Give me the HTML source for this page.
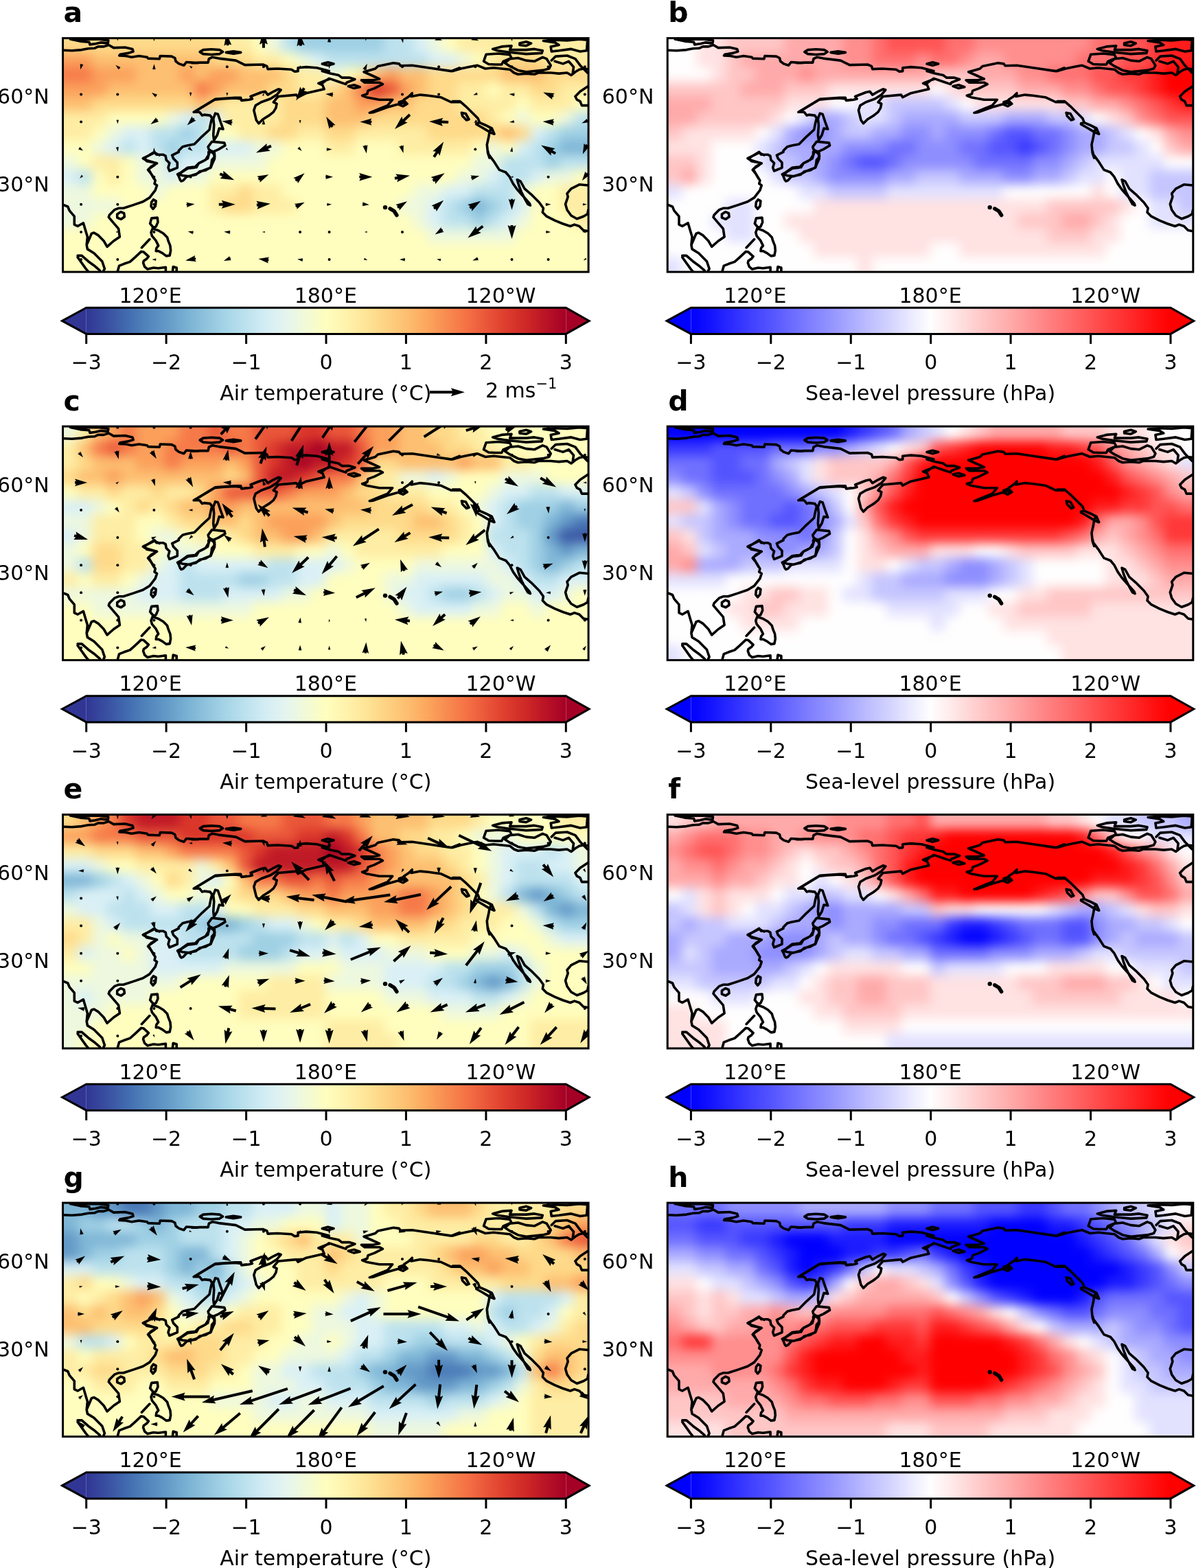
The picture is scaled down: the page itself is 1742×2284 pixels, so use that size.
<!DOCTYPE html><html><head><meta charset="utf-8"><style>
html,body{margin:0;padding:0;background:#fff;}
svg{display:block;}
text{font-family:'DejaVu Sans', 'Liberation Sans', sans-serif;fill:#000;}
rect.c,g[filter] rect{width:21.9px;height:21.9px;}
</style></head><body>
<svg xmlns="http://www.w3.org/2000/svg" xmlns:xlink="http://www.w3.org/1999/xlink" width="1742" height="2284" viewBox="0 0 1742 2284">
<defs>
<linearGradient id="gt" x1="0" x2="1" y1="0" y2="0"><stop offset="0.0%" stop-color="#313695"/><stop offset="4.2%" stop-color="#394fa1"/><stop offset="8.3%" stop-color="#416aaf"/><stop offset="12.5%" stop-color="#5183bb"/><stop offset="16.7%" stop-color="#6399c7"/><stop offset="20.8%" stop-color="#78b0d3"/><stop offset="25.0%" stop-color="#90c3dd"/><stop offset="29.2%" stop-color="#a6d5e7"/><stop offset="33.3%" stop-color="#bde2ee"/><stop offset="37.5%" stop-color="#d4edf4"/><stop offset="41.7%" stop-color="#e5f5ef"/><stop offset="45.8%" stop-color="#f2fad6"/><stop offset="50.0%" stop-color="#fffebe"/><stop offset="54.2%" stop-color="#fff2ac"/><stop offset="58.3%" stop-color="#fee597"/><stop offset="62.5%" stop-color="#fed283"/><stop offset="66.7%" stop-color="#fdbf71"/><stop offset="70.8%" stop-color="#fca85e"/><stop offset="75.0%" stop-color="#f88c51"/><stop offset="79.2%" stop-color="#f57245"/><stop offset="83.3%" stop-color="#ea5739"/><stop offset="87.5%" stop-color="#dd3d2d"/><stop offset="91.7%" stop-color="#ce2827"/><stop offset="95.8%" stop-color="#b91326"/><stop offset="100.0%" stop-color="#a50026"/></linearGradient>
<linearGradient id="gp" x1="0" x2="1" y1="0" y2="0"><stop offset="0.0%" stop-color="#0000ff"/><stop offset="4.2%" stop-color="#1414ff"/><stop offset="8.3%" stop-color="#2a2aff"/><stop offset="12.5%" stop-color="#4040ff"/><stop offset="16.7%" stop-color="#5454ff"/><stop offset="20.8%" stop-color="#6a6aff"/><stop offset="25.0%" stop-color="#8080ff"/><stop offset="29.2%" stop-color="#9494ff"/><stop offset="33.3%" stop-color="#aaaaff"/><stop offset="37.5%" stop-color="#c0c0ff"/><stop offset="41.7%" stop-color="#d4d4ff"/><stop offset="45.8%" stop-color="#eaeaff"/><stop offset="50.0%" stop-color="#fffefe"/><stop offset="54.2%" stop-color="#ffeaea"/><stop offset="58.3%" stop-color="#ffd4d4"/><stop offset="62.5%" stop-color="#ffbebe"/><stop offset="66.7%" stop-color="#ffaaaa"/><stop offset="70.8%" stop-color="#ff9494"/><stop offset="75.0%" stop-color="#ff7e7e"/><stop offset="79.2%" stop-color="#ff6a6a"/><stop offset="83.3%" stop-color="#ff5454"/><stop offset="87.5%" stop-color="#ff3e3e"/><stop offset="91.7%" stop-color="#ff2a2a"/><stop offset="95.8%" stop-color="#ff1414"/><stop offset="100.0%" stop-color="#ff0000"/></linearGradient>
<path id="coast" d="M1.4,17.6 13.3,18.2 27.6,17.0 37.1,15.2 46.6,14.6 51.4,12.3 59.7,12.3 66.8,9.9 74.0,14.0 90.7,13.4 101.4,15.8 102.6,19.4 95.4,21.8 83.5,23.6 82.3,25.4 91.8,25.9 100.2,27.7 110.9,25.9 122.8,27.7 124.0,29.5 140.7,30.1 141.8,25.9 158.5,26.5 163.3,28.9 164.5,33.7 169.2,37.3 176.4,39.6 179.9,34.9 188.3,35.5 197.8,36.1M187.8,36.1 199.7,35.5 211.6,35.5 212.8,30.1 217.6,27.7 227.1,29.5 252.1,32.5 265.2,39.0 291.4,38.4 297.3,40.8 298.5,45.0 312.8,44.4 333.0,45.6 337.8,48.6 342.6,48.0 342.6,43.2 354.5,42.0 369.9,43.2 387.8,48.0M377.8,48.0 389.7,51.5 401.6,53.9 406.4,57.5 417.1,57.5 425.4,59.9 419.5,62.3 413.5,64.6 412.3,67.0 401.6,63.4 389.7,59.3 383.8,61.1 377.8,65.8M10.9,1.3 25.2,4.5 38.3,5.7 39.5,9.3 47.8,8.1 54.9,6.3 65.7,7.5 66.3,3.3 53.8,1.5 33.5,1.5 10.9,1.3ZM199.7,20.0 204.5,17.0 216.4,16.1 228.3,17.0 233.0,20.0 228.3,23.0 216.4,23.9 204.5,23.0 199.7,20.0ZM237.8,20.8 248.5,19.2 259.2,20.8 248.5,22.7 237.8,20.8ZM377.8,37.5 386.1,35.1 394.5,37.5 386.1,39.6 377.8,37.5ZM415.9,70.0 424.2,68.2 432.6,71.2 424.2,73.0 415.9,70.0ZM191.4,107.5 221.1,89.6 233.0,88.4 250.9,87.3 259.2,88.4 260.4,90.8 271.1,89.6 275.9,88.4 273.5,84.9 289.0,78.9 294.9,77.7 298.5,82.5 306.8,77.7 314.0,74.2 317.6,75.4 311.6,82.5 302.1,88.4 289.0,93.2 280.7,98.0 278.3,105.1 281.8,119.4 285.4,124.2 291.4,118.2 300.9,112.3 306.8,107.5 310.4,101.5 311.6,95.6 306.8,93.2 311.6,87.3 314.0,84.9 340.2,82.5 342.6,86.1 354.5,80.1 380.7,74.2 378.3,68.2 372.3,65.8 384.2,61.1 387.8,58.7M190.7,107.7 199.2,107.7 203.0,112.5 205.9,111.5 214.5,112.5 217.3,116.3 215.4,123.9 213.5,133.4 203.0,143.0 191.6,154.4 181.1,156.3 174.5,158.2 168.8,163.9 168.8,165.8 159.2,170.6 161.1,175.4 166.8,181.1 166.8,188.7 155.4,193.4 153.5,188.7 155.4,182.0 150.7,177.3 149.7,171.5 145.9,169.6 136.4,169.6 133.5,165.8 119.2,174.4 122.1,179.2 136.4,182.0 133.5,184.9 124.9,190.6 126.8,194.4 132.6,204.4M190.7,107.7 222.1,88.7 250.7,86.8 259.2,86.8 260.2,90.6 267.8,89.6M222.1,109.6 225.9,110.6 229.7,122.0 233.5,132.5 227.8,131.5 224.9,141.1 220.2,148.7 219.2,141.1 220.2,126.8 219.2,117.3 222.1,109.6ZM217.3,150.6 225.9,151.5 235.4,152.5 236.4,156.3 226.8,162.0 218.3,165.8 212.6,162.0 211.6,158.2 217.3,150.6ZM214.5,163.9 220.2,168.7 221.1,175.4 217.3,183.9 215.4,188.7 203.0,193.4 193.5,198.2 184.0,201.1 174.5,200.1 168.8,198.2 174.5,194.4 182.1,189.6 191.6,188.7 198.3,182.0 207.8,177.3 212.6,169.6 214.5,163.9ZM167.1,198.3 172.4,195.4 181.4,188.8 189.7,187.6 194.5,188.2 198.0,182.3 205.2,178.7 211.1,175.1 212.3,170.4 212.3,165.6 217.1,164.4 220.7,166.2 221.3,172.7 217.1,177.5 216.5,182.9 215.3,188.2 208.2,192.4 199.2,194.2 193.9,198.9 187.3,200.1 180.2,201.9 175.4,207.3 172.4,208.4 170.7,206.1 168.9,201.3 167.1,198.3ZM116.8,175.1 120.4,177.5 128.8,179.9 137.1,182.3 128.8,187.0 124.0,191.8 128.8,197.7 134.7,207.3 133.5,212.0 137.1,214.4 134.7,221.5 126.4,232.3 116.8,238.2 102.6,243.0 88.3,247.7 81.1,247.7 75.2,250.1 68.0,257.3 66.8,260.8 74.0,269.2 81.1,277.5 82.9,289.4 74.0,295.4 64.5,303.7 59.7,295.4 51.4,287.0 45.4,283.4 41.8,284.6 38.3,293.0 34.7,301.3 35.9,307.3 45.4,313.2 57.3,325.1 60.9,335.8 58.5,340.6M116.8,175.1 124.0,171.5 133.5,166.8 140.7,170.4M1.4,243.0 7.3,245.4 9.7,251.3 16.8,259.6 16.8,271.5 21.6,273.9 29.9,269.2 32.3,277.5 35.9,289.4 34.7,301.3M21.6,316.8 27.6,316.8 37.1,325.1 45.4,331.1 53.8,338.2 57.3,344.4 40.7,344.4 33.5,335.8 21.6,319.2M132.1,235.1 135.7,237.3 134.9,244.4 131.4,248.7 128.5,245.1 129.2,238.7 132.1,235.1ZM84.6,253.0 89.2,255.1 89.9,260.1 84.9,263.7 79.2,261.5 79.2,256.5 84.6,253.0ZM129.2,262.3 137.8,261.5 138.5,268.0 135.7,274.4 133.5,275.8 130.7,274.4 127.1,270.1 129.2,262.3ZM130.7,277.3 139.2,280.1 146.4,284.4 152.1,290.1 153.5,295.1 156.4,302.3 157.1,309.4 155.7,316.5 150.7,317.3 144.9,313.0 139.2,310.1 135.7,310.1 136.4,305.8 139.2,302.3 135.7,295.1 129.9,288.0 128.5,283.0 130.7,277.3ZM114.9,305.1 126.4,293.0M79.9,339.4 82.1,331.5 89.2,328.7 97.8,325.8 105.7,318.7 114.2,310.8 117.8,311.5 124.9,318.0 122.1,321.5 117.8,324.4 117.1,327.3 119.2,333.0 123.5,336.5 132.1,334.4 139.2,335.1 149.9,333.7 149.9,339.4M159.9,340.1 160.7,333.0 165.7,334.4 165.7,340.1M577.8,43.2 565.9,48.0 532.6,43.2 508.8,39.6 492.1,40.2 489.7,37.3 481.4,36.1 458.8,40.8 455.2,44.4 446.8,46.8 438.5,49.2 449.2,53.9 461.1,59.3 451.6,61.1 434.9,61.1 439.7,64.6 461.1,64.6 465.9,67.0 454.0,73.0 444.5,76.5 443.3,81.3 436.1,83.7 442.1,86.1 461.1,89.6 480.2,89.6 473.0,98.0 461.1,102.7 446.8,108.7 451.6,108.1 475.4,99.8 494.5,94.4 499.2,95.6 496.8,89.6 504.0,84.9 508.8,80.1 507.6,84.9 520.7,82.5 532.6,83.7 550.4,86.1 565.9,93.2 577.8,93.2M489.7,93.2 496.8,90.8 501.6,95.6 495.7,99.2 489.7,96.8 489.7,93.2ZM567.8,48.0 579.7,44.4 591.6,42.0 603.5,39.6 615.4,44.4 627.3,43.2 639.2,44.4 651.1,45.6 657.1,50.4 663.0,52.7 674.9,51.5 686.8,52.7 692.8,50.4 710.7,50.4 722.6,51.5 734.5,50.4 740.4,53.9 746.4,49.2 752.3,45.6 758.3,44.4 767.8,45.6M613.0,33.7 616.6,23.6 634.5,22.4 651.1,24.2 653.5,28.9 641.6,33.7 639.2,38.4 629.7,38.4 620.2,37.9 613.0,33.7ZM644.0,36.1 651.1,30.1 663.0,28.9 674.9,32.5 686.8,33.7 698.8,27.7 704.7,30.1 710.7,39.6 708.3,44.4 698.8,46.8 686.8,48.0 674.9,49.2 663.0,46.8 651.1,40.8 644.0,36.1ZM626.1,15.8 639.2,12.3 653.5,11.1 651.1,17.0 674.9,17.0 686.8,15.8 698.8,18.2 697.6,21.8 674.9,23.0 651.1,20.6 633.3,18.2 626.1,15.8ZM665.4,7.5 674.9,5.1 682.1,7.5 674.9,11.1 665.4,9.9 665.4,7.5ZM699.9,3.9 716.6,2.7 734.5,3.3 752.3,1.5 764.2,2.7 763.0,18.2 753.5,19.4 740.4,15.8 722.6,18.2 711.8,19.4 710.7,12.3 722.6,9.9 716.6,6.3 699.9,3.9ZM711.8,32.5 717.8,26.5 734.5,25.4 746.4,30.1 753.5,39.6 760.7,46.8 764.2,50.4M716.6,33.7 728.5,37.3 736.8,33.7 744.0,42.0 742.8,50.4M767.8,68.2 753.5,77.7 746.4,84.9 748.8,89.6 753.5,92.0 755.9,98.0 767.8,98.0M567.8,92.0 578.5,92.0 586.8,99.2 596.4,108.7 604.7,117.0 607.1,123.0 617.8,127.7 623.8,131.3 621.4,137.3 620.2,144.4 617.8,155.1 619.0,167.0 621.4,174.4M602.3,124.2 607.1,123.0 615.4,126.5 624.9,131.3 628.5,139.6 622.6,137.3 610.7,130.1 602.3,125.4ZM580.9,108.7 586.8,109.9 591.6,118.2 588.0,119.4 582.1,113.4 580.9,108.7ZM619.0,164.4 620.2,169.2 627.3,178.7 635.7,191.8 645.2,195.4 650.8,202.1 655.9,212.0 661.8,220.4 670.2,229.9 679.7,240.6 680.9,243.6 677.3,241.8 672.6,233.4 667.8,223.9 664.2,214.4 661.8,206.1 666.6,208.4 672.6,219.2 682.1,227.5 694.0,239.4 699.9,247.7 698.8,253.7 704.7,259.6 716.6,265.6 728.5,270.4 739.2,273.9 745.2,271.5 752.3,273.9 758.3,279.9 765.4,281.1M765.4,214.4 752.3,213.2 740.4,219.2 734.5,226.3 735.7,231.1 732.1,241.8 734.5,250.1 740.4,258.4 748.8,263.2 758.3,259.6 764.2,256.1 765.4,250.1" fill="none" stroke="#000" stroke-width="3.6" stroke-linejoin="round" stroke-linecap="round"/>
<filter id="blur" filterUnits="userSpaceOnUse" x="-40" y="-40" width="845.6" height="420.5" color-interpolation-filters="sRGB"><feGaussianBlur stdDeviation="8"/></filter>
<clipPath id="axclip"><rect x="0" y="0" width="765.6" height="340.5"/></clipPath>
</defs>
<rect width="1742" height="2284" fill="#fff"/>

<g transform="translate(91.50,55.60)">
<g clip-path="url(#axclip)">
<g filter="url(#blur)"><rect x="-21.3" y="-21.3" fill="#feda8a"/><rect x="0.0" y="-21.3" fill="#feda8a"/><rect x="21.3" y="-21.3" fill="#feda8a"/><rect x="42.5" y="-21.3" fill="#feda8a"/><rect x="63.8" y="-21.3" fill="#feda8a"/><rect x="85.1" y="-21.3" fill="#feda8a"/><rect x="106.3" y="-21.3" fill="#feda8a"/><rect x="127.6" y="-21.3" fill="#feda8a"/><rect x="148.9" y="-21.3" fill="#feda8a"/><rect x="170.1" y="-21.3" fill="#feda8a"/><rect x="191.4" y="-21.3" fill="#feda8a"/><rect x="212.7" y="-21.3" fill="#feda8a"/><rect x="233.9" y="-21.3" fill="#feeda4"/><rect x="255.2" y="-21.3" fill="#feeda4"/><rect x="276.5" y="-21.3" fill="#fffebe"/><rect x="297.7" y="-21.3" fill="#edf8df"/><rect x="319.0" y="-21.3" fill="#bde2ee"/><rect x="340.3" y="-21.3" fill="#9fd0e4"/><rect x="361.5" y="-21.3" fill="#9fd0e4"/><rect x="382.8" y="-21.3" fill="#9fd0e4"/><rect x="404.1" y="-21.3" fill="#9fd0e4"/><rect x="425.3" y="-21.3" fill="#9fd0e4"/><rect x="446.6" y="-21.3" fill="#9fd0e4"/><rect x="467.9" y="-21.3" fill="#bde2ee"/><rect x="489.1" y="-21.3" fill="#bde2ee"/><rect x="510.4" y="-21.3" fill="#daf0f6"/><rect x="531.7" y="-21.3" fill="#edf8df"/><rect x="552.9" y="-21.3" fill="#fffebe"/><rect x="574.2" y="-21.3" fill="#feeda4"/><rect x="595.5" y="-21.3" fill="#feeda4"/><rect x="616.7" y="-21.3" fill="#feeda4"/><rect x="638.0" y="-21.3" fill="#feeda4"/><rect x="659.3" y="-21.3" fill="#feeda4"/><rect x="680.5" y="-21.3" fill="#feeda4"/><rect x="701.8" y="-21.3" fill="#feeda4"/><rect x="723.1" y="-21.3" fill="#feeda4"/><rect x="744.3" y="-21.3" fill="#feeda4"/><rect x="765.6" y="-21.3" fill="#feeda4"/><rect x="-21.3" y="0.0" fill="#feda8a"/><rect x="0.0" y="0.0" fill="#feda8a"/><rect x="21.3" y="0.0" fill="#feda8a"/><rect x="42.5" y="0.0" fill="#feda8a"/><rect x="63.8" y="0.0" fill="#feda8a"/><rect x="85.1" y="0.0" fill="#feda8a"/><rect x="106.3" y="0.0" fill="#feda8a"/><rect x="127.6" y="0.0" fill="#feda8a"/><rect x="148.9" y="0.0" fill="#feda8a"/><rect x="170.1" y="0.0" fill="#feda8a"/><rect x="191.4" y="0.0" fill="#feda8a"/><rect x="212.7" y="0.0" fill="#feda8a"/><rect x="233.9" y="0.0" fill="#feeda4"/><rect x="255.2" y="0.0" fill="#feeda4"/><rect x="276.5" y="0.0" fill="#fffebe"/><rect x="297.7" y="0.0" fill="#edf8df"/><rect x="319.0" y="0.0" fill="#bde2ee"/><rect x="340.3" y="0.0" fill="#9fd0e4"/><rect x="361.5" y="0.0" fill="#9fd0e4"/><rect x="382.8" y="0.0" fill="#9fd0e4"/><rect x="404.1" y="0.0" fill="#9fd0e4"/><rect x="425.3" y="0.0" fill="#9fd0e4"/><rect x="446.6" y="0.0" fill="#9fd0e4"/><rect x="467.9" y="0.0" fill="#bde2ee"/><rect x="489.1" y="0.0" fill="#bde2ee"/><rect x="510.4" y="0.0" fill="#daf0f6"/><rect x="531.7" y="0.0" fill="#edf8df"/><rect x="552.9" y="0.0" fill="#fffebe"/><rect x="574.2" y="0.0" fill="#feeda4"/><rect x="595.5" y="0.0" fill="#feeda4"/><rect x="616.7" y="0.0" fill="#feeda4"/><rect x="638.0" y="0.0" fill="#feeda4"/><rect x="659.3" y="0.0" fill="#feeda4"/><rect x="680.5" y="0.0" fill="#feeda4"/><rect x="701.8" y="0.0" fill="#feeda4"/><rect x="723.1" y="0.0" fill="#feeda4"/><rect x="744.3" y="0.0" fill="#feeda4"/><rect x="765.6" y="0.0" fill="#feeda4"/><rect x="-21.3" y="21.3" fill="#fba05b"/><rect x="0.0" y="21.3" fill="#fba05b"/><rect x="21.3" y="21.3" fill="#fba05b"/><rect x="42.5" y="21.3" fill="#fdbf71"/><rect x="63.8" y="21.3" fill="#fdbf71"/><rect x="85.1" y="21.3" fill="#fdbf71"/><rect x="106.3" y="21.3" fill="#fdbf71"/><rect x="127.6" y="21.3" fill="#fdbf71"/><rect x="148.9" y="21.3" fill="#fdbf71"/><rect x="170.1" y="21.3" fill="#fdbf71"/><rect x="191.4" y="21.3" fill="#fdbf71"/><rect x="212.7" y="21.3" fill="#feda8a"/><rect x="233.9" y="21.3" fill="#feda8a"/><rect x="255.2" y="21.3" fill="#feda8a"/><rect x="276.5" y="21.3" fill="#feeda4"/><rect x="297.7" y="21.3" fill="#feeda4"/><rect x="319.0" y="21.3" fill="#fffebe"/><rect x="340.3" y="21.3" fill="#edf8df"/><rect x="361.5" y="21.3" fill="#daf0f6"/><rect x="382.8" y="21.3" fill="#bde2ee"/><rect x="404.1" y="21.3" fill="#bde2ee"/><rect x="425.3" y="21.3" fill="#bde2ee"/><rect x="446.6" y="21.3" fill="#bde2ee"/><rect x="467.9" y="21.3" fill="#bde2ee"/><rect x="489.1" y="21.3" fill="#bde2ee"/><rect x="510.4" y="21.3" fill="#bde2ee"/><rect x="531.7" y="21.3" fill="#daf0f6"/><rect x="552.9" y="21.3" fill="#daf0f6"/><rect x="574.2" y="21.3" fill="#edf8df"/><rect x="595.5" y="21.3" fill="#fffebe"/><rect x="616.7" y="21.3" fill="#feeda4"/><rect x="638.0" y="21.3" fill="#feda8a"/><rect x="659.3" y="21.3" fill="#feda8a"/><rect x="680.5" y="21.3" fill="#feda8a"/><rect x="701.8" y="21.3" fill="#feeda4"/><rect x="723.1" y="21.3" fill="#feeda4"/><rect x="744.3" y="21.3" fill="#feeda4"/><rect x="765.6" y="21.3" fill="#feeda4"/><rect x="-21.3" y="42.6" fill="#f67a49"/><rect x="0.0" y="42.6" fill="#f67a49"/><rect x="21.3" y="42.6" fill="#f67a49"/><rect x="42.5" y="42.6" fill="#fba05b"/><rect x="63.8" y="42.6" fill="#fba05b"/><rect x="85.1" y="42.6" fill="#fba05b"/><rect x="106.3" y="42.6" fill="#fdbf71"/><rect x="127.6" y="42.6" fill="#fdbf71"/><rect x="148.9" y="42.6" fill="#fdbf71"/><rect x="170.1" y="42.6" fill="#fba05b"/><rect x="191.4" y="42.6" fill="#fdbf71"/><rect x="212.7" y="42.6" fill="#fba05b"/><rect x="233.9" y="42.6" fill="#fba05b"/><rect x="255.2" y="42.6" fill="#fdbf71"/><rect x="276.5" y="42.6" fill="#fdbf71"/><rect x="297.7" y="42.6" fill="#fdbf71"/><rect x="319.0" y="42.6" fill="#feda8a"/><rect x="340.3" y="42.6" fill="#feeda4"/><rect x="361.5" y="42.6" fill="#feeda4"/><rect x="382.8" y="42.6" fill="#edf8df"/><rect x="404.1" y="42.6" fill="#fffebe"/><rect x="425.3" y="42.6" fill="#feeda4"/><rect x="446.6" y="42.6" fill="#fdbf71"/><rect x="467.9" y="42.6" fill="#fba05b"/><rect x="489.1" y="42.6" fill="#fdbf71"/><rect x="510.4" y="42.6" fill="#fdbf71"/><rect x="531.7" y="42.6" fill="#feda8a"/><rect x="552.9" y="42.6" fill="#feda8a"/><rect x="574.2" y="42.6" fill="#feda8a"/><rect x="595.5" y="42.6" fill="#feda8a"/><rect x="616.7" y="42.6" fill="#feda8a"/><rect x="638.0" y="42.6" fill="#fdbf71"/><rect x="659.3" y="42.6" fill="#fdbf71"/><rect x="680.5" y="42.6" fill="#fdbf71"/><rect x="701.8" y="42.6" fill="#feda8a"/><rect x="723.1" y="42.6" fill="#feda8a"/><rect x="744.3" y="42.6" fill="#feda8a"/><rect x="765.6" y="42.6" fill="#feda8a"/><rect x="-21.3" y="63.8" fill="#fba05b"/><rect x="0.0" y="63.8" fill="#fba05b"/><rect x="21.3" y="63.8" fill="#fba05b"/><rect x="42.5" y="63.8" fill="#fba05b"/><rect x="63.8" y="63.8" fill="#fdbf71"/><rect x="85.1" y="63.8" fill="#fdbf71"/><rect x="106.3" y="63.8" fill="#fdbf71"/><rect x="127.6" y="63.8" fill="#fdbf71"/><rect x="148.9" y="63.8" fill="#fdbf71"/><rect x="170.1" y="63.8" fill="#fdbf71"/><rect x="191.4" y="63.8" fill="#f67a49"/><rect x="212.7" y="63.8" fill="#fba05b"/><rect x="233.9" y="63.8" fill="#fdbf71"/><rect x="255.2" y="63.8" fill="#fdbf71"/><rect x="276.5" y="63.8" fill="#fdbf71"/><rect x="297.7" y="63.8" fill="#feda8a"/><rect x="319.0" y="63.8" fill="#feda8a"/><rect x="340.3" y="63.8" fill="#feeda4"/><rect x="361.5" y="63.8" fill="#feeda4"/><rect x="382.8" y="63.8" fill="#feda8a"/><rect x="404.1" y="63.8" fill="#fdbf71"/><rect x="425.3" y="63.8" fill="#f67a49"/><rect x="446.6" y="63.8" fill="#da362a"/><rect x="467.9" y="63.8" fill="#ea5739"/><rect x="489.1" y="63.8" fill="#fba05b"/><rect x="510.4" y="63.8" fill="#fdbf71"/><rect x="531.7" y="63.8" fill="#feda8a"/><rect x="552.9" y="63.8" fill="#feda8a"/><rect x="574.2" y="63.8" fill="#feeda4"/><rect x="595.5" y="63.8" fill="#feeda4"/><rect x="616.7" y="63.8" fill="#fffebe"/><rect x="638.0" y="63.8" fill="#feeda4"/><rect x="659.3" y="63.8" fill="#feeda4"/><rect x="680.5" y="63.8" fill="#feda8a"/><rect x="701.8" y="63.8" fill="#feda8a"/><rect x="723.1" y="63.8" fill="#feeda4"/><rect x="744.3" y="63.8" fill="#feeda4"/><rect x="765.6" y="63.8" fill="#feeda4"/><rect x="-21.3" y="85.1" fill="#fdbf71"/><rect x="0.0" y="85.1" fill="#fdbf71"/><rect x="21.3" y="85.1" fill="#fdbf71"/><rect x="42.5" y="85.1" fill="#feda8a"/><rect x="63.8" y="85.1" fill="#feda8a"/><rect x="85.1" y="85.1" fill="#feda8a"/><rect x="106.3" y="85.1" fill="#feda8a"/><rect x="127.6" y="85.1" fill="#feda8a"/><rect x="148.9" y="85.1" fill="#feda8a"/><rect x="170.1" y="85.1" fill="#feda8a"/><rect x="191.4" y="85.1" fill="#fdbf71"/><rect x="212.7" y="85.1" fill="#feda8a"/><rect x="233.9" y="85.1" fill="#feeda4"/><rect x="255.2" y="85.1" fill="#feeda4"/><rect x="276.5" y="85.1" fill="#feeda4"/><rect x="297.7" y="85.1" fill="#feeda4"/><rect x="319.0" y="85.1" fill="#feda8a"/><rect x="340.3" y="85.1" fill="#feda8a"/><rect x="361.5" y="85.1" fill="#feda8a"/><rect x="382.8" y="85.1" fill="#fdbf71"/><rect x="404.1" y="85.1" fill="#fdbf71"/><rect x="425.3" y="85.1" fill="#fba05b"/><rect x="446.6" y="85.1" fill="#fba05b"/><rect x="467.9" y="85.1" fill="#fdbf71"/><rect x="489.1" y="85.1" fill="#fdbf71"/><rect x="510.4" y="85.1" fill="#feda8a"/><rect x="531.7" y="85.1" fill="#feda8a"/><rect x="552.9" y="85.1" fill="#feda8a"/><rect x="574.2" y="85.1" fill="#feeda4"/><rect x="595.5" y="85.1" fill="#feeda4"/><rect x="616.7" y="85.1" fill="#feeda4"/><rect x="638.0" y="85.1" fill="#feeda4"/><rect x="659.3" y="85.1" fill="#fffebe"/><rect x="680.5" y="85.1" fill="#feeda4"/><rect x="701.8" y="85.1" fill="#feeda4"/><rect x="723.1" y="85.1" fill="#feeda4"/><rect x="744.3" y="85.1" fill="#fffebe"/><rect x="765.6" y="85.1" fill="#fffebe"/><rect x="-21.3" y="106.4" fill="#feeda4"/><rect x="0.0" y="106.4" fill="#feeda4"/><rect x="21.3" y="106.4" fill="#feeda4"/><rect x="42.5" y="106.4" fill="#feeda4"/><rect x="63.8" y="106.4" fill="#fffebe"/><rect x="85.1" y="106.4" fill="#fffebe"/><rect x="106.3" y="106.4" fill="#fffebe"/><rect x="127.6" y="106.4" fill="#fffebe"/><rect x="148.9" y="106.4" fill="#edf8df"/><rect x="170.1" y="106.4" fill="#daf0f6"/><rect x="191.4" y="106.4" fill="#bde2ee"/><rect x="212.7" y="106.4" fill="#daf0f6"/><rect x="233.9" y="106.4" fill="#feeda4"/><rect x="255.2" y="106.4" fill="#feeda4"/><rect x="276.5" y="106.4" fill="#feeda4"/><rect x="297.7" y="106.4" fill="#feeda4"/><rect x="319.0" y="106.4" fill="#feda8a"/><rect x="340.3" y="106.4" fill="#feda8a"/><rect x="361.5" y="106.4" fill="#feda8a"/><rect x="382.8" y="106.4" fill="#fdbf71"/><rect x="404.1" y="106.4" fill="#fdbf71"/><rect x="425.3" y="106.4" fill="#fdbf71"/><rect x="446.6" y="106.4" fill="#feda8a"/><rect x="467.9" y="106.4" fill="#feda8a"/><rect x="489.1" y="106.4" fill="#feda8a"/><rect x="510.4" y="106.4" fill="#feda8a"/><rect x="531.7" y="106.4" fill="#feda8a"/><rect x="552.9" y="106.4" fill="#feda8a"/><rect x="574.2" y="106.4" fill="#feda8a"/><rect x="595.5" y="106.4" fill="#feda8a"/><rect x="616.7" y="106.4" fill="#feeda4"/><rect x="638.0" y="106.4" fill="#fffebe"/><rect x="659.3" y="106.4" fill="#edf8df"/><rect x="680.5" y="106.4" fill="#fffebe"/><rect x="701.8" y="106.4" fill="#fffebe"/><rect x="723.1" y="106.4" fill="#edf8df"/><rect x="744.3" y="106.4" fill="#bde2ee"/><rect x="765.6" y="106.4" fill="#bde2ee"/><rect x="-21.3" y="127.7" fill="#feeda4"/><rect x="0.0" y="127.7" fill="#feeda4"/><rect x="21.3" y="127.7" fill="#feeda4"/><rect x="42.5" y="127.7" fill="#fffebe"/><rect x="63.8" y="127.7" fill="#edf8df"/><rect x="85.1" y="127.7" fill="#daf0f6"/><rect x="106.3" y="127.7" fill="#daf0f6"/><rect x="127.6" y="127.7" fill="#bde2ee"/><rect x="148.9" y="127.7" fill="#bde2ee"/><rect x="170.1" y="127.7" fill="#9fd0e4"/><rect x="191.4" y="127.7" fill="#bde2ee"/><rect x="212.7" y="127.7" fill="#fffebe"/><rect x="233.9" y="127.7" fill="#fffebe"/><rect x="255.2" y="127.7" fill="#feeda4"/><rect x="276.5" y="127.7" fill="#feeda4"/><rect x="297.7" y="127.7" fill="#feda8a"/><rect x="319.0" y="127.7" fill="#feda8a"/><rect x="340.3" y="127.7" fill="#feeda4"/><rect x="361.5" y="127.7" fill="#feeda4"/><rect x="382.8" y="127.7" fill="#feda8a"/><rect x="404.1" y="127.7" fill="#feda8a"/><rect x="425.3" y="127.7" fill="#feeda4"/><rect x="446.6" y="127.7" fill="#feeda4"/><rect x="467.9" y="127.7" fill="#feeda4"/><rect x="489.1" y="127.7" fill="#feeda4"/><rect x="510.4" y="127.7" fill="#feeda4"/><rect x="531.7" y="127.7" fill="#feda8a"/><rect x="552.9" y="127.7" fill="#feda8a"/><rect x="574.2" y="127.7" fill="#feda8a"/><rect x="595.5" y="127.7" fill="#feda8a"/><rect x="616.7" y="127.7" fill="#feda8a"/><rect x="638.0" y="127.7" fill="#fdbf71"/><rect x="659.3" y="127.7" fill="#feda8a"/><rect x="680.5" y="127.7" fill="#daf0f6"/><rect x="701.8" y="127.7" fill="#bde2ee"/><rect x="723.1" y="127.7" fill="#9fd0e4"/><rect x="744.3" y="127.7" fill="#9fd0e4"/><rect x="765.6" y="127.7" fill="#9fd0e4"/><rect x="-21.3" y="149.0" fill="#fffebe"/><rect x="0.0" y="149.0" fill="#fffebe"/><rect x="21.3" y="149.0" fill="#fffebe"/><rect x="42.5" y="149.0" fill="#edf8df"/><rect x="63.8" y="149.0" fill="#daf0f6"/><rect x="85.1" y="149.0" fill="#bde2ee"/><rect x="106.3" y="149.0" fill="#daf0f6"/><rect x="127.6" y="149.0" fill="#bde2ee"/><rect x="148.9" y="149.0" fill="#9fd0e4"/><rect x="170.1" y="149.0" fill="#bde2ee"/><rect x="191.4" y="149.0" fill="#bde2ee"/><rect x="212.7" y="149.0" fill="#daf0f6"/><rect x="233.9" y="149.0" fill="#daf0f6"/><rect x="255.2" y="149.0" fill="#daf0f6"/><rect x="276.5" y="149.0" fill="#edf8df"/><rect x="297.7" y="149.0" fill="#edf8df"/><rect x="319.0" y="149.0" fill="#fffebe"/><rect x="340.3" y="149.0" fill="#fffebe"/><rect x="361.5" y="149.0" fill="#fffebe"/><rect x="382.8" y="149.0" fill="#feeda4"/><rect x="404.1" y="149.0" fill="#feeda4"/><rect x="425.3" y="149.0" fill="#fffebe"/><rect x="446.6" y="149.0" fill="#fffebe"/><rect x="467.9" y="149.0" fill="#fffebe"/><rect x="489.1" y="149.0" fill="#feeda4"/><rect x="510.4" y="149.0" fill="#feeda4"/><rect x="531.7" y="149.0" fill="#feeda4"/><rect x="552.9" y="149.0" fill="#feeda4"/><rect x="574.2" y="149.0" fill="#feeda4"/><rect x="595.5" y="149.0" fill="#fffebe"/><rect x="616.7" y="149.0" fill="#edf8df"/><rect x="638.0" y="149.0" fill="#fffebe"/><rect x="659.3" y="149.0" fill="#daf0f6"/><rect x="680.5" y="149.0" fill="#bde2ee"/><rect x="701.8" y="149.0" fill="#9fd0e4"/><rect x="723.1" y="149.0" fill="#7fb6d6"/><rect x="744.3" y="149.0" fill="#7fb6d6"/><rect x="765.6" y="149.0" fill="#7fb6d6"/><rect x="-21.3" y="170.2" fill="#edf8df"/><rect x="0.0" y="170.2" fill="#edf8df"/><rect x="21.3" y="170.2" fill="#fffebe"/><rect x="42.5" y="170.2" fill="#feeda4"/><rect x="63.8" y="170.2" fill="#feeda4"/><rect x="85.1" y="170.2" fill="#fffebe"/><rect x="106.3" y="170.2" fill="#edf8df"/><rect x="127.6" y="170.2" fill="#edf8df"/><rect x="148.9" y="170.2" fill="#bde2ee"/><rect x="170.1" y="170.2" fill="#daf0f6"/><rect x="191.4" y="170.2" fill="#daf0f6"/><rect x="212.7" y="170.2" fill="#edf8df"/><rect x="233.9" y="170.2" fill="#edf8df"/><rect x="255.2" y="170.2" fill="#edf8df"/><rect x="276.5" y="170.2" fill="#edf8df"/><rect x="297.7" y="170.2" fill="#fffebe"/><rect x="319.0" y="170.2" fill="#fffebe"/><rect x="340.3" y="170.2" fill="#fffebe"/><rect x="361.5" y="170.2" fill="#fffebe"/><rect x="382.8" y="170.2" fill="#fffebe"/><rect x="404.1" y="170.2" fill="#fffebe"/><rect x="425.3" y="170.2" fill="#fffebe"/><rect x="446.6" y="170.2" fill="#fffebe"/><rect x="467.9" y="170.2" fill="#fffebe"/><rect x="489.1" y="170.2" fill="#fffebe"/><rect x="510.4" y="170.2" fill="#fffebe"/><rect x="531.7" y="170.2" fill="#fffebe"/><rect x="552.9" y="170.2" fill="#fffebe"/><rect x="574.2" y="170.2" fill="#fffebe"/><rect x="595.5" y="170.2" fill="#edf8df"/><rect x="616.7" y="170.2" fill="#edf8df"/><rect x="638.0" y="170.2" fill="#bde2ee"/><rect x="659.3" y="170.2" fill="#bde2ee"/><rect x="680.5" y="170.2" fill="#bde2ee"/><rect x="701.8" y="170.2" fill="#9fd0e4"/><rect x="723.1" y="170.2" fill="#bde2ee"/><rect x="744.3" y="170.2" fill="#bde2ee"/><rect x="765.6" y="170.2" fill="#bde2ee"/><rect x="-21.3" y="191.5" fill="#daf0f6"/><rect x="0.0" y="191.5" fill="#daf0f6"/><rect x="21.3" y="191.5" fill="#bde2ee"/><rect x="42.5" y="191.5" fill="#fffebe"/><rect x="63.8" y="191.5" fill="#feeda4"/><rect x="85.1" y="191.5" fill="#fffebe"/><rect x="106.3" y="191.5" fill="#edf8df"/><rect x="127.6" y="191.5" fill="#edf8df"/><rect x="148.9" y="191.5" fill="#daf0f6"/><rect x="170.1" y="191.5" fill="#edf8df"/><rect x="191.4" y="191.5" fill="#edf8df"/><rect x="212.7" y="191.5" fill="#fffebe"/><rect x="233.9" y="191.5" fill="#fffebe"/><rect x="255.2" y="191.5" fill="#fffebe"/><rect x="276.5" y="191.5" fill="#fffebe"/><rect x="297.7" y="191.5" fill="#fffebe"/><rect x="319.0" y="191.5" fill="#fffebe"/><rect x="340.3" y="191.5" fill="#fffebe"/><rect x="361.5" y="191.5" fill="#fffebe"/><rect x="382.8" y="191.5" fill="#fffebe"/><rect x="404.1" y="191.5" fill="#fffebe"/><rect x="425.3" y="191.5" fill="#fffebe"/><rect x="446.6" y="191.5" fill="#fffebe"/><rect x="467.9" y="191.5" fill="#fffebe"/><rect x="489.1" y="191.5" fill="#fffebe"/><rect x="510.4" y="191.5" fill="#fffebe"/><rect x="531.7" y="191.5" fill="#fffebe"/><rect x="552.9" y="191.5" fill="#fffebe"/><rect x="574.2" y="191.5" fill="#edf8df"/><rect x="595.5" y="191.5" fill="#edf8df"/><rect x="616.7" y="191.5" fill="#daf0f6"/><rect x="638.0" y="191.5" fill="#bde2ee"/><rect x="659.3" y="191.5" fill="#bde2ee"/><rect x="680.5" y="191.5" fill="#daf0f6"/><rect x="701.8" y="191.5" fill="#edf8df"/><rect x="723.1" y="191.5" fill="#edf8df"/><rect x="744.3" y="191.5" fill="#fffebe"/><rect x="765.6" y="191.5" fill="#fffebe"/><rect x="-21.3" y="212.8" fill="#edf8df"/><rect x="0.0" y="212.8" fill="#edf8df"/><rect x="21.3" y="212.8" fill="#edf8df"/><rect x="42.5" y="212.8" fill="#fffebe"/><rect x="63.8" y="212.8" fill="#fffebe"/><rect x="85.1" y="212.8" fill="#fffebe"/><rect x="106.3" y="212.8" fill="#fffebe"/><rect x="127.6" y="212.8" fill="#edf8df"/><rect x="148.9" y="212.8" fill="#fffebe"/><rect x="170.1" y="212.8" fill="#fffebe"/><rect x="191.4" y="212.8" fill="#fffebe"/><rect x="212.7" y="212.8" fill="#feeda4"/><rect x="233.9" y="212.8" fill="#feeda4"/><rect x="255.2" y="212.8" fill="#feda8a"/><rect x="276.5" y="212.8" fill="#feeda4"/><rect x="297.7" y="212.8" fill="#feeda4"/><rect x="319.0" y="212.8" fill="#fffebe"/><rect x="340.3" y="212.8" fill="#fffebe"/><rect x="361.5" y="212.8" fill="#fffebe"/><rect x="382.8" y="212.8" fill="#fffebe"/><rect x="404.1" y="212.8" fill="#fffebe"/><rect x="425.3" y="212.8" fill="#fffebe"/><rect x="446.6" y="212.8" fill="#fffebe"/><rect x="467.9" y="212.8" fill="#fffebe"/><rect x="489.1" y="212.8" fill="#fffebe"/><rect x="510.4" y="212.8" fill="#edf8df"/><rect x="531.7" y="212.8" fill="#edf8df"/><rect x="552.9" y="212.8" fill="#daf0f6"/><rect x="574.2" y="212.8" fill="#daf0f6"/><rect x="595.5" y="212.8" fill="#bde2ee"/><rect x="616.7" y="212.8" fill="#bde2ee"/><rect x="638.0" y="212.8" fill="#bde2ee"/><rect x="659.3" y="212.8" fill="#edf8df"/><rect x="680.5" y="212.8" fill="#fffebe"/><rect x="701.8" y="212.8" fill="#fffebe"/><rect x="723.1" y="212.8" fill="#feeda4"/><rect x="744.3" y="212.8" fill="#feeda4"/><rect x="765.6" y="212.8" fill="#feeda4"/><rect x="-21.3" y="234.1" fill="#edf8df"/><rect x="0.0" y="234.1" fill="#edf8df"/><rect x="21.3" y="234.1" fill="#edf8df"/><rect x="42.5" y="234.1" fill="#edf8df"/><rect x="63.8" y="234.1" fill="#edf8df"/><rect x="85.1" y="234.1" fill="#fffebe"/><rect x="106.3" y="234.1" fill="#fffebe"/><rect x="127.6" y="234.1" fill="#fffebe"/><rect x="148.9" y="234.1" fill="#fffebe"/><rect x="170.1" y="234.1" fill="#fffebe"/><rect x="191.4" y="234.1" fill="#fffebe"/><rect x="212.7" y="234.1" fill="#feeda4"/><rect x="233.9" y="234.1" fill="#feda8a"/><rect x="255.2" y="234.1" fill="#feda8a"/><rect x="276.5" y="234.1" fill="#feeda4"/><rect x="297.7" y="234.1" fill="#feeda4"/><rect x="319.0" y="234.1" fill="#feeda4"/><rect x="340.3" y="234.1" fill="#fffebe"/><rect x="361.5" y="234.1" fill="#fffebe"/><rect x="382.8" y="234.1" fill="#fffebe"/><rect x="404.1" y="234.1" fill="#fffebe"/><rect x="425.3" y="234.1" fill="#fffebe"/><rect x="446.6" y="234.1" fill="#fffebe"/><rect x="467.9" y="234.1" fill="#fffebe"/><rect x="489.1" y="234.1" fill="#edf8df"/><rect x="510.4" y="234.1" fill="#edf8df"/><rect x="531.7" y="234.1" fill="#daf0f6"/><rect x="552.9" y="234.1" fill="#bde2ee"/><rect x="574.2" y="234.1" fill="#9fd0e4"/><rect x="595.5" y="234.1" fill="#7fb6d6"/><rect x="616.7" y="234.1" fill="#9fd0e4"/><rect x="638.0" y="234.1" fill="#bde2ee"/><rect x="659.3" y="234.1" fill="#daf0f6"/><rect x="680.5" y="234.1" fill="#fffebe"/><rect x="701.8" y="234.1" fill="#fffebe"/><rect x="723.1" y="234.1" fill="#feeda4"/><rect x="744.3" y="234.1" fill="#feeda4"/><rect x="765.6" y="234.1" fill="#feeda4"/><rect x="-21.3" y="255.4" fill="#edf8df"/><rect x="0.0" y="255.4" fill="#edf8df"/><rect x="21.3" y="255.4" fill="#edf8df"/><rect x="42.5" y="255.4" fill="#fffebe"/><rect x="63.8" y="255.4" fill="#fffebe"/><rect x="85.1" y="255.4" fill="#fffebe"/><rect x="106.3" y="255.4" fill="#fffebe"/><rect x="127.6" y="255.4" fill="#fffebe"/><rect x="148.9" y="255.4" fill="#fffebe"/><rect x="170.1" y="255.4" fill="#fffebe"/><rect x="191.4" y="255.4" fill="#fffebe"/><rect x="212.7" y="255.4" fill="#fffebe"/><rect x="233.9" y="255.4" fill="#fffebe"/><rect x="255.2" y="255.4" fill="#fffebe"/><rect x="276.5" y="255.4" fill="#fffebe"/><rect x="297.7" y="255.4" fill="#fffebe"/><rect x="319.0" y="255.4" fill="#fffebe"/><rect x="340.3" y="255.4" fill="#fffebe"/><rect x="361.5" y="255.4" fill="#fffebe"/><rect x="382.8" y="255.4" fill="#fffebe"/><rect x="404.1" y="255.4" fill="#fffebe"/><rect x="425.3" y="255.4" fill="#fffebe"/><rect x="446.6" y="255.4" fill="#fffebe"/><rect x="467.9" y="255.4" fill="#fffebe"/><rect x="489.1" y="255.4" fill="#fffebe"/><rect x="510.4" y="255.4" fill="#edf8df"/><rect x="531.7" y="255.4" fill="#daf0f6"/><rect x="552.9" y="255.4" fill="#bde2ee"/><rect x="574.2" y="255.4" fill="#bde2ee"/><rect x="595.5" y="255.4" fill="#9fd0e4"/><rect x="616.7" y="255.4" fill="#bde2ee"/><rect x="638.0" y="255.4" fill="#daf0f6"/><rect x="659.3" y="255.4" fill="#edf8df"/><rect x="680.5" y="255.4" fill="#fffebe"/><rect x="701.8" y="255.4" fill="#fffebe"/><rect x="723.1" y="255.4" fill="#fffebe"/><rect x="744.3" y="255.4" fill="#feeda4"/><rect x="765.6" y="255.4" fill="#feeda4"/><rect x="-21.3" y="276.7" fill="#fffebe"/><rect x="0.0" y="276.7" fill="#fffebe"/><rect x="21.3" y="276.7" fill="#fffebe"/><rect x="42.5" y="276.7" fill="#fffebe"/><rect x="63.8" y="276.7" fill="#fffebe"/><rect x="85.1" y="276.7" fill="#fffebe"/><rect x="106.3" y="276.7" fill="#fffebe"/><rect x="127.6" y="276.7" fill="#fffebe"/><rect x="148.9" y="276.7" fill="#fffebe"/><rect x="170.1" y="276.7" fill="#fffebe"/><rect x="191.4" y="276.7" fill="#fffebe"/><rect x="212.7" y="276.7" fill="#fffebe"/><rect x="233.9" y="276.7" fill="#fffebe"/><rect x="255.2" y="276.7" fill="#fffebe"/><rect x="276.5" y="276.7" fill="#fffebe"/><rect x="297.7" y="276.7" fill="#fffebe"/><rect x="319.0" y="276.7" fill="#fffebe"/><rect x="340.3" y="276.7" fill="#fffebe"/><rect x="361.5" y="276.7" fill="#fffebe"/><rect x="382.8" y="276.7" fill="#fffebe"/><rect x="404.1" y="276.7" fill="#fffebe"/><rect x="425.3" y="276.7" fill="#fffebe"/><rect x="446.6" y="276.7" fill="#fffebe"/><rect x="467.9" y="276.7" fill="#fffebe"/><rect x="489.1" y="276.7" fill="#fffebe"/><rect x="510.4" y="276.7" fill="#fffebe"/><rect x="531.7" y="276.7" fill="#edf8df"/><rect x="552.9" y="276.7" fill="#edf8df"/><rect x="574.2" y="276.7" fill="#edf8df"/><rect x="595.5" y="276.7" fill="#edf8df"/><rect x="616.7" y="276.7" fill="#edf8df"/><rect x="638.0" y="276.7" fill="#edf8df"/><rect x="659.3" y="276.7" fill="#fffebe"/><rect x="680.5" y="276.7" fill="#fffebe"/><rect x="701.8" y="276.7" fill="#fffebe"/><rect x="723.1" y="276.7" fill="#fffebe"/><rect x="744.3" y="276.7" fill="#fffebe"/><rect x="765.6" y="276.7" fill="#fffebe"/><rect x="-21.3" y="297.9" fill="#fffebe"/><rect x="0.0" y="297.9" fill="#fffebe"/><rect x="21.3" y="297.9" fill="#fffebe"/><rect x="42.5" y="297.9" fill="#fffebe"/><rect x="63.8" y="297.9" fill="#fffebe"/><rect x="85.1" y="297.9" fill="#fffebe"/><rect x="106.3" y="297.9" fill="#fffebe"/><rect x="127.6" y="297.9" fill="#fffebe"/><rect x="148.9" y="297.9" fill="#fffebe"/><rect x="170.1" y="297.9" fill="#fffebe"/><rect x="191.4" y="297.9" fill="#fffebe"/><rect x="212.7" y="297.9" fill="#fffebe"/><rect x="233.9" y="297.9" fill="#fffebe"/><rect x="255.2" y="297.9" fill="#fffebe"/><rect x="276.5" y="297.9" fill="#fffebe"/><rect x="297.7" y="297.9" fill="#fffebe"/><rect x="319.0" y="297.9" fill="#fffebe"/><rect x="340.3" y="297.9" fill="#fffebe"/><rect x="361.5" y="297.9" fill="#fffebe"/><rect x="382.8" y="297.9" fill="#fffebe"/><rect x="404.1" y="297.9" fill="#fffebe"/><rect x="425.3" y="297.9" fill="#fffebe"/><rect x="446.6" y="297.9" fill="#fffebe"/><rect x="467.9" y="297.9" fill="#fffebe"/><rect x="489.1" y="297.9" fill="#fffebe"/><rect x="510.4" y="297.9" fill="#fffebe"/><rect x="531.7" y="297.9" fill="#fffebe"/><rect x="552.9" y="297.9" fill="#fffebe"/><rect x="574.2" y="297.9" fill="#fffebe"/><rect x="595.5" y="297.9" fill="#fffebe"/><rect x="616.7" y="297.9" fill="#fffebe"/><rect x="638.0" y="297.9" fill="#fffebe"/><rect x="659.3" y="297.9" fill="#fffebe"/><rect x="680.5" y="297.9" fill="#fffebe"/><rect x="701.8" y="297.9" fill="#fffebe"/><rect x="723.1" y="297.9" fill="#fffebe"/><rect x="744.3" y="297.9" fill="#fffebe"/><rect x="765.6" y="297.9" fill="#fffebe"/><rect x="-21.3" y="319.2" fill="#fffebe"/><rect x="0.0" y="319.2" fill="#fffebe"/><rect x="21.3" y="319.2" fill="#fffebe"/><rect x="42.5" y="319.2" fill="#fffebe"/><rect x="63.8" y="319.2" fill="#fffebe"/><rect x="85.1" y="319.2" fill="#fffebe"/><rect x="106.3" y="319.2" fill="#fffebe"/><rect x="127.6" y="319.2" fill="#fffebe"/><rect x="148.9" y="319.2" fill="#fffebe"/><rect x="170.1" y="319.2" fill="#fffebe"/><rect x="191.4" y="319.2" fill="#fffebe"/><rect x="212.7" y="319.2" fill="#fffebe"/><rect x="233.9" y="319.2" fill="#fffebe"/><rect x="255.2" y="319.2" fill="#fffebe"/><rect x="276.5" y="319.2" fill="#fffebe"/><rect x="297.7" y="319.2" fill="#fffebe"/><rect x="319.0" y="319.2" fill="#fffebe"/><rect x="340.3" y="319.2" fill="#fffebe"/><rect x="361.5" y="319.2" fill="#fffebe"/><rect x="382.8" y="319.2" fill="#fffebe"/><rect x="404.1" y="319.2" fill="#fffebe"/><rect x="425.3" y="319.2" fill="#fffebe"/><rect x="446.6" y="319.2" fill="#fffebe"/><rect x="467.9" y="319.2" fill="#fffebe"/><rect x="489.1" y="319.2" fill="#fffebe"/><rect x="510.4" y="319.2" fill="#fffebe"/><rect x="531.7" y="319.2" fill="#fffebe"/><rect x="552.9" y="319.2" fill="#fffebe"/><rect x="574.2" y="319.2" fill="#fffebe"/><rect x="595.5" y="319.2" fill="#fffebe"/><rect x="616.7" y="319.2" fill="#fffebe"/><rect x="638.0" y="319.2" fill="#fffebe"/><rect x="659.3" y="319.2" fill="#fffebe"/><rect x="680.5" y="319.2" fill="#fffebe"/><rect x="701.8" y="319.2" fill="#fffebe"/><rect x="723.1" y="319.2" fill="#fffebe"/><rect x="744.3" y="319.2" fill="#fffebe"/><rect x="765.6" y="319.2" fill="#fffebe"/><rect x="-21.3" y="340.5" fill="#fffebe"/><rect x="0.0" y="340.5" fill="#fffebe"/><rect x="21.3" y="340.5" fill="#fffebe"/><rect x="42.5" y="340.5" fill="#fffebe"/><rect x="63.8" y="340.5" fill="#fffebe"/><rect x="85.1" y="340.5" fill="#fffebe"/><rect x="106.3" y="340.5" fill="#fffebe"/><rect x="127.6" y="340.5" fill="#fffebe"/><rect x="148.9" y="340.5" fill="#fffebe"/><rect x="170.1" y="340.5" fill="#fffebe"/><rect x="191.4" y="340.5" fill="#fffebe"/><rect x="212.7" y="340.5" fill="#fffebe"/><rect x="233.9" y="340.5" fill="#fffebe"/><rect x="255.2" y="340.5" fill="#fffebe"/><rect x="276.5" y="340.5" fill="#fffebe"/><rect x="297.7" y="340.5" fill="#fffebe"/><rect x="319.0" y="340.5" fill="#fffebe"/><rect x="340.3" y="340.5" fill="#fffebe"/><rect x="361.5" y="340.5" fill="#fffebe"/><rect x="382.8" y="340.5" fill="#fffebe"/><rect x="404.1" y="340.5" fill="#fffebe"/><rect x="425.3" y="340.5" fill="#fffebe"/><rect x="446.6" y="340.5" fill="#fffebe"/><rect x="467.9" y="340.5" fill="#fffebe"/><rect x="489.1" y="340.5" fill="#fffebe"/><rect x="510.4" y="340.5" fill="#fffebe"/><rect x="531.7" y="340.5" fill="#fffebe"/><rect x="552.9" y="340.5" fill="#fffebe"/><rect x="574.2" y="340.5" fill="#fffebe"/><rect x="595.5" y="340.5" fill="#fffebe"/><rect x="616.7" y="340.5" fill="#fffebe"/><rect x="638.0" y="340.5" fill="#fffebe"/><rect x="659.3" y="340.5" fill="#fffebe"/><rect x="680.5" y="340.5" fill="#fffebe"/><rect x="701.8" y="340.5" fill="#fffebe"/><rect x="723.1" y="340.5" fill="#fffebe"/><rect x="744.3" y="340.5" fill="#fffebe"/><rect x="765.6" y="340.5" fill="#fffebe"/></g>
</g>
<g clip-path="url(#axclip)"><use href="#coast"/><circle cx="469.5" cy="246.5" r="3.2"/><path d="M476.6,248.3 482.6,251.9 486.4,257.9" fill="none" stroke="#000" stroke-width="5.5" stroke-linecap="round" stroke-linejoin="round"/><circle cx="26.6" cy="1.6" r="2.0"/><polygon points="79.3,-0.9 79.3,-0.4 78.3,-0.9 79.8,4.1 81.3,-0.9 80.3,-0.4 80.3,-0.9"/><polygon points="132.3,-1.4 132.3,-0.8 131.1,-1.4 132.9,4.6 134.7,-1.4 133.5,-0.8 133.5,-1.4"/><polygon points="185.5,-1.4 185.5,-0.8 184.3,-1.4 186.1,4.6 187.9,-1.4 186.7,-0.8 186.7,-1.4"/><polygon points="242.1,10.4 241.9,8.6 245.7,10.0 238.3,-7.4 234.9,11.2 238.3,9.0 238.5,10.8"/><polygon points="294.4,14.1 294.4,7.1 298.4,9.1 292.4,-10.9 286.4,9.1 290.4,7.1 290.4,14.1"/><polygon points="348.5,10.9 348.3,9.0 352.3,10.5 344.6,-7.9 340.9,11.7 344.5,9.4 344.7,11.3"/><polygon points="389.0,6.1 389.0,5.2 390.8,6.1 388.1,-2.9 385.4,6.1 387.2,5.2 387.2,6.1"/><polygon points="440.8,-0.9 440.8,-0.4 439.8,-0.9 441.3,4.1 442.8,-0.9 441.8,-0.4 441.8,-0.9"/><polygon points="492.4,-3.7 492.6,-2.6 490.2,-3.3 495.5,7.1 496.8,-4.5 494.8,-3.0 494.6,-4.1"/><polygon points="542.3,1.1 543.3,1.4 541.7,3.1 552.6,3.1 543.5,-2.9 543.9,-0.6 542.9,-0.9"/><polygon points="595.4,0.6 596.4,1.0 594.6,2.6 605.8,3.6 597.0,-3.4 597.2,-1.0 596.2,-1.4"/><polygon points="652.9,-1.3 653.0,-0.7 651.7,-1.1 654.5,4.6 655.2,-1.7 654.2,-0.9 654.1,-1.5"/><circle cx="707.1" cy="1.6" r="2.0"/><circle cx="760.3" cy="1.6" r="2.0"/><polygon points="26.8,37.5 26.6,38.3 25.2,37.1 25.6,45.7 30.0,38.3 28.2,38.7 28.4,37.9"/><polygon points="83.3,43.6 82.7,43.1 84.3,42.4 76.8,39.2 81.3,46.0 81.7,44.3 82.3,44.8"/><polygon points="133.7,45.7 133.7,44.9 135.3,45.7 132.9,37.7 130.5,45.7 132.1,44.9 132.1,45.7"/><polygon points="188.4,42.8 188.0,42.5 189.0,42.0 184.1,40.2 187.2,44.4 187.4,43.3 187.8,43.6"/><circle cx="239.3" cy="41.7" r="2.0"/><circle cx="292.4" cy="41.7" r="2.0"/><polygon points="346.1,44.2 346.1,43.7 347.1,44.2 345.6,39.2 344.1,44.2 345.1,43.7 345.1,44.2"/><polygon points="387.5,38.7 387.5,39.3 386.3,38.7 388.1,44.7 389.9,38.7 388.7,39.3 388.7,38.7"/><polygon points="440.2,46.6 440.6,45.7 442.0,47.4 443.3,37.2 436.6,45.0 438.8,44.9 438.4,45.8"/><circle cx="494.5" cy="41.7" r="2.0"/><circle cx="547.6" cy="41.7" r="2.0"/><circle cx="600.8" cy="41.7" r="2.0"/><circle cx="654.0" cy="41.7" r="2.0"/><circle cx="707.1" cy="41.7" r="2.0"/><circle cx="760.3" cy="41.7" r="2.0"/><circle cx="26.6" cy="81.8" r="2.0"/><circle cx="79.8" cy="81.8" r="2.0"/><polygon points="136.9,83.6 136.2,83.1 137.9,82.2 129.4,79.3 134.9,86.4 135.2,84.5 135.9,85.0"/><polygon points="185.5,78.8 185.5,79.4 184.3,78.8 186.1,84.8 187.9,78.8 186.7,79.4 186.7,78.8"/><polygon points="238.8,79.3 238.8,79.8 237.8,79.3 239.3,84.3 240.8,79.3 239.8,79.8 239.8,79.3"/><polygon points="291.8,84.0 292.0,83.6 292.6,84.4 293.4,79.8 290.2,83.2 291.2,83.2 291.0,83.6"/><polygon points="349.9,71.7 347.9,74.7 345.7,70.8 339.6,90.8 355.7,77.5 351.2,76.9 353.2,73.9"/><polygon points="393.7,81.2 392.6,81.1 393.9,79.0 382.6,81.3 393.3,85.6 392.4,83.3 393.5,83.4"/><polygon points="443.4,79.3 442.9,79.7 442.6,78.3 438.8,83.8 445.0,81.3 443.7,80.7 444.2,80.3"/><circle cx="494.5" cy="81.8" r="2.0"/><circle cx="547.6" cy="81.8" r="2.0"/><polygon points="603.6,80.2 603.0,80.4 603.2,79.0 597.8,82.8 604.4,82.6 603.4,81.6 604.0,81.4"/><polygon points="658.1,81.5 657.3,81.4 658.2,79.9 650.0,81.3 657.7,84.7 657.1,83.0 657.9,83.1"/><polygon points="715.2,83.3 713.7,82.7 716.4,80.3 699.6,78.8 712.8,89.3 712.5,85.7 714.0,86.3"/><circle cx="760.3" cy="81.8" r="2.0"/><circle cx="26.6" cy="121.9" r="2.0"/><polygon points="79.2,118.9 79.2,119.5 78.0,118.9 79.8,124.9 81.6,118.9 80.4,119.5 80.4,118.9"/><polygon points="137.2,117.4 136.2,118.1 135.8,115.4 127.9,125.4 140.0,121.4 137.6,120.1 138.6,119.4"/><polygon points="190.1,115.9 189.1,116.9 188.1,113.9 181.1,126.9 194.1,119.9 191.1,118.9 192.1,117.9"/><polygon points="247.0,121.4 245.5,121.2 247.4,118.4 231.8,120.9 246.2,127.4 245.1,124.2 246.6,124.4"/><polygon points="293.2,125.9 293.2,125.1 294.8,125.9 292.4,117.9 290.0,125.9 291.6,125.1 291.6,125.9"/><polygon points="345.1,119.4 345.1,119.9 344.1,119.4 345.6,124.4 347.1,119.4 346.1,119.9 346.1,119.4"/><polygon points="394.1,128.5 393.2,127.0 397.1,126.7 383.6,114.4 388.1,132.1 390.2,128.8 391.1,130.3"/><polygon points="449.8,120.2 448.1,120.2 449.8,116.8 432.8,121.9 449.8,127.0 448.1,123.6 449.8,123.6"/><polygon points="504.1,109.9 495.1,118.5 493.8,114.2 483.5,132.4 502.1,122.9 497.9,121.4 506.8,112.8"/><polygon points="561.7,120.4 551.7,120.0 553.8,116.1 533.6,121.4 553.4,128.1 551.5,124.0 561.5,124.4"/><polygon points="602.4,119.5 602.0,119.9 601.6,118.7 598.8,123.9 604.0,121.1 602.8,120.7 603.2,120.3"/><polygon points="657.4,120.7 656.6,120.8 657.2,119.3 650.5,122.4 657.8,123.5 656.9,122.2 657.6,122.1"/><polygon points="715.2,120.8 713.6,120.7 715.4,117.6 699.1,121.4 714.8,127.2 713.4,123.9 715.0,124.0"/><polygon points="764.4,119.0 763.5,119.4 763.6,117.2 755.8,123.9 766.0,122.6 764.3,121.2 765.2,120.8"/><polygon points="23.2,160.6 23.8,161.0 22.4,161.8 29.6,164.0 24.8,158.2 24.6,159.8 24.0,159.4"/><polygon points="78.6,158.6 78.7,159.3 77.2,158.8 80.3,165.5 81.4,158.2 80.1,159.1 80.0,158.4"/><polygon points="133.4,164.5 133.4,164.0 134.4,164.5 132.9,159.5 131.4,164.5 132.4,164.0 132.4,164.5"/><polygon points="182.6,160.1 183.2,160.6 181.6,161.3 189.1,164.5 184.6,157.7 184.2,159.4 183.6,158.9"/><polygon points="237.5,160.8 237.8,161.1 236.9,161.4 240.8,163.5 238.7,159.6 238.4,160.5 238.1,160.2"/><polygon points="302.6,155.2 297.0,157.7 297.1,153.3 281.4,167.0 302.1,164.2 298.6,161.4 304.2,158.8"/><polygon points="342.6,160.0 343.1,160.5 341.6,161.0 348.1,164.5 344.6,158.0 344.1,159.5 343.6,159.0"/><polygon points="384.1,162.8 384.9,162.8 384.1,164.4 392.1,162.0 384.1,159.6 384.9,161.2 384.1,161.2"/><polygon points="439.1,156.2 439.3,157.4 436.7,156.6 442.3,168.0 443.9,155.4 441.7,157.0 441.5,155.8"/><polygon points="491.9,156.8 492.2,157.9 489.7,157.4 496.0,167.5 496.3,155.6 494.4,157.3 494.1,156.2"/><polygon points="542.3,174.1 546.6,167.3 548.9,171.1 554.6,151.0 538.8,164.7 543.3,165.1 538.9,171.9"/><circle cx="600.8" cy="162.0" r="2.0"/><polygon points="654.2,165.6 654.3,164.9 655.6,165.8 654.5,158.5 651.4,165.2 652.9,164.7 652.8,165.4"/><polygon points="718.6,166.3 713.2,163.2 717.0,160.7 696.6,156.0 711.0,171.1 711.3,166.7 716.6,169.7"/><polygon points="761.9,154.4 761.3,155.8 759.1,153.2 757.3,169.0 767.5,156.8 764.1,157.0 764.7,155.6"/><polygon points="28.2,199.7 27.8,200.1 27.4,198.9 24.6,204.1 29.8,201.3 28.6,200.9 29.0,200.5"/><circle cx="79.8" cy="202.1" r="2.0"/><circle cx="132.9" cy="202.1" r="2.0"/><circle cx="186.1" cy="202.1" r="2.0"/><polygon points="228.0,199.5 232.4,201.4 229.0,204.3 249.8,206.6 233.7,193.2 234.0,197.7 229.5,195.8"/><polygon points="285.6,207.1 287.1,206.4 287.0,210.1 299.9,198.6 282.8,201.1 285.7,203.4 284.2,204.1"/><polygon points="340.2,208.9 341.5,207.8 342.4,211.5 352.1,196.6 335.8,203.7 339.3,205.2 338.0,206.3"/><polygon points="382.6,203.2 383.7,203.2 382.6,205.4 393.6,202.1 382.6,198.8 383.7,201.0 382.6,201.0"/><polygon points="431.8,204.0 433.7,204.0 431.8,207.8 450.8,202.1 431.8,196.4 433.7,200.2 431.8,200.2"/><polygon points="483.8,206.1 488.1,205.3 486.8,209.6 505.5,200.1 484.7,197.8 487.4,201.4 483.1,202.1"/><polygon points="540.2,209.3 542.1,208.1 542.6,212.5 556.1,196.6 536.1,202.4 539.9,204.7 538.0,205.9"/><polygon points="595.1,204.8 596.3,204.5 595.7,207.2 606.8,200.6 593.9,200.0 595.7,202.1 594.5,202.4"/><polygon points="656.0,201.7 655.6,201.7 656.0,200.9 652.0,202.1 656.0,203.3 655.6,202.5 656.0,202.5"/><circle cx="707.1" cy="202.1" r="2.0"/><polygon points="763.2,195.8 762.4,196.9 761.0,194.2 756.3,207.6 767.6,199.0 764.6,198.5 765.4,197.4"/><circle cx="26.6" cy="242.2" r="2.0"/><circle cx="79.8" cy="242.2" r="2.0"/><circle cx="132.9" cy="242.2" r="2.0"/><polygon points="180.2,243.9 181.4,243.8 180.4,246.3 192.1,241.7 179.8,239.1 181.2,241.4 180.0,241.5"/><polygon points="227.3,244.2 233.3,244.2 231.3,248.2 251.3,242.2 231.3,236.2 233.3,240.2 227.3,240.2"/><polygon points="282.6,245.2 284.7,245.0 283.1,249.2 302.4,241.2 281.9,237.2 284.3,241.0 282.2,241.2"/><polygon points="339.7,246.5 341.0,245.9 340.9,249.1 352.1,239.2 337.3,241.3 339.8,243.3 338.5,243.9"/><polygon points="384.6,242.9 385.3,242.9 384.6,244.3 391.6,242.2 384.6,240.1 385.3,241.5 384.6,241.5"/><polygon points="436.2,242.7 437.2,242.8 436.0,244.7 446.3,242.7 436.6,238.7 437.4,240.8 436.4,240.7"/><polygon points="488.4,248.1 489.8,247.2 490.2,250.9 501.5,237.7 484.8,242.5 488.0,244.4 486.6,245.3"/><polygon points="541.8,249.6 543.2,248.4 544.2,252.4 554.6,236.2 537.0,244.0 540.8,245.6 539.4,246.8"/><polygon points="593.8,248.8 595.4,247.8 595.8,252.0 608.8,237.2 589.8,242.4 593.4,244.6 591.8,245.6"/><polygon points="652.4,234.2 652.4,235.8 649.2,234.2 654.0,250.2 658.8,234.2 655.6,235.8 655.6,234.2"/><polygon points="703.1,243.0 703.9,243.0 703.1,244.6 711.1,242.2 703.1,239.8 703.9,241.4 703.1,241.4"/><polygon points="757.3,242.8 757.9,242.8 757.3,244.0 763.3,242.2 757.3,240.4 757.9,241.6 757.3,241.6"/><circle cx="26.6" cy="282.3" r="2.0"/><polygon points="77.8,282.7 78.2,282.7 77.8,283.5 81.8,282.3 77.8,281.1 78.2,281.9 77.8,281.9"/><circle cx="132.9" cy="282.3" r="2.0"/><polygon points="190.3,282.5 189.5,282.3 190.7,280.9 182.1,281.3 189.5,285.7 189.1,283.9 189.9,284.1"/><polygon points="243.9,281.9 243.0,281.8 244.1,280.1 234.8,281.8 243.5,285.5 242.8,283.6 243.7,283.7"/><polygon points="294.4,281.9 294.0,281.9 294.4,281.1 290.4,282.3 294.4,283.5 294.0,282.7 294.4,282.7"/><circle cx="345.6" cy="282.3" r="2.0"/><circle cx="388.1" cy="282.3" r="2.0"/><polygon points="443.3,281.9 442.9,281.9 443.3,281.1 439.3,282.3 443.3,283.5 442.9,282.7 443.3,282.7"/><circle cx="494.5" cy="282.3" r="2.0"/><polygon points="552.4,277.7 551.3,278.4 551.0,275.5 542.1,285.8 555.2,282.1 552.7,280.6 553.8,279.9"/><polygon points="610.6,272.3 602.8,278.3 601.9,273.9 589.8,290.8 609.3,283.4 605.2,281.4 613.0,275.4"/><polygon points="652.0,272.3 652.0,274.3 648.0,272.3 654.0,292.3 660.0,272.3 656.0,274.3 656.0,272.3"/><polygon points="703.6,283.0 704.3,283.0 703.6,284.4 710.6,282.3 703.6,280.2 704.3,281.6 703.6,281.6"/><polygon points="757.5,281.3 758.0,281.6 756.9,282.3 762.8,283.8 758.7,279.3 758.6,280.6 758.1,280.3"/><circle cx="26.6" cy="322.5" r="2.0"/><circle cx="79.8" cy="322.5" r="2.0"/><polygon points="135.9,321.9 135.3,321.9 135.9,320.7 129.9,322.5 135.9,324.3 135.3,323.1 135.9,323.1"/><polygon points="193.3,319.5 191.8,319.8 192.7,316.5 178.6,324.0 194.5,325.5 192.4,322.8 193.9,322.5"/><polygon points="243.9,319.5 242.9,319.9 243.1,317.5 234.3,324.5 245.5,323.5 243.7,321.9 244.7,321.5"/><polygon points="300.1,322.0 298.6,321.8 300.5,319.0 284.9,321.5 299.3,328.0 298.2,324.8 299.7,325.0"/><polygon points="349.7,322.2 348.9,322.1 349.9,320.6 341.6,322.0 349.3,325.4 348.7,323.7 349.5,323.8"/><circle cx="388.1" cy="322.5" r="2.0"/><polygon points="438.6,322.0 439.1,322.2 438.2,323.0 443.8,323.5 439.4,320.0 439.5,321.2 439.0,321.0"/><polygon points="498.5,321.7 497.7,321.7 498.5,320.1 490.5,322.5 498.5,324.9 497.7,323.3 498.5,323.3"/><polygon points="550.7,322.4 550.1,322.3 550.9,321.2 544.6,322.0 550.3,324.8 549.9,323.5 550.5,323.6"/><polygon points="604.5,320.2 603.7,320.5 603.9,318.6 596.8,324.0 605.7,323.4 604.3,322.1 605.1,321.8"/><circle cx="654.0" cy="322.5" r="2.0"/><circle cx="707.1" cy="322.5" r="2.0"/><polygon points="762.0,320.6 761.6,320.9 761.4,319.8 758.3,324.0 763.2,322.2 762.2,321.7 762.6,321.4"/></g>
<rect width="765.6" height="340.5" fill="none" stroke="#000" stroke-width="3"/>
</g>
<text x="92.5" y="32.0" font-size="41" font-weight="bold">a</text>
<text x="71.7" y="151.3" font-size="30" text-anchor="end">60°N</text>
<text x="71.7" y="279.0" font-size="30" text-anchor="end">30°N</text>
<text x="219.1" y="440.7" font-size="30" text-anchor="middle">120°E</text>
<text x="474.3" y="440.7" font-size="30" text-anchor="middle">180°E</text>
<text x="729.5" y="440.7" font-size="30" text-anchor="middle">120°W</text>
<polygon points="90.5,467.4 125.7,448.3 125.7,486.4" fill="#313695"/>
<polygon points="858.1,467.4 824.3,448.3 824.3,486.4" fill="#a50026"/>
<rect x="125.7" y="448.3" width="698.6" height="38.1" fill="url(#gt)"/>
<polygon points="90.5,467.4 125.7,448.3 824.3,448.3 858.1,467.4 824.3,486.4 125.7,486.4" fill="none" stroke="#000" stroke-width="3"/>
<line x1="125.7" y1="486.4" x2="125.7" y2="500.9" stroke="#000" stroke-width="3"/>
<text x="125.7" y="538.4" font-size="30" text-anchor="middle">−3</text>
<line x1="242.1" y1="486.4" x2="242.1" y2="500.9" stroke="#000" stroke-width="3"/>
<text x="242.1" y="538.4" font-size="30" text-anchor="middle">−2</text>
<line x1="358.6" y1="486.4" x2="358.6" y2="500.9" stroke="#000" stroke-width="3"/>
<text x="358.6" y="538.4" font-size="30" text-anchor="middle">−1</text>
<line x1="475.0" y1="486.4" x2="475.0" y2="500.9" stroke="#000" stroke-width="3"/>
<text x="475.0" y="538.4" font-size="30" text-anchor="middle">0</text>
<line x1="591.4" y1="486.4" x2="591.4" y2="500.9" stroke="#000" stroke-width="3"/>
<text x="591.4" y="538.4" font-size="30" text-anchor="middle">1</text>
<line x1="707.9" y1="486.4" x2="707.9" y2="500.9" stroke="#000" stroke-width="3"/>
<text x="707.9" y="538.4" font-size="30" text-anchor="middle">2</text>
<line x1="824.3" y1="486.4" x2="824.3" y2="500.9" stroke="#000" stroke-width="3"/>
<text x="824.3" y="538.4" font-size="30" text-anchor="middle">3</text>
<text x="474.3" y="583.0" font-size="30" text-anchor="middle">Air temperature (°C)</text>
<g transform="translate(972.20,55.60)">
<g clip-path="url(#axclip)">
<g filter="url(#blur)"><rect x="-21.3" y="-21.3" fill="#fffefe"/><rect x="0.0" y="-21.3" fill="#fffefe"/><rect x="21.3" y="-21.3" fill="#fffefe"/><rect x="42.5" y="-21.3" fill="#ffe2e2"/><rect x="63.8" y="-21.3" fill="#ffe2e2"/><rect x="85.1" y="-21.3" fill="#ffc6c6"/><rect x="106.3" y="-21.3" fill="#ffc6c6"/><rect x="127.6" y="-21.3" fill="#ffc6c6"/><rect x="148.9" y="-21.3" fill="#ffc6c6"/><rect x="170.1" y="-21.3" fill="#ffaaaa"/><rect x="191.4" y="-21.3" fill="#ffaaaa"/><rect x="212.7" y="-21.3" fill="#ffaaaa"/><rect x="233.9" y="-21.3" fill="#ffaaaa"/><rect x="255.2" y="-21.3" fill="#ff8e8e"/><rect x="276.5" y="-21.3" fill="#ff8e8e"/><rect x="297.7" y="-21.3" fill="#ff7070"/><rect x="319.0" y="-21.3" fill="#ff5454"/><rect x="340.3" y="-21.3" fill="#ff5454"/><rect x="361.5" y="-21.3" fill="#ff5454"/><rect x="382.8" y="-21.3" fill="#ff5454"/><rect x="404.1" y="-21.3" fill="#ff7070"/><rect x="425.3" y="-21.3" fill="#ff7070"/><rect x="446.6" y="-21.3" fill="#ff8e8e"/><rect x="467.9" y="-21.3" fill="#ff8e8e"/><rect x="489.1" y="-21.3" fill="#ff8e8e"/><rect x="510.4" y="-21.3" fill="#ff8e8e"/><rect x="531.7" y="-21.3" fill="#ff8e8e"/><rect x="552.9" y="-21.3" fill="#ff8e8e"/><rect x="574.2" y="-21.3" fill="#ff8e8e"/><rect x="595.5" y="-21.3" fill="#ff8e8e"/><rect x="616.7" y="-21.3" fill="#ff7070"/><rect x="638.0" y="-21.3" fill="#ff7070"/><rect x="659.3" y="-21.3" fill="#ff5454"/><rect x="680.5" y="-21.3" fill="#ff5454"/><rect x="701.8" y="-21.3" fill="#ff3838"/><rect x="723.1" y="-21.3" fill="#ff1c1c"/><rect x="744.3" y="-21.3" fill="#ff1c1c"/><rect x="765.6" y="-21.3" fill="#ff1c1c"/><rect x="-21.3" y="0.0" fill="#fffefe"/><rect x="0.0" y="0.0" fill="#fffefe"/><rect x="21.3" y="0.0" fill="#fffefe"/><rect x="42.5" y="0.0" fill="#ffe2e2"/><rect x="63.8" y="0.0" fill="#ffe2e2"/><rect x="85.1" y="0.0" fill="#ffc6c6"/><rect x="106.3" y="0.0" fill="#ffc6c6"/><rect x="127.6" y="0.0" fill="#ffc6c6"/><rect x="148.9" y="0.0" fill="#ffc6c6"/><rect x="170.1" y="0.0" fill="#ffaaaa"/><rect x="191.4" y="0.0" fill="#ffaaaa"/><rect x="212.7" y="0.0" fill="#ffaaaa"/><rect x="233.9" y="0.0" fill="#ffaaaa"/><rect x="255.2" y="0.0" fill="#ff8e8e"/><rect x="276.5" y="0.0" fill="#ff8e8e"/><rect x="297.7" y="0.0" fill="#ff7070"/><rect x="319.0" y="0.0" fill="#ff5454"/><rect x="340.3" y="0.0" fill="#ff5454"/><rect x="361.5" y="0.0" fill="#ff5454"/><rect x="382.8" y="0.0" fill="#ff5454"/><rect x="404.1" y="0.0" fill="#ff7070"/><rect x="425.3" y="0.0" fill="#ff7070"/><rect x="446.6" y="0.0" fill="#ff8e8e"/><rect x="467.9" y="0.0" fill="#ff8e8e"/><rect x="489.1" y="0.0" fill="#ff8e8e"/><rect x="510.4" y="0.0" fill="#ff8e8e"/><rect x="531.7" y="0.0" fill="#ff8e8e"/><rect x="552.9" y="0.0" fill="#ff8e8e"/><rect x="574.2" y="0.0" fill="#ff8e8e"/><rect x="595.5" y="0.0" fill="#ff8e8e"/><rect x="616.7" y="0.0" fill="#ff7070"/><rect x="638.0" y="0.0" fill="#ff7070"/><rect x="659.3" y="0.0" fill="#ff5454"/><rect x="680.5" y="0.0" fill="#ff5454"/><rect x="701.8" y="0.0" fill="#ff3838"/><rect x="723.1" y="0.0" fill="#ff1c1c"/><rect x="744.3" y="0.0" fill="#ff1c1c"/><rect x="765.6" y="0.0" fill="#ff1c1c"/><rect x="-21.3" y="21.3" fill="#fffefe"/><rect x="0.0" y="21.3" fill="#fffefe"/><rect x="21.3" y="21.3" fill="#fffefe"/><rect x="42.5" y="21.3" fill="#ffe2e2"/><rect x="63.8" y="21.3" fill="#ffe2e2"/><rect x="85.1" y="21.3" fill="#ffc6c6"/><rect x="106.3" y="21.3" fill="#ffaaaa"/><rect x="127.6" y="21.3" fill="#ffaaaa"/><rect x="148.9" y="21.3" fill="#ffaaaa"/><rect x="170.1" y="21.3" fill="#ffaaaa"/><rect x="191.4" y="21.3" fill="#ffaaaa"/><rect x="212.7" y="21.3" fill="#ffaaaa"/><rect x="233.9" y="21.3" fill="#ffaaaa"/><rect x="255.2" y="21.3" fill="#ff8e8e"/><rect x="276.5" y="21.3" fill="#ff8e8e"/><rect x="297.7" y="21.3" fill="#ff7070"/><rect x="319.0" y="21.3" fill="#ff7070"/><rect x="340.3" y="21.3" fill="#ff7070"/><rect x="361.5" y="21.3" fill="#ff8e8e"/><rect x="382.8" y="21.3" fill="#ff7070"/><rect x="404.1" y="21.3" fill="#ff7070"/><rect x="425.3" y="21.3" fill="#ff8e8e"/><rect x="446.6" y="21.3" fill="#ffaaaa"/><rect x="467.9" y="21.3" fill="#ffaaaa"/><rect x="489.1" y="21.3" fill="#ff8e8e"/><rect x="510.4" y="21.3" fill="#ff8e8e"/><rect x="531.7" y="21.3" fill="#ff8e8e"/><rect x="552.9" y="21.3" fill="#ff8e8e"/><rect x="574.2" y="21.3" fill="#ff8e8e"/><rect x="595.5" y="21.3" fill="#ff7070"/><rect x="616.7" y="21.3" fill="#ff7070"/><rect x="638.0" y="21.3" fill="#ff7070"/><rect x="659.3" y="21.3" fill="#ff5454"/><rect x="680.5" y="21.3" fill="#ff5454"/><rect x="701.8" y="21.3" fill="#ff3838"/><rect x="723.1" y="21.3" fill="#ff1c1c"/><rect x="744.3" y="21.3" fill="#ff1c1c"/><rect x="765.6" y="21.3" fill="#ff1c1c"/><rect x="-21.3" y="42.6" fill="#fffefe"/><rect x="0.0" y="42.6" fill="#fffefe"/><rect x="21.3" y="42.6" fill="#fffefe"/><rect x="42.5" y="42.6" fill="#fffefe"/><rect x="63.8" y="42.6" fill="#ffe2e2"/><rect x="85.1" y="42.6" fill="#ffc6c6"/><rect x="106.3" y="42.6" fill="#ffc6c6"/><rect x="127.6" y="42.6" fill="#ffaaaa"/><rect x="148.9" y="42.6" fill="#ffaaaa"/><rect x="170.1" y="42.6" fill="#ffaaaa"/><rect x="191.4" y="42.6" fill="#ff8e8e"/><rect x="212.7" y="42.6" fill="#ffaaaa"/><rect x="233.9" y="42.6" fill="#ffaaaa"/><rect x="255.2" y="42.6" fill="#ffaaaa"/><rect x="276.5" y="42.6" fill="#ffaaaa"/><rect x="297.7" y="42.6" fill="#ffaaaa"/><rect x="319.0" y="42.6" fill="#ffaaaa"/><rect x="340.3" y="42.6" fill="#ffaaaa"/><rect x="361.5" y="42.6" fill="#ffaaaa"/><rect x="382.8" y="42.6" fill="#ffc6c6"/><rect x="404.1" y="42.6" fill="#ffc6c6"/><rect x="425.3" y="42.6" fill="#ffc6c6"/><rect x="446.6" y="42.6" fill="#ffaaaa"/><rect x="467.9" y="42.6" fill="#ffaaaa"/><rect x="489.1" y="42.6" fill="#ffaaaa"/><rect x="510.4" y="42.6" fill="#ff8e8e"/><rect x="531.7" y="42.6" fill="#ff8e8e"/><rect x="552.9" y="42.6" fill="#ff7070"/><rect x="574.2" y="42.6" fill="#ff7070"/><rect x="595.5" y="42.6" fill="#ff7070"/><rect x="616.7" y="42.6" fill="#ff5454"/><rect x="638.0" y="42.6" fill="#ff5454"/><rect x="659.3" y="42.6" fill="#ff3838"/><rect x="680.5" y="42.6" fill="#ff3838"/><rect x="701.8" y="42.6" fill="#ff1c1c"/><rect x="723.1" y="42.6" fill="#ff0000"/><rect x="744.3" y="42.6" fill="#ff0000"/><rect x="765.6" y="42.6" fill="#ff0000"/><rect x="-21.3" y="63.8" fill="#ffc6c6"/><rect x="0.0" y="63.8" fill="#ffc6c6"/><rect x="21.3" y="63.8" fill="#ffc6c6"/><rect x="42.5" y="63.8" fill="#ffc6c6"/><rect x="63.8" y="63.8" fill="#ffc6c6"/><rect x="85.1" y="63.8" fill="#ffc6c6"/><rect x="106.3" y="63.8" fill="#ffaaaa"/><rect x="127.6" y="63.8" fill="#ffaaaa"/><rect x="148.9" y="63.8" fill="#ffaaaa"/><rect x="170.1" y="63.8" fill="#ffc6c6"/><rect x="191.4" y="63.8" fill="#ffc6c6"/><rect x="212.7" y="63.8" fill="#ffc6c6"/><rect x="233.9" y="63.8" fill="#ffe2e2"/><rect x="255.2" y="63.8" fill="#ffe2e2"/><rect x="276.5" y="63.8" fill="#ffe2e2"/><rect x="297.7" y="63.8" fill="#ffe2e2"/><rect x="319.0" y="63.8" fill="#ffe2e2"/><rect x="340.3" y="63.8" fill="#ffe2e2"/><rect x="361.5" y="63.8" fill="#ffe2e2"/><rect x="382.8" y="63.8" fill="#fffefe"/><rect x="404.1" y="63.8" fill="#ffe2e2"/><rect x="425.3" y="63.8" fill="#ffc6c6"/><rect x="446.6" y="63.8" fill="#ffc6c6"/><rect x="467.9" y="63.8" fill="#ffc6c6"/><rect x="489.1" y="63.8" fill="#ffc6c6"/><rect x="510.4" y="63.8" fill="#ffaaaa"/><rect x="531.7" y="63.8" fill="#ffaaaa"/><rect x="552.9" y="63.8" fill="#ffaaaa"/><rect x="574.2" y="63.8" fill="#ff8e8e"/><rect x="595.5" y="63.8" fill="#ff8e8e"/><rect x="616.7" y="63.8" fill="#ff7070"/><rect x="638.0" y="63.8" fill="#ff5454"/><rect x="659.3" y="63.8" fill="#ff5454"/><rect x="680.5" y="63.8" fill="#ff3838"/><rect x="701.8" y="63.8" fill="#ff1c1c"/><rect x="723.1" y="63.8" fill="#ff0000"/><rect x="744.3" y="63.8" fill="#ff0000"/><rect x="765.6" y="63.8" fill="#ff0000"/><rect x="-21.3" y="85.1" fill="#ffaaaa"/><rect x="0.0" y="85.1" fill="#ffaaaa"/><rect x="21.3" y="85.1" fill="#ffaaaa"/><rect x="42.5" y="85.1" fill="#ffaaaa"/><rect x="63.8" y="85.1" fill="#ffc6c6"/><rect x="85.1" y="85.1" fill="#ffc6c6"/><rect x="106.3" y="85.1" fill="#ffc6c6"/><rect x="127.6" y="85.1" fill="#ffc6c6"/><rect x="148.9" y="85.1" fill="#ffc6c6"/><rect x="170.1" y="85.1" fill="#ffe2e2"/><rect x="191.4" y="85.1" fill="#ffe2e2"/><rect x="212.7" y="85.1" fill="#ffe2e2"/><rect x="233.9" y="85.1" fill="#fffefe"/><rect x="255.2" y="85.1" fill="#fffefe"/><rect x="276.5" y="85.1" fill="#e2e2ff"/><rect x="297.7" y="85.1" fill="#e2e2ff"/><rect x="319.0" y="85.1" fill="#c6c6ff"/><rect x="340.3" y="85.1" fill="#c6c6ff"/><rect x="361.5" y="85.1" fill="#c6c6ff"/><rect x="382.8" y="85.1" fill="#c6c6ff"/><rect x="404.1" y="85.1" fill="#e2e2ff"/><rect x="425.3" y="85.1" fill="#fffefe"/><rect x="446.6" y="85.1" fill="#ffe2e2"/><rect x="467.9" y="85.1" fill="#ffe2e2"/><rect x="489.1" y="85.1" fill="#ffe2e2"/><rect x="510.4" y="85.1" fill="#ffe2e2"/><rect x="531.7" y="85.1" fill="#ffe2e2"/><rect x="552.9" y="85.1" fill="#ffe2e2"/><rect x="574.2" y="85.1" fill="#ffc6c6"/><rect x="595.5" y="85.1" fill="#ffc6c6"/><rect x="616.7" y="85.1" fill="#ffaaaa"/><rect x="638.0" y="85.1" fill="#ffaaaa"/><rect x="659.3" y="85.1" fill="#ff8e8e"/><rect x="680.5" y="85.1" fill="#ff7070"/><rect x="701.8" y="85.1" fill="#ff5454"/><rect x="723.1" y="85.1" fill="#ff3838"/><rect x="744.3" y="85.1" fill="#ff1c1c"/><rect x="765.6" y="85.1" fill="#ff1c1c"/><rect x="-21.3" y="106.4" fill="#ffaaaa"/><rect x="0.0" y="106.4" fill="#ffaaaa"/><rect x="21.3" y="106.4" fill="#ffaaaa"/><rect x="42.5" y="106.4" fill="#ffc6c6"/><rect x="63.8" y="106.4" fill="#ffc6c6"/><rect x="85.1" y="106.4" fill="#ffc6c6"/><rect x="106.3" y="106.4" fill="#ffc6c6"/><rect x="127.6" y="106.4" fill="#ffc6c6"/><rect x="148.9" y="106.4" fill="#ffe2e2"/><rect x="170.1" y="106.4" fill="#fffefe"/><rect x="191.4" y="106.4" fill="#e2e2ff"/><rect x="212.7" y="106.4" fill="#aaaaff"/><rect x="233.9" y="106.4" fill="#aaaaff"/><rect x="255.2" y="106.4" fill="#c6c6ff"/><rect x="276.5" y="106.4" fill="#e2e2ff"/><rect x="297.7" y="106.4" fill="#e2e2ff"/><rect x="319.0" y="106.4" fill="#c6c6ff"/><rect x="340.3" y="106.4" fill="#aaaaff"/><rect x="361.5" y="106.4" fill="#aaaaff"/><rect x="382.8" y="106.4" fill="#aaaaff"/><rect x="404.1" y="106.4" fill="#aaaaff"/><rect x="425.3" y="106.4" fill="#c6c6ff"/><rect x="446.6" y="106.4" fill="#c6c6ff"/><rect x="467.9" y="106.4" fill="#c6c6ff"/><rect x="489.1" y="106.4" fill="#aaaaff"/><rect x="510.4" y="106.4" fill="#aaaaff"/><rect x="531.7" y="106.4" fill="#aaaaff"/><rect x="552.9" y="106.4" fill="#c6c6ff"/><rect x="574.2" y="106.4" fill="#c6c6ff"/><rect x="595.5" y="106.4" fill="#e2e2ff"/><rect x="616.7" y="106.4" fill="#fffefe"/><rect x="638.0" y="106.4" fill="#ffe2e2"/><rect x="659.3" y="106.4" fill="#ffc6c6"/><rect x="680.5" y="106.4" fill="#ff8e8e"/><rect x="701.8" y="106.4" fill="#ff7070"/><rect x="723.1" y="106.4" fill="#ff5454"/><rect x="744.3" y="106.4" fill="#ff5454"/><rect x="765.6" y="106.4" fill="#ff5454"/><rect x="-21.3" y="127.7" fill="#ffc6c6"/><rect x="0.0" y="127.7" fill="#ffc6c6"/><rect x="21.3" y="127.7" fill="#ffe2e2"/><rect x="42.5" y="127.7" fill="#ffe2e2"/><rect x="63.8" y="127.7" fill="#ffe2e2"/><rect x="85.1" y="127.7" fill="#ffe2e2"/><rect x="106.3" y="127.7" fill="#ffe2e2"/><rect x="127.6" y="127.7" fill="#fffefe"/><rect x="148.9" y="127.7" fill="#e2e2ff"/><rect x="170.1" y="127.7" fill="#aaaaff"/><rect x="191.4" y="127.7" fill="#8e8eff"/><rect x="212.7" y="127.7" fill="#8e8eff"/><rect x="233.9" y="127.7" fill="#aaaaff"/><rect x="255.2" y="127.7" fill="#c6c6ff"/><rect x="276.5" y="127.7" fill="#c6c6ff"/><rect x="297.7" y="127.7" fill="#aaaaff"/><rect x="319.0" y="127.7" fill="#aaaaff"/><rect x="340.3" y="127.7" fill="#8e8eff"/><rect x="361.5" y="127.7" fill="#8e8eff"/><rect x="382.8" y="127.7" fill="#aaaaff"/><rect x="404.1" y="127.7" fill="#8e8eff"/><rect x="425.3" y="127.7" fill="#8e8eff"/><rect x="446.6" y="127.7" fill="#8e8eff"/><rect x="467.9" y="127.7" fill="#7070ff"/><rect x="489.1" y="127.7" fill="#5454ff"/><rect x="510.4" y="127.7" fill="#5454ff"/><rect x="531.7" y="127.7" fill="#7070ff"/><rect x="552.9" y="127.7" fill="#7070ff"/><rect x="574.2" y="127.7" fill="#8e8eff"/><rect x="595.5" y="127.7" fill="#aaaaff"/><rect x="616.7" y="127.7" fill="#aaaaff"/><rect x="638.0" y="127.7" fill="#c6c6ff"/><rect x="659.3" y="127.7" fill="#e2e2ff"/><rect x="680.5" y="127.7" fill="#fffefe"/><rect x="701.8" y="127.7" fill="#ffe2e2"/><rect x="723.1" y="127.7" fill="#ffaaaa"/><rect x="744.3" y="127.7" fill="#ff8e8e"/><rect x="765.6" y="127.7" fill="#ff8e8e"/><rect x="-21.3" y="149.0" fill="#ffe2e2"/><rect x="0.0" y="149.0" fill="#ffe2e2"/><rect x="21.3" y="149.0" fill="#ffe2e2"/><rect x="42.5" y="149.0" fill="#ffe2e2"/><rect x="63.8" y="149.0" fill="#fffefe"/><rect x="85.1" y="149.0" fill="#fffefe"/><rect x="106.3" y="149.0" fill="#fffefe"/><rect x="127.6" y="149.0" fill="#e2e2ff"/><rect x="148.9" y="149.0" fill="#c6c6ff"/><rect x="170.1" y="149.0" fill="#aaaaff"/><rect x="191.4" y="149.0" fill="#aaaaff"/><rect x="212.7" y="149.0" fill="#aaaaff"/><rect x="233.9" y="149.0" fill="#aaaaff"/><rect x="255.2" y="149.0" fill="#8e8eff"/><rect x="276.5" y="149.0" fill="#8e8eff"/><rect x="297.7" y="149.0" fill="#8e8eff"/><rect x="319.0" y="149.0" fill="#7070ff"/><rect x="340.3" y="149.0" fill="#7070ff"/><rect x="361.5" y="149.0" fill="#8e8eff"/><rect x="382.8" y="149.0" fill="#8e8eff"/><rect x="404.1" y="149.0" fill="#8e8eff"/><rect x="425.3" y="149.0" fill="#7070ff"/><rect x="446.6" y="149.0" fill="#7070ff"/><rect x="467.9" y="149.0" fill="#5454ff"/><rect x="489.1" y="149.0" fill="#5454ff"/><rect x="510.4" y="149.0" fill="#3838ff"/><rect x="531.7" y="149.0" fill="#5454ff"/><rect x="552.9" y="149.0" fill="#7070ff"/><rect x="574.2" y="149.0" fill="#8e8eff"/><rect x="595.5" y="149.0" fill="#aaaaff"/><rect x="616.7" y="149.0" fill="#aaaaff"/><rect x="638.0" y="149.0" fill="#c6c6ff"/><rect x="659.3" y="149.0" fill="#c6c6ff"/><rect x="680.5" y="149.0" fill="#e2e2ff"/><rect x="701.8" y="149.0" fill="#fffefe"/><rect x="723.1" y="149.0" fill="#ffc6c6"/><rect x="744.3" y="149.0" fill="#ffaaaa"/><rect x="765.6" y="149.0" fill="#ffaaaa"/><rect x="-21.3" y="170.2" fill="#ffc6c6"/><rect x="0.0" y="170.2" fill="#ffc6c6"/><rect x="21.3" y="170.2" fill="#ffc6c6"/><rect x="42.5" y="170.2" fill="#ffe2e2"/><rect x="63.8" y="170.2" fill="#fffefe"/><rect x="85.1" y="170.2" fill="#fffefe"/><rect x="106.3" y="170.2" fill="#fffefe"/><rect x="127.6" y="170.2" fill="#e2e2ff"/><rect x="148.9" y="170.2" fill="#c6c6ff"/><rect x="170.1" y="170.2" fill="#c6c6ff"/><rect x="191.4" y="170.2" fill="#aaaaff"/><rect x="212.7" y="170.2" fill="#aaaaff"/><rect x="233.9" y="170.2" fill="#8e8eff"/><rect x="255.2" y="170.2" fill="#7070ff"/><rect x="276.5" y="170.2" fill="#5454ff"/><rect x="297.7" y="170.2" fill="#5454ff"/><rect x="319.0" y="170.2" fill="#7070ff"/><rect x="340.3" y="170.2" fill="#8e8eff"/><rect x="361.5" y="170.2" fill="#8e8eff"/><rect x="382.8" y="170.2" fill="#8e8eff"/><rect x="404.1" y="170.2" fill="#8e8eff"/><rect x="425.3" y="170.2" fill="#8e8eff"/><rect x="446.6" y="170.2" fill="#7070ff"/><rect x="467.9" y="170.2" fill="#7070ff"/><rect x="489.1" y="170.2" fill="#7070ff"/><rect x="510.4" y="170.2" fill="#7070ff"/><rect x="531.7" y="170.2" fill="#8e8eff"/><rect x="552.9" y="170.2" fill="#8e8eff"/><rect x="574.2" y="170.2" fill="#aaaaff"/><rect x="595.5" y="170.2" fill="#c6c6ff"/><rect x="616.7" y="170.2" fill="#e2e2ff"/><rect x="638.0" y="170.2" fill="#e2e2ff"/><rect x="659.3" y="170.2" fill="#e2e2ff"/><rect x="680.5" y="170.2" fill="#e2e2ff"/><rect x="701.8" y="170.2" fill="#e2e2ff"/><rect x="723.1" y="170.2" fill="#fffefe"/><rect x="744.3" y="170.2" fill="#fffefe"/><rect x="765.6" y="170.2" fill="#fffefe"/><rect x="-21.3" y="191.5" fill="#ffc6c6"/><rect x="0.0" y="191.5" fill="#ffc6c6"/><rect x="21.3" y="191.5" fill="#ffaaaa"/><rect x="42.5" y="191.5" fill="#ffe2e2"/><rect x="63.8" y="191.5" fill="#fffefe"/><rect x="85.1" y="191.5" fill="#fffefe"/><rect x="106.3" y="191.5" fill="#fffefe"/><rect x="127.6" y="191.5" fill="#fffefe"/><rect x="148.9" y="191.5" fill="#e2e2ff"/><rect x="170.1" y="191.5" fill="#c6c6ff"/><rect x="191.4" y="191.5" fill="#c6c6ff"/><rect x="212.7" y="191.5" fill="#aaaaff"/><rect x="233.9" y="191.5" fill="#8e8eff"/><rect x="255.2" y="191.5" fill="#8e8eff"/><rect x="276.5" y="191.5" fill="#8e8eff"/><rect x="297.7" y="191.5" fill="#8e8eff"/><rect x="319.0" y="191.5" fill="#aaaaff"/><rect x="340.3" y="191.5" fill="#aaaaff"/><rect x="361.5" y="191.5" fill="#c6c6ff"/><rect x="382.8" y="191.5" fill="#c6c6ff"/><rect x="404.1" y="191.5" fill="#c6c6ff"/><rect x="425.3" y="191.5" fill="#aaaaff"/><rect x="446.6" y="191.5" fill="#aaaaff"/><rect x="467.9" y="191.5" fill="#aaaaff"/><rect x="489.1" y="191.5" fill="#8e8eff"/><rect x="510.4" y="191.5" fill="#8e8eff"/><rect x="531.7" y="191.5" fill="#aaaaff"/><rect x="552.9" y="191.5" fill="#aaaaff"/><rect x="574.2" y="191.5" fill="#c6c6ff"/><rect x="595.5" y="191.5" fill="#e2e2ff"/><rect x="616.7" y="191.5" fill="#e2e2ff"/><rect x="638.0" y="191.5" fill="#fffefe"/><rect x="659.3" y="191.5" fill="#e2e2ff"/><rect x="680.5" y="191.5" fill="#e2e2ff"/><rect x="701.8" y="191.5" fill="#c6c6ff"/><rect x="723.1" y="191.5" fill="#c6c6ff"/><rect x="744.3" y="191.5" fill="#c6c6ff"/><rect x="765.6" y="191.5" fill="#c6c6ff"/><rect x="-21.3" y="212.8" fill="#e2e2ff"/><rect x="0.0" y="212.8" fill="#e2e2ff"/><rect x="21.3" y="212.8" fill="#fffefe"/><rect x="42.5" y="212.8" fill="#fffefe"/><rect x="63.8" y="212.8" fill="#fffefe"/><rect x="85.1" y="212.8" fill="#fffefe"/><rect x="106.3" y="212.8" fill="#fffefe"/><rect x="127.6" y="212.8" fill="#fffefe"/><rect x="148.9" y="212.8" fill="#fffefe"/><rect x="170.1" y="212.8" fill="#fffefe"/><rect x="191.4" y="212.8" fill="#e2e2ff"/><rect x="212.7" y="212.8" fill="#e2e2ff"/><rect x="233.9" y="212.8" fill="#c6c6ff"/><rect x="255.2" y="212.8" fill="#c6c6ff"/><rect x="276.5" y="212.8" fill="#c6c6ff"/><rect x="297.7" y="212.8" fill="#c6c6ff"/><rect x="319.0" y="212.8" fill="#e2e2ff"/><rect x="340.3" y="212.8" fill="#e2e2ff"/><rect x="361.5" y="212.8" fill="#e2e2ff"/><rect x="382.8" y="212.8" fill="#e2e2ff"/><rect x="404.1" y="212.8" fill="#e2e2ff"/><rect x="425.3" y="212.8" fill="#e2e2ff"/><rect x="446.6" y="212.8" fill="#e2e2ff"/><rect x="467.9" y="212.8" fill="#e2e2ff"/><rect x="489.1" y="212.8" fill="#fffefe"/><rect x="510.4" y="212.8" fill="#fffefe"/><rect x="531.7" y="212.8" fill="#fffefe"/><rect x="552.9" y="212.8" fill="#fffefe"/><rect x="574.2" y="212.8" fill="#fffefe"/><rect x="595.5" y="212.8" fill="#fffefe"/><rect x="616.7" y="212.8" fill="#ffe2e2"/><rect x="638.0" y="212.8" fill="#fffefe"/><rect x="659.3" y="212.8" fill="#e2e2ff"/><rect x="680.5" y="212.8" fill="#e2e2ff"/><rect x="701.8" y="212.8" fill="#c6c6ff"/><rect x="723.1" y="212.8" fill="#c6c6ff"/><rect x="744.3" y="212.8" fill="#c6c6ff"/><rect x="765.6" y="212.8" fill="#c6c6ff"/><rect x="-21.3" y="234.1" fill="#fffefe"/><rect x="0.0" y="234.1" fill="#fffefe"/><rect x="21.3" y="234.1" fill="#fffefe"/><rect x="42.5" y="234.1" fill="#fffefe"/><rect x="63.8" y="234.1" fill="#fffefe"/><rect x="85.1" y="234.1" fill="#e2e2ff"/><rect x="106.3" y="234.1" fill="#e2e2ff"/><rect x="127.6" y="234.1" fill="#fffefe"/><rect x="148.9" y="234.1" fill="#fffefe"/><rect x="170.1" y="234.1" fill="#fffefe"/><rect x="191.4" y="234.1" fill="#fffefe"/><rect x="212.7" y="234.1" fill="#ffe2e2"/><rect x="233.9" y="234.1" fill="#ffe2e2"/><rect x="255.2" y="234.1" fill="#ffe2e2"/><rect x="276.5" y="234.1" fill="#ffe2e2"/><rect x="297.7" y="234.1" fill="#ffe2e2"/><rect x="319.0" y="234.1" fill="#ffe2e2"/><rect x="340.3" y="234.1" fill="#ffe2e2"/><rect x="361.5" y="234.1" fill="#ffe2e2"/><rect x="382.8" y="234.1" fill="#ffe2e2"/><rect x="404.1" y="234.1" fill="#ffe2e2"/><rect x="425.3" y="234.1" fill="#ffe2e2"/><rect x="446.6" y="234.1" fill="#ffe2e2"/><rect x="467.9" y="234.1" fill="#ffe2e2"/><rect x="489.1" y="234.1" fill="#ffe2e2"/><rect x="510.4" y="234.1" fill="#ffe2e2"/><rect x="531.7" y="234.1" fill="#ffe2e2"/><rect x="552.9" y="234.1" fill="#ffc6c6"/><rect x="574.2" y="234.1" fill="#ffc6c6"/><rect x="595.5" y="234.1" fill="#ffc6c6"/><rect x="616.7" y="234.1" fill="#ffc6c6"/><rect x="638.0" y="234.1" fill="#ffc6c6"/><rect x="659.3" y="234.1" fill="#ffe2e2"/><rect x="680.5" y="234.1" fill="#fffefe"/><rect x="701.8" y="234.1" fill="#e2e2ff"/><rect x="723.1" y="234.1" fill="#e2e2ff"/><rect x="744.3" y="234.1" fill="#c6c6ff"/><rect x="765.6" y="234.1" fill="#c6c6ff"/><rect x="-21.3" y="255.4" fill="#fffefe"/><rect x="0.0" y="255.4" fill="#fffefe"/><rect x="21.3" y="255.4" fill="#fffefe"/><rect x="42.5" y="255.4" fill="#fffefe"/><rect x="63.8" y="255.4" fill="#e2e2ff"/><rect x="85.1" y="255.4" fill="#e2e2ff"/><rect x="106.3" y="255.4" fill="#e2e2ff"/><rect x="127.6" y="255.4" fill="#fffefe"/><rect x="148.9" y="255.4" fill="#fffefe"/><rect x="170.1" y="255.4" fill="#ffe2e2"/><rect x="191.4" y="255.4" fill="#ffe2e2"/><rect x="212.7" y="255.4" fill="#ffe2e2"/><rect x="233.9" y="255.4" fill="#ffe2e2"/><rect x="255.2" y="255.4" fill="#ffe2e2"/><rect x="276.5" y="255.4" fill="#ffe2e2"/><rect x="297.7" y="255.4" fill="#ffe2e2"/><rect x="319.0" y="255.4" fill="#ffe2e2"/><rect x="340.3" y="255.4" fill="#ffe2e2"/><rect x="361.5" y="255.4" fill="#ffe2e2"/><rect x="382.8" y="255.4" fill="#ffe2e2"/><rect x="404.1" y="255.4" fill="#ffe2e2"/><rect x="425.3" y="255.4" fill="#ffe2e2"/><rect x="446.6" y="255.4" fill="#ffe2e2"/><rect x="467.9" y="255.4" fill="#ffe2e2"/><rect x="489.1" y="255.4" fill="#ffe2e2"/><rect x="510.4" y="255.4" fill="#ffc6c6"/><rect x="531.7" y="255.4" fill="#ffc6c6"/><rect x="552.9" y="255.4" fill="#ffc6c6"/><rect x="574.2" y="255.4" fill="#ffaaaa"/><rect x="595.5" y="255.4" fill="#ffaaaa"/><rect x="616.7" y="255.4" fill="#ffc6c6"/><rect x="638.0" y="255.4" fill="#ffe2e2"/><rect x="659.3" y="255.4" fill="#fffefe"/><rect x="680.5" y="255.4" fill="#fffefe"/><rect x="701.8" y="255.4" fill="#e2e2ff"/><rect x="723.1" y="255.4" fill="#e2e2ff"/><rect x="744.3" y="255.4" fill="#e2e2ff"/><rect x="765.6" y="255.4" fill="#e2e2ff"/><rect x="-21.3" y="276.7" fill="#fffefe"/><rect x="0.0" y="276.7" fill="#fffefe"/><rect x="21.3" y="276.7" fill="#fffefe"/><rect x="42.5" y="276.7" fill="#fffefe"/><rect x="63.8" y="276.7" fill="#fffefe"/><rect x="85.1" y="276.7" fill="#e2e2ff"/><rect x="106.3" y="276.7" fill="#e2e2ff"/><rect x="127.6" y="276.7" fill="#fffefe"/><rect x="148.9" y="276.7" fill="#fffefe"/><rect x="170.1" y="276.7" fill="#fffefe"/><rect x="191.4" y="276.7" fill="#ffe2e2"/><rect x="212.7" y="276.7" fill="#ffe2e2"/><rect x="233.9" y="276.7" fill="#ffe2e2"/><rect x="255.2" y="276.7" fill="#ffe2e2"/><rect x="276.5" y="276.7" fill="#ffe2e2"/><rect x="297.7" y="276.7" fill="#ffe2e2"/><rect x="319.0" y="276.7" fill="#ffe2e2"/><rect x="340.3" y="276.7" fill="#ffe2e2"/><rect x="361.5" y="276.7" fill="#ffe2e2"/><rect x="382.8" y="276.7" fill="#ffe2e2"/><rect x="404.1" y="276.7" fill="#ffe2e2"/><rect x="425.3" y="276.7" fill="#ffe2e2"/><rect x="446.6" y="276.7" fill="#ffe2e2"/><rect x="467.9" y="276.7" fill="#ffe2e2"/><rect x="489.1" y="276.7" fill="#ffe2e2"/><rect x="510.4" y="276.7" fill="#ffe2e2"/><rect x="531.7" y="276.7" fill="#ffe2e2"/><rect x="552.9" y="276.7" fill="#ffc6c6"/><rect x="574.2" y="276.7" fill="#ffc6c6"/><rect x="595.5" y="276.7" fill="#ffc6c6"/><rect x="616.7" y="276.7" fill="#ffe2e2"/><rect x="638.0" y="276.7" fill="#ffe2e2"/><rect x="659.3" y="276.7" fill="#fffefe"/><rect x="680.5" y="276.7" fill="#fffefe"/><rect x="701.8" y="276.7" fill="#fffefe"/><rect x="723.1" y="276.7" fill="#fffefe"/><rect x="744.3" y="276.7" fill="#fffefe"/><rect x="765.6" y="276.7" fill="#fffefe"/><rect x="-21.3" y="297.9" fill="#fffefe"/><rect x="0.0" y="297.9" fill="#fffefe"/><rect x="21.3" y="297.9" fill="#fffefe"/><rect x="42.5" y="297.9" fill="#fffefe"/><rect x="63.8" y="297.9" fill="#fffefe"/><rect x="85.1" y="297.9" fill="#fffefe"/><rect x="106.3" y="297.9" fill="#fffefe"/><rect x="127.6" y="297.9" fill="#fffefe"/><rect x="148.9" y="297.9" fill="#fffefe"/><rect x="170.1" y="297.9" fill="#fffefe"/><rect x="191.4" y="297.9" fill="#fffefe"/><rect x="212.7" y="297.9" fill="#ffe2e2"/><rect x="233.9" y="297.9" fill="#ffe2e2"/><rect x="255.2" y="297.9" fill="#ffe2e2"/><rect x="276.5" y="297.9" fill="#ffe2e2"/><rect x="297.7" y="297.9" fill="#ffe2e2"/><rect x="319.0" y="297.9" fill="#ffe2e2"/><rect x="340.3" y="297.9" fill="#ffe2e2"/><rect x="361.5" y="297.9" fill="#ffe2e2"/><rect x="382.8" y="297.9" fill="#fffefe"/><rect x="404.1" y="297.9" fill="#fffefe"/><rect x="425.3" y="297.9" fill="#ffe2e2"/><rect x="446.6" y="297.9" fill="#ffe2e2"/><rect x="467.9" y="297.9" fill="#ffe2e2"/><rect x="489.1" y="297.9" fill="#ffe2e2"/><rect x="510.4" y="297.9" fill="#ffe2e2"/><rect x="531.7" y="297.9" fill="#ffe2e2"/><rect x="552.9" y="297.9" fill="#ffe2e2"/><rect x="574.2" y="297.9" fill="#ffe2e2"/><rect x="595.5" y="297.9" fill="#ffe2e2"/><rect x="616.7" y="297.9" fill="#ffe2e2"/><rect x="638.0" y="297.9" fill="#fffefe"/><rect x="659.3" y="297.9" fill="#fffefe"/><rect x="680.5" y="297.9" fill="#fffefe"/><rect x="701.8" y="297.9" fill="#fffefe"/><rect x="723.1" y="297.9" fill="#fffefe"/><rect x="744.3" y="297.9" fill="#fffefe"/><rect x="765.6" y="297.9" fill="#fffefe"/><rect x="-21.3" y="319.2" fill="#e2e2ff"/><rect x="0.0" y="319.2" fill="#e2e2ff"/><rect x="21.3" y="319.2" fill="#fffefe"/><rect x="42.5" y="319.2" fill="#fffefe"/><rect x="63.8" y="319.2" fill="#fffefe"/><rect x="85.1" y="319.2" fill="#fffefe"/><rect x="106.3" y="319.2" fill="#fffefe"/><rect x="127.6" y="319.2" fill="#fffefe"/><rect x="148.9" y="319.2" fill="#fffefe"/><rect x="170.1" y="319.2" fill="#fffefe"/><rect x="191.4" y="319.2" fill="#fffefe"/><rect x="212.7" y="319.2" fill="#fffefe"/><rect x="233.9" y="319.2" fill="#fffefe"/><rect x="255.2" y="319.2" fill="#fffefe"/><rect x="276.5" y="319.2" fill="#ffe2e2"/><rect x="297.7" y="319.2" fill="#fffefe"/><rect x="319.0" y="319.2" fill="#fffefe"/><rect x="340.3" y="319.2" fill="#fffefe"/><rect x="361.5" y="319.2" fill="#fffefe"/><rect x="382.8" y="319.2" fill="#fffefe"/><rect x="404.1" y="319.2" fill="#fffefe"/><rect x="425.3" y="319.2" fill="#fffefe"/><rect x="446.6" y="319.2" fill="#fffefe"/><rect x="467.9" y="319.2" fill="#fffefe"/><rect x="489.1" y="319.2" fill="#fffefe"/><rect x="510.4" y="319.2" fill="#fffefe"/><rect x="531.7" y="319.2" fill="#fffefe"/><rect x="552.9" y="319.2" fill="#fffefe"/><rect x="574.2" y="319.2" fill="#fffefe"/><rect x="595.5" y="319.2" fill="#fffefe"/><rect x="616.7" y="319.2" fill="#fffefe"/><rect x="638.0" y="319.2" fill="#fffefe"/><rect x="659.3" y="319.2" fill="#fffefe"/><rect x="680.5" y="319.2" fill="#fffefe"/><rect x="701.8" y="319.2" fill="#fffefe"/><rect x="723.1" y="319.2" fill="#fffefe"/><rect x="744.3" y="319.2" fill="#fffefe"/><rect x="765.6" y="319.2" fill="#fffefe"/><rect x="-21.3" y="340.5" fill="#e2e2ff"/><rect x="0.0" y="340.5" fill="#e2e2ff"/><rect x="21.3" y="340.5" fill="#fffefe"/><rect x="42.5" y="340.5" fill="#fffefe"/><rect x="63.8" y="340.5" fill="#fffefe"/><rect x="85.1" y="340.5" fill="#fffefe"/><rect x="106.3" y="340.5" fill="#fffefe"/><rect x="127.6" y="340.5" fill="#fffefe"/><rect x="148.9" y="340.5" fill="#fffefe"/><rect x="170.1" y="340.5" fill="#fffefe"/><rect x="191.4" y="340.5" fill="#fffefe"/><rect x="212.7" y="340.5" fill="#fffefe"/><rect x="233.9" y="340.5" fill="#fffefe"/><rect x="255.2" y="340.5" fill="#fffefe"/><rect x="276.5" y="340.5" fill="#ffe2e2"/><rect x="297.7" y="340.5" fill="#fffefe"/><rect x="319.0" y="340.5" fill="#fffefe"/><rect x="340.3" y="340.5" fill="#fffefe"/><rect x="361.5" y="340.5" fill="#fffefe"/><rect x="382.8" y="340.5" fill="#fffefe"/><rect x="404.1" y="340.5" fill="#fffefe"/><rect x="425.3" y="340.5" fill="#fffefe"/><rect x="446.6" y="340.5" fill="#fffefe"/><rect x="467.9" y="340.5" fill="#fffefe"/><rect x="489.1" y="340.5" fill="#fffefe"/><rect x="510.4" y="340.5" fill="#fffefe"/><rect x="531.7" y="340.5" fill="#fffefe"/><rect x="552.9" y="340.5" fill="#fffefe"/><rect x="574.2" y="340.5" fill="#fffefe"/><rect x="595.5" y="340.5" fill="#fffefe"/><rect x="616.7" y="340.5" fill="#fffefe"/><rect x="638.0" y="340.5" fill="#fffefe"/><rect x="659.3" y="340.5" fill="#fffefe"/><rect x="680.5" y="340.5" fill="#fffefe"/><rect x="701.8" y="340.5" fill="#fffefe"/><rect x="723.1" y="340.5" fill="#fffefe"/><rect x="744.3" y="340.5" fill="#fffefe"/><rect x="765.6" y="340.5" fill="#fffefe"/></g>
</g>
<g clip-path="url(#axclip)"><use href="#coast"/><circle cx="469.5" cy="246.5" r="3.2"/><path d="M476.6,248.3 482.6,251.9 486.4,257.9" fill="none" stroke="#000" stroke-width="5.5" stroke-linecap="round" stroke-linejoin="round"/></g>
<rect width="765.6" height="340.5" fill="none" stroke="#000" stroke-width="3"/>
</g>
<text x="973.2" y="32.0" font-size="41" font-weight="bold">b</text>
<text x="952.4" y="151.3" font-size="30" text-anchor="end">60°N</text>
<text x="952.4" y="279.0" font-size="30" text-anchor="end">30°N</text>
<text x="1099.8" y="440.7" font-size="30" text-anchor="middle">120°E</text>
<text x="1355.0" y="440.7" font-size="30" text-anchor="middle">180°E</text>
<text x="1610.2" y="440.7" font-size="30" text-anchor="middle">120°W</text>
<polygon points="971.2,467.4 1006.4,448.3 1006.4,486.4" fill="#0000ff"/>
<polygon points="1738.8,467.4 1705.0,448.3 1705.0,486.4" fill="#ff0000"/>
<rect x="1006.4" y="448.3" width="698.6" height="38.1" fill="url(#gp)"/>
<polygon points="971.2,467.4 1006.4,448.3 1705.0,448.3 1738.8,467.4 1705.0,486.4 1006.4,486.4" fill="none" stroke="#000" stroke-width="3"/>
<line x1="1006.4" y1="486.4" x2="1006.4" y2="500.9" stroke="#000" stroke-width="3"/>
<text x="1006.4" y="538.4" font-size="30" text-anchor="middle">−3</text>
<line x1="1122.8" y1="486.4" x2="1122.8" y2="500.9" stroke="#000" stroke-width="3"/>
<text x="1122.8" y="538.4" font-size="30" text-anchor="middle">−2</text>
<line x1="1239.3" y1="486.4" x2="1239.3" y2="500.9" stroke="#000" stroke-width="3"/>
<text x="1239.3" y="538.4" font-size="30" text-anchor="middle">−1</text>
<line x1="1355.7" y1="486.4" x2="1355.7" y2="500.9" stroke="#000" stroke-width="3"/>
<text x="1355.7" y="538.4" font-size="30" text-anchor="middle">0</text>
<line x1="1472.1" y1="486.4" x2="1472.1" y2="500.9" stroke="#000" stroke-width="3"/>
<text x="1472.1" y="538.4" font-size="30" text-anchor="middle">1</text>
<line x1="1588.6" y1="486.4" x2="1588.6" y2="500.9" stroke="#000" stroke-width="3"/>
<text x="1588.6" y="538.4" font-size="30" text-anchor="middle">2</text>
<line x1="1705.0" y1="486.4" x2="1705.0" y2="500.9" stroke="#000" stroke-width="3"/>
<text x="1705.0" y="538.4" font-size="30" text-anchor="middle">3</text>
<text x="1355.0" y="583.0" font-size="30" text-anchor="middle">Sea-level pressure (hPa)</text>
<g transform="translate(91.50,621.10)">
<g clip-path="url(#axclip)">
<g filter="url(#blur)"><rect x="-21.3" y="-21.3" fill="#edf8df"/><rect x="0.0" y="-21.3" fill="#edf8df"/><rect x="21.3" y="-21.3" fill="#feeda4"/><rect x="42.5" y="-21.3" fill="#fdbf71"/><rect x="63.8" y="-21.3" fill="#fba05b"/><rect x="85.1" y="-21.3" fill="#f67a49"/><rect x="106.3" y="-21.3" fill="#fba05b"/><rect x="127.6" y="-21.3" fill="#fba05b"/><rect x="148.9" y="-21.3" fill="#fba05b"/><rect x="170.1" y="-21.3" fill="#f67a49"/><rect x="191.4" y="-21.3" fill="#f67a49"/><rect x="212.7" y="-21.3" fill="#ea5739"/><rect x="233.9" y="-21.3" fill="#f67a49"/><rect x="255.2" y="-21.3" fill="#f67a49"/><rect x="276.5" y="-21.3" fill="#ea5739"/><rect x="297.7" y="-21.3" fill="#ea5739"/><rect x="319.0" y="-21.3" fill="#ea5739"/><rect x="340.3" y="-21.3" fill="#da362a"/><rect x="361.5" y="-21.3" fill="#da362a"/><rect x="382.8" y="-21.3" fill="#ea5739"/><rect x="404.1" y="-21.3" fill="#ea5739"/><rect x="425.3" y="-21.3" fill="#f67a49"/><rect x="446.6" y="-21.3" fill="#fba05b"/><rect x="467.9" y="-21.3" fill="#fba05b"/><rect x="489.1" y="-21.3" fill="#fdbf71"/><rect x="510.4" y="-21.3" fill="#fdbf71"/><rect x="531.7" y="-21.3" fill="#feda8a"/><rect x="552.9" y="-21.3" fill="#feda8a"/><rect x="574.2" y="-21.3" fill="#feeda4"/><rect x="595.5" y="-21.3" fill="#feeda4"/><rect x="616.7" y="-21.3" fill="#fffebe"/><rect x="638.0" y="-21.3" fill="#fffebe"/><rect x="659.3" y="-21.3" fill="#fffebe"/><rect x="680.5" y="-21.3" fill="#fffebe"/><rect x="701.8" y="-21.3" fill="#fffebe"/><rect x="723.1" y="-21.3" fill="#fffebe"/><rect x="744.3" y="-21.3" fill="#fffebe"/><rect x="765.6" y="-21.3" fill="#fffebe"/><rect x="-21.3" y="0.0" fill="#edf8df"/><rect x="0.0" y="0.0" fill="#edf8df"/><rect x="21.3" y="0.0" fill="#feeda4"/><rect x="42.5" y="0.0" fill="#fdbf71"/><rect x="63.8" y="0.0" fill="#fba05b"/><rect x="85.1" y="0.0" fill="#f67a49"/><rect x="106.3" y="0.0" fill="#fba05b"/><rect x="127.6" y="0.0" fill="#fba05b"/><rect x="148.9" y="0.0" fill="#fba05b"/><rect x="170.1" y="0.0" fill="#f67a49"/><rect x="191.4" y="0.0" fill="#f67a49"/><rect x="212.7" y="0.0" fill="#ea5739"/><rect x="233.9" y="0.0" fill="#f67a49"/><rect x="255.2" y="0.0" fill="#f67a49"/><rect x="276.5" y="0.0" fill="#ea5739"/><rect x="297.7" y="0.0" fill="#ea5739"/><rect x="319.0" y="0.0" fill="#ea5739"/><rect x="340.3" y="0.0" fill="#da362a"/><rect x="361.5" y="0.0" fill="#da362a"/><rect x="382.8" y="0.0" fill="#ea5739"/><rect x="404.1" y="0.0" fill="#ea5739"/><rect x="425.3" y="0.0" fill="#f67a49"/><rect x="446.6" y="0.0" fill="#fba05b"/><rect x="467.9" y="0.0" fill="#fba05b"/><rect x="489.1" y="0.0" fill="#fdbf71"/><rect x="510.4" y="0.0" fill="#fdbf71"/><rect x="531.7" y="0.0" fill="#feda8a"/><rect x="552.9" y="0.0" fill="#feda8a"/><rect x="574.2" y="0.0" fill="#feeda4"/><rect x="595.5" y="0.0" fill="#feeda4"/><rect x="616.7" y="0.0" fill="#fffebe"/><rect x="638.0" y="0.0" fill="#fffebe"/><rect x="659.3" y="0.0" fill="#fffebe"/><rect x="680.5" y="0.0" fill="#fffebe"/><rect x="701.8" y="0.0" fill="#fffebe"/><rect x="723.1" y="0.0" fill="#fffebe"/><rect x="744.3" y="0.0" fill="#fffebe"/><rect x="765.6" y="0.0" fill="#fffebe"/><rect x="-21.3" y="21.3" fill="#feeda4"/><rect x="0.0" y="21.3" fill="#feeda4"/><rect x="21.3" y="21.3" fill="#fdbf71"/><rect x="42.5" y="21.3" fill="#f67a49"/><rect x="63.8" y="21.3" fill="#ea5739"/><rect x="85.1" y="21.3" fill="#f67a49"/><rect x="106.3" y="21.3" fill="#fba05b"/><rect x="127.6" y="21.3" fill="#fba05b"/><rect x="148.9" y="21.3" fill="#f67a49"/><rect x="170.1" y="21.3" fill="#f67a49"/><rect x="191.4" y="21.3" fill="#f67a49"/><rect x="212.7" y="21.3" fill="#f67a49"/><rect x="233.9" y="21.3" fill="#ea5739"/><rect x="255.2" y="21.3" fill="#f67a49"/><rect x="276.5" y="21.3" fill="#ea5739"/><rect x="297.7" y="21.3" fill="#da362a"/><rect x="319.0" y="21.3" fill="#c01a27"/><rect x="340.3" y="21.3" fill="#c01a27"/><rect x="361.5" y="21.3" fill="#a50026"/><rect x="382.8" y="21.3" fill="#c01a27"/><rect x="404.1" y="21.3" fill="#c01a27"/><rect x="425.3" y="21.3" fill="#ea5739"/><rect x="446.6" y="21.3" fill="#fba05b"/><rect x="467.9" y="21.3" fill="#fba05b"/><rect x="489.1" y="21.3" fill="#fdbf71"/><rect x="510.4" y="21.3" fill="#fdbf71"/><rect x="531.7" y="21.3" fill="#fdbf71"/><rect x="552.9" y="21.3" fill="#feda8a"/><rect x="574.2" y="21.3" fill="#feda8a"/><rect x="595.5" y="21.3" fill="#feeda4"/><rect x="616.7" y="21.3" fill="#feeda4"/><rect x="638.0" y="21.3" fill="#fffebe"/><rect x="659.3" y="21.3" fill="#fffebe"/><rect x="680.5" y="21.3" fill="#fffebe"/><rect x="701.8" y="21.3" fill="#fffebe"/><rect x="723.1" y="21.3" fill="#fffebe"/><rect x="744.3" y="21.3" fill="#fffebe"/><rect x="765.6" y="21.3" fill="#fffebe"/><rect x="-21.3" y="42.6" fill="#feeda4"/><rect x="0.0" y="42.6" fill="#feeda4"/><rect x="21.3" y="42.6" fill="#feda8a"/><rect x="42.5" y="42.6" fill="#fdbf71"/><rect x="63.8" y="42.6" fill="#fdbf71"/><rect x="85.1" y="42.6" fill="#fdbf71"/><rect x="106.3" y="42.6" fill="#fba05b"/><rect x="127.6" y="42.6" fill="#fba05b"/><rect x="148.9" y="42.6" fill="#f67a49"/><rect x="170.1" y="42.6" fill="#fba05b"/><rect x="191.4" y="42.6" fill="#fba05b"/><rect x="212.7" y="42.6" fill="#fba05b"/><rect x="233.9" y="42.6" fill="#fdbf71"/><rect x="255.2" y="42.6" fill="#fba05b"/><rect x="276.5" y="42.6" fill="#ea5739"/><rect x="297.7" y="42.6" fill="#da362a"/><rect x="319.0" y="42.6" fill="#c01a27"/><rect x="340.3" y="42.6" fill="#a50026"/><rect x="361.5" y="42.6" fill="#c01a27"/><rect x="382.8" y="42.6" fill="#c01a27"/><rect x="404.1" y="42.6" fill="#da362a"/><rect x="425.3" y="42.6" fill="#ea5739"/><rect x="446.6" y="42.6" fill="#feda8a"/><rect x="467.9" y="42.6" fill="#feda8a"/><rect x="489.1" y="42.6" fill="#fdbf71"/><rect x="510.4" y="42.6" fill="#fdbf71"/><rect x="531.7" y="42.6" fill="#fdbf71"/><rect x="552.9" y="42.6" fill="#fdbf71"/><rect x="574.2" y="42.6" fill="#fba05b"/><rect x="595.5" y="42.6" fill="#fdbf71"/><rect x="616.7" y="42.6" fill="#fdbf71"/><rect x="638.0" y="42.6" fill="#feeda4"/><rect x="659.3" y="42.6" fill="#feeda4"/><rect x="680.5" y="42.6" fill="#fffebe"/><rect x="701.8" y="42.6" fill="#fffebe"/><rect x="723.1" y="42.6" fill="#fffebe"/><rect x="744.3" y="42.6" fill="#fffebe"/><rect x="765.6" y="42.6" fill="#fffebe"/><rect x="-21.3" y="63.8" fill="#feda8a"/><rect x="0.0" y="63.8" fill="#feda8a"/><rect x="21.3" y="63.8" fill="#fdbf71"/><rect x="42.5" y="63.8" fill="#fdbf71"/><rect x="63.8" y="63.8" fill="#fba05b"/><rect x="85.1" y="63.8" fill="#fdbf71"/><rect x="106.3" y="63.8" fill="#fdbf71"/><rect x="127.6" y="63.8" fill="#fdbf71"/><rect x="148.9" y="63.8" fill="#fdbf71"/><rect x="170.1" y="63.8" fill="#fdbf71"/><rect x="191.4" y="63.8" fill="#fdbf71"/><rect x="212.7" y="63.8" fill="#fdbf71"/><rect x="233.9" y="63.8" fill="#feda8a"/><rect x="255.2" y="63.8" fill="#fdbf71"/><rect x="276.5" y="63.8" fill="#ea5739"/><rect x="297.7" y="63.8" fill="#c01a27"/><rect x="319.0" y="63.8" fill="#c01a27"/><rect x="340.3" y="63.8" fill="#da362a"/><rect x="361.5" y="63.8" fill="#ea5739"/><rect x="382.8" y="63.8" fill="#f67a49"/><rect x="404.1" y="63.8" fill="#f67a49"/><rect x="425.3" y="63.8" fill="#fdbf71"/><rect x="446.6" y="63.8" fill="#feeda4"/><rect x="467.9" y="63.8" fill="#feeda4"/><rect x="489.1" y="63.8" fill="#edf8df"/><rect x="510.4" y="63.8" fill="#edf8df"/><rect x="531.7" y="63.8" fill="#daf0f6"/><rect x="552.9" y="63.8" fill="#edf8df"/><rect x="574.2" y="63.8" fill="#fffebe"/><rect x="595.5" y="63.8" fill="#fffebe"/><rect x="616.7" y="63.8" fill="#fffebe"/><rect x="638.0" y="63.8" fill="#edf8df"/><rect x="659.3" y="63.8" fill="#edf8df"/><rect x="680.5" y="63.8" fill="#edf8df"/><rect x="701.8" y="63.8" fill="#fffebe"/><rect x="723.1" y="63.8" fill="#fffebe"/><rect x="744.3" y="63.8" fill="#fffebe"/><rect x="765.6" y="63.8" fill="#fffebe"/><rect x="-21.3" y="85.1" fill="#fffebe"/><rect x="0.0" y="85.1" fill="#fffebe"/><rect x="21.3" y="85.1" fill="#feeda4"/><rect x="42.5" y="85.1" fill="#feeda4"/><rect x="63.8" y="85.1" fill="#feda8a"/><rect x="85.1" y="85.1" fill="#feeda4"/><rect x="106.3" y="85.1" fill="#feeda4"/><rect x="127.6" y="85.1" fill="#feda8a"/><rect x="148.9" y="85.1" fill="#feeda4"/><rect x="170.1" y="85.1" fill="#feeda4"/><rect x="191.4" y="85.1" fill="#feda8a"/><rect x="212.7" y="85.1" fill="#fba05b"/><rect x="233.9" y="85.1" fill="#ea5739"/><rect x="255.2" y="85.1" fill="#ea5739"/><rect x="276.5" y="85.1" fill="#ea5739"/><rect x="297.7" y="85.1" fill="#ea5739"/><rect x="319.0" y="85.1" fill="#f67a49"/><rect x="340.3" y="85.1" fill="#fba05b"/><rect x="361.5" y="85.1" fill="#fba05b"/><rect x="382.8" y="85.1" fill="#fba05b"/><rect x="404.1" y="85.1" fill="#fdbf71"/><rect x="425.3" y="85.1" fill="#feda8a"/><rect x="446.6" y="85.1" fill="#feda8a"/><rect x="467.9" y="85.1" fill="#feeda4"/><rect x="489.1" y="85.1" fill="#feeda4"/><rect x="510.4" y="85.1" fill="#feeda4"/><rect x="531.7" y="85.1" fill="#fffebe"/><rect x="552.9" y="85.1" fill="#fffebe"/><rect x="574.2" y="85.1" fill="#fffebe"/><rect x="595.5" y="85.1" fill="#fffebe"/><rect x="616.7" y="85.1" fill="#edf8df"/><rect x="638.0" y="85.1" fill="#daf0f6"/><rect x="659.3" y="85.1" fill="#daf0f6"/><rect x="680.5" y="85.1" fill="#bde2ee"/><rect x="701.8" y="85.1" fill="#bde2ee"/><rect x="723.1" y="85.1" fill="#daf0f6"/><rect x="744.3" y="85.1" fill="#daf0f6"/><rect x="765.6" y="85.1" fill="#daf0f6"/><rect x="-21.3" y="106.4" fill="#daf0f6"/><rect x="0.0" y="106.4" fill="#daf0f6"/><rect x="21.3" y="106.4" fill="#daf0f6"/><rect x="42.5" y="106.4" fill="#edf8df"/><rect x="63.8" y="106.4" fill="#fffebe"/><rect x="85.1" y="106.4" fill="#feeda4"/><rect x="106.3" y="106.4" fill="#feda8a"/><rect x="127.6" y="106.4" fill="#feeda4"/><rect x="148.9" y="106.4" fill="#feda8a"/><rect x="170.1" y="106.4" fill="#fdbf71"/><rect x="191.4" y="106.4" fill="#fdbf71"/><rect x="212.7" y="106.4" fill="#fba05b"/><rect x="233.9" y="106.4" fill="#fba05b"/><rect x="255.2" y="106.4" fill="#fdbf71"/><rect x="276.5" y="106.4" fill="#fdbf71"/><rect x="297.7" y="106.4" fill="#fdbf71"/><rect x="319.0" y="106.4" fill="#fdbf71"/><rect x="340.3" y="106.4" fill="#fdbf71"/><rect x="361.5" y="106.4" fill="#fdbf71"/><rect x="382.8" y="106.4" fill="#fdbf71"/><rect x="404.1" y="106.4" fill="#fdbf71"/><rect x="425.3" y="106.4" fill="#fdbf71"/><rect x="446.6" y="106.4" fill="#feda8a"/><rect x="467.9" y="106.4" fill="#feda8a"/><rect x="489.1" y="106.4" fill="#feda8a"/><rect x="510.4" y="106.4" fill="#feda8a"/><rect x="531.7" y="106.4" fill="#feeda4"/><rect x="552.9" y="106.4" fill="#feeda4"/><rect x="574.2" y="106.4" fill="#fffebe"/><rect x="595.5" y="106.4" fill="#edf8df"/><rect x="616.7" y="106.4" fill="#daf0f6"/><rect x="638.0" y="106.4" fill="#bde2ee"/><rect x="659.3" y="106.4" fill="#9fd0e4"/><rect x="680.5" y="106.4" fill="#9fd0e4"/><rect x="701.8" y="106.4" fill="#9fd0e4"/><rect x="723.1" y="106.4" fill="#7fb6d6"/><rect x="744.3" y="106.4" fill="#9fd0e4"/><rect x="765.6" y="106.4" fill="#9fd0e4"/><rect x="-21.3" y="127.7" fill="#edf8df"/><rect x="0.0" y="127.7" fill="#edf8df"/><rect x="21.3" y="127.7" fill="#edf8df"/><rect x="42.5" y="127.7" fill="#feeda4"/><rect x="63.8" y="127.7" fill="#feeda4"/><rect x="85.1" y="127.7" fill="#feeda4"/><rect x="106.3" y="127.7" fill="#fffebe"/><rect x="127.6" y="127.7" fill="#fffebe"/><rect x="148.9" y="127.7" fill="#feeda4"/><rect x="170.1" y="127.7" fill="#feda8a"/><rect x="191.4" y="127.7" fill="#feda8a"/><rect x="212.7" y="127.7" fill="#fdbf71"/><rect x="233.9" y="127.7" fill="#fdbf71"/><rect x="255.2" y="127.7" fill="#feda8a"/><rect x="276.5" y="127.7" fill="#fdbf71"/><rect x="297.7" y="127.7" fill="#fba05b"/><rect x="319.0" y="127.7" fill="#fba05b"/><rect x="340.3" y="127.7" fill="#fba05b"/><rect x="361.5" y="127.7" fill="#fba05b"/><rect x="382.8" y="127.7" fill="#fdbf71"/><rect x="404.1" y="127.7" fill="#feda8a"/><rect x="425.3" y="127.7" fill="#feda8a"/><rect x="446.6" y="127.7" fill="#feda8a"/><rect x="467.9" y="127.7" fill="#feda8a"/><rect x="489.1" y="127.7" fill="#feda8a"/><rect x="510.4" y="127.7" fill="#fdbf71"/><rect x="531.7" y="127.7" fill="#fdbf71"/><rect x="552.9" y="127.7" fill="#feda8a"/><rect x="574.2" y="127.7" fill="#feeda4"/><rect x="595.5" y="127.7" fill="#fffebe"/><rect x="616.7" y="127.7" fill="#daf0f6"/><rect x="638.0" y="127.7" fill="#bde2ee"/><rect x="659.3" y="127.7" fill="#9fd0e4"/><rect x="680.5" y="127.7" fill="#9fd0e4"/><rect x="701.8" y="127.7" fill="#7fb6d6"/><rect x="723.1" y="127.7" fill="#6399c7"/><rect x="744.3" y="127.7" fill="#4a7ab7"/><rect x="765.6" y="127.7" fill="#4a7ab7"/><rect x="-21.3" y="149.0" fill="#daf0f6"/><rect x="0.0" y="149.0" fill="#daf0f6"/><rect x="21.3" y="149.0" fill="#edf8df"/><rect x="42.5" y="149.0" fill="#feeda4"/><rect x="63.8" y="149.0" fill="#feeda4"/><rect x="85.1" y="149.0" fill="#feeda4"/><rect x="106.3" y="149.0" fill="#fffebe"/><rect x="127.6" y="149.0" fill="#edf8df"/><rect x="148.9" y="149.0" fill="#edf8df"/><rect x="170.1" y="149.0" fill="#fffebe"/><rect x="191.4" y="149.0" fill="#feeda4"/><rect x="212.7" y="149.0" fill="#fffebe"/><rect x="233.9" y="149.0" fill="#feeda4"/><rect x="255.2" y="149.0" fill="#feda8a"/><rect x="276.5" y="149.0" fill="#fdbf71"/><rect x="297.7" y="149.0" fill="#fdbf71"/><rect x="319.0" y="149.0" fill="#fba05b"/><rect x="340.3" y="149.0" fill="#fba05b"/><rect x="361.5" y="149.0" fill="#fdbf71"/><rect x="382.8" y="149.0" fill="#feeda4"/><rect x="404.1" y="149.0" fill="#feeda4"/><rect x="425.3" y="149.0" fill="#feeda4"/><rect x="446.6" y="149.0" fill="#feeda4"/><rect x="467.9" y="149.0" fill="#feeda4"/><rect x="489.1" y="149.0" fill="#feda8a"/><rect x="510.4" y="149.0" fill="#feda8a"/><rect x="531.7" y="149.0" fill="#feda8a"/><rect x="552.9" y="149.0" fill="#feda8a"/><rect x="574.2" y="149.0" fill="#feeda4"/><rect x="595.5" y="149.0" fill="#fffebe"/><rect x="616.7" y="149.0" fill="#bde2ee"/><rect x="638.0" y="149.0" fill="#bde2ee"/><rect x="659.3" y="149.0" fill="#bde2ee"/><rect x="680.5" y="149.0" fill="#9fd0e4"/><rect x="701.8" y="149.0" fill="#6399c7"/><rect x="723.1" y="149.0" fill="#3c59a6"/><rect x="744.3" y="149.0" fill="#3c59a6"/><rect x="765.6" y="149.0" fill="#3c59a6"/><rect x="-21.3" y="170.2" fill="#edf8df"/><rect x="0.0" y="170.2" fill="#edf8df"/><rect x="21.3" y="170.2" fill="#fffebe"/><rect x="42.5" y="170.2" fill="#feda8a"/><rect x="63.8" y="170.2" fill="#feda8a"/><rect x="85.1" y="170.2" fill="#feeda4"/><rect x="106.3" y="170.2" fill="#feeda4"/><rect x="127.6" y="170.2" fill="#fffebe"/><rect x="148.9" y="170.2" fill="#edf8df"/><rect x="170.1" y="170.2" fill="#edf8df"/><rect x="191.4" y="170.2" fill="#edf8df"/><rect x="212.7" y="170.2" fill="#fffebe"/><rect x="233.9" y="170.2" fill="#fffebe"/><rect x="255.2" y="170.2" fill="#fffebe"/><rect x="276.5" y="170.2" fill="#feeda4"/><rect x="297.7" y="170.2" fill="#feeda4"/><rect x="319.0" y="170.2" fill="#feeda4"/><rect x="340.3" y="170.2" fill="#fffebe"/><rect x="361.5" y="170.2" fill="#fffebe"/><rect x="382.8" y="170.2" fill="#edf8df"/><rect x="404.1" y="170.2" fill="#fffebe"/><rect x="425.3" y="170.2" fill="#feeda4"/><rect x="446.6" y="170.2" fill="#feeda4"/><rect x="467.9" y="170.2" fill="#feeda4"/><rect x="489.1" y="170.2" fill="#feeda4"/><rect x="510.4" y="170.2" fill="#feeda4"/><rect x="531.7" y="170.2" fill="#feeda4"/><rect x="552.9" y="170.2" fill="#fffebe"/><rect x="574.2" y="170.2" fill="#fffebe"/><rect x="595.5" y="170.2" fill="#fffebe"/><rect x="616.7" y="170.2" fill="#daf0f6"/><rect x="638.0" y="170.2" fill="#bde2ee"/><rect x="659.3" y="170.2" fill="#bde2ee"/><rect x="680.5" y="170.2" fill="#9fd0e4"/><rect x="701.8" y="170.2" fill="#7fb6d6"/><rect x="723.1" y="170.2" fill="#6399c7"/><rect x="744.3" y="170.2" fill="#7fb6d6"/><rect x="765.6" y="170.2" fill="#7fb6d6"/><rect x="-21.3" y="191.5" fill="#edf8df"/><rect x="0.0" y="191.5" fill="#edf8df"/><rect x="21.3" y="191.5" fill="#bde2ee"/><rect x="42.5" y="191.5" fill="#feda8a"/><rect x="63.8" y="191.5" fill="#feda8a"/><rect x="85.1" y="191.5" fill="#feeda4"/><rect x="106.3" y="191.5" fill="#feeda4"/><rect x="127.6" y="191.5" fill="#edf8df"/><rect x="148.9" y="191.5" fill="#daf0f6"/><rect x="170.1" y="191.5" fill="#bde2ee"/><rect x="191.4" y="191.5" fill="#daf0f6"/><rect x="212.7" y="191.5" fill="#daf0f6"/><rect x="233.9" y="191.5" fill="#daf0f6"/><rect x="255.2" y="191.5" fill="#daf0f6"/><rect x="276.5" y="191.5" fill="#daf0f6"/><rect x="297.7" y="191.5" fill="#bde2ee"/><rect x="319.0" y="191.5" fill="#bde2ee"/><rect x="340.3" y="191.5" fill="#daf0f6"/><rect x="361.5" y="191.5" fill="#daf0f6"/><rect x="382.8" y="191.5" fill="#daf0f6"/><rect x="404.1" y="191.5" fill="#edf8df"/><rect x="425.3" y="191.5" fill="#fffebe"/><rect x="446.6" y="191.5" fill="#fffebe"/><rect x="467.9" y="191.5" fill="#fffebe"/><rect x="489.1" y="191.5" fill="#fffebe"/><rect x="510.4" y="191.5" fill="#edf8df"/><rect x="531.7" y="191.5" fill="#edf8df"/><rect x="552.9" y="191.5" fill="#edf8df"/><rect x="574.2" y="191.5" fill="#edf8df"/><rect x="595.5" y="191.5" fill="#edf8df"/><rect x="616.7" y="191.5" fill="#edf8df"/><rect x="638.0" y="191.5" fill="#daf0f6"/><rect x="659.3" y="191.5" fill="#bde2ee"/><rect x="680.5" y="191.5" fill="#9fd0e4"/><rect x="701.8" y="191.5" fill="#7fb6d6"/><rect x="723.1" y="191.5" fill="#9fd0e4"/><rect x="744.3" y="191.5" fill="#bde2ee"/><rect x="765.6" y="191.5" fill="#bde2ee"/><rect x="-21.3" y="212.8" fill="#feeda4"/><rect x="0.0" y="212.8" fill="#feeda4"/><rect x="21.3" y="212.8" fill="#fffebe"/><rect x="42.5" y="212.8" fill="#feeda4"/><rect x="63.8" y="212.8" fill="#feeda4"/><rect x="85.1" y="212.8" fill="#fffebe"/><rect x="106.3" y="212.8" fill="#edf8df"/><rect x="127.6" y="212.8" fill="#daf0f6"/><rect x="148.9" y="212.8" fill="#daf0f6"/><rect x="170.1" y="212.8" fill="#bde2ee"/><rect x="191.4" y="212.8" fill="#bde2ee"/><rect x="212.7" y="212.8" fill="#bde2ee"/><rect x="233.9" y="212.8" fill="#bde2ee"/><rect x="255.2" y="212.8" fill="#9fd0e4"/><rect x="276.5" y="212.8" fill="#9fd0e4"/><rect x="297.7" y="212.8" fill="#bde2ee"/><rect x="319.0" y="212.8" fill="#bde2ee"/><rect x="340.3" y="212.8" fill="#daf0f6"/><rect x="361.5" y="212.8" fill="#daf0f6"/><rect x="382.8" y="212.8" fill="#fffebe"/><rect x="404.1" y="212.8" fill="#fffebe"/><rect x="425.3" y="212.8" fill="#fffebe"/><rect x="446.6" y="212.8" fill="#fffebe"/><rect x="467.9" y="212.8" fill="#edf8df"/><rect x="489.1" y="212.8" fill="#edf8df"/><rect x="510.4" y="212.8" fill="#daf0f6"/><rect x="531.7" y="212.8" fill="#daf0f6"/><rect x="552.9" y="212.8" fill="#daf0f6"/><rect x="574.2" y="212.8" fill="#daf0f6"/><rect x="595.5" y="212.8" fill="#daf0f6"/><rect x="616.7" y="212.8" fill="#edf8df"/><rect x="638.0" y="212.8" fill="#edf8df"/><rect x="659.3" y="212.8" fill="#daf0f6"/><rect x="680.5" y="212.8" fill="#bde2ee"/><rect x="701.8" y="212.8" fill="#bde2ee"/><rect x="723.1" y="212.8" fill="#daf0f6"/><rect x="744.3" y="212.8" fill="#daf0f6"/><rect x="765.6" y="212.8" fill="#daf0f6"/><rect x="-21.3" y="234.1" fill="#edf8df"/><rect x="0.0" y="234.1" fill="#edf8df"/><rect x="21.3" y="234.1" fill="#edf8df"/><rect x="42.5" y="234.1" fill="#edf8df"/><rect x="63.8" y="234.1" fill="#edf8df"/><rect x="85.1" y="234.1" fill="#edf8df"/><rect x="106.3" y="234.1" fill="#daf0f6"/><rect x="127.6" y="234.1" fill="#daf0f6"/><rect x="148.9" y="234.1" fill="#daf0f6"/><rect x="170.1" y="234.1" fill="#bde2ee"/><rect x="191.4" y="234.1" fill="#bde2ee"/><rect x="212.7" y="234.1" fill="#bde2ee"/><rect x="233.9" y="234.1" fill="#daf0f6"/><rect x="255.2" y="234.1" fill="#daf0f6"/><rect x="276.5" y="234.1" fill="#daf0f6"/><rect x="297.7" y="234.1" fill="#daf0f6"/><rect x="319.0" y="234.1" fill="#edf8df"/><rect x="340.3" y="234.1" fill="#edf8df"/><rect x="361.5" y="234.1" fill="#fffebe"/><rect x="382.8" y="234.1" fill="#fffebe"/><rect x="404.1" y="234.1" fill="#fffebe"/><rect x="425.3" y="234.1" fill="#fffebe"/><rect x="446.6" y="234.1" fill="#fffebe"/><rect x="467.9" y="234.1" fill="#edf8df"/><rect x="489.1" y="234.1" fill="#daf0f6"/><rect x="510.4" y="234.1" fill="#daf0f6"/><rect x="531.7" y="234.1" fill="#bde2ee"/><rect x="552.9" y="234.1" fill="#9fd0e4"/><rect x="574.2" y="234.1" fill="#9fd0e4"/><rect x="595.5" y="234.1" fill="#bde2ee"/><rect x="616.7" y="234.1" fill="#daf0f6"/><rect x="638.0" y="234.1" fill="#edf8df"/><rect x="659.3" y="234.1" fill="#edf8df"/><rect x="680.5" y="234.1" fill="#daf0f6"/><rect x="701.8" y="234.1" fill="#daf0f6"/><rect x="723.1" y="234.1" fill="#edf8df"/><rect x="744.3" y="234.1" fill="#fffebe"/><rect x="765.6" y="234.1" fill="#fffebe"/><rect x="-21.3" y="255.4" fill="#fffebe"/><rect x="0.0" y="255.4" fill="#fffebe"/><rect x="21.3" y="255.4" fill="#fffebe"/><rect x="42.5" y="255.4" fill="#edf8df"/><rect x="63.8" y="255.4" fill="#edf8df"/><rect x="85.1" y="255.4" fill="#edf8df"/><rect x="106.3" y="255.4" fill="#edf8df"/><rect x="127.6" y="255.4" fill="#edf8df"/><rect x="148.9" y="255.4" fill="#edf8df"/><rect x="170.1" y="255.4" fill="#edf8df"/><rect x="191.4" y="255.4" fill="#edf8df"/><rect x="212.7" y="255.4" fill="#edf8df"/><rect x="233.9" y="255.4" fill="#edf8df"/><rect x="255.2" y="255.4" fill="#edf8df"/><rect x="276.5" y="255.4" fill="#fffebe"/><rect x="297.7" y="255.4" fill="#fffebe"/><rect x="319.0" y="255.4" fill="#fffebe"/><rect x="340.3" y="255.4" fill="#fffebe"/><rect x="361.5" y="255.4" fill="#fffebe"/><rect x="382.8" y="255.4" fill="#fffebe"/><rect x="404.1" y="255.4" fill="#fffebe"/><rect x="425.3" y="255.4" fill="#fffebe"/><rect x="446.6" y="255.4" fill="#fffebe"/><rect x="467.9" y="255.4" fill="#fffebe"/><rect x="489.1" y="255.4" fill="#edf8df"/><rect x="510.4" y="255.4" fill="#daf0f6"/><rect x="531.7" y="255.4" fill="#daf0f6"/><rect x="552.9" y="255.4" fill="#daf0f6"/><rect x="574.2" y="255.4" fill="#daf0f6"/><rect x="595.5" y="255.4" fill="#edf8df"/><rect x="616.7" y="255.4" fill="#edf8df"/><rect x="638.0" y="255.4" fill="#fffebe"/><rect x="659.3" y="255.4" fill="#fffebe"/><rect x="680.5" y="255.4" fill="#edf8df"/><rect x="701.8" y="255.4" fill="#fffebe"/><rect x="723.1" y="255.4" fill="#fffebe"/><rect x="744.3" y="255.4" fill="#fffebe"/><rect x="765.6" y="255.4" fill="#fffebe"/><rect x="-21.3" y="276.7" fill="#fffebe"/><rect x="0.0" y="276.7" fill="#fffebe"/><rect x="21.3" y="276.7" fill="#fffebe"/><rect x="42.5" y="276.7" fill="#fffebe"/><rect x="63.8" y="276.7" fill="#fffebe"/><rect x="85.1" y="276.7" fill="#fffebe"/><rect x="106.3" y="276.7" fill="#fffebe"/><rect x="127.6" y="276.7" fill="#fffebe"/><rect x="148.9" y="276.7" fill="#fffebe"/><rect x="170.1" y="276.7" fill="#fffebe"/><rect x="191.4" y="276.7" fill="#fffebe"/><rect x="212.7" y="276.7" fill="#fffebe"/><rect x="233.9" y="276.7" fill="#fffebe"/><rect x="255.2" y="276.7" fill="#fffebe"/><rect x="276.5" y="276.7" fill="#fffebe"/><rect x="297.7" y="276.7" fill="#fffebe"/><rect x="319.0" y="276.7" fill="#fffebe"/><rect x="340.3" y="276.7" fill="#fffebe"/><rect x="361.5" y="276.7" fill="#fffebe"/><rect x="382.8" y="276.7" fill="#fffebe"/><rect x="404.1" y="276.7" fill="#fffebe"/><rect x="425.3" y="276.7" fill="#fffebe"/><rect x="446.6" y="276.7" fill="#fffebe"/><rect x="467.9" y="276.7" fill="#fffebe"/><rect x="489.1" y="276.7" fill="#fffebe"/><rect x="510.4" y="276.7" fill="#fffebe"/><rect x="531.7" y="276.7" fill="#fffebe"/><rect x="552.9" y="276.7" fill="#fffebe"/><rect x="574.2" y="276.7" fill="#fffebe"/><rect x="595.5" y="276.7" fill="#fffebe"/><rect x="616.7" y="276.7" fill="#fffebe"/><rect x="638.0" y="276.7" fill="#fffebe"/><rect x="659.3" y="276.7" fill="#fffebe"/><rect x="680.5" y="276.7" fill="#fffebe"/><rect x="701.8" y="276.7" fill="#fffebe"/><rect x="723.1" y="276.7" fill="#fffebe"/><rect x="744.3" y="276.7" fill="#fffebe"/><rect x="765.6" y="276.7" fill="#fffebe"/><rect x="-21.3" y="297.9" fill="#fffebe"/><rect x="0.0" y="297.9" fill="#fffebe"/><rect x="21.3" y="297.9" fill="#fffebe"/><rect x="42.5" y="297.9" fill="#fffebe"/><rect x="63.8" y="297.9" fill="#fffebe"/><rect x="85.1" y="297.9" fill="#fffebe"/><rect x="106.3" y="297.9" fill="#fffebe"/><rect x="127.6" y="297.9" fill="#fffebe"/><rect x="148.9" y="297.9" fill="#fffebe"/><rect x="170.1" y="297.9" fill="#fffebe"/><rect x="191.4" y="297.9" fill="#fffebe"/><rect x="212.7" y="297.9" fill="#fffebe"/><rect x="233.9" y="297.9" fill="#fffebe"/><rect x="255.2" y="297.9" fill="#fffebe"/><rect x="276.5" y="297.9" fill="#fffebe"/><rect x="297.7" y="297.9" fill="#fffebe"/><rect x="319.0" y="297.9" fill="#fffebe"/><rect x="340.3" y="297.9" fill="#fffebe"/><rect x="361.5" y="297.9" fill="#fffebe"/><rect x="382.8" y="297.9" fill="#fffebe"/><rect x="404.1" y="297.9" fill="#fffebe"/><rect x="425.3" y="297.9" fill="#fffebe"/><rect x="446.6" y="297.9" fill="#fffebe"/><rect x="467.9" y="297.9" fill="#fffebe"/><rect x="489.1" y="297.9" fill="#fffebe"/><rect x="510.4" y="297.9" fill="#fffebe"/><rect x="531.7" y="297.9" fill="#fffebe"/><rect x="552.9" y="297.9" fill="#fffebe"/><rect x="574.2" y="297.9" fill="#fffebe"/><rect x="595.5" y="297.9" fill="#fffebe"/><rect x="616.7" y="297.9" fill="#fffebe"/><rect x="638.0" y="297.9" fill="#fffebe"/><rect x="659.3" y="297.9" fill="#fffebe"/><rect x="680.5" y="297.9" fill="#fffebe"/><rect x="701.8" y="297.9" fill="#fffebe"/><rect x="723.1" y="297.9" fill="#fffebe"/><rect x="744.3" y="297.9" fill="#fffebe"/><rect x="765.6" y="297.9" fill="#fffebe"/><rect x="-21.3" y="319.2" fill="#fffebe"/><rect x="0.0" y="319.2" fill="#fffebe"/><rect x="21.3" y="319.2" fill="#fffebe"/><rect x="42.5" y="319.2" fill="#fffebe"/><rect x="63.8" y="319.2" fill="#fffebe"/><rect x="85.1" y="319.2" fill="#fffebe"/><rect x="106.3" y="319.2" fill="#fffebe"/><rect x="127.6" y="319.2" fill="#fffebe"/><rect x="148.9" y="319.2" fill="#fffebe"/><rect x="170.1" y="319.2" fill="#fffebe"/><rect x="191.4" y="319.2" fill="#fffebe"/><rect x="212.7" y="319.2" fill="#fffebe"/><rect x="233.9" y="319.2" fill="#fffebe"/><rect x="255.2" y="319.2" fill="#fffebe"/><rect x="276.5" y="319.2" fill="#fffebe"/><rect x="297.7" y="319.2" fill="#fffebe"/><rect x="319.0" y="319.2" fill="#fffebe"/><rect x="340.3" y="319.2" fill="#fffebe"/><rect x="361.5" y="319.2" fill="#fffebe"/><rect x="382.8" y="319.2" fill="#fffebe"/><rect x="404.1" y="319.2" fill="#fffebe"/><rect x="425.3" y="319.2" fill="#fffebe"/><rect x="446.6" y="319.2" fill="#fffebe"/><rect x="467.9" y="319.2" fill="#fffebe"/><rect x="489.1" y="319.2" fill="#fffebe"/><rect x="510.4" y="319.2" fill="#fffebe"/><rect x="531.7" y="319.2" fill="#fffebe"/><rect x="552.9" y="319.2" fill="#fffebe"/><rect x="574.2" y="319.2" fill="#fffebe"/><rect x="595.5" y="319.2" fill="#fffebe"/><rect x="616.7" y="319.2" fill="#fffebe"/><rect x="638.0" y="319.2" fill="#fffebe"/><rect x="659.3" y="319.2" fill="#fffebe"/><rect x="680.5" y="319.2" fill="#fffebe"/><rect x="701.8" y="319.2" fill="#fffebe"/><rect x="723.1" y="319.2" fill="#fffebe"/><rect x="744.3" y="319.2" fill="#fffebe"/><rect x="765.6" y="319.2" fill="#fffebe"/><rect x="-21.3" y="340.5" fill="#fffebe"/><rect x="0.0" y="340.5" fill="#fffebe"/><rect x="21.3" y="340.5" fill="#fffebe"/><rect x="42.5" y="340.5" fill="#fffebe"/><rect x="63.8" y="340.5" fill="#fffebe"/><rect x="85.1" y="340.5" fill="#fffebe"/><rect x="106.3" y="340.5" fill="#fffebe"/><rect x="127.6" y="340.5" fill="#fffebe"/><rect x="148.9" y="340.5" fill="#fffebe"/><rect x="170.1" y="340.5" fill="#fffebe"/><rect x="191.4" y="340.5" fill="#fffebe"/><rect x="212.7" y="340.5" fill="#fffebe"/><rect x="233.9" y="340.5" fill="#fffebe"/><rect x="255.2" y="340.5" fill="#fffebe"/><rect x="276.5" y="340.5" fill="#fffebe"/><rect x="297.7" y="340.5" fill="#fffebe"/><rect x="319.0" y="340.5" fill="#fffebe"/><rect x="340.3" y="340.5" fill="#fffebe"/><rect x="361.5" y="340.5" fill="#fffebe"/><rect x="382.8" y="340.5" fill="#fffebe"/><rect x="404.1" y="340.5" fill="#fffebe"/><rect x="425.3" y="340.5" fill="#fffebe"/><rect x="446.6" y="340.5" fill="#fffebe"/><rect x="467.9" y="340.5" fill="#fffebe"/><rect x="489.1" y="340.5" fill="#fffebe"/><rect x="510.4" y="340.5" fill="#fffebe"/><rect x="531.7" y="340.5" fill="#fffebe"/><rect x="552.9" y="340.5" fill="#fffebe"/><rect x="574.2" y="340.5" fill="#fffebe"/><rect x="595.5" y="340.5" fill="#fffebe"/><rect x="616.7" y="340.5" fill="#fffebe"/><rect x="638.0" y="340.5" fill="#fffebe"/><rect x="659.3" y="340.5" fill="#fffebe"/><rect x="680.5" y="340.5" fill="#fffebe"/><rect x="701.8" y="340.5" fill="#fffebe"/><rect x="723.1" y="340.5" fill="#fffebe"/><rect x="744.3" y="340.5" fill="#fffebe"/><rect x="765.6" y="340.5" fill="#fffebe"/></g>
</g>
<g clip-path="url(#axclip)"><use href="#coast"/><circle cx="469.5" cy="246.5" r="3.2"/><path d="M476.6,248.3 482.6,251.9 486.4,257.9" fill="none" stroke="#000" stroke-width="5.5" stroke-linecap="round" stroke-linejoin="round"/><circle cx="26.6" cy="1.6" r="2.0"/><circle cx="79.8" cy="1.6" r="2.0"/><circle cx="132.9" cy="1.6" r="2.0"/><circle cx="186.1" cy="1.6" r="2.0"/><polygon points="231.7,12.9 237.7,6.3 239.3,10.4 248.3,-8.4 230.4,2.4 234.7,3.6 228.8,10.2"/><polygon points="282.1,19.7 295.7,0.4 297.8,4.4 304.4,-15.4 288.0,-2.6 292.4,-1.9 278.8,17.4"/><polygon points="334.8,22.1 350.1,-1.7 352.3,2.1 358.1,-17.9 342.2,-4.3 346.7,-3.9 331.4,20.0"/><polygon points="379.8,17.7 389.8,2.6 392.0,6.5 398.1,-13.4 382.0,-0.1 386.5,0.4 376.5,15.5"/><polygon points="426.4,23.8 448.2,-4.1 450.1,-0.0 457.8,-19.4 440.7,-7.4 445.1,-6.5 423.2,21.3"/><polygon points="476.4,22.5 502.6,-3.8 504.1,0.4 514.0,-17.9 495.6,-8.0 499.8,-6.6 473.5,19.6"/><polygon points="527.2,16.8 554.9,-0.7 555.4,3.8 569.1,-11.9 549.0,-6.4 552.8,-4.1 525.1,13.4"/><polygon points="587.9,8.0 597.8,4.6 597.2,9.1 614.3,-2.9 593.4,-2.3 596.6,0.9 586.7,4.2"/><polygon points="645.7,6.9 647.5,6.2 647.1,10.5 663.0,-1.9 642.9,-0.3 646.0,2.6 644.2,3.3"/><circle cx="707.1" cy="1.6" r="2.0"/><circle cx="760.3" cy="1.6" r="2.0"/><polygon points="22.9,38.8 23.5,39.5 21.5,40.0 29.6,45.2 25.7,36.4 24.9,38.3 24.3,37.6"/><polygon points="77.1,36.0 77.4,37.2 74.7,36.6 81.3,47.7 81.9,34.8 79.8,36.6 79.5,35.4"/><polygon points="128.3,36.9 129.0,38.0 126.1,38.3 136.4,47.2 132.7,34.1 131.2,36.6 130.5,35.5"/><polygon points="187.3,47.7 187.3,46.5 189.7,47.7 186.1,35.7 182.5,47.7 184.9,46.5 184.9,47.7"/><polygon points="239.4,50.0 239.7,48.4 242.6,50.6 240.8,33.7 233.0,48.8 236.5,47.8 236.2,49.4"/><polygon points="289.8,54.8 292.7,46.8 295.8,50.0 296.9,29.2 284.5,46.0 288.9,45.4 286.0,53.5"/><polygon points="342.5,57.3 346.8,44.4 350.0,47.5 350.6,26.7 338.6,43.7 343.0,43.1 338.7,56.0"/><polygon points="390.1,60.7 390.1,40.7 394.1,42.7 388.1,22.7 382.1,42.7 386.1,40.7 386.1,60.7"/><polygon points="431.3,56.0 442.4,43.5 444.0,47.6 452.8,28.7 435.0,39.7 439.4,40.8 428.3,53.3"/><circle cx="494.5" cy="41.7" r="2.0"/><polygon points="544.4,41.3 545.0,41.5 544.0,42.5 550.6,42.7 545.2,38.9 545.4,40.3 544.8,40.1"/><polygon points="597.5,43.4 598.2,43.2 597.9,44.8 604.3,40.7 596.7,40.6 597.8,41.8 597.1,42.0"/><circle cx="654.0" cy="41.7" r="2.0"/><circle cx="707.1" cy="41.7" r="2.0"/><circle cx="760.3" cy="41.7" r="2.0"/><polygon points="17.6,83.6 19.4,83.6 17.6,87.2 35.6,81.8 17.6,76.4 19.4,80.0 17.6,80.0"/><polygon points="78.1,83.7 78.5,83.4 78.7,84.5 81.8,80.3 76.9,82.1 77.9,82.6 77.5,82.9"/><polygon points="130.4,77.1 130.7,78.1 128.4,77.7 134.4,86.8 134.4,75.9 132.7,77.5 132.4,76.5"/><polygon points="181.3,76.0 182.0,77.3 178.7,77.4 189.6,88.3 186.5,73.2 184.6,75.9 183.9,74.6"/><polygon points="245.4,81.1 244.2,81.0 245.6,78.7 233.3,81.3 245.0,85.9 244.0,83.4 245.2,83.5"/><polygon points="294.7,85.5 294.4,84.7 296.3,84.9 290.9,77.8 291.5,86.7 292.8,85.3 293.1,86.1"/><polygon points="345.9,91.1 346.2,89.3 349.5,91.7 347.1,72.8 338.7,89.9 342.6,88.7 342.3,90.5"/><polygon points="389.9,90.8 389.9,89.0 393.5,90.8 388.1,72.8 382.7,90.8 386.3,89.0 386.3,90.8"/><circle cx="441.3" cy="81.8" r="2.0"/><circle cx="494.5" cy="81.8" r="2.0"/><circle cx="547.6" cy="81.8" r="2.0"/><polygon points="600.4,79.8 600.4,80.2 599.6,79.8 600.8,83.8 602.0,79.8 601.2,80.2 601.2,79.8"/><polygon points="643.4,78.0 646.9,80.0 643.1,82.5 663.5,87.3 649.1,72.1 648.9,76.5 645.5,74.6"/><polygon points="694.6,77.0 702.0,81.2 698.3,83.7 718.6,88.3 704.2,73.2 703.9,77.7 696.6,73.5"/><polygon points="762.8,81.3 762.3,81.3 762.8,80.3 757.8,81.8 762.8,83.3 762.3,82.3 762.8,82.3"/><circle cx="26.6" cy="121.9" r="2.0"/><polygon points="76.6,118.9 77.1,119.6 75.2,119.9 82.3,125.4 79.4,116.9 78.5,118.6 78.0,117.9"/><circle cx="132.9" cy="121.9" r="2.0"/><polygon points="189.1,121.3 188.5,121.3 189.1,120.1 183.1,121.9 189.1,123.7 188.5,122.5 189.1,122.5"/><polygon points="248.4,130.7 244.2,125.1 248.6,124.3 231.8,111.9 239.0,131.5 241.0,127.5 245.2,133.1"/><polygon points="302.3,129.0 298.1,124.7 302.3,123.3 283.9,113.4 293.8,131.8 295.2,127.5 299.5,131.8"/><polygon points="357.7,123.5 351.9,121.7 355.0,118.5 334.1,118.4 351.5,130.0 350.7,125.5 356.5,127.3"/><polygon points="394.9,122.1 393.6,121.8 395.5,119.5 381.6,120.4 393.7,127.3 393.0,124.4 394.3,124.7"/><polygon points="449.4,120.8 447.8,120.7 449.6,117.6 433.3,121.4 449.0,127.2 447.6,123.9 449.2,124.0"/><polygon points="508.5,112.1 494.4,119.7 494.3,115.2 479.5,129.9 499.9,125.8 496.3,123.2 510.4,115.7"/><polygon points="559.8,124.5 553.6,122.1 556.9,119.1 536.1,117.4 552.6,130.3 552.2,125.8 558.4,128.3"/><polygon points="597.3,112.2 597.6,114.4 593.4,113.0 602.3,131.9 605.3,111.2 601.6,113.8 601.3,111.6"/><polygon points="660.2,114.4 658.8,115.6 657.9,111.4 646.5,127.9 665.1,120.4 661.2,118.6 662.7,117.4"/><polygon points="705.6,117.0 705.7,118.0 703.6,117.2 707.6,126.9 709.6,116.6 707.7,117.8 707.6,116.8"/><polygon points="759.9,119.9 759.9,120.3 759.1,119.9 760.3,123.9 761.5,119.9 760.7,120.3 760.7,119.9"/><polygon points="16.0,160.9 18.8,161.7 15.7,165.0 36.6,165.0 19.2,153.5 19.9,157.9 17.2,157.1"/><circle cx="79.8" cy="162.0" r="2.0"/><polygon points="129.7,164.2 130.4,163.9 130.3,165.6 136.4,160.5 128.5,161.4 129.8,162.5 129.1,162.8"/><polygon points="188.1,159.0 187.6,159.5 187.1,158.0 183.6,164.5 190.1,161.0 188.6,160.5 189.1,160.0"/><polygon points="245.1,165.0 244.1,164.2 246.7,163.0 234.3,158.0 241.9,169.0 242.5,166.2 243.5,167.0"/><polygon points="296.4,175.2 295.0,166.0 299.3,167.4 290.4,148.5 287.4,169.2 291.1,166.6 292.4,175.8"/><polygon points="355.5,162.1 353.6,161.7 356.3,158.3 336.1,160.0 353.9,169.7 352.8,165.5 354.7,165.9"/><polygon points="399.2,160.5 395.2,160.3 397.4,156.4 377.1,161.5 396.8,168.4 395.0,164.3 399.0,164.5"/><polygon points="459.2,147.8 436.2,162.9 435.7,158.5 422.3,174.5 442.3,168.5 438.4,166.3 461.4,151.2"/><polygon points="504.9,153.3 497.3,157.9 496.9,153.5 483.0,169.0 503.2,163.7 499.4,161.4 507.0,156.7"/><polygon points="562.7,160.5 550.7,160.1 552.8,156.2 532.6,161.5 552.4,168.2 550.5,164.1 562.6,164.5"/><polygon points="613.5,149.4 599.7,160.3 598.8,155.9 586.8,173.0 606.2,165.4 602.2,163.5 616.0,152.6"/><polygon points="656.2,160.0 655.7,160.3 655.6,159.0 651.5,163.5 657.4,162.0 656.2,161.3 656.8,161.0"/><circle cx="707.1" cy="162.0" r="2.0"/><polygon points="759.0,155.5 759.0,156.8 756.4,155.5 760.3,168.5 764.2,155.5 761.6,156.8 761.6,155.5"/><circle cx="26.6" cy="202.1" r="2.0"/><circle cx="79.8" cy="202.1" r="2.0"/><circle cx="132.9" cy="202.1" r="2.0"/><circle cx="186.1" cy="202.1" r="2.0"/><polygon points="240.1,206.1 240.1,205.3 241.7,206.1 239.3,198.1 236.9,206.1 238.5,205.3 238.5,206.1"/><polygon points="285.1,199.4 286.4,200.2 283.5,202.0 298.9,206.1 288.3,194.2 288.0,197.6 286.7,196.8"/><polygon points="356.2,189.2 345.2,199.7 343.9,195.4 333.6,213.6 352.2,204.1 348.0,202.6 359.0,192.1"/><polygon points="397.6,187.8 387.2,200.1 385.5,196.0 377.1,215.1 394.6,203.7 390.3,202.7 400.6,190.4"/><polygon points="436.0,206.8 437.2,206.1 437.4,209.2 447.3,198.6 433.2,202.0 435.8,203.7 434.6,204.4"/><polygon points="499.2,210.0 498.6,208.3 502.6,208.8 491.5,193.6 492.4,212.4 495.2,209.5 495.8,211.2"/><polygon points="543.0,199.9 543.8,200.5 541.8,201.5 551.6,205.1 545.4,196.7 545.0,198.9 544.2,198.3"/><polygon points="598.0,206.3 598.7,205.6 599.4,207.7 604.3,198.6 595.2,203.5 597.3,204.2 596.6,204.9"/><circle cx="654.0" cy="202.1" r="2.0"/><polygon points="700.6,206.0 702.0,205.5 701.6,208.8 714.1,199.6 698.6,200.4 701.0,202.7 699.6,203.2"/><polygon points="758.9,195.1 758.9,196.5 756.1,195.1 760.3,209.1 764.5,195.1 761.7,196.5 761.7,195.1"/><circle cx="26.6" cy="242.2" r="2.0"/><circle cx="79.8" cy="242.2" r="2.0"/><circle cx="132.9" cy="242.2" r="2.0"/><polygon points="180.3,239.2 181.3,240.0 178.7,241.2 191.1,246.2 183.5,235.2 182.9,238.0 181.9,237.2"/><polygon points="236.3,235.0 236.6,236.5 233.3,235.6 240.8,249.7 242.3,233.8 239.6,235.9 239.3,234.4"/><polygon points="290.9,237.3 291.0,238.3 288.9,237.5 292.9,247.2 294.9,236.9 293.0,238.1 292.9,237.1"/><polygon points="335.8,240.0 337.6,240.8 334.2,243.6 354.6,246.2 339.0,232.8 339.2,237.2 337.4,236.4"/><polygon points="379.5,243.4 381.2,243.5 379.3,246.8 396.6,242.7 379.9,236.6 381.4,240.1 379.7,240.0"/><polygon points="428.2,251.0 440.1,245.1 440.1,249.5 455.3,235.2 434.7,238.8 438.3,241.5 426.4,247.4"/><polygon points="489.5,251.9 491.6,249.2 493.6,253.3 501.0,233.7 484.0,246.0 488.4,246.8 486.4,249.5"/><polygon points="541.9,244.9 543.1,244.6 542.5,247.3 553.6,240.7 540.7,240.1 542.5,242.2 541.3,242.5"/><polygon points="592.0,245.0 593.8,244.8 592.4,248.6 609.8,241.2 591.2,237.8 593.4,241.2 591.6,241.4"/><polygon points="651.2,243.8 651.8,243.6 651.6,245.0 657.0,241.2 650.4,241.4 651.4,242.4 650.8,242.6"/><polygon points="710.6,241.5 709.9,241.5 710.6,240.1 703.6,242.2 710.6,244.3 709.9,242.9 710.6,242.9"/><polygon points="759.4,237.7 759.4,238.6 757.6,237.7 760.3,246.7 763.0,237.7 761.2,238.6 761.2,237.7"/><circle cx="26.6" cy="282.3" r="2.0"/><circle cx="79.8" cy="282.3" r="2.0"/><circle cx="132.9" cy="282.3" r="2.0"/><polygon points="183.1,275.1 183.4,276.6 180.1,275.7 187.6,289.8 189.1,273.9 186.4,276.0 186.1,274.5"/><polygon points="230.3,284.1 232.1,284.1 230.3,287.7 248.3,282.3 230.3,276.9 232.1,280.5 230.3,280.5"/><polygon points="285.3,288.4 286.9,287.5 287.1,291.6 300.4,277.8 281.7,282.0 285.1,284.3 283.5,285.2"/><polygon points="345.9,286.4 346.0,285.6 347.5,286.6 346.1,278.3 342.7,286.0 344.4,285.4 344.3,286.2"/><polygon points="388.5,284.3 388.5,283.9 389.3,284.3 388.1,280.3 386.9,284.3 387.7,283.9 387.7,284.3"/><polygon points="440.3,279.9 440.4,280.4 439.3,280.1 441.8,284.8 442.3,279.5 441.4,280.2 441.3,279.7"/><polygon points="505.6,281.3 501.6,281.0 503.9,277.2 483.5,281.3 502.8,289.1 501.2,285.0 505.3,285.3"/><polygon points="555.2,272.4 550.3,277.0 549.0,272.7 538.6,290.8 557.3,281.5 553.1,279.9 558.0,275.3"/><polygon points="594.4,289.3 595.9,288.2 596.6,292.3 608.3,276.8 590.0,283.3 593.7,285.2 592.2,286.3"/><polygon points="656.5,281.8 656.0,281.8 656.5,280.8 651.5,282.3 656.5,283.8 656.0,282.8 656.5,282.8"/><circle cx="707.1" cy="282.3" r="2.0"/><circle cx="760.3" cy="282.3" r="2.0"/><circle cx="26.6" cy="322.5" r="2.0"/><circle cx="79.8" cy="322.5" r="2.0"/><polygon points="135.8,321.4 135.2,321.5 135.6,320.2 129.9,323.0 136.2,323.8 135.4,322.7 136.0,322.6"/><polygon points="193.7,321.5 192.2,321.4 193.9,318.5 178.6,322.0 193.3,327.5 192.0,324.4 193.5,324.5"/><polygon points="236.6,322.0 237.1,322.2 236.2,323.0 241.8,323.5 237.4,320.0 237.5,321.2 237.0,321.0"/><polygon points="289.9,325.6 290.5,325.1 290.9,326.8 295.4,320.0 287.9,323.2 289.5,323.9 288.9,324.4"/><polygon points="346.4,326.5 346.4,325.7 348.0,326.5 345.6,318.5 343.2,326.5 344.8,325.7 344.8,326.5"/><polygon points="388.7,325.5 388.7,324.9 389.9,325.5 388.1,319.5 386.3,325.5 387.5,324.9 387.5,325.5"/><polygon points="442.4,330.6 442.5,329.0 445.6,330.8 441.8,314.5 436.0,330.2 439.3,328.8 439.2,330.4"/><polygon points="498.4,332.1 497.9,329.7 502.3,330.9 492.5,312.5 490.5,333.2 494.0,330.5 494.5,332.8"/><polygon points="539.3,320.0 540.8,320.8 537.7,323.0 555.1,326.5 542.5,314.0 542.4,317.8 540.9,317.0"/><polygon points="597.7,325.2 598.4,324.8 598.5,326.6 604.3,320.5 596.1,322.4 597.6,323.4 596.9,323.8"/><polygon points="652.0,325.5 652.5,325.0 653.0,326.5 656.5,320.0 650.0,323.5 651.5,324.0 651.0,324.5"/><polygon points="704.4,327.2 705.1,326.4 706.0,328.6 710.6,318.5 701.2,324.4 703.5,325.0 702.8,325.8"/><polygon points="758.9,325.9 759.3,325.3 760.1,326.7 762.3,319.5 756.5,324.3 758.1,324.5 757.7,325.1"/></g>
<rect width="765.6" height="340.5" fill="none" stroke="#000" stroke-width="3"/>
</g>
<text x="92.5" y="597.5" font-size="41" font-weight="bold">c</text>
<text x="71.7" y="716.8" font-size="30" text-anchor="end">60°N</text>
<text x="71.7" y="844.5" font-size="30" text-anchor="end">30°N</text>
<text x="219.1" y="1006.2" font-size="30" text-anchor="middle">120°E</text>
<text x="474.3" y="1006.2" font-size="30" text-anchor="middle">180°E</text>
<text x="729.5" y="1006.2" font-size="30" text-anchor="middle">120°W</text>
<polygon points="90.5,1032.8 125.7,1013.8 125.7,1051.9" fill="#313695"/>
<polygon points="858.1,1032.8 824.3,1013.8 824.3,1051.9" fill="#a50026"/>
<rect x="125.7" y="1013.8" width="698.6" height="38.1" fill="url(#gt)"/>
<polygon points="90.5,1032.8 125.7,1013.8 824.3,1013.8 858.1,1032.8 824.3,1051.9 125.7,1051.9" fill="none" stroke="#000" stroke-width="3"/>
<line x1="125.7" y1="1051.9" x2="125.7" y2="1066.4" stroke="#000" stroke-width="3"/>
<text x="125.7" y="1103.9" font-size="30" text-anchor="middle">−3</text>
<line x1="242.1" y1="1051.9" x2="242.1" y2="1066.4" stroke="#000" stroke-width="3"/>
<text x="242.1" y="1103.9" font-size="30" text-anchor="middle">−2</text>
<line x1="358.6" y1="1051.9" x2="358.6" y2="1066.4" stroke="#000" stroke-width="3"/>
<text x="358.6" y="1103.9" font-size="30" text-anchor="middle">−1</text>
<line x1="475.0" y1="1051.9" x2="475.0" y2="1066.4" stroke="#000" stroke-width="3"/>
<text x="475.0" y="1103.9" font-size="30" text-anchor="middle">0</text>
<line x1="591.4" y1="1051.9" x2="591.4" y2="1066.4" stroke="#000" stroke-width="3"/>
<text x="591.4" y="1103.9" font-size="30" text-anchor="middle">1</text>
<line x1="707.9" y1="1051.9" x2="707.9" y2="1066.4" stroke="#000" stroke-width="3"/>
<text x="707.9" y="1103.9" font-size="30" text-anchor="middle">2</text>
<line x1="824.3" y1="1051.9" x2="824.3" y2="1066.4" stroke="#000" stroke-width="3"/>
<text x="824.3" y="1103.9" font-size="30" text-anchor="middle">3</text>
<text x="474.3" y="1148.5" font-size="30" text-anchor="middle">Air temperature (°C)</text>
<g transform="translate(972.20,621.10)">
<g clip-path="url(#axclip)">
<g filter="url(#blur)"><rect x="-21.3" y="-21.3" fill="#0000ff"/><rect x="0.0" y="-21.3" fill="#0000ff"/><rect x="21.3" y="-21.3" fill="#0000ff"/><rect x="42.5" y="-21.3" fill="#0000ff"/><rect x="63.8" y="-21.3" fill="#0000ff"/><rect x="85.1" y="-21.3" fill="#0000ff"/><rect x="106.3" y="-21.3" fill="#0000ff"/><rect x="127.6" y="-21.3" fill="#0000ff"/><rect x="148.9" y="-21.3" fill="#0000ff"/><rect x="170.1" y="-21.3" fill="#0000ff"/><rect x="191.4" y="-21.3" fill="#0000ff"/><rect x="212.7" y="-21.3" fill="#0000ff"/><rect x="233.9" y="-21.3" fill="#0000ff"/><rect x="255.2" y="-21.3" fill="#1c1cff"/><rect x="276.5" y="-21.3" fill="#3838ff"/><rect x="297.7" y="-21.3" fill="#5454ff"/><rect x="319.0" y="-21.3" fill="#7070ff"/><rect x="340.3" y="-21.3" fill="#aaaaff"/><rect x="361.5" y="-21.3" fill="#c6c6ff"/><rect x="382.8" y="-21.3" fill="#e2e2ff"/><rect x="404.1" y="-21.3" fill="#fffefe"/><rect x="425.3" y="-21.3" fill="#ffe2e2"/><rect x="446.6" y="-21.3" fill="#ffc6c6"/><rect x="467.9" y="-21.3" fill="#ffaaaa"/><rect x="489.1" y="-21.3" fill="#ffaaaa"/><rect x="510.4" y="-21.3" fill="#ffaaaa"/><rect x="531.7" y="-21.3" fill="#ffaaaa"/><rect x="552.9" y="-21.3" fill="#ffaaaa"/><rect x="574.2" y="-21.3" fill="#ffc6c6"/><rect x="595.5" y="-21.3" fill="#ffc6c6"/><rect x="616.7" y="-21.3" fill="#ffc6c6"/><rect x="638.0" y="-21.3" fill="#ffe2e2"/><rect x="659.3" y="-21.3" fill="#ffe2e2"/><rect x="680.5" y="-21.3" fill="#ffe2e2"/><rect x="701.8" y="-21.3" fill="#fffefe"/><rect x="723.1" y="-21.3" fill="#fffefe"/><rect x="744.3" y="-21.3" fill="#fffefe"/><rect x="765.6" y="-21.3" fill="#fffefe"/><rect x="-21.3" y="0.0" fill="#0000ff"/><rect x="0.0" y="0.0" fill="#0000ff"/><rect x="21.3" y="0.0" fill="#0000ff"/><rect x="42.5" y="0.0" fill="#0000ff"/><rect x="63.8" y="0.0" fill="#0000ff"/><rect x="85.1" y="0.0" fill="#0000ff"/><rect x="106.3" y="0.0" fill="#0000ff"/><rect x="127.6" y="0.0" fill="#0000ff"/><rect x="148.9" y="0.0" fill="#0000ff"/><rect x="170.1" y="0.0" fill="#0000ff"/><rect x="191.4" y="0.0" fill="#0000ff"/><rect x="212.7" y="0.0" fill="#0000ff"/><rect x="233.9" y="0.0" fill="#0000ff"/><rect x="255.2" y="0.0" fill="#1c1cff"/><rect x="276.5" y="0.0" fill="#3838ff"/><rect x="297.7" y="0.0" fill="#5454ff"/><rect x="319.0" y="0.0" fill="#7070ff"/><rect x="340.3" y="0.0" fill="#aaaaff"/><rect x="361.5" y="0.0" fill="#c6c6ff"/><rect x="382.8" y="0.0" fill="#e2e2ff"/><rect x="404.1" y="0.0" fill="#fffefe"/><rect x="425.3" y="0.0" fill="#ffe2e2"/><rect x="446.6" y="0.0" fill="#ffc6c6"/><rect x="467.9" y="0.0" fill="#ffaaaa"/><rect x="489.1" y="0.0" fill="#ffaaaa"/><rect x="510.4" y="0.0" fill="#ffaaaa"/><rect x="531.7" y="0.0" fill="#ffaaaa"/><rect x="552.9" y="0.0" fill="#ffaaaa"/><rect x="574.2" y="0.0" fill="#ffc6c6"/><rect x="595.5" y="0.0" fill="#ffc6c6"/><rect x="616.7" y="0.0" fill="#ffc6c6"/><rect x="638.0" y="0.0" fill="#ffe2e2"/><rect x="659.3" y="0.0" fill="#ffe2e2"/><rect x="680.5" y="0.0" fill="#ffe2e2"/><rect x="701.8" y="0.0" fill="#fffefe"/><rect x="723.1" y="0.0" fill="#fffefe"/><rect x="744.3" y="0.0" fill="#fffefe"/><rect x="765.6" y="0.0" fill="#fffefe"/><rect x="-21.3" y="21.3" fill="#3838ff"/><rect x="0.0" y="21.3" fill="#3838ff"/><rect x="21.3" y="21.3" fill="#3838ff"/><rect x="42.5" y="21.3" fill="#3838ff"/><rect x="63.8" y="21.3" fill="#5454ff"/><rect x="85.1" y="21.3" fill="#5454ff"/><rect x="106.3" y="21.3" fill="#5454ff"/><rect x="127.6" y="21.3" fill="#5454ff"/><rect x="148.9" y="21.3" fill="#7070ff"/><rect x="170.1" y="21.3" fill="#7070ff"/><rect x="191.4" y="21.3" fill="#7070ff"/><rect x="212.7" y="21.3" fill="#8e8eff"/><rect x="233.9" y="21.3" fill="#8e8eff"/><rect x="255.2" y="21.3" fill="#aaaaff"/><rect x="276.5" y="21.3" fill="#c6c6ff"/><rect x="297.7" y="21.3" fill="#e2e2ff"/><rect x="319.0" y="21.3" fill="#fffefe"/><rect x="340.3" y="21.3" fill="#ffe2e2"/><rect x="361.5" y="21.3" fill="#ffc6c6"/><rect x="382.8" y="21.3" fill="#ff5454"/><rect x="404.1" y="21.3" fill="#ff3838"/><rect x="425.3" y="21.3" fill="#ff1c1c"/><rect x="446.6" y="21.3" fill="#ff0000"/><rect x="467.9" y="21.3" fill="#ff0000"/><rect x="489.1" y="21.3" fill="#ff0000"/><rect x="510.4" y="21.3" fill="#ff0000"/><rect x="531.7" y="21.3" fill="#ff0000"/><rect x="552.9" y="21.3" fill="#ff1c1c"/><rect x="574.2" y="21.3" fill="#ff1c1c"/><rect x="595.5" y="21.3" fill="#ff3838"/><rect x="616.7" y="21.3" fill="#ff5454"/><rect x="638.0" y="21.3" fill="#ff8e8e"/><rect x="659.3" y="21.3" fill="#ffaaaa"/><rect x="680.5" y="21.3" fill="#ffc6c6"/><rect x="701.8" y="21.3" fill="#ffe2e2"/><rect x="723.1" y="21.3" fill="#ffe2e2"/><rect x="744.3" y="21.3" fill="#fffefe"/><rect x="765.6" y="21.3" fill="#fffefe"/><rect x="-21.3" y="42.6" fill="#7070ff"/><rect x="0.0" y="42.6" fill="#7070ff"/><rect x="21.3" y="42.6" fill="#7070ff"/><rect x="42.5" y="42.6" fill="#7070ff"/><rect x="63.8" y="42.6" fill="#5454ff"/><rect x="85.1" y="42.6" fill="#5454ff"/><rect x="106.3" y="42.6" fill="#7070ff"/><rect x="127.6" y="42.6" fill="#7070ff"/><rect x="148.9" y="42.6" fill="#aaaaff"/><rect x="170.1" y="42.6" fill="#c6c6ff"/><rect x="191.4" y="42.6" fill="#e2e2ff"/><rect x="212.7" y="42.6" fill="#ffe2e2"/><rect x="233.9" y="42.6" fill="#ffc6c6"/><rect x="255.2" y="42.6" fill="#ffc6c6"/><rect x="276.5" y="42.6" fill="#ffc6c6"/><rect x="297.7" y="42.6" fill="#ffc6c6"/><rect x="319.0" y="42.6" fill="#ffaaaa"/><rect x="340.3" y="42.6" fill="#ff5454"/><rect x="361.5" y="42.6" fill="#ff1c1c"/><rect x="382.8" y="42.6" fill="#ff0000"/><rect x="404.1" y="42.6" fill="#ff0000"/><rect x="425.3" y="42.6" fill="#ff0000"/><rect x="446.6" y="42.6" fill="#ff0000"/><rect x="467.9" y="42.6" fill="#ff0000"/><rect x="489.1" y="42.6" fill="#ff0000"/><rect x="510.4" y="42.6" fill="#ff0000"/><rect x="531.7" y="42.6" fill="#ff0000"/><rect x="552.9" y="42.6" fill="#ff0000"/><rect x="574.2" y="42.6" fill="#ff0000"/><rect x="595.5" y="42.6" fill="#ff0000"/><rect x="616.7" y="42.6" fill="#ff1c1c"/><rect x="638.0" y="42.6" fill="#ff5454"/><rect x="659.3" y="42.6" fill="#ff8e8e"/><rect x="680.5" y="42.6" fill="#ffaaaa"/><rect x="701.8" y="42.6" fill="#ffc6c6"/><rect x="723.1" y="42.6" fill="#ffe2e2"/><rect x="744.3" y="42.6" fill="#e2e2ff"/><rect x="765.6" y="42.6" fill="#e2e2ff"/><rect x="-21.3" y="63.8" fill="#8e8eff"/><rect x="0.0" y="63.8" fill="#8e8eff"/><rect x="21.3" y="63.8" fill="#7070ff"/><rect x="42.5" y="63.8" fill="#7070ff"/><rect x="63.8" y="63.8" fill="#5454ff"/><rect x="85.1" y="63.8" fill="#5454ff"/><rect x="106.3" y="63.8" fill="#5454ff"/><rect x="127.6" y="63.8" fill="#7070ff"/><rect x="148.9" y="63.8" fill="#8e8eff"/><rect x="170.1" y="63.8" fill="#aaaaff"/><rect x="191.4" y="63.8" fill="#e2e2ff"/><rect x="212.7" y="63.8" fill="#ffe2e2"/><rect x="233.9" y="63.8" fill="#ffc6c6"/><rect x="255.2" y="63.8" fill="#ffc6c6"/><rect x="276.5" y="63.8" fill="#ffc6c6"/><rect x="297.7" y="63.8" fill="#ffaaaa"/><rect x="319.0" y="63.8" fill="#ff7070"/><rect x="340.3" y="63.8" fill="#ff3838"/><rect x="361.5" y="63.8" fill="#ff0000"/><rect x="382.8" y="63.8" fill="#ff0000"/><rect x="404.1" y="63.8" fill="#ff0000"/><rect x="425.3" y="63.8" fill="#ff0000"/><rect x="446.6" y="63.8" fill="#ff0000"/><rect x="467.9" y="63.8" fill="#ff0000"/><rect x="489.1" y="63.8" fill="#ff0000"/><rect x="510.4" y="63.8" fill="#ff0000"/><rect x="531.7" y="63.8" fill="#ff0000"/><rect x="552.9" y="63.8" fill="#ff0000"/><rect x="574.2" y="63.8" fill="#ff0000"/><rect x="595.5" y="63.8" fill="#ff0000"/><rect x="616.7" y="63.8" fill="#ff0000"/><rect x="638.0" y="63.8" fill="#ff1c1c"/><rect x="659.3" y="63.8" fill="#ff5454"/><rect x="680.5" y="63.8" fill="#ff7070"/><rect x="701.8" y="63.8" fill="#ff8e8e"/><rect x="723.1" y="63.8" fill="#ffaaaa"/><rect x="744.3" y="63.8" fill="#ffc6c6"/><rect x="765.6" y="63.8" fill="#ffc6c6"/><rect x="-21.3" y="85.1" fill="#e2e2ff"/><rect x="0.0" y="85.1" fill="#e2e2ff"/><rect x="21.3" y="85.1" fill="#c6c6ff"/><rect x="42.5" y="85.1" fill="#8e8eff"/><rect x="63.8" y="85.1" fill="#7070ff"/><rect x="85.1" y="85.1" fill="#7070ff"/><rect x="106.3" y="85.1" fill="#7070ff"/><rect x="127.6" y="85.1" fill="#7070ff"/><rect x="148.9" y="85.1" fill="#7070ff"/><rect x="170.1" y="85.1" fill="#8e8eff"/><rect x="191.4" y="85.1" fill="#aaaaff"/><rect x="212.7" y="85.1" fill="#c6c6ff"/><rect x="233.9" y="85.1" fill="#e2e2ff"/><rect x="255.2" y="85.1" fill="#fffefe"/><rect x="276.5" y="85.1" fill="#ffc6c6"/><rect x="297.7" y="85.1" fill="#ff8e8e"/><rect x="319.0" y="85.1" fill="#ff5454"/><rect x="340.3" y="85.1" fill="#ff1c1c"/><rect x="361.5" y="85.1" fill="#ff0000"/><rect x="382.8" y="85.1" fill="#ff0000"/><rect x="404.1" y="85.1" fill="#ff0000"/><rect x="425.3" y="85.1" fill="#ff0000"/><rect x="446.6" y="85.1" fill="#ff0000"/><rect x="467.9" y="85.1" fill="#ff0000"/><rect x="489.1" y="85.1" fill="#ff0000"/><rect x="510.4" y="85.1" fill="#ff0000"/><rect x="531.7" y="85.1" fill="#ff0000"/><rect x="552.9" y="85.1" fill="#ff0000"/><rect x="574.2" y="85.1" fill="#ff0000"/><rect x="595.5" y="85.1" fill="#ff0000"/><rect x="616.7" y="85.1" fill="#ff0000"/><rect x="638.0" y="85.1" fill="#ff0000"/><rect x="659.3" y="85.1" fill="#ff1c1c"/><rect x="680.5" y="85.1" fill="#ff3838"/><rect x="701.8" y="85.1" fill="#ff5454"/><rect x="723.1" y="85.1" fill="#ff8e8e"/><rect x="744.3" y="85.1" fill="#ffaaaa"/><rect x="765.6" y="85.1" fill="#ffaaaa"/><rect x="-21.3" y="106.4" fill="#ffc6c6"/><rect x="0.0" y="106.4" fill="#ffc6c6"/><rect x="21.3" y="106.4" fill="#ffc6c6"/><rect x="42.5" y="106.4" fill="#e2e2ff"/><rect x="63.8" y="106.4" fill="#aaaaff"/><rect x="85.1" y="106.4" fill="#8e8eff"/><rect x="106.3" y="106.4" fill="#7070ff"/><rect x="127.6" y="106.4" fill="#7070ff"/><rect x="148.9" y="106.4" fill="#7070ff"/><rect x="170.1" y="106.4" fill="#5454ff"/><rect x="191.4" y="106.4" fill="#7070ff"/><rect x="212.7" y="106.4" fill="#8e8eff"/><rect x="233.9" y="106.4" fill="#c6c6ff"/><rect x="255.2" y="106.4" fill="#fffefe"/><rect x="276.5" y="106.4" fill="#ffaaaa"/><rect x="297.7" y="106.4" fill="#ff5454"/><rect x="319.0" y="106.4" fill="#ff1c1c"/><rect x="340.3" y="106.4" fill="#ff0000"/><rect x="361.5" y="106.4" fill="#ff0000"/><rect x="382.8" y="106.4" fill="#ff0000"/><rect x="404.1" y="106.4" fill="#ff0000"/><rect x="425.3" y="106.4" fill="#ff0000"/><rect x="446.6" y="106.4" fill="#ff0000"/><rect x="467.9" y="106.4" fill="#ff0000"/><rect x="489.1" y="106.4" fill="#ff0000"/><rect x="510.4" y="106.4" fill="#ff0000"/><rect x="531.7" y="106.4" fill="#ff0000"/><rect x="552.9" y="106.4" fill="#ff0000"/><rect x="574.2" y="106.4" fill="#ff0000"/><rect x="595.5" y="106.4" fill="#ff0000"/><rect x="616.7" y="106.4" fill="#ff1c1c"/><rect x="638.0" y="106.4" fill="#ff1c1c"/><rect x="659.3" y="106.4" fill="#ff3838"/><rect x="680.5" y="106.4" fill="#ff3838"/><rect x="701.8" y="106.4" fill="#ff5454"/><rect x="723.1" y="106.4" fill="#ff5454"/><rect x="744.3" y="106.4" fill="#ff7070"/><rect x="765.6" y="106.4" fill="#ff7070"/><rect x="-21.3" y="127.7" fill="#e2e2ff"/><rect x="0.0" y="127.7" fill="#e2e2ff"/><rect x="21.3" y="127.7" fill="#c6c6ff"/><rect x="42.5" y="127.7" fill="#c6c6ff"/><rect x="63.8" y="127.7" fill="#aaaaff"/><rect x="85.1" y="127.7" fill="#8e8eff"/><rect x="106.3" y="127.7" fill="#7070ff"/><rect x="127.6" y="127.7" fill="#7070ff"/><rect x="148.9" y="127.7" fill="#5454ff"/><rect x="170.1" y="127.7" fill="#5454ff"/><rect x="191.4" y="127.7" fill="#7070ff"/><rect x="212.7" y="127.7" fill="#8e8eff"/><rect x="233.9" y="127.7" fill="#aaaaff"/><rect x="255.2" y="127.7" fill="#e2e2ff"/><rect x="276.5" y="127.7" fill="#ffc6c6"/><rect x="297.7" y="127.7" fill="#ff7070"/><rect x="319.0" y="127.7" fill="#ff3838"/><rect x="340.3" y="127.7" fill="#ff1c1c"/><rect x="361.5" y="127.7" fill="#ff0000"/><rect x="382.8" y="127.7" fill="#ff0000"/><rect x="404.1" y="127.7" fill="#ff0000"/><rect x="425.3" y="127.7" fill="#ff0000"/><rect x="446.6" y="127.7" fill="#ff0000"/><rect x="467.9" y="127.7" fill="#ff0000"/><rect x="489.1" y="127.7" fill="#ff0000"/><rect x="510.4" y="127.7" fill="#ff0000"/><rect x="531.7" y="127.7" fill="#ff0000"/><rect x="552.9" y="127.7" fill="#ff0000"/><rect x="574.2" y="127.7" fill="#ff0000"/><rect x="595.5" y="127.7" fill="#ff1c1c"/><rect x="616.7" y="127.7" fill="#ff7070"/><rect x="638.0" y="127.7" fill="#ffaaaa"/><rect x="659.3" y="127.7" fill="#ffaaaa"/><rect x="680.5" y="127.7" fill="#ff8e8e"/><rect x="701.8" y="127.7" fill="#ff5454"/><rect x="723.1" y="127.7" fill="#ff3838"/><rect x="744.3" y="127.7" fill="#ff3838"/><rect x="765.6" y="127.7" fill="#ff3838"/><rect x="-21.3" y="149.0" fill="#ffc6c6"/><rect x="0.0" y="149.0" fill="#ffc6c6"/><rect x="21.3" y="149.0" fill="#ffe2e2"/><rect x="42.5" y="149.0" fill="#c6c6ff"/><rect x="63.8" y="149.0" fill="#aaaaff"/><rect x="85.1" y="149.0" fill="#aaaaff"/><rect x="106.3" y="149.0" fill="#aaaaff"/><rect x="127.6" y="149.0" fill="#8e8eff"/><rect x="148.9" y="149.0" fill="#8e8eff"/><rect x="170.1" y="149.0" fill="#8e8eff"/><rect x="191.4" y="149.0" fill="#7070ff"/><rect x="212.7" y="149.0" fill="#8e8eff"/><rect x="233.9" y="149.0" fill="#c6c6ff"/><rect x="255.2" y="149.0" fill="#fffefe"/><rect x="276.5" y="149.0" fill="#ffe2e2"/><rect x="297.7" y="149.0" fill="#ffaaaa"/><rect x="319.0" y="149.0" fill="#ff8e8e"/><rect x="340.3" y="149.0" fill="#ff5454"/><rect x="361.5" y="149.0" fill="#ff3838"/><rect x="382.8" y="149.0" fill="#ff3838"/><rect x="404.1" y="149.0" fill="#ff3838"/><rect x="425.3" y="149.0" fill="#ff3838"/><rect x="446.6" y="149.0" fill="#ff3838"/><rect x="467.9" y="149.0" fill="#ff3838"/><rect x="489.1" y="149.0" fill="#ff3838"/><rect x="510.4" y="149.0" fill="#ff3838"/><rect x="531.7" y="149.0" fill="#ff3838"/><rect x="552.9" y="149.0" fill="#ff3838"/><rect x="574.2" y="149.0" fill="#ff5454"/><rect x="595.5" y="149.0" fill="#ff7070"/><rect x="616.7" y="149.0" fill="#ffaaaa"/><rect x="638.0" y="149.0" fill="#ffc6c6"/><rect x="659.3" y="149.0" fill="#ffaaaa"/><rect x="680.5" y="149.0" fill="#ff8e8e"/><rect x="701.8" y="149.0" fill="#ff7070"/><rect x="723.1" y="149.0" fill="#ff3838"/><rect x="744.3" y="149.0" fill="#ff3838"/><rect x="765.6" y="149.0" fill="#ff3838"/><rect x="-21.3" y="170.2" fill="#ffaaaa"/><rect x="0.0" y="170.2" fill="#ffaaaa"/><rect x="21.3" y="170.2" fill="#ffc6c6"/><rect x="42.5" y="170.2" fill="#e2e2ff"/><rect x="63.8" y="170.2" fill="#c6c6ff"/><rect x="85.1" y="170.2" fill="#aaaaff"/><rect x="106.3" y="170.2" fill="#aaaaff"/><rect x="127.6" y="170.2" fill="#aaaaff"/><rect x="148.9" y="170.2" fill="#8e8eff"/><rect x="170.1" y="170.2" fill="#8e8eff"/><rect x="191.4" y="170.2" fill="#aaaaff"/><rect x="212.7" y="170.2" fill="#aaaaff"/><rect x="233.9" y="170.2" fill="#c6c6ff"/><rect x="255.2" y="170.2" fill="#fffefe"/><rect x="276.5" y="170.2" fill="#ffe2e2"/><rect x="297.7" y="170.2" fill="#ffc6c6"/><rect x="319.0" y="170.2" fill="#ffaaaa"/><rect x="340.3" y="170.2" fill="#ffaaaa"/><rect x="361.5" y="170.2" fill="#ffaaaa"/><rect x="382.8" y="170.2" fill="#ffe2e2"/><rect x="404.1" y="170.2" fill="#ffe2e2"/><rect x="425.3" y="170.2" fill="#ffe2e2"/><rect x="446.6" y="170.2" fill="#fffefe"/><rect x="467.9" y="170.2" fill="#fffefe"/><rect x="489.1" y="170.2" fill="#ffe2e2"/><rect x="510.4" y="170.2" fill="#ffc6c6"/><rect x="531.7" y="170.2" fill="#ffc6c6"/><rect x="552.9" y="170.2" fill="#ffc6c6"/><rect x="574.2" y="170.2" fill="#ffc6c6"/><rect x="595.5" y="170.2" fill="#ffe2e2"/><rect x="616.7" y="170.2" fill="#ffe2e2"/><rect x="638.0" y="170.2" fill="#ffe2e2"/><rect x="659.3" y="170.2" fill="#ffc6c6"/><rect x="680.5" y="170.2" fill="#ffaaaa"/><rect x="701.8" y="170.2" fill="#ff8e8e"/><rect x="723.1" y="170.2" fill="#ff7070"/><rect x="744.3" y="170.2" fill="#ff7070"/><rect x="765.6" y="170.2" fill="#ff7070"/><rect x="-21.3" y="191.5" fill="#ffaaaa"/><rect x="0.0" y="191.5" fill="#ffaaaa"/><rect x="21.3" y="191.5" fill="#ff8e8e"/><rect x="42.5" y="191.5" fill="#aaaaff"/><rect x="63.8" y="191.5" fill="#aaaaff"/><rect x="85.1" y="191.5" fill="#aaaaff"/><rect x="106.3" y="191.5" fill="#c6c6ff"/><rect x="127.6" y="191.5" fill="#c6c6ff"/><rect x="148.9" y="191.5" fill="#c6c6ff"/><rect x="170.1" y="191.5" fill="#e2e2ff"/><rect x="191.4" y="191.5" fill="#e2e2ff"/><rect x="212.7" y="191.5" fill="#e2e2ff"/><rect x="233.9" y="191.5" fill="#e2e2ff"/><rect x="255.2" y="191.5" fill="#fffefe"/><rect x="276.5" y="191.5" fill="#ffe2e2"/><rect x="297.7" y="191.5" fill="#ffe2e2"/><rect x="319.0" y="191.5" fill="#fffefe"/><rect x="340.3" y="191.5" fill="#e2e2ff"/><rect x="361.5" y="191.5" fill="#c6c6ff"/><rect x="382.8" y="191.5" fill="#c6c6ff"/><rect x="404.1" y="191.5" fill="#aaaaff"/><rect x="425.3" y="191.5" fill="#8e8eff"/><rect x="446.6" y="191.5" fill="#8e8eff"/><rect x="467.9" y="191.5" fill="#aaaaff"/><rect x="489.1" y="191.5" fill="#c6c6ff"/><rect x="510.4" y="191.5" fill="#e2e2ff"/><rect x="531.7" y="191.5" fill="#fffefe"/><rect x="552.9" y="191.5" fill="#fffefe"/><rect x="574.2" y="191.5" fill="#fffefe"/><rect x="595.5" y="191.5" fill="#fffefe"/><rect x="616.7" y="191.5" fill="#fffefe"/><rect x="638.0" y="191.5" fill="#ffe2e2"/><rect x="659.3" y="191.5" fill="#ffe2e2"/><rect x="680.5" y="191.5" fill="#ffc6c6"/><rect x="701.8" y="191.5" fill="#ffaaaa"/><rect x="723.1" y="191.5" fill="#ff8e8e"/><rect x="744.3" y="191.5" fill="#ff8e8e"/><rect x="765.6" y="191.5" fill="#ff8e8e"/><rect x="-21.3" y="212.8" fill="#e2e2ff"/><rect x="0.0" y="212.8" fill="#e2e2ff"/><rect x="21.3" y="212.8" fill="#e2e2ff"/><rect x="42.5" y="212.8" fill="#e2e2ff"/><rect x="63.8" y="212.8" fill="#e2e2ff"/><rect x="85.1" y="212.8" fill="#fffefe"/><rect x="106.3" y="212.8" fill="#fffefe"/><rect x="127.6" y="212.8" fill="#fffefe"/><rect x="148.9" y="212.8" fill="#fffefe"/><rect x="170.1" y="212.8" fill="#fffefe"/><rect x="191.4" y="212.8" fill="#fffefe"/><rect x="212.7" y="212.8" fill="#fffefe"/><rect x="233.9" y="212.8" fill="#fffefe"/><rect x="255.2" y="212.8" fill="#fffefe"/><rect x="276.5" y="212.8" fill="#e2e2ff"/><rect x="297.7" y="212.8" fill="#c6c6ff"/><rect x="319.0" y="212.8" fill="#c6c6ff"/><rect x="340.3" y="212.8" fill="#aaaaff"/><rect x="361.5" y="212.8" fill="#aaaaff"/><rect x="382.8" y="212.8" fill="#aaaaff"/><rect x="404.1" y="212.8" fill="#8e8eff"/><rect x="425.3" y="212.8" fill="#8e8eff"/><rect x="446.6" y="212.8" fill="#8e8eff"/><rect x="467.9" y="212.8" fill="#aaaaff"/><rect x="489.1" y="212.8" fill="#c6c6ff"/><rect x="510.4" y="212.8" fill="#e2e2ff"/><rect x="531.7" y="212.8" fill="#fffefe"/><rect x="552.9" y="212.8" fill="#fffefe"/><rect x="574.2" y="212.8" fill="#fffefe"/><rect x="595.5" y="212.8" fill="#fffefe"/><rect x="616.7" y="212.8" fill="#fffefe"/><rect x="638.0" y="212.8" fill="#ffe2e2"/><rect x="659.3" y="212.8" fill="#ffe2e2"/><rect x="680.5" y="212.8" fill="#ffe2e2"/><rect x="701.8" y="212.8" fill="#ffc6c6"/><rect x="723.1" y="212.8" fill="#ffaaaa"/><rect x="744.3" y="212.8" fill="#ffaaaa"/><rect x="765.6" y="212.8" fill="#ffaaaa"/><rect x="-21.3" y="234.1" fill="#fffefe"/><rect x="0.0" y="234.1" fill="#fffefe"/><rect x="21.3" y="234.1" fill="#fffefe"/><rect x="42.5" y="234.1" fill="#fffefe"/><rect x="63.8" y="234.1" fill="#fffefe"/><rect x="85.1" y="234.1" fill="#fffefe"/><rect x="106.3" y="234.1" fill="#ffe2e2"/><rect x="127.6" y="234.1" fill="#ffe2e2"/><rect x="148.9" y="234.1" fill="#ffc6c6"/><rect x="170.1" y="234.1" fill="#ffc6c6"/><rect x="191.4" y="234.1" fill="#ffe2e2"/><rect x="212.7" y="234.1" fill="#ffe2e2"/><rect x="233.9" y="234.1" fill="#fffefe"/><rect x="255.2" y="234.1" fill="#e2e2ff"/><rect x="276.5" y="234.1" fill="#e2e2ff"/><rect x="297.7" y="234.1" fill="#c6c6ff"/><rect x="319.0" y="234.1" fill="#c6c6ff"/><rect x="340.3" y="234.1" fill="#c6c6ff"/><rect x="361.5" y="234.1" fill="#c6c6ff"/><rect x="382.8" y="234.1" fill="#c6c6ff"/><rect x="404.1" y="234.1" fill="#e2e2ff"/><rect x="425.3" y="234.1" fill="#e2e2ff"/><rect x="446.6" y="234.1" fill="#e2e2ff"/><rect x="467.9" y="234.1" fill="#fffefe"/><rect x="489.1" y="234.1" fill="#fffefe"/><rect x="510.4" y="234.1" fill="#ffe2e2"/><rect x="531.7" y="234.1" fill="#ffe2e2"/><rect x="552.9" y="234.1" fill="#ffc6c6"/><rect x="574.2" y="234.1" fill="#ffc6c6"/><rect x="595.5" y="234.1" fill="#ffc6c6"/><rect x="616.7" y="234.1" fill="#ffc6c6"/><rect x="638.0" y="234.1" fill="#ffc6c6"/><rect x="659.3" y="234.1" fill="#ffc6c6"/><rect x="680.5" y="234.1" fill="#ffc6c6"/><rect x="701.8" y="234.1" fill="#ffc6c6"/><rect x="723.1" y="234.1" fill="#ffc6c6"/><rect x="744.3" y="234.1" fill="#ffc6c6"/><rect x="765.6" y="234.1" fill="#ffc6c6"/><rect x="-21.3" y="255.4" fill="#fffefe"/><rect x="0.0" y="255.4" fill="#fffefe"/><rect x="21.3" y="255.4" fill="#fffefe"/><rect x="42.5" y="255.4" fill="#fffefe"/><rect x="63.8" y="255.4" fill="#fffefe"/><rect x="85.1" y="255.4" fill="#ffe2e2"/><rect x="106.3" y="255.4" fill="#ffe2e2"/><rect x="127.6" y="255.4" fill="#ffc6c6"/><rect x="148.9" y="255.4" fill="#ffc6c6"/><rect x="170.1" y="255.4" fill="#ffe2e2"/><rect x="191.4" y="255.4" fill="#ffe2e2"/><rect x="212.7" y="255.4" fill="#ffe2e2"/><rect x="233.9" y="255.4" fill="#fffefe"/><rect x="255.2" y="255.4" fill="#fffefe"/><rect x="276.5" y="255.4" fill="#fffefe"/><rect x="297.7" y="255.4" fill="#fffefe"/><rect x="319.0" y="255.4" fill="#e2e2ff"/><rect x="340.3" y="255.4" fill="#e2e2ff"/><rect x="361.5" y="255.4" fill="#e2e2ff"/><rect x="382.8" y="255.4" fill="#e2e2ff"/><rect x="404.1" y="255.4" fill="#e2e2ff"/><rect x="425.3" y="255.4" fill="#fffefe"/><rect x="446.6" y="255.4" fill="#fffefe"/><rect x="467.9" y="255.4" fill="#ffe2e2"/><rect x="489.1" y="255.4" fill="#ffe2e2"/><rect x="510.4" y="255.4" fill="#ffc6c6"/><rect x="531.7" y="255.4" fill="#ffc6c6"/><rect x="552.9" y="255.4" fill="#ffc6c6"/><rect x="574.2" y="255.4" fill="#ffc6c6"/><rect x="595.5" y="255.4" fill="#ffc6c6"/><rect x="616.7" y="255.4" fill="#ffe2e2"/><rect x="638.0" y="255.4" fill="#ffe2e2"/><rect x="659.3" y="255.4" fill="#ffe2e2"/><rect x="680.5" y="255.4" fill="#ffe2e2"/><rect x="701.8" y="255.4" fill="#ffe2e2"/><rect x="723.1" y="255.4" fill="#ffe2e2"/><rect x="744.3" y="255.4" fill="#ffe2e2"/><rect x="765.6" y="255.4" fill="#ffe2e2"/><rect x="-21.3" y="276.7" fill="#fffefe"/><rect x="0.0" y="276.7" fill="#fffefe"/><rect x="21.3" y="276.7" fill="#fffefe"/><rect x="42.5" y="276.7" fill="#fffefe"/><rect x="63.8" y="276.7" fill="#fffefe"/><rect x="85.1" y="276.7" fill="#fffefe"/><rect x="106.3" y="276.7" fill="#ffe2e2"/><rect x="127.6" y="276.7" fill="#ffe2e2"/><rect x="148.9" y="276.7" fill="#ffe2e2"/><rect x="170.1" y="276.7" fill="#ffe2e2"/><rect x="191.4" y="276.7" fill="#fffefe"/><rect x="212.7" y="276.7" fill="#fffefe"/><rect x="233.9" y="276.7" fill="#fffefe"/><rect x="255.2" y="276.7" fill="#fffefe"/><rect x="276.5" y="276.7" fill="#fffefe"/><rect x="297.7" y="276.7" fill="#fffefe"/><rect x="319.0" y="276.7" fill="#fffefe"/><rect x="340.3" y="276.7" fill="#fffefe"/><rect x="361.5" y="276.7" fill="#fffefe"/><rect x="382.8" y="276.7" fill="#e2e2ff"/><rect x="404.1" y="276.7" fill="#fffefe"/><rect x="425.3" y="276.7" fill="#fffefe"/><rect x="446.6" y="276.7" fill="#fffefe"/><rect x="467.9" y="276.7" fill="#fffefe"/><rect x="489.1" y="276.7" fill="#ffe2e2"/><rect x="510.4" y="276.7" fill="#ffe2e2"/><rect x="531.7" y="276.7" fill="#ffe2e2"/><rect x="552.9" y="276.7" fill="#ffe2e2"/><rect x="574.2" y="276.7" fill="#ffe2e2"/><rect x="595.5" y="276.7" fill="#ffe2e2"/><rect x="616.7" y="276.7" fill="#ffe2e2"/><rect x="638.0" y="276.7" fill="#ffe2e2"/><rect x="659.3" y="276.7" fill="#ffe2e2"/><rect x="680.5" y="276.7" fill="#ffe2e2"/><rect x="701.8" y="276.7" fill="#ffe2e2"/><rect x="723.1" y="276.7" fill="#ffe2e2"/><rect x="744.3" y="276.7" fill="#ffe2e2"/><rect x="765.6" y="276.7" fill="#ffe2e2"/><rect x="-21.3" y="297.9" fill="#fffefe"/><rect x="0.0" y="297.9" fill="#fffefe"/><rect x="21.3" y="297.9" fill="#fffefe"/><rect x="42.5" y="297.9" fill="#fffefe"/><rect x="63.8" y="297.9" fill="#fffefe"/><rect x="85.1" y="297.9" fill="#fffefe"/><rect x="106.3" y="297.9" fill="#fffefe"/><rect x="127.6" y="297.9" fill="#fffefe"/><rect x="148.9" y="297.9" fill="#fffefe"/><rect x="170.1" y="297.9" fill="#fffefe"/><rect x="191.4" y="297.9" fill="#fffefe"/><rect x="212.7" y="297.9" fill="#fffefe"/><rect x="233.9" y="297.9" fill="#fffefe"/><rect x="255.2" y="297.9" fill="#fffefe"/><rect x="276.5" y="297.9" fill="#fffefe"/><rect x="297.7" y="297.9" fill="#fffefe"/><rect x="319.0" y="297.9" fill="#fffefe"/><rect x="340.3" y="297.9" fill="#fffefe"/><rect x="361.5" y="297.9" fill="#fffefe"/><rect x="382.8" y="297.9" fill="#fffefe"/><rect x="404.1" y="297.9" fill="#fffefe"/><rect x="425.3" y="297.9" fill="#fffefe"/><rect x="446.6" y="297.9" fill="#fffefe"/><rect x="467.9" y="297.9" fill="#fffefe"/><rect x="489.1" y="297.9" fill="#fffefe"/><rect x="510.4" y="297.9" fill="#fffefe"/><rect x="531.7" y="297.9" fill="#fffefe"/><rect x="552.9" y="297.9" fill="#ffe2e2"/><rect x="574.2" y="297.9" fill="#ffe2e2"/><rect x="595.5" y="297.9" fill="#ffe2e2"/><rect x="616.7" y="297.9" fill="#ffe2e2"/><rect x="638.0" y="297.9" fill="#ffe2e2"/><rect x="659.3" y="297.9" fill="#ffe2e2"/><rect x="680.5" y="297.9" fill="#ffe2e2"/><rect x="701.8" y="297.9" fill="#ffe2e2"/><rect x="723.1" y="297.9" fill="#ffe2e2"/><rect x="744.3" y="297.9" fill="#ffe2e2"/><rect x="765.6" y="297.9" fill="#ffe2e2"/><rect x="-21.3" y="319.2" fill="#e2e2ff"/><rect x="0.0" y="319.2" fill="#e2e2ff"/><rect x="21.3" y="319.2" fill="#fffefe"/><rect x="42.5" y="319.2" fill="#fffefe"/><rect x="63.8" y="319.2" fill="#fffefe"/><rect x="85.1" y="319.2" fill="#fffefe"/><rect x="106.3" y="319.2" fill="#fffefe"/><rect x="127.6" y="319.2" fill="#fffefe"/><rect x="148.9" y="319.2" fill="#fffefe"/><rect x="170.1" y="319.2" fill="#fffefe"/><rect x="191.4" y="319.2" fill="#fffefe"/><rect x="212.7" y="319.2" fill="#fffefe"/><rect x="233.9" y="319.2" fill="#fffefe"/><rect x="255.2" y="319.2" fill="#fffefe"/><rect x="276.5" y="319.2" fill="#fffefe"/><rect x="297.7" y="319.2" fill="#fffefe"/><rect x="319.0" y="319.2" fill="#fffefe"/><rect x="340.3" y="319.2" fill="#fffefe"/><rect x="361.5" y="319.2" fill="#fffefe"/><rect x="382.8" y="319.2" fill="#fffefe"/><rect x="404.1" y="319.2" fill="#fffefe"/><rect x="425.3" y="319.2" fill="#fffefe"/><rect x="446.6" y="319.2" fill="#fffefe"/><rect x="467.9" y="319.2" fill="#fffefe"/><rect x="489.1" y="319.2" fill="#fffefe"/><rect x="510.4" y="319.2" fill="#fffefe"/><rect x="531.7" y="319.2" fill="#fffefe"/><rect x="552.9" y="319.2" fill="#fffefe"/><rect x="574.2" y="319.2" fill="#ffe2e2"/><rect x="595.5" y="319.2" fill="#ffe2e2"/><rect x="616.7" y="319.2" fill="#ffe2e2"/><rect x="638.0" y="319.2" fill="#ffe2e2"/><rect x="659.3" y="319.2" fill="#ffe2e2"/><rect x="680.5" y="319.2" fill="#ffe2e2"/><rect x="701.8" y="319.2" fill="#ffe2e2"/><rect x="723.1" y="319.2" fill="#ffe2e2"/><rect x="744.3" y="319.2" fill="#ffe2e2"/><rect x="765.6" y="319.2" fill="#ffe2e2"/><rect x="-21.3" y="340.5" fill="#e2e2ff"/><rect x="0.0" y="340.5" fill="#e2e2ff"/><rect x="21.3" y="340.5" fill="#fffefe"/><rect x="42.5" y="340.5" fill="#fffefe"/><rect x="63.8" y="340.5" fill="#fffefe"/><rect x="85.1" y="340.5" fill="#fffefe"/><rect x="106.3" y="340.5" fill="#fffefe"/><rect x="127.6" y="340.5" fill="#fffefe"/><rect x="148.9" y="340.5" fill="#fffefe"/><rect x="170.1" y="340.5" fill="#fffefe"/><rect x="191.4" y="340.5" fill="#fffefe"/><rect x="212.7" y="340.5" fill="#fffefe"/><rect x="233.9" y="340.5" fill="#fffefe"/><rect x="255.2" y="340.5" fill="#fffefe"/><rect x="276.5" y="340.5" fill="#fffefe"/><rect x="297.7" y="340.5" fill="#fffefe"/><rect x="319.0" y="340.5" fill="#fffefe"/><rect x="340.3" y="340.5" fill="#fffefe"/><rect x="361.5" y="340.5" fill="#fffefe"/><rect x="382.8" y="340.5" fill="#fffefe"/><rect x="404.1" y="340.5" fill="#fffefe"/><rect x="425.3" y="340.5" fill="#fffefe"/><rect x="446.6" y="340.5" fill="#fffefe"/><rect x="467.9" y="340.5" fill="#fffefe"/><rect x="489.1" y="340.5" fill="#fffefe"/><rect x="510.4" y="340.5" fill="#fffefe"/><rect x="531.7" y="340.5" fill="#fffefe"/><rect x="552.9" y="340.5" fill="#fffefe"/><rect x="574.2" y="340.5" fill="#ffe2e2"/><rect x="595.5" y="340.5" fill="#ffe2e2"/><rect x="616.7" y="340.5" fill="#ffe2e2"/><rect x="638.0" y="340.5" fill="#ffe2e2"/><rect x="659.3" y="340.5" fill="#ffe2e2"/><rect x="680.5" y="340.5" fill="#ffe2e2"/><rect x="701.8" y="340.5" fill="#ffe2e2"/><rect x="723.1" y="340.5" fill="#ffe2e2"/><rect x="744.3" y="340.5" fill="#ffe2e2"/><rect x="765.6" y="340.5" fill="#ffe2e2"/></g>
</g>
<g clip-path="url(#axclip)"><use href="#coast"/><circle cx="469.5" cy="246.5" r="3.2"/><path d="M476.6,248.3 482.6,251.9 486.4,257.9" fill="none" stroke="#000" stroke-width="5.5" stroke-linecap="round" stroke-linejoin="round"/></g>
<rect width="765.6" height="340.5" fill="none" stroke="#000" stroke-width="3"/>
</g>
<text x="973.2" y="597.5" font-size="41" font-weight="bold">d</text>
<text x="952.4" y="716.8" font-size="30" text-anchor="end">60°N</text>
<text x="952.4" y="844.5" font-size="30" text-anchor="end">30°N</text>
<text x="1099.8" y="1006.2" font-size="30" text-anchor="middle">120°E</text>
<text x="1355.0" y="1006.2" font-size="30" text-anchor="middle">180°E</text>
<text x="1610.2" y="1006.2" font-size="30" text-anchor="middle">120°W</text>
<polygon points="971.2,1032.8 1006.4,1013.8 1006.4,1051.9" fill="#0000ff"/>
<polygon points="1738.8,1032.8 1705.0,1013.8 1705.0,1051.9" fill="#ff0000"/>
<rect x="1006.4" y="1013.8" width="698.6" height="38.1" fill="url(#gp)"/>
<polygon points="971.2,1032.8 1006.4,1013.8 1705.0,1013.8 1738.8,1032.8 1705.0,1051.9 1006.4,1051.9" fill="none" stroke="#000" stroke-width="3"/>
<line x1="1006.4" y1="1051.9" x2="1006.4" y2="1066.4" stroke="#000" stroke-width="3"/>
<text x="1006.4" y="1103.9" font-size="30" text-anchor="middle">−3</text>
<line x1="1122.8" y1="1051.9" x2="1122.8" y2="1066.4" stroke="#000" stroke-width="3"/>
<text x="1122.8" y="1103.9" font-size="30" text-anchor="middle">−2</text>
<line x1="1239.3" y1="1051.9" x2="1239.3" y2="1066.4" stroke="#000" stroke-width="3"/>
<text x="1239.3" y="1103.9" font-size="30" text-anchor="middle">−1</text>
<line x1="1355.7" y1="1051.9" x2="1355.7" y2="1066.4" stroke="#000" stroke-width="3"/>
<text x="1355.7" y="1103.9" font-size="30" text-anchor="middle">0</text>
<line x1="1472.1" y1="1051.9" x2="1472.1" y2="1066.4" stroke="#000" stroke-width="3"/>
<text x="1472.1" y="1103.9" font-size="30" text-anchor="middle">1</text>
<line x1="1588.6" y1="1051.9" x2="1588.6" y2="1066.4" stroke="#000" stroke-width="3"/>
<text x="1588.6" y="1103.9" font-size="30" text-anchor="middle">2</text>
<line x1="1705.0" y1="1051.9" x2="1705.0" y2="1066.4" stroke="#000" stroke-width="3"/>
<text x="1705.0" y="1103.9" font-size="30" text-anchor="middle">3</text>
<text x="1355.0" y="1148.5" font-size="30" text-anchor="middle">Sea-level pressure (hPa)</text>
<g transform="translate(91.50,1186.60)">
<g clip-path="url(#axclip)">
<g filter="url(#blur)"><rect x="-21.3" y="-21.3" fill="#feda8a"/><rect x="0.0" y="-21.3" fill="#feda8a"/><rect x="21.3" y="-21.3" fill="#fdbf71"/><rect x="42.5" y="-21.3" fill="#fba05b"/><rect x="63.8" y="-21.3" fill="#f67a49"/><rect x="85.1" y="-21.3" fill="#da362a"/><rect x="106.3" y="-21.3" fill="#c01a27"/><rect x="127.6" y="-21.3" fill="#c01a27"/><rect x="148.9" y="-21.3" fill="#c01a27"/><rect x="170.1" y="-21.3" fill="#da362a"/><rect x="191.4" y="-21.3" fill="#da362a"/><rect x="212.7" y="-21.3" fill="#ea5739"/><rect x="233.9" y="-21.3" fill="#ea5739"/><rect x="255.2" y="-21.3" fill="#f67a49"/><rect x="276.5" y="-21.3" fill="#f67a49"/><rect x="297.7" y="-21.3" fill="#f67a49"/><rect x="319.0" y="-21.3" fill="#ea5739"/><rect x="340.3" y="-21.3" fill="#ea5739"/><rect x="361.5" y="-21.3" fill="#ea5739"/><rect x="382.8" y="-21.3" fill="#f67a49"/><rect x="404.1" y="-21.3" fill="#f67a49"/><rect x="425.3" y="-21.3" fill="#fba05b"/><rect x="446.6" y="-21.3" fill="#fdbf71"/><rect x="467.9" y="-21.3" fill="#fdbf71"/><rect x="489.1" y="-21.3" fill="#fdbf71"/><rect x="510.4" y="-21.3" fill="#fdbf71"/><rect x="531.7" y="-21.3" fill="#feda8a"/><rect x="552.9" y="-21.3" fill="#feda8a"/><rect x="574.2" y="-21.3" fill="#feda8a"/><rect x="595.5" y="-21.3" fill="#feeda4"/><rect x="616.7" y="-21.3" fill="#fffebe"/><rect x="638.0" y="-21.3" fill="#fffebe"/><rect x="659.3" y="-21.3" fill="#fffebe"/><rect x="680.5" y="-21.3" fill="#fffebe"/><rect x="701.8" y="-21.3" fill="#fffebe"/><rect x="723.1" y="-21.3" fill="#feeda4"/><rect x="744.3" y="-21.3" fill="#feeda4"/><rect x="765.6" y="-21.3" fill="#feeda4"/><rect x="-21.3" y="0.0" fill="#feda8a"/><rect x="0.0" y="0.0" fill="#feda8a"/><rect x="21.3" y="0.0" fill="#fdbf71"/><rect x="42.5" y="0.0" fill="#fba05b"/><rect x="63.8" y="0.0" fill="#f67a49"/><rect x="85.1" y="0.0" fill="#da362a"/><rect x="106.3" y="0.0" fill="#c01a27"/><rect x="127.6" y="0.0" fill="#c01a27"/><rect x="148.9" y="0.0" fill="#c01a27"/><rect x="170.1" y="0.0" fill="#da362a"/><rect x="191.4" y="0.0" fill="#da362a"/><rect x="212.7" y="0.0" fill="#ea5739"/><rect x="233.9" y="0.0" fill="#ea5739"/><rect x="255.2" y="0.0" fill="#f67a49"/><rect x="276.5" y="0.0" fill="#f67a49"/><rect x="297.7" y="0.0" fill="#f67a49"/><rect x="319.0" y="0.0" fill="#ea5739"/><rect x="340.3" y="0.0" fill="#ea5739"/><rect x="361.5" y="0.0" fill="#ea5739"/><rect x="382.8" y="0.0" fill="#f67a49"/><rect x="404.1" y="0.0" fill="#f67a49"/><rect x="425.3" y="0.0" fill="#fba05b"/><rect x="446.6" y="0.0" fill="#fdbf71"/><rect x="467.9" y="0.0" fill="#fdbf71"/><rect x="489.1" y="0.0" fill="#fdbf71"/><rect x="510.4" y="0.0" fill="#fdbf71"/><rect x="531.7" y="0.0" fill="#feda8a"/><rect x="552.9" y="0.0" fill="#feda8a"/><rect x="574.2" y="0.0" fill="#feda8a"/><rect x="595.5" y="0.0" fill="#feeda4"/><rect x="616.7" y="0.0" fill="#fffebe"/><rect x="638.0" y="0.0" fill="#fffebe"/><rect x="659.3" y="0.0" fill="#fffebe"/><rect x="680.5" y="0.0" fill="#fffebe"/><rect x="701.8" y="0.0" fill="#fffebe"/><rect x="723.1" y="0.0" fill="#feeda4"/><rect x="744.3" y="0.0" fill="#feeda4"/><rect x="765.6" y="0.0" fill="#feeda4"/><rect x="-21.3" y="21.3" fill="#fba05b"/><rect x="0.0" y="21.3" fill="#fba05b"/><rect x="21.3" y="21.3" fill="#fba05b"/><rect x="42.5" y="21.3" fill="#f67a49"/><rect x="63.8" y="21.3" fill="#f67a49"/><rect x="85.1" y="21.3" fill="#f67a49"/><rect x="106.3" y="21.3" fill="#ea5739"/><rect x="127.6" y="21.3" fill="#ea5739"/><rect x="148.9" y="21.3" fill="#ea5739"/><rect x="170.1" y="21.3" fill="#da362a"/><rect x="191.4" y="21.3" fill="#da362a"/><rect x="212.7" y="21.3" fill="#da362a"/><rect x="233.9" y="21.3" fill="#da362a"/><rect x="255.2" y="21.3" fill="#da362a"/><rect x="276.5" y="21.3" fill="#ea5739"/><rect x="297.7" y="21.3" fill="#ea5739"/><rect x="319.0" y="21.3" fill="#ea5739"/><rect x="340.3" y="21.3" fill="#da362a"/><rect x="361.5" y="21.3" fill="#da362a"/><rect x="382.8" y="21.3" fill="#c01a27"/><rect x="404.1" y="21.3" fill="#da362a"/><rect x="425.3" y="21.3" fill="#f67a49"/><rect x="446.6" y="21.3" fill="#fdbf71"/><rect x="467.9" y="21.3" fill="#fdbf71"/><rect x="489.1" y="21.3" fill="#feda8a"/><rect x="510.4" y="21.3" fill="#feda8a"/><rect x="531.7" y="21.3" fill="#feeda4"/><rect x="552.9" y="21.3" fill="#feeda4"/><rect x="574.2" y="21.3" fill="#fffebe"/><rect x="595.5" y="21.3" fill="#edf8df"/><rect x="616.7" y="21.3" fill="#edf8df"/><rect x="638.0" y="21.3" fill="#edf8df"/><rect x="659.3" y="21.3" fill="#fffebe"/><rect x="680.5" y="21.3" fill="#fffebe"/><rect x="701.8" y="21.3" fill="#fffebe"/><rect x="723.1" y="21.3" fill="#fffebe"/><rect x="744.3" y="21.3" fill="#fffebe"/><rect x="765.6" y="21.3" fill="#fffebe"/><rect x="-21.3" y="42.6" fill="#feeda4"/><rect x="0.0" y="42.6" fill="#feeda4"/><rect x="21.3" y="42.6" fill="#feeda4"/><rect x="42.5" y="42.6" fill="#feda8a"/><rect x="63.8" y="42.6" fill="#feda8a"/><rect x="85.1" y="42.6" fill="#feda8a"/><rect x="106.3" y="42.6" fill="#fdbf71"/><rect x="127.6" y="42.6" fill="#fdbf71"/><rect x="148.9" y="42.6" fill="#fba05b"/><rect x="170.1" y="42.6" fill="#f67a49"/><rect x="191.4" y="42.6" fill="#f67a49"/><rect x="212.7" y="42.6" fill="#f67a49"/><rect x="233.9" y="42.6" fill="#f67a49"/><rect x="255.2" y="42.6" fill="#ea5739"/><rect x="276.5" y="42.6" fill="#da362a"/><rect x="297.7" y="42.6" fill="#c01a27"/><rect x="319.0" y="42.6" fill="#c01a27"/><rect x="340.3" y="42.6" fill="#c01a27"/><rect x="361.5" y="42.6" fill="#c01a27"/><rect x="382.8" y="42.6" fill="#a50026"/><rect x="404.1" y="42.6" fill="#c01a27"/><rect x="425.3" y="42.6" fill="#da362a"/><rect x="446.6" y="42.6" fill="#f67a49"/><rect x="467.9" y="42.6" fill="#fba05b"/><rect x="489.1" y="42.6" fill="#fdbf71"/><rect x="510.4" y="42.6" fill="#feda8a"/><rect x="531.7" y="42.6" fill="#feda8a"/><rect x="552.9" y="42.6" fill="#feeda4"/><rect x="574.2" y="42.6" fill="#feeda4"/><rect x="595.5" y="42.6" fill="#fffebe"/><rect x="616.7" y="42.6" fill="#edf8df"/><rect x="638.0" y="42.6" fill="#daf0f6"/><rect x="659.3" y="42.6" fill="#daf0f6"/><rect x="680.5" y="42.6" fill="#daf0f6"/><rect x="701.8" y="42.6" fill="#bde2ee"/><rect x="723.1" y="42.6" fill="#daf0f6"/><rect x="744.3" y="42.6" fill="#edf8df"/><rect x="765.6" y="42.6" fill="#edf8df"/><rect x="-21.3" y="63.8" fill="#daf0f6"/><rect x="0.0" y="63.8" fill="#daf0f6"/><rect x="21.3" y="63.8" fill="#daf0f6"/><rect x="42.5" y="63.8" fill="#edf8df"/><rect x="63.8" y="63.8" fill="#fffebe"/><rect x="85.1" y="63.8" fill="#fffebe"/><rect x="106.3" y="63.8" fill="#feeda4"/><rect x="127.6" y="63.8" fill="#feeda4"/><rect x="148.9" y="63.8" fill="#feeda4"/><rect x="170.1" y="63.8" fill="#feeda4"/><rect x="191.4" y="63.8" fill="#edf8df"/><rect x="212.7" y="63.8" fill="#feeda4"/><rect x="233.9" y="63.8" fill="#fdbf71"/><rect x="255.2" y="63.8" fill="#ea5739"/><rect x="276.5" y="63.8" fill="#c01a27"/><rect x="297.7" y="63.8" fill="#c01a27"/><rect x="319.0" y="63.8" fill="#c01a27"/><rect x="340.3" y="63.8" fill="#c01a27"/><rect x="361.5" y="63.8" fill="#c01a27"/><rect x="382.8" y="63.8" fill="#c01a27"/><rect x="404.1" y="63.8" fill="#c01a27"/><rect x="425.3" y="63.8" fill="#ea5739"/><rect x="446.6" y="63.8" fill="#f67a49"/><rect x="467.9" y="63.8" fill="#fba05b"/><rect x="489.1" y="63.8" fill="#fdbf71"/><rect x="510.4" y="63.8" fill="#fdbf71"/><rect x="531.7" y="63.8" fill="#fdbf71"/><rect x="552.9" y="63.8" fill="#feda8a"/><rect x="574.2" y="63.8" fill="#feeda4"/><rect x="595.5" y="63.8" fill="#fffebe"/><rect x="616.7" y="63.8" fill="#edf8df"/><rect x="638.0" y="63.8" fill="#daf0f6"/><rect x="659.3" y="63.8" fill="#bde2ee"/><rect x="680.5" y="63.8" fill="#bde2ee"/><rect x="701.8" y="63.8" fill="#daf0f6"/><rect x="723.1" y="63.8" fill="#daf0f6"/><rect x="744.3" y="63.8" fill="#edf8df"/><rect x="765.6" y="63.8" fill="#edf8df"/><rect x="-21.3" y="85.1" fill="#7fb6d6"/><rect x="0.0" y="85.1" fill="#7fb6d6"/><rect x="21.3" y="85.1" fill="#7fb6d6"/><rect x="42.5" y="85.1" fill="#9fd0e4"/><rect x="63.8" y="85.1" fill="#bde2ee"/><rect x="85.1" y="85.1" fill="#daf0f6"/><rect x="106.3" y="85.1" fill="#edf8df"/><rect x="127.6" y="85.1" fill="#fffebe"/><rect x="148.9" y="85.1" fill="#feda8a"/><rect x="170.1" y="85.1" fill="#feeda4"/><rect x="191.4" y="85.1" fill="#edf8df"/><rect x="212.7" y="85.1" fill="#daf0f6"/><rect x="233.9" y="85.1" fill="#fffebe"/><rect x="255.2" y="85.1" fill="#fdbf71"/><rect x="276.5" y="85.1" fill="#f67a49"/><rect x="297.7" y="85.1" fill="#f67a49"/><rect x="319.0" y="85.1" fill="#ea5739"/><rect x="340.3" y="85.1" fill="#ea5739"/><rect x="361.5" y="85.1" fill="#f67a49"/><rect x="382.8" y="85.1" fill="#ea5739"/><rect x="404.1" y="85.1" fill="#f67a49"/><rect x="425.3" y="85.1" fill="#f67a49"/><rect x="446.6" y="85.1" fill="#fba05b"/><rect x="467.9" y="85.1" fill="#fdbf71"/><rect x="489.1" y="85.1" fill="#fdbf71"/><rect x="510.4" y="85.1" fill="#fdbf71"/><rect x="531.7" y="85.1" fill="#fdbf71"/><rect x="552.9" y="85.1" fill="#fdbf71"/><rect x="574.2" y="85.1" fill="#feda8a"/><rect x="595.5" y="85.1" fill="#feeda4"/><rect x="616.7" y="85.1" fill="#edf8df"/><rect x="638.0" y="85.1" fill="#daf0f6"/><rect x="659.3" y="85.1" fill="#bde2ee"/><rect x="680.5" y="85.1" fill="#bde2ee"/><rect x="701.8" y="85.1" fill="#bde2ee"/><rect x="723.1" y="85.1" fill="#bde2ee"/><rect x="744.3" y="85.1" fill="#daf0f6"/><rect x="765.6" y="85.1" fill="#daf0f6"/><rect x="-21.3" y="106.4" fill="#bde2ee"/><rect x="0.0" y="106.4" fill="#bde2ee"/><rect x="21.3" y="106.4" fill="#daf0f6"/><rect x="42.5" y="106.4" fill="#daf0f6"/><rect x="63.8" y="106.4" fill="#daf0f6"/><rect x="85.1" y="106.4" fill="#bde2ee"/><rect x="106.3" y="106.4" fill="#daf0f6"/><rect x="127.6" y="106.4" fill="#edf8df"/><rect x="148.9" y="106.4" fill="#fffebe"/><rect x="170.1" y="106.4" fill="#fffebe"/><rect x="191.4" y="106.4" fill="#edf8df"/><rect x="212.7" y="106.4" fill="#fffebe"/><rect x="233.9" y="106.4" fill="#feeda4"/><rect x="255.2" y="106.4" fill="#feda8a"/><rect x="276.5" y="106.4" fill="#feda8a"/><rect x="297.7" y="106.4" fill="#feda8a"/><rect x="319.0" y="106.4" fill="#fdbf71"/><rect x="340.3" y="106.4" fill="#fba05b"/><rect x="361.5" y="106.4" fill="#fba05b"/><rect x="382.8" y="106.4" fill="#f67a49"/><rect x="404.1" y="106.4" fill="#fba05b"/><rect x="425.3" y="106.4" fill="#fba05b"/><rect x="446.6" y="106.4" fill="#fba05b"/><rect x="467.9" y="106.4" fill="#fba05b"/><rect x="489.1" y="106.4" fill="#f67a49"/><rect x="510.4" y="106.4" fill="#f67a49"/><rect x="531.7" y="106.4" fill="#fba05b"/><rect x="552.9" y="106.4" fill="#fdbf71"/><rect x="574.2" y="106.4" fill="#feda8a"/><rect x="595.5" y="106.4" fill="#fffebe"/><rect x="616.7" y="106.4" fill="#edf8df"/><rect x="638.0" y="106.4" fill="#bde2ee"/><rect x="659.3" y="106.4" fill="#7fb6d6"/><rect x="680.5" y="106.4" fill="#6399c7"/><rect x="701.8" y="106.4" fill="#7fb6d6"/><rect x="723.1" y="106.4" fill="#9fd0e4"/><rect x="744.3" y="106.4" fill="#bde2ee"/><rect x="765.6" y="106.4" fill="#bde2ee"/><rect x="-21.3" y="127.7" fill="#edf8df"/><rect x="0.0" y="127.7" fill="#edf8df"/><rect x="21.3" y="127.7" fill="#daf0f6"/><rect x="42.5" y="127.7" fill="#daf0f6"/><rect x="63.8" y="127.7" fill="#bde2ee"/><rect x="85.1" y="127.7" fill="#bde2ee"/><rect x="106.3" y="127.7" fill="#bde2ee"/><rect x="127.6" y="127.7" fill="#daf0f6"/><rect x="148.9" y="127.7" fill="#daf0f6"/><rect x="170.1" y="127.7" fill="#bde2ee"/><rect x="191.4" y="127.7" fill="#bde2ee"/><rect x="212.7" y="127.7" fill="#daf0f6"/><rect x="233.9" y="127.7" fill="#fffebe"/><rect x="255.2" y="127.7" fill="#fffebe"/><rect x="276.5" y="127.7" fill="#feeda4"/><rect x="297.7" y="127.7" fill="#feeda4"/><rect x="319.0" y="127.7" fill="#feeda4"/><rect x="340.3" y="127.7" fill="#feda8a"/><rect x="361.5" y="127.7" fill="#feda8a"/><rect x="382.8" y="127.7" fill="#fdbf71"/><rect x="404.1" y="127.7" fill="#fdbf71"/><rect x="425.3" y="127.7" fill="#fdbf71"/><rect x="446.6" y="127.7" fill="#fba05b"/><rect x="467.9" y="127.7" fill="#fba05b"/><rect x="489.1" y="127.7" fill="#f67a49"/><rect x="510.4" y="127.7" fill="#f67a49"/><rect x="531.7" y="127.7" fill="#fba05b"/><rect x="552.9" y="127.7" fill="#fdbf71"/><rect x="574.2" y="127.7" fill="#feda8a"/><rect x="595.5" y="127.7" fill="#feeda4"/><rect x="616.7" y="127.7" fill="#feeda4"/><rect x="638.0" y="127.7" fill="#feeda4"/><rect x="659.3" y="127.7" fill="#edf8df"/><rect x="680.5" y="127.7" fill="#bde2ee"/><rect x="701.8" y="127.7" fill="#7fb6d6"/><rect x="723.1" y="127.7" fill="#6399c7"/><rect x="744.3" y="127.7" fill="#7fb6d6"/><rect x="765.6" y="127.7" fill="#7fb6d6"/><rect x="-21.3" y="149.0" fill="#feeda4"/><rect x="0.0" y="149.0" fill="#feeda4"/><rect x="21.3" y="149.0" fill="#feeda4"/><rect x="42.5" y="149.0" fill="#edf8df"/><rect x="63.8" y="149.0" fill="#daf0f6"/><rect x="85.1" y="149.0" fill="#bde2ee"/><rect x="106.3" y="149.0" fill="#bde2ee"/><rect x="127.6" y="149.0" fill="#bde2ee"/><rect x="148.9" y="149.0" fill="#bde2ee"/><rect x="170.1" y="149.0" fill="#bde2ee"/><rect x="191.4" y="149.0" fill="#9fd0e4"/><rect x="212.7" y="149.0" fill="#7fb6d6"/><rect x="233.9" y="149.0" fill="#7fb6d6"/><rect x="255.2" y="149.0" fill="#9fd0e4"/><rect x="276.5" y="149.0" fill="#bde2ee"/><rect x="297.7" y="149.0" fill="#daf0f6"/><rect x="319.0" y="149.0" fill="#daf0f6"/><rect x="340.3" y="149.0" fill="#edf8df"/><rect x="361.5" y="149.0" fill="#fffebe"/><rect x="382.8" y="149.0" fill="#feeda4"/><rect x="404.1" y="149.0" fill="#feeda4"/><rect x="425.3" y="149.0" fill="#feda8a"/><rect x="446.6" y="149.0" fill="#fdbf71"/><rect x="467.9" y="149.0" fill="#fdbf71"/><rect x="489.1" y="149.0" fill="#fdbf71"/><rect x="510.4" y="149.0" fill="#fdbf71"/><rect x="531.7" y="149.0" fill="#feda8a"/><rect x="552.9" y="149.0" fill="#feda8a"/><rect x="574.2" y="149.0" fill="#feeda4"/><rect x="595.5" y="149.0" fill="#feeda4"/><rect x="616.7" y="149.0" fill="#feeda4"/><rect x="638.0" y="149.0" fill="#fffebe"/><rect x="659.3" y="149.0" fill="#fffebe"/><rect x="680.5" y="149.0" fill="#edf8df"/><rect x="701.8" y="149.0" fill="#bde2ee"/><rect x="723.1" y="149.0" fill="#9fd0e4"/><rect x="744.3" y="149.0" fill="#9fd0e4"/><rect x="765.6" y="149.0" fill="#9fd0e4"/><rect x="-21.3" y="170.2" fill="#feda8a"/><rect x="0.0" y="170.2" fill="#feda8a"/><rect x="21.3" y="170.2" fill="#feeda4"/><rect x="42.5" y="170.2" fill="#edf8df"/><rect x="63.8" y="170.2" fill="#fffebe"/><rect x="85.1" y="170.2" fill="#edf8df"/><rect x="106.3" y="170.2" fill="#edf8df"/><rect x="127.6" y="170.2" fill="#daf0f6"/><rect x="148.9" y="170.2" fill="#daf0f6"/><rect x="170.1" y="170.2" fill="#bde2ee"/><rect x="191.4" y="170.2" fill="#bde2ee"/><rect x="212.7" y="170.2" fill="#bde2ee"/><rect x="233.9" y="170.2" fill="#bde2ee"/><rect x="255.2" y="170.2" fill="#bde2ee"/><rect x="276.5" y="170.2" fill="#9fd0e4"/><rect x="297.7" y="170.2" fill="#9fd0e4"/><rect x="319.0" y="170.2" fill="#9fd0e4"/><rect x="340.3" y="170.2" fill="#bde2ee"/><rect x="361.5" y="170.2" fill="#bde2ee"/><rect x="382.8" y="170.2" fill="#daf0f6"/><rect x="404.1" y="170.2" fill="#bde2ee"/><rect x="425.3" y="170.2" fill="#daf0f6"/><rect x="446.6" y="170.2" fill="#fffebe"/><rect x="467.9" y="170.2" fill="#fffebe"/><rect x="489.1" y="170.2" fill="#feeda4"/><rect x="510.4" y="170.2" fill="#feeda4"/><rect x="531.7" y="170.2" fill="#feeda4"/><rect x="552.9" y="170.2" fill="#feeda4"/><rect x="574.2" y="170.2" fill="#feeda4"/><rect x="595.5" y="170.2" fill="#fffebe"/><rect x="616.7" y="170.2" fill="#fffebe"/><rect x="638.0" y="170.2" fill="#fffebe"/><rect x="659.3" y="170.2" fill="#fffebe"/><rect x="680.5" y="170.2" fill="#fffebe"/><rect x="701.8" y="170.2" fill="#edf8df"/><rect x="723.1" y="170.2" fill="#daf0f6"/><rect x="744.3" y="170.2" fill="#daf0f6"/><rect x="765.6" y="170.2" fill="#daf0f6"/><rect x="-21.3" y="191.5" fill="#feeda4"/><rect x="0.0" y="191.5" fill="#feeda4"/><rect x="21.3" y="191.5" fill="#daf0f6"/><rect x="42.5" y="191.5" fill="#edf8df"/><rect x="63.8" y="191.5" fill="#edf8df"/><rect x="85.1" y="191.5" fill="#fffebe"/><rect x="106.3" y="191.5" fill="#edf8df"/><rect x="127.6" y="191.5" fill="#daf0f6"/><rect x="148.9" y="191.5" fill="#daf0f6"/><rect x="170.1" y="191.5" fill="#bde2ee"/><rect x="191.4" y="191.5" fill="#bde2ee"/><rect x="212.7" y="191.5" fill="#bde2ee"/><rect x="233.9" y="191.5" fill="#bde2ee"/><rect x="255.2" y="191.5" fill="#9fd0e4"/><rect x="276.5" y="191.5" fill="#9fd0e4"/><rect x="297.7" y="191.5" fill="#9fd0e4"/><rect x="319.0" y="191.5" fill="#bde2ee"/><rect x="340.3" y="191.5" fill="#daf0f6"/><rect x="361.5" y="191.5" fill="#daf0f6"/><rect x="382.8" y="191.5" fill="#edf8df"/><rect x="404.1" y="191.5" fill="#daf0f6"/><rect x="425.3" y="191.5" fill="#daf0f6"/><rect x="446.6" y="191.5" fill="#daf0f6"/><rect x="467.9" y="191.5" fill="#edf8df"/><rect x="489.1" y="191.5" fill="#edf8df"/><rect x="510.4" y="191.5" fill="#edf8df"/><rect x="531.7" y="191.5" fill="#fffebe"/><rect x="552.9" y="191.5" fill="#fffebe"/><rect x="574.2" y="191.5" fill="#fffebe"/><rect x="595.5" y="191.5" fill="#edf8df"/><rect x="616.7" y="191.5" fill="#edf8df"/><rect x="638.0" y="191.5" fill="#daf0f6"/><rect x="659.3" y="191.5" fill="#edf8df"/><rect x="680.5" y="191.5" fill="#fffebe"/><rect x="701.8" y="191.5" fill="#fffebe"/><rect x="723.1" y="191.5" fill="#fffebe"/><rect x="744.3" y="191.5" fill="#fffebe"/><rect x="765.6" y="191.5" fill="#fffebe"/><rect x="-21.3" y="212.8" fill="#fffebe"/><rect x="0.0" y="212.8" fill="#fffebe"/><rect x="21.3" y="212.8" fill="#fffebe"/><rect x="42.5" y="212.8" fill="#edf8df"/><rect x="63.8" y="212.8" fill="#edf8df"/><rect x="85.1" y="212.8" fill="#edf8df"/><rect x="106.3" y="212.8" fill="#edf8df"/><rect x="127.6" y="212.8" fill="#daf0f6"/><rect x="148.9" y="212.8" fill="#daf0f6"/><rect x="170.1" y="212.8" fill="#daf0f6"/><rect x="191.4" y="212.8" fill="#daf0f6"/><rect x="212.7" y="212.8" fill="#daf0f6"/><rect x="233.9" y="212.8" fill="#edf8df"/><rect x="255.2" y="212.8" fill="#edf8df"/><rect x="276.5" y="212.8" fill="#edf8df"/><rect x="297.7" y="212.8" fill="#edf8df"/><rect x="319.0" y="212.8" fill="#edf8df"/><rect x="340.3" y="212.8" fill="#fffebe"/><rect x="361.5" y="212.8" fill="#fffebe"/><rect x="382.8" y="212.8" fill="#fffebe"/><rect x="404.1" y="212.8" fill="#edf8df"/><rect x="425.3" y="212.8" fill="#edf8df"/><rect x="446.6" y="212.8" fill="#edf8df"/><rect x="467.9" y="212.8" fill="#daf0f6"/><rect x="489.1" y="212.8" fill="#daf0f6"/><rect x="510.4" y="212.8" fill="#daf0f6"/><rect x="531.7" y="212.8" fill="#daf0f6"/><rect x="552.9" y="212.8" fill="#bde2ee"/><rect x="574.2" y="212.8" fill="#bde2ee"/><rect x="595.5" y="212.8" fill="#9fd0e4"/><rect x="616.7" y="212.8" fill="#9fd0e4"/><rect x="638.0" y="212.8" fill="#9fd0e4"/><rect x="659.3" y="212.8" fill="#bde2ee"/><rect x="680.5" y="212.8" fill="#edf8df"/><rect x="701.8" y="212.8" fill="#fffebe"/><rect x="723.1" y="212.8" fill="#fffebe"/><rect x="744.3" y="212.8" fill="#fffebe"/><rect x="765.6" y="212.8" fill="#fffebe"/><rect x="-21.3" y="234.1" fill="#edf8df"/><rect x="0.0" y="234.1" fill="#edf8df"/><rect x="21.3" y="234.1" fill="#edf8df"/><rect x="42.5" y="234.1" fill="#edf8df"/><rect x="63.8" y="234.1" fill="#edf8df"/><rect x="85.1" y="234.1" fill="#edf8df"/><rect x="106.3" y="234.1" fill="#edf8df"/><rect x="127.6" y="234.1" fill="#edf8df"/><rect x="148.9" y="234.1" fill="#edf8df"/><rect x="170.1" y="234.1" fill="#fffebe"/><rect x="191.4" y="234.1" fill="#fffebe"/><rect x="212.7" y="234.1" fill="#fffebe"/><rect x="233.9" y="234.1" fill="#fffebe"/><rect x="255.2" y="234.1" fill="#fffebe"/><rect x="276.5" y="234.1" fill="#fffebe"/><rect x="297.7" y="234.1" fill="#feeda4"/><rect x="319.0" y="234.1" fill="#feeda4"/><rect x="340.3" y="234.1" fill="#feeda4"/><rect x="361.5" y="234.1" fill="#feeda4"/><rect x="382.8" y="234.1" fill="#edf8df"/><rect x="404.1" y="234.1" fill="#edf8df"/><rect x="425.3" y="234.1" fill="#edf8df"/><rect x="446.6" y="234.1" fill="#edf8df"/><rect x="467.9" y="234.1" fill="#daf0f6"/><rect x="489.1" y="234.1" fill="#daf0f6"/><rect x="510.4" y="234.1" fill="#daf0f6"/><rect x="531.7" y="234.1" fill="#bde2ee"/><rect x="552.9" y="234.1" fill="#bde2ee"/><rect x="574.2" y="234.1" fill="#9fd0e4"/><rect x="595.5" y="234.1" fill="#7fb6d6"/><rect x="616.7" y="234.1" fill="#6399c7"/><rect x="638.0" y="234.1" fill="#7fb6d6"/><rect x="659.3" y="234.1" fill="#bde2ee"/><rect x="680.5" y="234.1" fill="#edf8df"/><rect x="701.8" y="234.1" fill="#fffebe"/><rect x="723.1" y="234.1" fill="#fffebe"/><rect x="744.3" y="234.1" fill="#fffebe"/><rect x="765.6" y="234.1" fill="#fffebe"/><rect x="-21.3" y="255.4" fill="#edf8df"/><rect x="0.0" y="255.4" fill="#edf8df"/><rect x="21.3" y="255.4" fill="#daf0f6"/><rect x="42.5" y="255.4" fill="#edf8df"/><rect x="63.8" y="255.4" fill="#edf8df"/><rect x="85.1" y="255.4" fill="#edf8df"/><rect x="106.3" y="255.4" fill="#edf8df"/><rect x="127.6" y="255.4" fill="#fffebe"/><rect x="148.9" y="255.4" fill="#fffebe"/><rect x="170.1" y="255.4" fill="#fffebe"/><rect x="191.4" y="255.4" fill="#fffebe"/><rect x="212.7" y="255.4" fill="#fffebe"/><rect x="233.9" y="255.4" fill="#fffebe"/><rect x="255.2" y="255.4" fill="#feeda4"/><rect x="276.5" y="255.4" fill="#feeda4"/><rect x="297.7" y="255.4" fill="#feeda4"/><rect x="319.0" y="255.4" fill="#feeda4"/><rect x="340.3" y="255.4" fill="#feeda4"/><rect x="361.5" y="255.4" fill="#feeda4"/><rect x="382.8" y="255.4" fill="#fffebe"/><rect x="404.1" y="255.4" fill="#fffebe"/><rect x="425.3" y="255.4" fill="#fffebe"/><rect x="446.6" y="255.4" fill="#fffebe"/><rect x="467.9" y="255.4" fill="#edf8df"/><rect x="489.1" y="255.4" fill="#edf8df"/><rect x="510.4" y="255.4" fill="#edf8df"/><rect x="531.7" y="255.4" fill="#daf0f6"/><rect x="552.9" y="255.4" fill="#daf0f6"/><rect x="574.2" y="255.4" fill="#daf0f6"/><rect x="595.5" y="255.4" fill="#bde2ee"/><rect x="616.7" y="255.4" fill="#bde2ee"/><rect x="638.0" y="255.4" fill="#daf0f6"/><rect x="659.3" y="255.4" fill="#edf8df"/><rect x="680.5" y="255.4" fill="#fffebe"/><rect x="701.8" y="255.4" fill="#fffebe"/><rect x="723.1" y="255.4" fill="#fffebe"/><rect x="744.3" y="255.4" fill="#fffebe"/><rect x="765.6" y="255.4" fill="#fffebe"/><rect x="-21.3" y="276.7" fill="#edf8df"/><rect x="0.0" y="276.7" fill="#edf8df"/><rect x="21.3" y="276.7" fill="#edf8df"/><rect x="42.5" y="276.7" fill="#edf8df"/><rect x="63.8" y="276.7" fill="#fffebe"/><rect x="85.1" y="276.7" fill="#fffebe"/><rect x="106.3" y="276.7" fill="#fffebe"/><rect x="127.6" y="276.7" fill="#fffebe"/><rect x="148.9" y="276.7" fill="#fffebe"/><rect x="170.1" y="276.7" fill="#fffebe"/><rect x="191.4" y="276.7" fill="#fffebe"/><rect x="212.7" y="276.7" fill="#fffebe"/><rect x="233.9" y="276.7" fill="#fffebe"/><rect x="255.2" y="276.7" fill="#feeda4"/><rect x="276.5" y="276.7" fill="#feeda4"/><rect x="297.7" y="276.7" fill="#feeda4"/><rect x="319.0" y="276.7" fill="#feeda4"/><rect x="340.3" y="276.7" fill="#feeda4"/><rect x="361.5" y="276.7" fill="#feeda4"/><rect x="382.8" y="276.7" fill="#fffebe"/><rect x="404.1" y="276.7" fill="#fffebe"/><rect x="425.3" y="276.7" fill="#fffebe"/><rect x="446.6" y="276.7" fill="#fffebe"/><rect x="467.9" y="276.7" fill="#fffebe"/><rect x="489.1" y="276.7" fill="#fffebe"/><rect x="510.4" y="276.7" fill="#fffebe"/><rect x="531.7" y="276.7" fill="#fffebe"/><rect x="552.9" y="276.7" fill="#edf8df"/><rect x="574.2" y="276.7" fill="#edf8df"/><rect x="595.5" y="276.7" fill="#edf8df"/><rect x="616.7" y="276.7" fill="#edf8df"/><rect x="638.0" y="276.7" fill="#fffebe"/><rect x="659.3" y="276.7" fill="#fffebe"/><rect x="680.5" y="276.7" fill="#fffebe"/><rect x="701.8" y="276.7" fill="#fffebe"/><rect x="723.1" y="276.7" fill="#fffebe"/><rect x="744.3" y="276.7" fill="#fffebe"/><rect x="765.6" y="276.7" fill="#fffebe"/><rect x="-21.3" y="297.9" fill="#edf8df"/><rect x="0.0" y="297.9" fill="#edf8df"/><rect x="21.3" y="297.9" fill="#edf8df"/><rect x="42.5" y="297.9" fill="#fffebe"/><rect x="63.8" y="297.9" fill="#fffebe"/><rect x="85.1" y="297.9" fill="#fffebe"/><rect x="106.3" y="297.9" fill="#fffebe"/><rect x="127.6" y="297.9" fill="#fffebe"/><rect x="148.9" y="297.9" fill="#fffebe"/><rect x="170.1" y="297.9" fill="#fffebe"/><rect x="191.4" y="297.9" fill="#fffebe"/><rect x="212.7" y="297.9" fill="#fffebe"/><rect x="233.9" y="297.9" fill="#fffebe"/><rect x="255.2" y="297.9" fill="#fffebe"/><rect x="276.5" y="297.9" fill="#fffebe"/><rect x="297.7" y="297.9" fill="#fffebe"/><rect x="319.0" y="297.9" fill="#fffebe"/><rect x="340.3" y="297.9" fill="#fffebe"/><rect x="361.5" y="297.9" fill="#fffebe"/><rect x="382.8" y="297.9" fill="#feeda4"/><rect x="404.1" y="297.9" fill="#feeda4"/><rect x="425.3" y="297.9" fill="#feeda4"/><rect x="446.6" y="297.9" fill="#feeda4"/><rect x="467.9" y="297.9" fill="#fffebe"/><rect x="489.1" y="297.9" fill="#fffebe"/><rect x="510.4" y="297.9" fill="#fffebe"/><rect x="531.7" y="297.9" fill="#fffebe"/><rect x="552.9" y="297.9" fill="#fffebe"/><rect x="574.2" y="297.9" fill="#fffebe"/><rect x="595.5" y="297.9" fill="#fffebe"/><rect x="616.7" y="297.9" fill="#fffebe"/><rect x="638.0" y="297.9" fill="#fffebe"/><rect x="659.3" y="297.9" fill="#fffebe"/><rect x="680.5" y="297.9" fill="#feeda4"/><rect x="701.8" y="297.9" fill="#feeda4"/><rect x="723.1" y="297.9" fill="#feeda4"/><rect x="744.3" y="297.9" fill="#feeda4"/><rect x="765.6" y="297.9" fill="#feeda4"/><rect x="-21.3" y="319.2" fill="#edf8df"/><rect x="0.0" y="319.2" fill="#edf8df"/><rect x="21.3" y="319.2" fill="#fffebe"/><rect x="42.5" y="319.2" fill="#fffebe"/><rect x="63.8" y="319.2" fill="#fffebe"/><rect x="85.1" y="319.2" fill="#fffebe"/><rect x="106.3" y="319.2" fill="#fffebe"/><rect x="127.6" y="319.2" fill="#fffebe"/><rect x="148.9" y="319.2" fill="#fffebe"/><rect x="170.1" y="319.2" fill="#fffebe"/><rect x="191.4" y="319.2" fill="#fffebe"/><rect x="212.7" y="319.2" fill="#fffebe"/><rect x="233.9" y="319.2" fill="#fffebe"/><rect x="255.2" y="319.2" fill="#fffebe"/><rect x="276.5" y="319.2" fill="#fffebe"/><rect x="297.7" y="319.2" fill="#fffebe"/><rect x="319.0" y="319.2" fill="#fffebe"/><rect x="340.3" y="319.2" fill="#fffebe"/><rect x="361.5" y="319.2" fill="#fffebe"/><rect x="382.8" y="319.2" fill="#feeda4"/><rect x="404.1" y="319.2" fill="#feeda4"/><rect x="425.3" y="319.2" fill="#feeda4"/><rect x="446.6" y="319.2" fill="#feeda4"/><rect x="467.9" y="319.2" fill="#feeda4"/><rect x="489.1" y="319.2" fill="#fffebe"/><rect x="510.4" y="319.2" fill="#fffebe"/><rect x="531.7" y="319.2" fill="#fffebe"/><rect x="552.9" y="319.2" fill="#fffebe"/><rect x="574.2" y="319.2" fill="#fffebe"/><rect x="595.5" y="319.2" fill="#fffebe"/><rect x="616.7" y="319.2" fill="#fffebe"/><rect x="638.0" y="319.2" fill="#fffebe"/><rect x="659.3" y="319.2" fill="#fffebe"/><rect x="680.5" y="319.2" fill="#feeda4"/><rect x="701.8" y="319.2" fill="#feeda4"/><rect x="723.1" y="319.2" fill="#feeda4"/><rect x="744.3" y="319.2" fill="#feeda4"/><rect x="765.6" y="319.2" fill="#feeda4"/><rect x="-21.3" y="340.5" fill="#edf8df"/><rect x="0.0" y="340.5" fill="#edf8df"/><rect x="21.3" y="340.5" fill="#fffebe"/><rect x="42.5" y="340.5" fill="#fffebe"/><rect x="63.8" y="340.5" fill="#fffebe"/><rect x="85.1" y="340.5" fill="#fffebe"/><rect x="106.3" y="340.5" fill="#fffebe"/><rect x="127.6" y="340.5" fill="#fffebe"/><rect x="148.9" y="340.5" fill="#fffebe"/><rect x="170.1" y="340.5" fill="#fffebe"/><rect x="191.4" y="340.5" fill="#fffebe"/><rect x="212.7" y="340.5" fill="#fffebe"/><rect x="233.9" y="340.5" fill="#fffebe"/><rect x="255.2" y="340.5" fill="#fffebe"/><rect x="276.5" y="340.5" fill="#fffebe"/><rect x="297.7" y="340.5" fill="#fffebe"/><rect x="319.0" y="340.5" fill="#fffebe"/><rect x="340.3" y="340.5" fill="#fffebe"/><rect x="361.5" y="340.5" fill="#fffebe"/><rect x="382.8" y="340.5" fill="#feeda4"/><rect x="404.1" y="340.5" fill="#feeda4"/><rect x="425.3" y="340.5" fill="#feeda4"/><rect x="446.6" y="340.5" fill="#feeda4"/><rect x="467.9" y="340.5" fill="#feeda4"/><rect x="489.1" y="340.5" fill="#fffebe"/><rect x="510.4" y="340.5" fill="#fffebe"/><rect x="531.7" y="340.5" fill="#fffebe"/><rect x="552.9" y="340.5" fill="#fffebe"/><rect x="574.2" y="340.5" fill="#fffebe"/><rect x="595.5" y="340.5" fill="#fffebe"/><rect x="616.7" y="340.5" fill="#fffebe"/><rect x="638.0" y="340.5" fill="#fffebe"/><rect x="659.3" y="340.5" fill="#fffebe"/><rect x="680.5" y="340.5" fill="#feeda4"/><rect x="701.8" y="340.5" fill="#feeda4"/><rect x="723.1" y="340.5" fill="#feeda4"/><rect x="744.3" y="340.5" fill="#feeda4"/><rect x="765.6" y="340.5" fill="#feeda4"/></g>
</g>
<g clip-path="url(#axclip)"><use href="#coast"/><circle cx="469.5" cy="246.5" r="3.2"/><path d="M476.6,248.3 482.6,251.9 486.4,257.9" fill="none" stroke="#000" stroke-width="5.5" stroke-linecap="round" stroke-linejoin="round"/><polygon points="24.2,-2.6 24.5,-1.7 22.4,-2.0 28.1,6.1 27.8,-3.8 26.3,-2.3 26.0,-3.2"/><polygon points="78.8,-3.4 78.8,-2.4 76.8,-3.4 79.8,6.6 82.8,-3.4 80.8,-2.4 80.8,-3.4"/><polygon points="135.9,-4.2 135.1,-3.2 133.9,-5.8 128.9,6.6 139.9,-1.0 137.1,-1.6 137.9,-2.6"/><polygon points="184.1,-3.2 184.3,-2.2 182.1,-2.8 187.1,6.6 188.1,-4.0 186.3,-2.6 186.1,-3.6"/><polygon points="238.3,-3.4 238.3,-2.4 236.3,-3.4 239.3,6.6 242.3,-3.4 240.3,-2.4 240.3,-3.4"/><polygon points="296.6,-0.8 295.7,-0.5 296.0,-2.6 287.9,3.1 297.8,2.8 296.3,1.3 297.2,1.0"/><polygon points="336.9,-0.3 338.5,0.4 335.5,2.9 353.6,5.1 339.7,-6.7 339.9,-2.8 338.3,-3.5"/><polygon points="377.3,-1.1 380.9,0.5 377.4,3.3 398.1,6.1 382.3,-7.6 382.5,-3.2 378.9,-4.8"/><polygon points="432.8,0.7 434.4,1.2 431.8,3.9 449.3,4.1 434.8,-5.7 435.4,-2.0 433.8,-2.5"/><polygon points="483.2,2.0 487.3,2.6 484.8,6.3 505.5,3.1 486.4,-5.6 487.9,-1.4 483.7,-1.9"/><polygon points="538.3,1.9 540.1,2.2 537.7,5.5 556.6,3.1 539.5,-5.3 540.7,-1.4 538.9,-1.7"/><polygon points="593.5,1.5 594.9,1.8 592.9,4.3 607.8,3.1 594.7,-4.1 595.5,-1.0 594.1,-1.3"/><polygon points="649.8,1.4 650.5,1.6 649.4,3.0 658.0,2.6 650.6,-1.8 651.0,-0.0 650.2,-0.2"/><circle cx="707.1" cy="1.6" r="2.0"/><circle cx="760.3" cy="1.6" r="2.0"/><polygon points="19.7,38.4 20.9,39.3 17.9,40.8 32.6,46.2 23.3,33.6 22.7,36.9 21.5,36.0"/><polygon points="78.8,39.3 78.9,39.8 77.8,39.5 80.3,44.2 80.8,38.9 79.9,39.6 79.8,39.1"/><polygon points="130.6,45.8 131.2,45.1 132.0,47.0 135.9,38.2 127.8,43.4 129.8,43.9 129.2,44.6"/><polygon points="188.6,41.2 188.1,41.2 188.6,40.2 183.6,41.7 188.6,43.2 188.1,42.2 188.6,42.2"/><polygon points="246.4,40.8 245.0,40.7 246.6,38.0 232.3,41.2 246.0,46.4 244.8,43.5 246.2,43.6"/><polygon points="290.0,37.5 290.3,38.4 288.2,38.1 293.9,46.2 293.6,36.3 292.1,37.8 291.8,36.9"/><polygon points="346.6,46.7 346.6,45.7 348.6,46.7 345.6,36.7 342.6,46.7 344.6,45.7 344.6,46.7"/><polygon points="389.1,46.7 389.1,45.7 391.1,46.7 388.1,36.7 385.1,46.7 387.1,45.7 387.1,46.7"/><polygon points="432.8,54.0 440.7,45.3 442.3,49.5 451.3,30.7 433.4,41.4 437.7,42.6 429.8,51.3"/><polygon points="486.6,41.2 488.1,41.6 485.8,44.2 502.0,43.7 488.2,35.2 488.9,38.6 487.4,38.2"/><polygon points="530.8,36.0 546.5,43.3 543.0,46.1 563.6,49.2 548.1,35.2 548.2,39.7 532.5,32.4"/><polygon points="575.9,32.0 607.7,47.2 604.2,49.9 624.8,53.2 609.3,39.1 609.4,43.6 577.6,28.4"/><circle cx="654.0" cy="41.7" r="2.0"/><circle cx="707.1" cy="41.7" r="2.0"/><circle cx="760.3" cy="41.7" r="2.0"/><polygon points="30.6,81.0 29.8,81.0 30.6,79.4 22.6,81.8 30.6,84.2 29.8,82.6 30.6,82.6"/><polygon points="78.8,76.8 78.8,77.8 76.8,76.8 79.8,86.8 82.8,76.8 80.8,77.8 80.8,76.8"/><polygon points="128.6,78.5 129.3,79.3 127.0,79.9 136.4,85.8 131.8,75.7 130.9,77.9 130.2,77.1"/><polygon points="183.2,80.3 183.7,80.7 182.4,81.3 188.6,83.8 184.8,78.3 184.5,79.7 184.0,79.3"/><circle cx="239.3" cy="81.8" r="2.0"/><polygon points="291.9,79.3 291.9,79.8 290.9,79.3 292.4,84.3 293.9,79.3 292.9,79.8 292.9,79.3"/><polygon points="360.0,93.9 346.5,79.9 350.8,78.5 332.6,68.3 342.1,86.9 343.6,82.6 357.1,96.7"/><polygon points="397.4,95.9 390.5,82.0 394.9,82.0 380.6,66.8 384.2,87.4 386.9,83.8 393.8,97.7"/><circle cx="441.3" cy="81.8" r="2.0"/><polygon points="495.5,79.0 495.2,79.5 494.5,78.4 493.0,84.3 497.5,80.2 496.2,80.1 496.5,79.6"/><polygon points="546.6,76.8 546.6,77.8 544.6,76.8 547.6,86.8 550.6,76.8 548.6,77.8 548.6,76.8"/><polygon points="599.9,77.3 599.9,78.2 598.1,77.3 600.8,86.3 603.5,77.3 601.7,78.2 601.7,77.3"/><polygon points="651.2,80.8 651.7,81.1 650.6,81.8 656.5,83.3 652.4,78.8 652.2,80.1 651.8,79.8"/><polygon points="698.1,74.1 701.6,78.2 697.2,79.3 714.6,90.8 706.4,71.6 704.6,75.7 701.2,71.5"/><polygon points="758.3,79.6 758.6,80.1 757.3,80.2 761.8,84.3 760.3,78.4 759.6,79.5 759.3,79.0"/><circle cx="26.6" cy="121.9" r="2.0"/><polygon points="78.7,119.0 78.8,119.6 77.5,119.2 80.3,124.9 81.1,118.6 80.0,119.4 79.9,118.8"/><polygon points="130.0,125.6 130.7,125.0 131.2,127.0 136.4,118.9 127.6,122.8 129.5,123.6 128.8,124.2"/><polygon points="182.2,125.8 183.1,125.2 183.4,127.6 190.6,118.9 179.8,122.2 181.9,123.4 181.0,124.0"/><polygon points="234.5,129.1 235.7,127.9 236.9,131.5 245.3,115.9 229.7,124.3 233.3,125.5 232.1,126.7"/><polygon points="301.6,121.1 299.8,120.9 302.0,117.5 283.4,120.9 300.8,128.3 299.4,124.5 301.2,124.7"/><polygon points="366.3,122.4 343.2,119.6 345.7,115.9 325.1,119.4 344.2,127.8 342.7,123.6 365.8,126.4"/><polygon points="414.0,124.9 380.7,118.4 383.4,114.9 362.6,116.9 381.1,126.6 379.9,122.3 413.2,128.9"/><polygon points="476.5,114.9 423.3,122.4 424.8,118.2 405.8,126.9 426.4,130.0 423.9,126.4 477.1,118.9"/><polygon points="521.1,114.4 484.7,121.8 485.8,117.5 467.5,127.4 488.2,129.3 485.5,125.8 521.8,118.4"/><polygon points="564.2,103.4 541.3,125.1 540.0,120.8 529.6,138.9 548.3,129.5 544.1,128.0 567.0,106.3"/><polygon points="606.9,98.7 596.9,126.8 593.8,123.5 592.8,144.4 605.1,127.6 600.7,128.1 610.7,100.1"/><polygon points="662.2,116.1 660.4,116.9 660.6,112.5 645.0,125.9 665.4,123.3 662.0,120.5 663.8,119.7"/><polygon points="713.2,116.0 711.8,116.9 711.4,113.2 700.1,126.4 716.8,121.6 713.6,119.7 715.0,118.8"/><polygon points="757.0,118.4 757.5,119.2 755.4,119.4 762.8,125.9 760.2,116.4 759.1,118.2 758.6,117.4"/><circle cx="26.6" cy="162.0" r="2.0"/><polygon points="76.7,167.3 77.5,166.4 78.5,168.9 83.8,157.5 73.1,164.1 75.7,164.8 74.9,165.7"/><polygon points="130.3,156.8 130.6,157.9 128.1,157.4 134.4,167.5 134.7,155.6 132.8,157.3 132.5,156.2"/><polygon points="192.0,151.7 188.6,155.9 186.8,151.8 178.6,171.0 196.0,159.5 191.6,158.5 195.1,154.3"/><circle cx="239.3" cy="162.0" r="2.0"/><polygon points="291.7,158.5 291.7,159.2 290.3,158.5 292.4,165.5 294.5,158.5 293.1,159.2 293.1,158.5"/><polygon points="344.3,155.5 344.3,156.8 341.7,155.5 345.6,168.5 349.5,155.5 346.9,156.8 346.9,155.5"/><polygon points="393.3,154.2 392.0,155.5 390.7,151.6 381.6,168.5 398.5,159.4 394.6,158.1 395.9,156.8"/><polygon points="451.0,158.5 448.8,158.9 450.2,154.6 431.3,163.5 452.0,166.5 449.4,162.8 451.6,162.5"/><polygon points="505.8,170.1 498.9,163.5 503.1,161.9 484.5,152.5 494.8,170.6 496.1,166.4 503.1,173.0"/><polygon points="552.4,149.5 548.2,156.9 545.7,153.1 541.1,173.5 556.2,159.0 551.7,158.8 555.9,151.5"/><polygon points="600.9,170.3 601.2,168.7 604.1,170.9 602.3,154.0 594.5,169.1 598.0,168.1 597.7,169.7"/><circle cx="654.0" cy="162.0" r="2.0"/><polygon points="715.2,160.9 713.6,160.8 715.4,157.7 699.1,161.5 714.8,167.3 713.4,164.0 715.0,164.1"/><polygon points="758.8,167.5 759.3,166.5 760.8,168.5 762.8,157.0 754.8,165.5 757.3,165.5 756.8,166.5"/><circle cx="26.6" cy="202.1" r="2.0"/><circle cx="79.8" cy="202.1" r="2.0"/><circle cx="132.9" cy="202.1" r="2.0"/><circle cx="186.1" cy="202.1" r="2.0"/><polygon points="238.3,210.1 238.8,208.6 241.3,211.1 241.8,194.6 232.3,208.1 235.8,207.6 235.3,209.1"/><polygon points="285.4,203.5 286.8,203.5 285.4,206.3 299.4,202.1 285.4,197.9 286.8,200.7 285.4,200.7"/><polygon points="330.0,199.5 342.8,203.4 339.7,206.6 360.6,206.6 343.2,195.1 343.9,199.5 331.2,195.7"/><polygon points="377.9,203.1 380.0,203.3 377.6,207.1 398.1,203.1 378.8,195.2 380.4,199.3 378.3,199.1"/><polygon points="420.0,213.0 447.4,201.8 447.0,206.2 463.3,193.1 442.5,195.1 445.9,198.1 418.5,209.3"/><polygon points="483.3,215.1 495.1,204.3 496.3,208.6 507.0,190.6 488.2,199.7 492.3,201.3 480.6,212.1"/><polygon points="534.5,203.1 542.5,203.7 540.2,207.6 560.6,203.1 541.1,195.6 542.8,199.7 534.8,199.1"/><polygon points="588.9,220.8 604.9,200.1 606.8,204.1 614.3,184.6 597.3,196.8 601.7,197.6 585.7,218.4"/><polygon points="648.2,204.8 649.5,204.5 648.9,207.2 660.0,200.6 647.1,200.0 648.9,202.1 647.7,202.4"/><polygon points="703.1,202.9 703.9,202.9 703.1,204.5 711.1,202.1 703.1,199.7 703.9,201.3 703.1,201.3"/><polygon points="755.1,207.3 756.3,206.5 756.7,209.7 766.3,198.1 751.9,202.5 754.7,204.1 753.5,204.9"/><circle cx="26.6" cy="242.2" r="2.0"/><circle cx="79.8" cy="242.2" r="2.0"/><circle cx="132.9" cy="242.2" r="2.0"/><polygon points="172.2,253.4 186.9,244.0 187.4,248.5 201.1,232.7 181.0,238.4 184.8,240.7 170.0,250.0"/><polygon points="238.0,251.3 238.6,249.6 241.4,252.5 242.3,233.7 231.2,248.9 235.2,248.4 234.6,250.1"/><polygon points="284.5,246.9 286.2,246.3 285.7,250.3 300.9,239.2 282.1,240.1 285.0,242.9 283.3,243.5"/><polygon points="338.1,243.7 339.6,243.7 338.1,246.7 353.1,242.2 338.1,237.7 339.6,240.7 338.1,240.7"/><polygon points="380.0,243.3 381.6,243.4 379.8,246.5 396.1,242.7 380.4,236.9 381.8,240.2 380.2,240.1"/><polygon points="433.9,244.2 435.4,244.1 434.1,247.2 448.8,241.7 433.5,238.2 435.2,241.1 433.7,241.2"/><polygon points="490.9,245.0 491.7,244.6 491.7,246.6 498.5,240.2 489.3,241.8 490.9,243.0 490.1,243.4"/><polygon points="542.5,247.9 543.7,247.0 544.3,250.3 553.6,237.7 538.9,243.1 541.9,244.6 540.7,245.5"/><polygon points="601.0,245.8 601.1,245.1 602.4,246.0 601.3,238.7 598.2,245.4 599.7,244.9 599.6,245.6"/><polygon points="644.7,242.5 646.5,242.8 644.1,246.1 663.0,243.7 645.9,235.3 647.0,239.2 645.2,238.9"/><polygon points="703.1,243.0 703.9,243.0 703.1,244.6 711.1,242.2 703.1,239.8 703.9,241.4 703.1,241.4"/><polygon points="756.3,237.8 756.9,238.8 754.3,239.0 763.3,247.2 760.3,235.4 758.9,237.6 758.3,236.6"/><polygon points="31.8,282.3 30.8,282.1 32.2,280.3 21.6,281.3 31.0,286.3 30.4,284.1 31.4,284.3"/><circle cx="79.8" cy="282.3" r="2.0"/><circle cx="132.9" cy="282.3" r="2.0"/><circle cx="186.1" cy="282.3" r="2.0"/><polygon points="252.8,283.9 244.2,281.6 247.1,278.2 226.3,278.8 244.0,289.8 243.1,285.4 251.7,287.8"/><polygon points="310.0,280.8 293.0,280.4 295.1,276.4 274.9,281.8 294.7,288.4 292.9,284.4 309.9,284.8"/><polygon points="359.8,274.5 346.6,279.8 346.9,275.3 330.6,288.3 351.4,286.5 348.0,283.5 361.3,278.2"/><polygon points="394.3,273.9 392.4,275.6 391.1,271.3 380.6,289.3 399.3,280.1 395.1,278.5 397.0,276.8"/><polygon points="447.2,275.4 445.8,276.5 445.0,272.6 434.3,287.8 451.6,281.0 448.0,279.3 449.4,278.2"/><polygon points="501.9,275.2 500.0,276.4 499.5,271.9 486.0,287.8 506.0,282.0 502.1,279.7 504.0,278.5"/><polygon points="559.3,275.0 550.8,278.8 551.0,274.3 535.1,287.8 555.8,285.3 552.4,282.4 560.9,278.7"/><polygon points="614.6,275.0 602.4,279.6 602.9,275.1 586.3,287.8 607.1,286.4 603.8,283.3 616.0,278.7"/><polygon points="671.1,271.5 651.2,281.5 651.2,277.0 636.0,291.3 656.5,287.8 652.9,285.1 672.8,275.1"/><polygon points="711.3,274.7 710.2,276.0 708.7,272.5 701.6,288.8 716.5,279.1 712.8,278.2 713.9,276.9"/><circle cx="760.3" cy="282.3" r="2.0"/><circle cx="26.6" cy="322.5" r="2.0"/><circle cx="79.8" cy="322.5" r="2.0"/><polygon points="131.5,320.7 131.7,321.1 130.7,321.1 133.9,324.5 133.1,319.9 132.5,320.7 132.3,320.3"/><polygon points="179.8,317.0 180.8,318.3 177.2,319.0 191.1,329.0 185.0,313.0 183.4,316.3 182.4,315.0"/><polygon points="239.8,310.5 238.6,315.9 235.1,313.1 236.8,334.0 246.9,315.7 242.5,316.8 243.7,311.4"/><polygon points="290.6,313.5 290.6,315.3 287.0,313.5 292.4,331.5 297.8,313.5 294.2,315.3 294.2,313.5"/><polygon points="343.6,312.5 343.6,314.5 339.6,312.5 345.6,332.5 351.6,312.5 347.6,314.5 347.6,312.5"/><polygon points="386.1,311.5 386.1,315.5 382.1,313.5 388.1,333.5 394.1,313.5 390.1,315.5 390.1,311.5"/><polygon points="437.6,314.4 438.0,316.1 434.2,315.2 443.3,331.0 444.4,312.8 441.4,315.3 441.0,313.6"/><polygon points="490.6,316.0 491.1,317.4 487.8,317.0 497.0,329.5 496.2,314.0 493.9,316.4 493.4,315.0"/><polygon points="549.5,316.4 548.9,317.5 547.3,315.2 544.6,328.0 553.9,318.8 551.1,318.7 551.7,317.6"/><polygon points="607.7,309.3 601.1,318.6 598.9,314.7 592.3,334.5 608.7,321.6 604.3,320.9 610.9,311.6"/><polygon points="662.4,308.2 653.3,320.0 651.4,315.9 644.0,335.5 660.9,323.3 656.5,322.4 665.5,310.7"/><polygon points="717.6,308.1 705.9,320.9 704.3,316.7 695.1,335.5 713.1,324.8 708.8,323.6 720.6,310.8"/><polygon points="765.1,310.9 761.6,316.6 759.2,312.8 753.8,333.0 769.4,319.1 765.0,318.7 768.5,313.0"/></g>
<rect width="765.6" height="340.5" fill="none" stroke="#000" stroke-width="3"/>
</g>
<text x="92.5" y="1163.0" font-size="41" font-weight="bold">e</text>
<text x="71.7" y="1282.3" font-size="30" text-anchor="end">60°N</text>
<text x="71.7" y="1410.0" font-size="30" text-anchor="end">30°N</text>
<text x="219.1" y="1571.7" font-size="30" text-anchor="middle">120°E</text>
<text x="474.3" y="1571.7" font-size="30" text-anchor="middle">180°E</text>
<text x="729.5" y="1571.7" font-size="30" text-anchor="middle">120°W</text>
<polygon points="90.5,1598.3 125.7,1579.3 125.7,1617.4" fill="#313695"/>
<polygon points="858.1,1598.3 824.3,1579.3 824.3,1617.4" fill="#a50026"/>
<rect x="125.7" y="1579.3" width="698.6" height="38.1" fill="url(#gt)"/>
<polygon points="90.5,1598.3 125.7,1579.3 824.3,1579.3 858.1,1598.3 824.3,1617.4 125.7,1617.4" fill="none" stroke="#000" stroke-width="3"/>
<line x1="125.7" y1="1617.4" x2="125.7" y2="1631.9" stroke="#000" stroke-width="3"/>
<text x="125.7" y="1669.4" font-size="30" text-anchor="middle">−3</text>
<line x1="242.1" y1="1617.4" x2="242.1" y2="1631.9" stroke="#000" stroke-width="3"/>
<text x="242.1" y="1669.4" font-size="30" text-anchor="middle">−2</text>
<line x1="358.6" y1="1617.4" x2="358.6" y2="1631.9" stroke="#000" stroke-width="3"/>
<text x="358.6" y="1669.4" font-size="30" text-anchor="middle">−1</text>
<line x1="475.0" y1="1617.4" x2="475.0" y2="1631.9" stroke="#000" stroke-width="3"/>
<text x="475.0" y="1669.4" font-size="30" text-anchor="middle">0</text>
<line x1="591.4" y1="1617.4" x2="591.4" y2="1631.9" stroke="#000" stroke-width="3"/>
<text x="591.4" y="1669.4" font-size="30" text-anchor="middle">1</text>
<line x1="707.9" y1="1617.4" x2="707.9" y2="1631.9" stroke="#000" stroke-width="3"/>
<text x="707.9" y="1669.4" font-size="30" text-anchor="middle">2</text>
<line x1="824.3" y1="1617.4" x2="824.3" y2="1631.9" stroke="#000" stroke-width="3"/>
<text x="824.3" y="1669.4" font-size="30" text-anchor="middle">3</text>
<text x="474.3" y="1714.0" font-size="30" text-anchor="middle">Air temperature (°C)</text>
<g transform="translate(972.20,1186.60)">
<g clip-path="url(#axclip)">
<g filter="url(#blur)"><rect x="-21.3" y="-21.3" fill="#ffe2e2"/><rect x="0.0" y="-21.3" fill="#ffe2e2"/><rect x="21.3" y="-21.3" fill="#ffc6c6"/><rect x="42.5" y="-21.3" fill="#ffc6c6"/><rect x="63.8" y="-21.3" fill="#ffaaaa"/><rect x="85.1" y="-21.3" fill="#ffaaaa"/><rect x="106.3" y="-21.3" fill="#ffaaaa"/><rect x="127.6" y="-21.3" fill="#ffaaaa"/><rect x="148.9" y="-21.3" fill="#ffaaaa"/><rect x="170.1" y="-21.3" fill="#ffaaaa"/><rect x="191.4" y="-21.3" fill="#ffaaaa"/><rect x="212.7" y="-21.3" fill="#ffaaaa"/><rect x="233.9" y="-21.3" fill="#ff8e8e"/><rect x="255.2" y="-21.3" fill="#ff8e8e"/><rect x="276.5" y="-21.3" fill="#ff8e8e"/><rect x="297.7" y="-21.3" fill="#ff8e8e"/><rect x="319.0" y="-21.3" fill="#ff7070"/><rect x="340.3" y="-21.3" fill="#ff7070"/><rect x="361.5" y="-21.3" fill="#ff5454"/><rect x="382.8" y="-21.3" fill="#ffaaaa"/><rect x="404.1" y="-21.3" fill="#ffaaaa"/><rect x="425.3" y="-21.3" fill="#ffaaaa"/><rect x="446.6" y="-21.3" fill="#ffaaaa"/><rect x="467.9" y="-21.3" fill="#ffaaaa"/><rect x="489.1" y="-21.3" fill="#ffaaaa"/><rect x="510.4" y="-21.3" fill="#ffaaaa"/><rect x="531.7" y="-21.3" fill="#ffaaaa"/><rect x="552.9" y="-21.3" fill="#ffc6c6"/><rect x="574.2" y="-21.3" fill="#ffc6c6"/><rect x="595.5" y="-21.3" fill="#ffe2e2"/><rect x="616.7" y="-21.3" fill="#fffefe"/><rect x="638.0" y="-21.3" fill="#e2e2ff"/><rect x="659.3" y="-21.3" fill="#e2e2ff"/><rect x="680.5" y="-21.3" fill="#c6c6ff"/><rect x="701.8" y="-21.3" fill="#c6c6ff"/><rect x="723.1" y="-21.3" fill="#c6c6ff"/><rect x="744.3" y="-21.3" fill="#aaaaff"/><rect x="765.6" y="-21.3" fill="#aaaaff"/><rect x="-21.3" y="0.0" fill="#ffe2e2"/><rect x="0.0" y="0.0" fill="#ffe2e2"/><rect x="21.3" y="0.0" fill="#ffc6c6"/><rect x="42.5" y="0.0" fill="#ffc6c6"/><rect x="63.8" y="0.0" fill="#ffaaaa"/><rect x="85.1" y="0.0" fill="#ffaaaa"/><rect x="106.3" y="0.0" fill="#ffaaaa"/><rect x="127.6" y="0.0" fill="#ffaaaa"/><rect x="148.9" y="0.0" fill="#ffaaaa"/><rect x="170.1" y="0.0" fill="#ffaaaa"/><rect x="191.4" y="0.0" fill="#ffaaaa"/><rect x="212.7" y="0.0" fill="#ffaaaa"/><rect x="233.9" y="0.0" fill="#ff8e8e"/><rect x="255.2" y="0.0" fill="#ff8e8e"/><rect x="276.5" y="0.0" fill="#ff8e8e"/><rect x="297.7" y="0.0" fill="#ff8e8e"/><rect x="319.0" y="0.0" fill="#ff7070"/><rect x="340.3" y="0.0" fill="#ff7070"/><rect x="361.5" y="0.0" fill="#ff5454"/><rect x="382.8" y="0.0" fill="#ffaaaa"/><rect x="404.1" y="0.0" fill="#ffaaaa"/><rect x="425.3" y="0.0" fill="#ffaaaa"/><rect x="446.6" y="0.0" fill="#ffaaaa"/><rect x="467.9" y="0.0" fill="#ffaaaa"/><rect x="489.1" y="0.0" fill="#ffaaaa"/><rect x="510.4" y="0.0" fill="#ffaaaa"/><rect x="531.7" y="0.0" fill="#ffaaaa"/><rect x="552.9" y="0.0" fill="#ffc6c6"/><rect x="574.2" y="0.0" fill="#ffc6c6"/><rect x="595.5" y="0.0" fill="#ffe2e2"/><rect x="616.7" y="0.0" fill="#fffefe"/><rect x="638.0" y="0.0" fill="#e2e2ff"/><rect x="659.3" y="0.0" fill="#e2e2ff"/><rect x="680.5" y="0.0" fill="#c6c6ff"/><rect x="701.8" y="0.0" fill="#c6c6ff"/><rect x="723.1" y="0.0" fill="#c6c6ff"/><rect x="744.3" y="0.0" fill="#aaaaff"/><rect x="765.6" y="0.0" fill="#aaaaff"/><rect x="-21.3" y="21.3" fill="#ffaaaa"/><rect x="0.0" y="21.3" fill="#ffaaaa"/><rect x="21.3" y="21.3" fill="#ff8e8e"/><rect x="42.5" y="21.3" fill="#ff7070"/><rect x="63.8" y="21.3" fill="#ff7070"/><rect x="85.1" y="21.3" fill="#ff7070"/><rect x="106.3" y="21.3" fill="#ff8e8e"/><rect x="127.6" y="21.3" fill="#ff8e8e"/><rect x="148.9" y="21.3" fill="#ffaaaa"/><rect x="170.1" y="21.3" fill="#ffaaaa"/><rect x="191.4" y="21.3" fill="#ff8e8e"/><rect x="212.7" y="21.3" fill="#ff8e8e"/><rect x="233.9" y="21.3" fill="#ff8e8e"/><rect x="255.2" y="21.3" fill="#ff8e8e"/><rect x="276.5" y="21.3" fill="#ff7070"/><rect x="297.7" y="21.3" fill="#ff7070"/><rect x="319.0" y="21.3" fill="#ff5454"/><rect x="340.3" y="21.3" fill="#ff3838"/><rect x="361.5" y="21.3" fill="#ff3838"/><rect x="382.8" y="21.3" fill="#ff1c1c"/><rect x="404.1" y="21.3" fill="#ff0000"/><rect x="425.3" y="21.3" fill="#ff0000"/><rect x="446.6" y="21.3" fill="#ff0000"/><rect x="467.9" y="21.3" fill="#ff0000"/><rect x="489.1" y="21.3" fill="#ff0000"/><rect x="510.4" y="21.3" fill="#ff0000"/><rect x="531.7" y="21.3" fill="#ff0000"/><rect x="552.9" y="21.3" fill="#ff0000"/><rect x="574.2" y="21.3" fill="#ff0000"/><rect x="595.5" y="21.3" fill="#ff1c1c"/><rect x="616.7" y="21.3" fill="#ff7070"/><rect x="638.0" y="21.3" fill="#ffc6c6"/><rect x="659.3" y="21.3" fill="#fffefe"/><rect x="680.5" y="21.3" fill="#fffefe"/><rect x="701.8" y="21.3" fill="#e2e2ff"/><rect x="723.1" y="21.3" fill="#e2e2ff"/><rect x="744.3" y="21.3" fill="#e2e2ff"/><rect x="765.6" y="21.3" fill="#e2e2ff"/><rect x="-21.3" y="42.6" fill="#ff8e8e"/><rect x="0.0" y="42.6" fill="#ff8e8e"/><rect x="21.3" y="42.6" fill="#ff7070"/><rect x="42.5" y="42.6" fill="#ff5454"/><rect x="63.8" y="42.6" fill="#ff5454"/><rect x="85.1" y="42.6" fill="#ff7070"/><rect x="106.3" y="42.6" fill="#ff8e8e"/><rect x="127.6" y="42.6" fill="#ff8e8e"/><rect x="148.9" y="42.6" fill="#ffaaaa"/><rect x="170.1" y="42.6" fill="#ffc6c6"/><rect x="191.4" y="42.6" fill="#ffe2e2"/><rect x="212.7" y="42.6" fill="#ffc6c6"/><rect x="233.9" y="42.6" fill="#ffc6c6"/><rect x="255.2" y="42.6" fill="#ffaaaa"/><rect x="276.5" y="42.6" fill="#ff8e8e"/><rect x="297.7" y="42.6" fill="#ff7070"/><rect x="319.0" y="42.6" fill="#ff5454"/><rect x="340.3" y="42.6" fill="#ff3838"/><rect x="361.5" y="42.6" fill="#ff1c1c"/><rect x="382.8" y="42.6" fill="#ff0000"/><rect x="404.1" y="42.6" fill="#ff0000"/><rect x="425.3" y="42.6" fill="#ff0000"/><rect x="446.6" y="42.6" fill="#ff0000"/><rect x="467.9" y="42.6" fill="#ff0000"/><rect x="489.1" y="42.6" fill="#ff0000"/><rect x="510.4" y="42.6" fill="#ff0000"/><rect x="531.7" y="42.6" fill="#ff0000"/><rect x="552.9" y="42.6" fill="#ff0000"/><rect x="574.2" y="42.6" fill="#ff0000"/><rect x="595.5" y="42.6" fill="#ff0000"/><rect x="616.7" y="42.6" fill="#ff0000"/><rect x="638.0" y="42.6" fill="#ff1c1c"/><rect x="659.3" y="42.6" fill="#ff5454"/><rect x="680.5" y="42.6" fill="#ff8e8e"/><rect x="701.8" y="42.6" fill="#ffaaaa"/><rect x="723.1" y="42.6" fill="#ffe2e2"/><rect x="744.3" y="42.6" fill="#fffefe"/><rect x="765.6" y="42.6" fill="#fffefe"/><rect x="-21.3" y="63.8" fill="#ffaaaa"/><rect x="0.0" y="63.8" fill="#ffaaaa"/><rect x="21.3" y="63.8" fill="#ff8e8e"/><rect x="42.5" y="63.8" fill="#ff8e8e"/><rect x="63.8" y="63.8" fill="#ff7070"/><rect x="85.1" y="63.8" fill="#ff8e8e"/><rect x="106.3" y="63.8" fill="#ffaaaa"/><rect x="127.6" y="63.8" fill="#ffaaaa"/><rect x="148.9" y="63.8" fill="#ffc6c6"/><rect x="170.1" y="63.8" fill="#ffe2e2"/><rect x="191.4" y="63.8" fill="#fffefe"/><rect x="212.7" y="63.8" fill="#ffe2e2"/><rect x="233.9" y="63.8" fill="#ffc6c6"/><rect x="255.2" y="63.8" fill="#ffc6c6"/><rect x="276.5" y="63.8" fill="#ffaaaa"/><rect x="297.7" y="63.8" fill="#ff7070"/><rect x="319.0" y="63.8" fill="#ff5454"/><rect x="340.3" y="63.8" fill="#ff1c1c"/><rect x="361.5" y="63.8" fill="#ff0000"/><rect x="382.8" y="63.8" fill="#ff0000"/><rect x="404.1" y="63.8" fill="#ff0000"/><rect x="425.3" y="63.8" fill="#ff0000"/><rect x="446.6" y="63.8" fill="#ff0000"/><rect x="467.9" y="63.8" fill="#ff0000"/><rect x="489.1" y="63.8" fill="#ff0000"/><rect x="510.4" y="63.8" fill="#ff0000"/><rect x="531.7" y="63.8" fill="#ff0000"/><rect x="552.9" y="63.8" fill="#ff0000"/><rect x="574.2" y="63.8" fill="#ff0000"/><rect x="595.5" y="63.8" fill="#ff0000"/><rect x="616.7" y="63.8" fill="#ff0000"/><rect x="638.0" y="63.8" fill="#ff0000"/><rect x="659.3" y="63.8" fill="#ff1c1c"/><rect x="680.5" y="63.8" fill="#ff3838"/><rect x="701.8" y="63.8" fill="#ff7070"/><rect x="723.1" y="63.8" fill="#ffaaaa"/><rect x="744.3" y="63.8" fill="#ffe2e2"/><rect x="765.6" y="63.8" fill="#ffe2e2"/><rect x="-21.3" y="85.1" fill="#ffaaaa"/><rect x="0.0" y="85.1" fill="#ffaaaa"/><rect x="21.3" y="85.1" fill="#ffaaaa"/><rect x="42.5" y="85.1" fill="#ffaaaa"/><rect x="63.8" y="85.1" fill="#ff8e8e"/><rect x="85.1" y="85.1" fill="#ffaaaa"/><rect x="106.3" y="85.1" fill="#ffaaaa"/><rect x="127.6" y="85.1" fill="#ffc6c6"/><rect x="148.9" y="85.1" fill="#ffe2e2"/><rect x="170.1" y="85.1" fill="#ffe2e2"/><rect x="191.4" y="85.1" fill="#fffefe"/><rect x="212.7" y="85.1" fill="#e2e2ff"/><rect x="233.9" y="85.1" fill="#fffefe"/><rect x="255.2" y="85.1" fill="#ffe2e2"/><rect x="276.5" y="85.1" fill="#ffc6c6"/><rect x="297.7" y="85.1" fill="#ff8e8e"/><rect x="319.0" y="85.1" fill="#ff5454"/><rect x="340.3" y="85.1" fill="#ff1c1c"/><rect x="361.5" y="85.1" fill="#ff0000"/><rect x="382.8" y="85.1" fill="#ff0000"/><rect x="404.1" y="85.1" fill="#ff0000"/><rect x="425.3" y="85.1" fill="#ff0000"/><rect x="446.6" y="85.1" fill="#ff0000"/><rect x="467.9" y="85.1" fill="#ff0000"/><rect x="489.1" y="85.1" fill="#ff0000"/><rect x="510.4" y="85.1" fill="#ff0000"/><rect x="531.7" y="85.1" fill="#ff0000"/><rect x="552.9" y="85.1" fill="#ff0000"/><rect x="574.2" y="85.1" fill="#ff0000"/><rect x="595.5" y="85.1" fill="#ff0000"/><rect x="616.7" y="85.1" fill="#ff1c1c"/><rect x="638.0" y="85.1" fill="#ff1c1c"/><rect x="659.3" y="85.1" fill="#ff1c1c"/><rect x="680.5" y="85.1" fill="#ff3838"/><rect x="701.8" y="85.1" fill="#ff5454"/><rect x="723.1" y="85.1" fill="#ff8e8e"/><rect x="744.3" y="85.1" fill="#ffc6c6"/><rect x="765.6" y="85.1" fill="#ffc6c6"/><rect x="-21.3" y="106.4" fill="#fffefe"/><rect x="0.0" y="106.4" fill="#fffefe"/><rect x="21.3" y="106.4" fill="#e2e2ff"/><rect x="42.5" y="106.4" fill="#ffe2e2"/><rect x="63.8" y="106.4" fill="#ffc6c6"/><rect x="85.1" y="106.4" fill="#ffe2e2"/><rect x="106.3" y="106.4" fill="#ffe2e2"/><rect x="127.6" y="106.4" fill="#ffe2e2"/><rect x="148.9" y="106.4" fill="#fffefe"/><rect x="170.1" y="106.4" fill="#e2e2ff"/><rect x="191.4" y="106.4" fill="#e2e2ff"/><rect x="212.7" y="106.4" fill="#c6c6ff"/><rect x="233.9" y="106.4" fill="#c6c6ff"/><rect x="255.2" y="106.4" fill="#e2e2ff"/><rect x="276.5" y="106.4" fill="#e2e2ff"/><rect x="297.7" y="106.4" fill="#fffefe"/><rect x="319.0" y="106.4" fill="#ffe2e2"/><rect x="340.3" y="106.4" fill="#ffaaaa"/><rect x="361.5" y="106.4" fill="#ff7070"/><rect x="382.8" y="106.4" fill="#ff1c1c"/><rect x="404.1" y="106.4" fill="#ff1c1c"/><rect x="425.3" y="106.4" fill="#ff0000"/><rect x="446.6" y="106.4" fill="#ff0000"/><rect x="467.9" y="106.4" fill="#ff0000"/><rect x="489.1" y="106.4" fill="#ff0000"/><rect x="510.4" y="106.4" fill="#ff0000"/><rect x="531.7" y="106.4" fill="#ff1c1c"/><rect x="552.9" y="106.4" fill="#ff3838"/><rect x="574.2" y="106.4" fill="#ff5454"/><rect x="595.5" y="106.4" fill="#ff8e8e"/><rect x="616.7" y="106.4" fill="#ffc6c6"/><rect x="638.0" y="106.4" fill="#ffc6c6"/><rect x="659.3" y="106.4" fill="#ff8e8e"/><rect x="680.5" y="106.4" fill="#ff5454"/><rect x="701.8" y="106.4" fill="#ff5454"/><rect x="723.1" y="106.4" fill="#ff7070"/><rect x="744.3" y="106.4" fill="#ffaaaa"/><rect x="765.6" y="106.4" fill="#ffaaaa"/><rect x="-21.3" y="127.7" fill="#c6c6ff"/><rect x="0.0" y="127.7" fill="#c6c6ff"/><rect x="21.3" y="127.7" fill="#e2e2ff"/><rect x="42.5" y="127.7" fill="#ffe2e2"/><rect x="63.8" y="127.7" fill="#ffc6c6"/><rect x="85.1" y="127.7" fill="#ffe2e2"/><rect x="106.3" y="127.7" fill="#fffefe"/><rect x="127.6" y="127.7" fill="#e2e2ff"/><rect x="148.9" y="127.7" fill="#e2e2ff"/><rect x="170.1" y="127.7" fill="#c6c6ff"/><rect x="191.4" y="127.7" fill="#aaaaff"/><rect x="212.7" y="127.7" fill="#8e8eff"/><rect x="233.9" y="127.7" fill="#8e8eff"/><rect x="255.2" y="127.7" fill="#aaaaff"/><rect x="276.5" y="127.7" fill="#aaaaff"/><rect x="297.7" y="127.7" fill="#aaaaff"/><rect x="319.0" y="127.7" fill="#aaaaff"/><rect x="340.3" y="127.7" fill="#c6c6ff"/><rect x="361.5" y="127.7" fill="#c6c6ff"/><rect x="382.8" y="127.7" fill="#ffc6c6"/><rect x="404.1" y="127.7" fill="#ffe2e2"/><rect x="425.3" y="127.7" fill="#ffe2e2"/><rect x="446.6" y="127.7" fill="#fffefe"/><rect x="467.9" y="127.7" fill="#fffefe"/><rect x="489.1" y="127.7" fill="#fffefe"/><rect x="510.4" y="127.7" fill="#fffefe"/><rect x="531.7" y="127.7" fill="#fffefe"/><rect x="552.9" y="127.7" fill="#e2e2ff"/><rect x="574.2" y="127.7" fill="#c6c6ff"/><rect x="595.5" y="127.7" fill="#aaaaff"/><rect x="616.7" y="127.7" fill="#aaaaff"/><rect x="638.0" y="127.7" fill="#c6c6ff"/><rect x="659.3" y="127.7" fill="#e2e2ff"/><rect x="680.5" y="127.7" fill="#ffe2e2"/><rect x="701.8" y="127.7" fill="#ffc6c6"/><rect x="723.1" y="127.7" fill="#ffc6c6"/><rect x="744.3" y="127.7" fill="#ffe2e2"/><rect x="765.6" y="127.7" fill="#ffe2e2"/><rect x="-21.3" y="149.0" fill="#c6c6ff"/><rect x="0.0" y="149.0" fill="#c6c6ff"/><rect x="21.3" y="149.0" fill="#aaaaff"/><rect x="42.5" y="149.0" fill="#c6c6ff"/><rect x="63.8" y="149.0" fill="#c6c6ff"/><rect x="85.1" y="149.0" fill="#e2e2ff"/><rect x="106.3" y="149.0" fill="#e2e2ff"/><rect x="127.6" y="149.0" fill="#e2e2ff"/><rect x="148.9" y="149.0" fill="#c6c6ff"/><rect x="170.1" y="149.0" fill="#aaaaff"/><rect x="191.4" y="149.0" fill="#aaaaff"/><rect x="212.7" y="149.0" fill="#aaaaff"/><rect x="233.9" y="149.0" fill="#8e8eff"/><rect x="255.2" y="149.0" fill="#aaaaff"/><rect x="276.5" y="149.0" fill="#aaaaff"/><rect x="297.7" y="149.0" fill="#8e8eff"/><rect x="319.0" y="149.0" fill="#8e8eff"/><rect x="340.3" y="149.0" fill="#7070ff"/><rect x="361.5" y="149.0" fill="#7070ff"/><rect x="382.8" y="149.0" fill="#7070ff"/><rect x="404.1" y="149.0" fill="#3838ff"/><rect x="425.3" y="149.0" fill="#1c1cff"/><rect x="446.6" y="149.0" fill="#1c1cff"/><rect x="467.9" y="149.0" fill="#3838ff"/><rect x="489.1" y="149.0" fill="#5454ff"/><rect x="510.4" y="149.0" fill="#7070ff"/><rect x="531.7" y="149.0" fill="#7070ff"/><rect x="552.9" y="149.0" fill="#7070ff"/><rect x="574.2" y="149.0" fill="#5454ff"/><rect x="595.5" y="149.0" fill="#5454ff"/><rect x="616.7" y="149.0" fill="#8e8eff"/><rect x="638.0" y="149.0" fill="#aaaaff"/><rect x="659.3" y="149.0" fill="#aaaaff"/><rect x="680.5" y="149.0" fill="#c6c6ff"/><rect x="701.8" y="149.0" fill="#c6c6ff"/><rect x="723.1" y="149.0" fill="#e2e2ff"/><rect x="744.3" y="149.0" fill="#fffefe"/><rect x="765.6" y="149.0" fill="#fffefe"/><rect x="-21.3" y="170.2" fill="#aaaaff"/><rect x="0.0" y="170.2" fill="#aaaaff"/><rect x="21.3" y="170.2" fill="#c6c6ff"/><rect x="42.5" y="170.2" fill="#c6c6ff"/><rect x="63.8" y="170.2" fill="#c6c6ff"/><rect x="85.1" y="170.2" fill="#aaaaff"/><rect x="106.3" y="170.2" fill="#aaaaff"/><rect x="127.6" y="170.2" fill="#aaaaff"/><rect x="148.9" y="170.2" fill="#8e8eff"/><rect x="170.1" y="170.2" fill="#8e8eff"/><rect x="191.4" y="170.2" fill="#8e8eff"/><rect x="212.7" y="170.2" fill="#aaaaff"/><rect x="233.9" y="170.2" fill="#c6c6ff"/><rect x="255.2" y="170.2" fill="#aaaaff"/><rect x="276.5" y="170.2" fill="#aaaaff"/><rect x="297.7" y="170.2" fill="#8e8eff"/><rect x="319.0" y="170.2" fill="#7070ff"/><rect x="340.3" y="170.2" fill="#7070ff"/><rect x="361.5" y="170.2" fill="#5454ff"/><rect x="382.8" y="170.2" fill="#3838ff"/><rect x="404.1" y="170.2" fill="#1c1cff"/><rect x="425.3" y="170.2" fill="#0000ff"/><rect x="446.6" y="170.2" fill="#0000ff"/><rect x="467.9" y="170.2" fill="#1c1cff"/><rect x="489.1" y="170.2" fill="#3838ff"/><rect x="510.4" y="170.2" fill="#5454ff"/><rect x="531.7" y="170.2" fill="#7070ff"/><rect x="552.9" y="170.2" fill="#7070ff"/><rect x="574.2" y="170.2" fill="#5454ff"/><rect x="595.5" y="170.2" fill="#5454ff"/><rect x="616.7" y="170.2" fill="#8e8eff"/><rect x="638.0" y="170.2" fill="#aaaaff"/><rect x="659.3" y="170.2" fill="#c6c6ff"/><rect x="680.5" y="170.2" fill="#aaaaff"/><rect x="701.8" y="170.2" fill="#aaaaff"/><rect x="723.1" y="170.2" fill="#aaaaff"/><rect x="744.3" y="170.2" fill="#c6c6ff"/><rect x="765.6" y="170.2" fill="#c6c6ff"/><rect x="-21.3" y="191.5" fill="#aaaaff"/><rect x="0.0" y="191.5" fill="#aaaaff"/><rect x="21.3" y="191.5" fill="#e2e2ff"/><rect x="42.5" y="191.5" fill="#c6c6ff"/><rect x="63.8" y="191.5" fill="#aaaaff"/><rect x="85.1" y="191.5" fill="#aaaaff"/><rect x="106.3" y="191.5" fill="#aaaaff"/><rect x="127.6" y="191.5" fill="#8e8eff"/><rect x="148.9" y="191.5" fill="#8e8eff"/><rect x="170.1" y="191.5" fill="#8e8eff"/><rect x="191.4" y="191.5" fill="#8e8eff"/><rect x="212.7" y="191.5" fill="#aaaaff"/><rect x="233.9" y="191.5" fill="#c6c6ff"/><rect x="255.2" y="191.5" fill="#e2e2ff"/><rect x="276.5" y="191.5" fill="#e2e2ff"/><rect x="297.7" y="191.5" fill="#c6c6ff"/><rect x="319.0" y="191.5" fill="#c6c6ff"/><rect x="340.3" y="191.5" fill="#aaaaff"/><rect x="361.5" y="191.5" fill="#aaaaff"/><rect x="382.8" y="191.5" fill="#7070ff"/><rect x="404.1" y="191.5" fill="#7070ff"/><rect x="425.3" y="191.5" fill="#7070ff"/><rect x="446.6" y="191.5" fill="#7070ff"/><rect x="467.9" y="191.5" fill="#8e8eff"/><rect x="489.1" y="191.5" fill="#8e8eff"/><rect x="510.4" y="191.5" fill="#8e8eff"/><rect x="531.7" y="191.5" fill="#aaaaff"/><rect x="552.9" y="191.5" fill="#aaaaff"/><rect x="574.2" y="191.5" fill="#aaaaff"/><rect x="595.5" y="191.5" fill="#c6c6ff"/><rect x="616.7" y="191.5" fill="#e2e2ff"/><rect x="638.0" y="191.5" fill="#e2e2ff"/><rect x="659.3" y="191.5" fill="#c6c6ff"/><rect x="680.5" y="191.5" fill="#c6c6ff"/><rect x="701.8" y="191.5" fill="#c6c6ff"/><rect x="723.1" y="191.5" fill="#c6c6ff"/><rect x="744.3" y="191.5" fill="#c6c6ff"/><rect x="765.6" y="191.5" fill="#c6c6ff"/><rect x="-21.3" y="212.8" fill="#c6c6ff"/><rect x="0.0" y="212.8" fill="#c6c6ff"/><rect x="21.3" y="212.8" fill="#c6c6ff"/><rect x="42.5" y="212.8" fill="#c6c6ff"/><rect x="63.8" y="212.8" fill="#aaaaff"/><rect x="85.1" y="212.8" fill="#aaaaff"/><rect x="106.3" y="212.8" fill="#aaaaff"/><rect x="127.6" y="212.8" fill="#aaaaff"/><rect x="148.9" y="212.8" fill="#aaaaff"/><rect x="170.1" y="212.8" fill="#c6c6ff"/><rect x="191.4" y="212.8" fill="#e2e2ff"/><rect x="212.7" y="212.8" fill="#fffefe"/><rect x="233.9" y="212.8" fill="#ffe2e2"/><rect x="255.2" y="212.8" fill="#ffe2e2"/><rect x="276.5" y="212.8" fill="#ffe2e2"/><rect x="297.7" y="212.8" fill="#ffe2e2"/><rect x="319.0" y="212.8" fill="#ffe2e2"/><rect x="340.3" y="212.8" fill="#fffefe"/><rect x="361.5" y="212.8" fill="#fffefe"/><rect x="382.8" y="212.8" fill="#c6c6ff"/><rect x="404.1" y="212.8" fill="#e2e2ff"/><rect x="425.3" y="212.8" fill="#e2e2ff"/><rect x="446.6" y="212.8" fill="#e2e2ff"/><rect x="467.9" y="212.8" fill="#e2e2ff"/><rect x="489.1" y="212.8" fill="#fffefe"/><rect x="510.4" y="212.8" fill="#fffefe"/><rect x="531.7" y="212.8" fill="#fffefe"/><rect x="552.9" y="212.8" fill="#ffe2e2"/><rect x="574.2" y="212.8" fill="#ffe2e2"/><rect x="595.5" y="212.8" fill="#ffe2e2"/><rect x="616.7" y="212.8" fill="#ffe2e2"/><rect x="638.0" y="212.8" fill="#fffefe"/><rect x="659.3" y="212.8" fill="#fffefe"/><rect x="680.5" y="212.8" fill="#e2e2ff"/><rect x="701.8" y="212.8" fill="#e2e2ff"/><rect x="723.1" y="212.8" fill="#e2e2ff"/><rect x="744.3" y="212.8" fill="#c6c6ff"/><rect x="765.6" y="212.8" fill="#c6c6ff"/><rect x="-21.3" y="234.1" fill="#e2e2ff"/><rect x="0.0" y="234.1" fill="#e2e2ff"/><rect x="21.3" y="234.1" fill="#e2e2ff"/><rect x="42.5" y="234.1" fill="#c6c6ff"/><rect x="63.8" y="234.1" fill="#c6c6ff"/><rect x="85.1" y="234.1" fill="#c6c6ff"/><rect x="106.3" y="234.1" fill="#c6c6ff"/><rect x="127.6" y="234.1" fill="#c6c6ff"/><rect x="148.9" y="234.1" fill="#e2e2ff"/><rect x="170.1" y="234.1" fill="#e2e2ff"/><rect x="191.4" y="234.1" fill="#fffefe"/><rect x="212.7" y="234.1" fill="#ffe2e2"/><rect x="233.9" y="234.1" fill="#ffc6c6"/><rect x="255.2" y="234.1" fill="#ffc6c6"/><rect x="276.5" y="234.1" fill="#ffaaaa"/><rect x="297.7" y="234.1" fill="#ffaaaa"/><rect x="319.0" y="234.1" fill="#ffc6c6"/><rect x="340.3" y="234.1" fill="#ffc6c6"/><rect x="361.5" y="234.1" fill="#ffc6c6"/><rect x="382.8" y="234.1" fill="#ffe2e2"/><rect x="404.1" y="234.1" fill="#ffe2e2"/><rect x="425.3" y="234.1" fill="#ffe2e2"/><rect x="446.6" y="234.1" fill="#ffe2e2"/><rect x="467.9" y="234.1" fill="#ffe2e2"/><rect x="489.1" y="234.1" fill="#ffe2e2"/><rect x="510.4" y="234.1" fill="#ffc6c6"/><rect x="531.7" y="234.1" fill="#ffc6c6"/><rect x="552.9" y="234.1" fill="#ffc6c6"/><rect x="574.2" y="234.1" fill="#ffaaaa"/><rect x="595.5" y="234.1" fill="#ffaaaa"/><rect x="616.7" y="234.1" fill="#ffaaaa"/><rect x="638.0" y="234.1" fill="#ffc6c6"/><rect x="659.3" y="234.1" fill="#ffc6c6"/><rect x="680.5" y="234.1" fill="#ffe2e2"/><rect x="701.8" y="234.1" fill="#fffefe"/><rect x="723.1" y="234.1" fill="#e2e2ff"/><rect x="744.3" y="234.1" fill="#e2e2ff"/><rect x="765.6" y="234.1" fill="#e2e2ff"/><rect x="-21.3" y="255.4" fill="#fffefe"/><rect x="0.0" y="255.4" fill="#fffefe"/><rect x="21.3" y="255.4" fill="#fffefe"/><rect x="42.5" y="255.4" fill="#fffefe"/><rect x="63.8" y="255.4" fill="#e2e2ff"/><rect x="85.1" y="255.4" fill="#e2e2ff"/><rect x="106.3" y="255.4" fill="#e2e2ff"/><rect x="127.6" y="255.4" fill="#fffefe"/><rect x="148.9" y="255.4" fill="#fffefe"/><rect x="170.1" y="255.4" fill="#fffefe"/><rect x="191.4" y="255.4" fill="#ffe2e2"/><rect x="212.7" y="255.4" fill="#ffe2e2"/><rect x="233.9" y="255.4" fill="#ffc6c6"/><rect x="255.2" y="255.4" fill="#ffc6c6"/><rect x="276.5" y="255.4" fill="#ffaaaa"/><rect x="297.7" y="255.4" fill="#ffaaaa"/><rect x="319.0" y="255.4" fill="#ffc6c6"/><rect x="340.3" y="255.4" fill="#ffc6c6"/><rect x="361.5" y="255.4" fill="#ffc6c6"/><rect x="382.8" y="255.4" fill="#ffe2e2"/><rect x="404.1" y="255.4" fill="#ffe2e2"/><rect x="425.3" y="255.4" fill="#ffe2e2"/><rect x="446.6" y="255.4" fill="#ffe2e2"/><rect x="467.9" y="255.4" fill="#ffe2e2"/><rect x="489.1" y="255.4" fill="#ffe2e2"/><rect x="510.4" y="255.4" fill="#ffe2e2"/><rect x="531.7" y="255.4" fill="#ffc6c6"/><rect x="552.9" y="255.4" fill="#ffc6c6"/><rect x="574.2" y="255.4" fill="#ffc6c6"/><rect x="595.5" y="255.4" fill="#ffc6c6"/><rect x="616.7" y="255.4" fill="#ffc6c6"/><rect x="638.0" y="255.4" fill="#ffc6c6"/><rect x="659.3" y="255.4" fill="#ffe2e2"/><rect x="680.5" y="255.4" fill="#ffe2e2"/><rect x="701.8" y="255.4" fill="#ffe2e2"/><rect x="723.1" y="255.4" fill="#ffe2e2"/><rect x="744.3" y="255.4" fill="#fffefe"/><rect x="765.6" y="255.4" fill="#fffefe"/><rect x="-21.3" y="276.7" fill="#ffe2e2"/><rect x="0.0" y="276.7" fill="#ffe2e2"/><rect x="21.3" y="276.7" fill="#ffe2e2"/><rect x="42.5" y="276.7" fill="#fffefe"/><rect x="63.8" y="276.7" fill="#fffefe"/><rect x="85.1" y="276.7" fill="#fffefe"/><rect x="106.3" y="276.7" fill="#fffefe"/><rect x="127.6" y="276.7" fill="#fffefe"/><rect x="148.9" y="276.7" fill="#fffefe"/><rect x="170.1" y="276.7" fill="#fffefe"/><rect x="191.4" y="276.7" fill="#fffefe"/><rect x="212.7" y="276.7" fill="#ffe2e2"/><rect x="233.9" y="276.7" fill="#ffe2e2"/><rect x="255.2" y="276.7" fill="#ffc6c6"/><rect x="276.5" y="276.7" fill="#ffc6c6"/><rect x="297.7" y="276.7" fill="#ffc6c6"/><rect x="319.0" y="276.7" fill="#ffc6c6"/><rect x="340.3" y="276.7" fill="#ffe2e2"/><rect x="361.5" y="276.7" fill="#ffe2e2"/><rect x="382.8" y="276.7" fill="#ffe2e2"/><rect x="404.1" y="276.7" fill="#ffe2e2"/><rect x="425.3" y="276.7" fill="#ffe2e2"/><rect x="446.6" y="276.7" fill="#ffe2e2"/><rect x="467.9" y="276.7" fill="#ffe2e2"/><rect x="489.1" y="276.7" fill="#ffe2e2"/><rect x="510.4" y="276.7" fill="#ffe2e2"/><rect x="531.7" y="276.7" fill="#ffe2e2"/><rect x="552.9" y="276.7" fill="#ffe2e2"/><rect x="574.2" y="276.7" fill="#ffe2e2"/><rect x="595.5" y="276.7" fill="#ffe2e2"/><rect x="616.7" y="276.7" fill="#ffe2e2"/><rect x="638.0" y="276.7" fill="#ffe2e2"/><rect x="659.3" y="276.7" fill="#ffe2e2"/><rect x="680.5" y="276.7" fill="#ffe2e2"/><rect x="701.8" y="276.7" fill="#ffe2e2"/><rect x="723.1" y="276.7" fill="#ffe2e2"/><rect x="744.3" y="276.7" fill="#ffe2e2"/><rect x="765.6" y="276.7" fill="#ffe2e2"/><rect x="-21.3" y="297.9" fill="#ffe2e2"/><rect x="0.0" y="297.9" fill="#ffe2e2"/><rect x="21.3" y="297.9" fill="#ffe2e2"/><rect x="42.5" y="297.9" fill="#ffe2e2"/><rect x="63.8" y="297.9" fill="#ffe2e2"/><rect x="85.1" y="297.9" fill="#fffefe"/><rect x="106.3" y="297.9" fill="#fffefe"/><rect x="127.6" y="297.9" fill="#fffefe"/><rect x="148.9" y="297.9" fill="#fffefe"/><rect x="170.1" y="297.9" fill="#fffefe"/><rect x="191.4" y="297.9" fill="#fffefe"/><rect x="212.7" y="297.9" fill="#fffefe"/><rect x="233.9" y="297.9" fill="#fffefe"/><rect x="255.2" y="297.9" fill="#ffe2e2"/><rect x="276.5" y="297.9" fill="#ffe2e2"/><rect x="297.7" y="297.9" fill="#ffe2e2"/><rect x="319.0" y="297.9" fill="#ffe2e2"/><rect x="340.3" y="297.9" fill="#fffefe"/><rect x="361.5" y="297.9" fill="#fffefe"/><rect x="382.8" y="297.9" fill="#fffefe"/><rect x="404.1" y="297.9" fill="#fffefe"/><rect x="425.3" y="297.9" fill="#fffefe"/><rect x="446.6" y="297.9" fill="#fffefe"/><rect x="467.9" y="297.9" fill="#fffefe"/><rect x="489.1" y="297.9" fill="#fffefe"/><rect x="510.4" y="297.9" fill="#fffefe"/><rect x="531.7" y="297.9" fill="#fffefe"/><rect x="552.9" y="297.9" fill="#fffefe"/><rect x="574.2" y="297.9" fill="#fffefe"/><rect x="595.5" y="297.9" fill="#fffefe"/><rect x="616.7" y="297.9" fill="#fffefe"/><rect x="638.0" y="297.9" fill="#fffefe"/><rect x="659.3" y="297.9" fill="#fffefe"/><rect x="680.5" y="297.9" fill="#fffefe"/><rect x="701.8" y="297.9" fill="#fffefe"/><rect x="723.1" y="297.9" fill="#fffefe"/><rect x="744.3" y="297.9" fill="#fffefe"/><rect x="765.6" y="297.9" fill="#fffefe"/><rect x="-21.3" y="319.2" fill="#ffe2e2"/><rect x="0.0" y="319.2" fill="#ffe2e2"/><rect x="21.3" y="319.2" fill="#ffe2e2"/><rect x="42.5" y="319.2" fill="#ffe2e2"/><rect x="63.8" y="319.2" fill="#ffe2e2"/><rect x="85.1" y="319.2" fill="#fffefe"/><rect x="106.3" y="319.2" fill="#fffefe"/><rect x="127.6" y="319.2" fill="#fffefe"/><rect x="148.9" y="319.2" fill="#fffefe"/><rect x="170.1" y="319.2" fill="#fffefe"/><rect x="191.4" y="319.2" fill="#fffefe"/><rect x="212.7" y="319.2" fill="#fffefe"/><rect x="233.9" y="319.2" fill="#fffefe"/><rect x="255.2" y="319.2" fill="#fffefe"/><rect x="276.5" y="319.2" fill="#fffefe"/><rect x="297.7" y="319.2" fill="#fffefe"/><rect x="319.0" y="319.2" fill="#e2e2ff"/><rect x="340.3" y="319.2" fill="#e2e2ff"/><rect x="361.5" y="319.2" fill="#e2e2ff"/><rect x="382.8" y="319.2" fill="#e2e2ff"/><rect x="404.1" y="319.2" fill="#e2e2ff"/><rect x="425.3" y="319.2" fill="#e2e2ff"/><rect x="446.6" y="319.2" fill="#e2e2ff"/><rect x="467.9" y="319.2" fill="#e2e2ff"/><rect x="489.1" y="319.2" fill="#e2e2ff"/><rect x="510.4" y="319.2" fill="#e2e2ff"/><rect x="531.7" y="319.2" fill="#e2e2ff"/><rect x="552.9" y="319.2" fill="#e2e2ff"/><rect x="574.2" y="319.2" fill="#e2e2ff"/><rect x="595.5" y="319.2" fill="#e2e2ff"/><rect x="616.7" y="319.2" fill="#e2e2ff"/><rect x="638.0" y="319.2" fill="#e2e2ff"/><rect x="659.3" y="319.2" fill="#e2e2ff"/><rect x="680.5" y="319.2" fill="#e2e2ff"/><rect x="701.8" y="319.2" fill="#e2e2ff"/><rect x="723.1" y="319.2" fill="#e2e2ff"/><rect x="744.3" y="319.2" fill="#e2e2ff"/><rect x="765.6" y="319.2" fill="#e2e2ff"/><rect x="-21.3" y="340.5" fill="#ffe2e2"/><rect x="0.0" y="340.5" fill="#ffe2e2"/><rect x="21.3" y="340.5" fill="#ffe2e2"/><rect x="42.5" y="340.5" fill="#ffe2e2"/><rect x="63.8" y="340.5" fill="#ffe2e2"/><rect x="85.1" y="340.5" fill="#fffefe"/><rect x="106.3" y="340.5" fill="#fffefe"/><rect x="127.6" y="340.5" fill="#fffefe"/><rect x="148.9" y="340.5" fill="#fffefe"/><rect x="170.1" y="340.5" fill="#fffefe"/><rect x="191.4" y="340.5" fill="#fffefe"/><rect x="212.7" y="340.5" fill="#fffefe"/><rect x="233.9" y="340.5" fill="#fffefe"/><rect x="255.2" y="340.5" fill="#fffefe"/><rect x="276.5" y="340.5" fill="#fffefe"/><rect x="297.7" y="340.5" fill="#fffefe"/><rect x="319.0" y="340.5" fill="#e2e2ff"/><rect x="340.3" y="340.5" fill="#e2e2ff"/><rect x="361.5" y="340.5" fill="#e2e2ff"/><rect x="382.8" y="340.5" fill="#e2e2ff"/><rect x="404.1" y="340.5" fill="#e2e2ff"/><rect x="425.3" y="340.5" fill="#e2e2ff"/><rect x="446.6" y="340.5" fill="#e2e2ff"/><rect x="467.9" y="340.5" fill="#e2e2ff"/><rect x="489.1" y="340.5" fill="#e2e2ff"/><rect x="510.4" y="340.5" fill="#e2e2ff"/><rect x="531.7" y="340.5" fill="#e2e2ff"/><rect x="552.9" y="340.5" fill="#e2e2ff"/><rect x="574.2" y="340.5" fill="#e2e2ff"/><rect x="595.5" y="340.5" fill="#e2e2ff"/><rect x="616.7" y="340.5" fill="#e2e2ff"/><rect x="638.0" y="340.5" fill="#e2e2ff"/><rect x="659.3" y="340.5" fill="#e2e2ff"/><rect x="680.5" y="340.5" fill="#e2e2ff"/><rect x="701.8" y="340.5" fill="#e2e2ff"/><rect x="723.1" y="340.5" fill="#e2e2ff"/><rect x="744.3" y="340.5" fill="#e2e2ff"/><rect x="765.6" y="340.5" fill="#e2e2ff"/></g>
</g>
<g clip-path="url(#axclip)"><use href="#coast"/><circle cx="469.5" cy="246.5" r="3.2"/><path d="M476.6,248.3 482.6,251.9 486.4,257.9" fill="none" stroke="#000" stroke-width="5.5" stroke-linecap="round" stroke-linejoin="round"/></g>
<rect width="765.6" height="340.5" fill="none" stroke="#000" stroke-width="3"/>
</g>
<text x="973.2" y="1163.0" font-size="41" font-weight="bold">f</text>
<text x="952.4" y="1282.3" font-size="30" text-anchor="end">60°N</text>
<text x="952.4" y="1410.0" font-size="30" text-anchor="end">30°N</text>
<text x="1099.8" y="1571.7" font-size="30" text-anchor="middle">120°E</text>
<text x="1355.0" y="1571.7" font-size="30" text-anchor="middle">180°E</text>
<text x="1610.2" y="1571.7" font-size="30" text-anchor="middle">120°W</text>
<polygon points="971.2,1598.3 1006.4,1579.3 1006.4,1617.4" fill="#0000ff"/>
<polygon points="1738.8,1598.3 1705.0,1579.3 1705.0,1617.4" fill="#ff0000"/>
<rect x="1006.4" y="1579.3" width="698.6" height="38.1" fill="url(#gp)"/>
<polygon points="971.2,1598.3 1006.4,1579.3 1705.0,1579.3 1738.8,1598.3 1705.0,1617.4 1006.4,1617.4" fill="none" stroke="#000" stroke-width="3"/>
<line x1="1006.4" y1="1617.4" x2="1006.4" y2="1631.9" stroke="#000" stroke-width="3"/>
<text x="1006.4" y="1669.4" font-size="30" text-anchor="middle">−3</text>
<line x1="1122.8" y1="1617.4" x2="1122.8" y2="1631.9" stroke="#000" stroke-width="3"/>
<text x="1122.8" y="1669.4" font-size="30" text-anchor="middle">−2</text>
<line x1="1239.3" y1="1617.4" x2="1239.3" y2="1631.9" stroke="#000" stroke-width="3"/>
<text x="1239.3" y="1669.4" font-size="30" text-anchor="middle">−1</text>
<line x1="1355.7" y1="1617.4" x2="1355.7" y2="1631.9" stroke="#000" stroke-width="3"/>
<text x="1355.7" y="1669.4" font-size="30" text-anchor="middle">0</text>
<line x1="1472.1" y1="1617.4" x2="1472.1" y2="1631.9" stroke="#000" stroke-width="3"/>
<text x="1472.1" y="1669.4" font-size="30" text-anchor="middle">1</text>
<line x1="1588.6" y1="1617.4" x2="1588.6" y2="1631.9" stroke="#000" stroke-width="3"/>
<text x="1588.6" y="1669.4" font-size="30" text-anchor="middle">2</text>
<line x1="1705.0" y1="1617.4" x2="1705.0" y2="1631.9" stroke="#000" stroke-width="3"/>
<text x="1705.0" y="1669.4" font-size="30" text-anchor="middle">3</text>
<text x="1355.0" y="1714.0" font-size="30" text-anchor="middle">Sea-level pressure (hPa)</text>
<g transform="translate(91.50,1752.10)">
<g clip-path="url(#axclip)">
<g filter="url(#blur)"><rect x="-21.3" y="-21.3" fill="#7fb6d6"/><rect x="0.0" y="-21.3" fill="#7fb6d6"/><rect x="21.3" y="-21.3" fill="#7fb6d6"/><rect x="42.5" y="-21.3" fill="#6399c7"/><rect x="63.8" y="-21.3" fill="#6399c7"/><rect x="85.1" y="-21.3" fill="#4a7ab7"/><rect x="106.3" y="-21.3" fill="#4a7ab7"/><rect x="127.6" y="-21.3" fill="#6399c7"/><rect x="148.9" y="-21.3" fill="#7fb6d6"/><rect x="170.1" y="-21.3" fill="#7fb6d6"/><rect x="191.4" y="-21.3" fill="#9fd0e4"/><rect x="212.7" y="-21.3" fill="#9fd0e4"/><rect x="233.9" y="-21.3" fill="#bde2ee"/><rect x="255.2" y="-21.3" fill="#bde2ee"/><rect x="276.5" y="-21.3" fill="#daf0f6"/><rect x="297.7" y="-21.3" fill="#daf0f6"/><rect x="319.0" y="-21.3" fill="#daf0f6"/><rect x="340.3" y="-21.3" fill="#edf8df"/><rect x="361.5" y="-21.3" fill="#edf8df"/><rect x="382.8" y="-21.3" fill="#daf0f6"/><rect x="404.1" y="-21.3" fill="#edf8df"/><rect x="425.3" y="-21.3" fill="#edf8df"/><rect x="446.6" y="-21.3" fill="#fffebe"/><rect x="467.9" y="-21.3" fill="#feeda4"/><rect x="489.1" y="-21.3" fill="#feeda4"/><rect x="510.4" y="-21.3" fill="#feda8a"/><rect x="531.7" y="-21.3" fill="#fdbf71"/><rect x="552.9" y="-21.3" fill="#fdbf71"/><rect x="574.2" y="-21.3" fill="#fdbf71"/><rect x="595.5" y="-21.3" fill="#feda8a"/><rect x="616.7" y="-21.3" fill="#feeda4"/><rect x="638.0" y="-21.3" fill="#feeda4"/><rect x="659.3" y="-21.3" fill="#feeda4"/><rect x="680.5" y="-21.3" fill="#feeda4"/><rect x="701.8" y="-21.3" fill="#feeda4"/><rect x="723.1" y="-21.3" fill="#feda8a"/><rect x="744.3" y="-21.3" fill="#feda8a"/><rect x="765.6" y="-21.3" fill="#feda8a"/><rect x="-21.3" y="0.0" fill="#7fb6d6"/><rect x="0.0" y="0.0" fill="#7fb6d6"/><rect x="21.3" y="0.0" fill="#7fb6d6"/><rect x="42.5" y="0.0" fill="#6399c7"/><rect x="63.8" y="0.0" fill="#6399c7"/><rect x="85.1" y="0.0" fill="#4a7ab7"/><rect x="106.3" y="0.0" fill="#4a7ab7"/><rect x="127.6" y="0.0" fill="#6399c7"/><rect x="148.9" y="0.0" fill="#7fb6d6"/><rect x="170.1" y="0.0" fill="#7fb6d6"/><rect x="191.4" y="0.0" fill="#9fd0e4"/><rect x="212.7" y="0.0" fill="#9fd0e4"/><rect x="233.9" y="0.0" fill="#bde2ee"/><rect x="255.2" y="0.0" fill="#bde2ee"/><rect x="276.5" y="0.0" fill="#daf0f6"/><rect x="297.7" y="0.0" fill="#daf0f6"/><rect x="319.0" y="0.0" fill="#daf0f6"/><rect x="340.3" y="0.0" fill="#edf8df"/><rect x="361.5" y="0.0" fill="#edf8df"/><rect x="382.8" y="0.0" fill="#daf0f6"/><rect x="404.1" y="0.0" fill="#edf8df"/><rect x="425.3" y="0.0" fill="#edf8df"/><rect x="446.6" y="0.0" fill="#fffebe"/><rect x="467.9" y="0.0" fill="#feeda4"/><rect x="489.1" y="0.0" fill="#feeda4"/><rect x="510.4" y="0.0" fill="#feda8a"/><rect x="531.7" y="0.0" fill="#fdbf71"/><rect x="552.9" y="0.0" fill="#fdbf71"/><rect x="574.2" y="0.0" fill="#fdbf71"/><rect x="595.5" y="0.0" fill="#feda8a"/><rect x="616.7" y="0.0" fill="#feeda4"/><rect x="638.0" y="0.0" fill="#feeda4"/><rect x="659.3" y="0.0" fill="#feeda4"/><rect x="680.5" y="0.0" fill="#feeda4"/><rect x="701.8" y="0.0" fill="#feeda4"/><rect x="723.1" y="0.0" fill="#feda8a"/><rect x="744.3" y="0.0" fill="#feda8a"/><rect x="765.6" y="0.0" fill="#feda8a"/><rect x="-21.3" y="21.3" fill="#7fb6d6"/><rect x="0.0" y="21.3" fill="#7fb6d6"/><rect x="21.3" y="21.3" fill="#9fd0e4"/><rect x="42.5" y="21.3" fill="#9fd0e4"/><rect x="63.8" y="21.3" fill="#bde2ee"/><rect x="85.1" y="21.3" fill="#bde2ee"/><rect x="106.3" y="21.3" fill="#9fd0e4"/><rect x="127.6" y="21.3" fill="#7fb6d6"/><rect x="148.9" y="21.3" fill="#9fd0e4"/><rect x="170.1" y="21.3" fill="#bde2ee"/><rect x="191.4" y="21.3" fill="#bde2ee"/><rect x="212.7" y="21.3" fill="#bde2ee"/><rect x="233.9" y="21.3" fill="#daf0f6"/><rect x="255.2" y="21.3" fill="#daf0f6"/><rect x="276.5" y="21.3" fill="#edf8df"/><rect x="297.7" y="21.3" fill="#edf8df"/><rect x="319.0" y="21.3" fill="#fffebe"/><rect x="340.3" y="21.3" fill="#fffebe"/><rect x="361.5" y="21.3" fill="#fffebe"/><rect x="382.8" y="21.3" fill="#daf0f6"/><rect x="404.1" y="21.3" fill="#edf8df"/><rect x="425.3" y="21.3" fill="#edf8df"/><rect x="446.6" y="21.3" fill="#fffebe"/><rect x="467.9" y="21.3" fill="#fffebe"/><rect x="489.1" y="21.3" fill="#feeda4"/><rect x="510.4" y="21.3" fill="#feeda4"/><rect x="531.7" y="21.3" fill="#feeda4"/><rect x="552.9" y="21.3" fill="#feeda4"/><rect x="574.2" y="21.3" fill="#feeda4"/><rect x="595.5" y="21.3" fill="#feeda4"/><rect x="616.7" y="21.3" fill="#feeda4"/><rect x="638.0" y="21.3" fill="#feeda4"/><rect x="659.3" y="21.3" fill="#feda8a"/><rect x="680.5" y="21.3" fill="#feda8a"/><rect x="701.8" y="21.3" fill="#feda8a"/><rect x="723.1" y="21.3" fill="#fdbf71"/><rect x="744.3" y="21.3" fill="#fba05b"/><rect x="765.6" y="21.3" fill="#fba05b"/><rect x="-21.3" y="42.6" fill="#6399c7"/><rect x="0.0" y="42.6" fill="#6399c7"/><rect x="21.3" y="42.6" fill="#7fb6d6"/><rect x="42.5" y="42.6" fill="#7fb6d6"/><rect x="63.8" y="42.6" fill="#7fb6d6"/><rect x="85.1" y="42.6" fill="#7fb6d6"/><rect x="106.3" y="42.6" fill="#9fd0e4"/><rect x="127.6" y="42.6" fill="#9fd0e4"/><rect x="148.9" y="42.6" fill="#9fd0e4"/><rect x="170.1" y="42.6" fill="#bde2ee"/><rect x="191.4" y="42.6" fill="#bde2ee"/><rect x="212.7" y="42.6" fill="#bde2ee"/><rect x="233.9" y="42.6" fill="#daf0f6"/><rect x="255.2" y="42.6" fill="#edf8df"/><rect x="276.5" y="42.6" fill="#fffebe"/><rect x="297.7" y="42.6" fill="#feeda4"/><rect x="319.0" y="42.6" fill="#feda8a"/><rect x="340.3" y="42.6" fill="#fdbf71"/><rect x="361.5" y="42.6" fill="#feeda4"/><rect x="382.8" y="42.6" fill="#feeda4"/><rect x="404.1" y="42.6" fill="#feeda4"/><rect x="425.3" y="42.6" fill="#edf8df"/><rect x="446.6" y="42.6" fill="#fffebe"/><rect x="467.9" y="42.6" fill="#fffebe"/><rect x="489.1" y="42.6" fill="#fffebe"/><rect x="510.4" y="42.6" fill="#feeda4"/><rect x="531.7" y="42.6" fill="#feeda4"/><rect x="552.9" y="42.6" fill="#feeda4"/><rect x="574.2" y="42.6" fill="#feeda4"/><rect x="595.5" y="42.6" fill="#feda8a"/><rect x="616.7" y="42.6" fill="#feda8a"/><rect x="638.0" y="42.6" fill="#feeda4"/><rect x="659.3" y="42.6" fill="#feeda4"/><rect x="680.5" y="42.6" fill="#feda8a"/><rect x="701.8" y="42.6" fill="#fdbf71"/><rect x="723.1" y="42.6" fill="#f67a49"/><rect x="744.3" y="42.6" fill="#ea5739"/><rect x="765.6" y="42.6" fill="#ea5739"/><rect x="-21.3" y="63.8" fill="#6399c7"/><rect x="0.0" y="63.8" fill="#6399c7"/><rect x="21.3" y="63.8" fill="#7fb6d6"/><rect x="42.5" y="63.8" fill="#9fd0e4"/><rect x="63.8" y="63.8" fill="#9fd0e4"/><rect x="85.1" y="63.8" fill="#bde2ee"/><rect x="106.3" y="63.8" fill="#bde2ee"/><rect x="127.6" y="63.8" fill="#bde2ee"/><rect x="148.9" y="63.8" fill="#9fd0e4"/><rect x="170.1" y="63.8" fill="#7fb6d6"/><rect x="191.4" y="63.8" fill="#7fb6d6"/><rect x="212.7" y="63.8" fill="#bde2ee"/><rect x="233.9" y="63.8" fill="#daf0f6"/><rect x="255.2" y="63.8" fill="#edf8df"/><rect x="276.5" y="63.8" fill="#fffebe"/><rect x="297.7" y="63.8" fill="#fffebe"/><rect x="319.0" y="63.8" fill="#feeda4"/><rect x="340.3" y="63.8" fill="#feeda4"/><rect x="361.5" y="63.8" fill="#feeda4"/><rect x="382.8" y="63.8" fill="#fdbf71"/><rect x="404.1" y="63.8" fill="#feda8a"/><rect x="425.3" y="63.8" fill="#feeda4"/><rect x="446.6" y="63.8" fill="#feeda4"/><rect x="467.9" y="63.8" fill="#feeda4"/><rect x="489.1" y="63.8" fill="#feeda4"/><rect x="510.4" y="63.8" fill="#feeda4"/><rect x="531.7" y="63.8" fill="#feda8a"/><rect x="552.9" y="63.8" fill="#fdbf71"/><rect x="574.2" y="63.8" fill="#fba05b"/><rect x="595.5" y="63.8" fill="#fba05b"/><rect x="616.7" y="63.8" fill="#fdbf71"/><rect x="638.0" y="63.8" fill="#fdbf71"/><rect x="659.3" y="63.8" fill="#feda8a"/><rect x="680.5" y="63.8" fill="#feda8a"/><rect x="701.8" y="63.8" fill="#feda8a"/><rect x="723.1" y="63.8" fill="#feda8a"/><rect x="744.3" y="63.8" fill="#fdbf71"/><rect x="765.6" y="63.8" fill="#fdbf71"/><rect x="-21.3" y="85.1" fill="#daf0f6"/><rect x="0.0" y="85.1" fill="#daf0f6"/><rect x="21.3" y="85.1" fill="#daf0f6"/><rect x="42.5" y="85.1" fill="#bde2ee"/><rect x="63.8" y="85.1" fill="#bde2ee"/><rect x="85.1" y="85.1" fill="#bde2ee"/><rect x="106.3" y="85.1" fill="#bde2ee"/><rect x="127.6" y="85.1" fill="#bde2ee"/><rect x="148.9" y="85.1" fill="#9fd0e4"/><rect x="170.1" y="85.1" fill="#7fb6d6"/><rect x="191.4" y="85.1" fill="#9fd0e4"/><rect x="212.7" y="85.1" fill="#7fb6d6"/><rect x="233.9" y="85.1" fill="#bde2ee"/><rect x="255.2" y="85.1" fill="#edf8df"/><rect x="276.5" y="85.1" fill="#fffebe"/><rect x="297.7" y="85.1" fill="#fffebe"/><rect x="319.0" y="85.1" fill="#fffebe"/><rect x="340.3" y="85.1" fill="#feeda4"/><rect x="361.5" y="85.1" fill="#feeda4"/><rect x="382.8" y="85.1" fill="#feda8a"/><rect x="404.1" y="85.1" fill="#feeda4"/><rect x="425.3" y="85.1" fill="#feeda4"/><rect x="446.6" y="85.1" fill="#feeda4"/><rect x="467.9" y="85.1" fill="#feeda4"/><rect x="489.1" y="85.1" fill="#feeda4"/><rect x="510.4" y="85.1" fill="#feeda4"/><rect x="531.7" y="85.1" fill="#feeda4"/><rect x="552.9" y="85.1" fill="#feda8a"/><rect x="574.2" y="85.1" fill="#fdbf71"/><rect x="595.5" y="85.1" fill="#fdbf71"/><rect x="616.7" y="85.1" fill="#fba05b"/><rect x="638.0" y="85.1" fill="#fdbf71"/><rect x="659.3" y="85.1" fill="#fdbf71"/><rect x="680.5" y="85.1" fill="#feda8a"/><rect x="701.8" y="85.1" fill="#feda8a"/><rect x="723.1" y="85.1" fill="#feda8a"/><rect x="744.3" y="85.1" fill="#feda8a"/><rect x="765.6" y="85.1" fill="#feda8a"/><rect x="-21.3" y="106.4" fill="#feeda4"/><rect x="0.0" y="106.4" fill="#feeda4"/><rect x="21.3" y="106.4" fill="#feda8a"/><rect x="42.5" y="106.4" fill="#fffebe"/><rect x="63.8" y="106.4" fill="#fffebe"/><rect x="85.1" y="106.4" fill="#edf8df"/><rect x="106.3" y="106.4" fill="#daf0f6"/><rect x="127.6" y="106.4" fill="#daf0f6"/><rect x="148.9" y="106.4" fill="#bde2ee"/><rect x="170.1" y="106.4" fill="#bde2ee"/><rect x="191.4" y="106.4" fill="#9fd0e4"/><rect x="212.7" y="106.4" fill="#9fd0e4"/><rect x="233.9" y="106.4" fill="#bde2ee"/><rect x="255.2" y="106.4" fill="#daf0f6"/><rect x="276.5" y="106.4" fill="#edf8df"/><rect x="297.7" y="106.4" fill="#fffebe"/><rect x="319.0" y="106.4" fill="#fffebe"/><rect x="340.3" y="106.4" fill="#feeda4"/><rect x="361.5" y="106.4" fill="#feeda4"/><rect x="382.8" y="106.4" fill="#feeda4"/><rect x="404.1" y="106.4" fill="#feeda4"/><rect x="425.3" y="106.4" fill="#feeda4"/><rect x="446.6" y="106.4" fill="#feeda4"/><rect x="467.9" y="106.4" fill="#fffebe"/><rect x="489.1" y="106.4" fill="#fffebe"/><rect x="510.4" y="106.4" fill="#fffebe"/><rect x="531.7" y="106.4" fill="#feeda4"/><rect x="552.9" y="106.4" fill="#feeda4"/><rect x="574.2" y="106.4" fill="#feeda4"/><rect x="595.5" y="106.4" fill="#feeda4"/><rect x="616.7" y="106.4" fill="#feeda4"/><rect x="638.0" y="106.4" fill="#feda8a"/><rect x="659.3" y="106.4" fill="#feda8a"/><rect x="680.5" y="106.4" fill="#feda8a"/><rect x="701.8" y="106.4" fill="#fdbf71"/><rect x="723.1" y="106.4" fill="#fdbf71"/><rect x="744.3" y="106.4" fill="#fba05b"/><rect x="765.6" y="106.4" fill="#fba05b"/><rect x="-21.3" y="127.7" fill="#feeda4"/><rect x="0.0" y="127.7" fill="#feeda4"/><rect x="21.3" y="127.7" fill="#fffebe"/><rect x="42.5" y="127.7" fill="#feeda4"/><rect x="63.8" y="127.7" fill="#feda8a"/><rect x="85.1" y="127.7" fill="#fdbf71"/><rect x="106.3" y="127.7" fill="#fba05b"/><rect x="127.6" y="127.7" fill="#fdbf71"/><rect x="148.9" y="127.7" fill="#edf8df"/><rect x="170.1" y="127.7" fill="#daf0f6"/><rect x="191.4" y="127.7" fill="#bde2ee"/><rect x="212.7" y="127.7" fill="#bde2ee"/><rect x="233.9" y="127.7" fill="#daf0f6"/><rect x="255.2" y="127.7" fill="#edf8df"/><rect x="276.5" y="127.7" fill="#fffebe"/><rect x="297.7" y="127.7" fill="#fffebe"/><rect x="319.0" y="127.7" fill="#fffebe"/><rect x="340.3" y="127.7" fill="#fffebe"/><rect x="361.5" y="127.7" fill="#fffebe"/><rect x="382.8" y="127.7" fill="#fffebe"/><rect x="404.1" y="127.7" fill="#edf8df"/><rect x="425.3" y="127.7" fill="#daf0f6"/><rect x="446.6" y="127.7" fill="#edf8df"/><rect x="467.9" y="127.7" fill="#fffebe"/><rect x="489.1" y="127.7" fill="#fffebe"/><rect x="510.4" y="127.7" fill="#fffebe"/><rect x="531.7" y="127.7" fill="#fffebe"/><rect x="552.9" y="127.7" fill="#fffebe"/><rect x="574.2" y="127.7" fill="#fffebe"/><rect x="595.5" y="127.7" fill="#fffebe"/><rect x="616.7" y="127.7" fill="#daf0f6"/><rect x="638.0" y="127.7" fill="#bde2ee"/><rect x="659.3" y="127.7" fill="#bde2ee"/><rect x="680.5" y="127.7" fill="#bde2ee"/><rect x="701.8" y="127.7" fill="#bde2ee"/><rect x="723.1" y="127.7" fill="#daf0f6"/><rect x="744.3" y="127.7" fill="#feeda4"/><rect x="765.6" y="127.7" fill="#feeda4"/><rect x="-21.3" y="149.0" fill="#fdbf71"/><rect x="0.0" y="149.0" fill="#fdbf71"/><rect x="21.3" y="149.0" fill="#feda8a"/><rect x="42.5" y="149.0" fill="#fdbf71"/><rect x="63.8" y="149.0" fill="#feda8a"/><rect x="85.1" y="149.0" fill="#fdbf71"/><rect x="106.3" y="149.0" fill="#fdbf71"/><rect x="127.6" y="149.0" fill="#feda8a"/><rect x="148.9" y="149.0" fill="#fffebe"/><rect x="170.1" y="149.0" fill="#edf8df"/><rect x="191.4" y="149.0" fill="#edf8df"/><rect x="212.7" y="149.0" fill="#edf8df"/><rect x="233.9" y="149.0" fill="#fffebe"/><rect x="255.2" y="149.0" fill="#feeda4"/><rect x="276.5" y="149.0" fill="#feeda4"/><rect x="297.7" y="149.0" fill="#feeda4"/><rect x="319.0" y="149.0" fill="#fffebe"/><rect x="340.3" y="149.0" fill="#fffebe"/><rect x="361.5" y="149.0" fill="#edf8df"/><rect x="382.8" y="149.0" fill="#edf8df"/><rect x="404.1" y="149.0" fill="#daf0f6"/><rect x="425.3" y="149.0" fill="#daf0f6"/><rect x="446.6" y="149.0" fill="#edf8df"/><rect x="467.9" y="149.0" fill="#fffebe"/><rect x="489.1" y="149.0" fill="#fffebe"/><rect x="510.4" y="149.0" fill="#fffebe"/><rect x="531.7" y="149.0" fill="#fffebe"/><rect x="552.9" y="149.0" fill="#fffebe"/><rect x="574.2" y="149.0" fill="#fffebe"/><rect x="595.5" y="149.0" fill="#fffebe"/><rect x="616.7" y="149.0" fill="#bde2ee"/><rect x="638.0" y="149.0" fill="#9fd0e4"/><rect x="659.3" y="149.0" fill="#bde2ee"/><rect x="680.5" y="149.0" fill="#bde2ee"/><rect x="701.8" y="149.0" fill="#daf0f6"/><rect x="723.1" y="149.0" fill="#fffebe"/><rect x="744.3" y="149.0" fill="#feeda4"/><rect x="765.6" y="149.0" fill="#feeda4"/><rect x="-21.3" y="170.2" fill="#fdbf71"/><rect x="0.0" y="170.2" fill="#fdbf71"/><rect x="21.3" y="170.2" fill="#fdbf71"/><rect x="42.5" y="170.2" fill="#feda8a"/><rect x="63.8" y="170.2" fill="#feda8a"/><rect x="85.1" y="170.2" fill="#feda8a"/><rect x="106.3" y="170.2" fill="#feda8a"/><rect x="127.6" y="170.2" fill="#feeda4"/><rect x="148.9" y="170.2" fill="#fffebe"/><rect x="170.1" y="170.2" fill="#fffebe"/><rect x="191.4" y="170.2" fill="#feeda4"/><rect x="212.7" y="170.2" fill="#feeda4"/><rect x="233.9" y="170.2" fill="#feda8a"/><rect x="255.2" y="170.2" fill="#feda8a"/><rect x="276.5" y="170.2" fill="#feeda4"/><rect x="297.7" y="170.2" fill="#feeda4"/><rect x="319.0" y="170.2" fill="#fffebe"/><rect x="340.3" y="170.2" fill="#fffebe"/><rect x="361.5" y="170.2" fill="#edf8df"/><rect x="382.8" y="170.2" fill="#edf8df"/><rect x="404.1" y="170.2" fill="#edf8df"/><rect x="425.3" y="170.2" fill="#daf0f6"/><rect x="446.6" y="170.2" fill="#daf0f6"/><rect x="467.9" y="170.2" fill="#bde2ee"/><rect x="489.1" y="170.2" fill="#bde2ee"/><rect x="510.4" y="170.2" fill="#bde2ee"/><rect x="531.7" y="170.2" fill="#bde2ee"/><rect x="552.9" y="170.2" fill="#daf0f6"/><rect x="574.2" y="170.2" fill="#daf0f6"/><rect x="595.5" y="170.2" fill="#edf8df"/><rect x="616.7" y="170.2" fill="#daf0f6"/><rect x="638.0" y="170.2" fill="#bde2ee"/><rect x="659.3" y="170.2" fill="#bde2ee"/><rect x="680.5" y="170.2" fill="#daf0f6"/><rect x="701.8" y="170.2" fill="#edf8df"/><rect x="723.1" y="170.2" fill="#feeda4"/><rect x="744.3" y="170.2" fill="#feda8a"/><rect x="765.6" y="170.2" fill="#feda8a"/><rect x="-21.3" y="191.5" fill="#edf8df"/><rect x="0.0" y="191.5" fill="#edf8df"/><rect x="21.3" y="191.5" fill="#bde2ee"/><rect x="42.5" y="191.5" fill="#bde2ee"/><rect x="63.8" y="191.5" fill="#daf0f6"/><rect x="85.1" y="191.5" fill="#fffebe"/><rect x="106.3" y="191.5" fill="#feeda4"/><rect x="127.6" y="191.5" fill="#feeda4"/><rect x="148.9" y="191.5" fill="#feeda4"/><rect x="170.1" y="191.5" fill="#feda8a"/><rect x="191.4" y="191.5" fill="#feda8a"/><rect x="212.7" y="191.5" fill="#feda8a"/><rect x="233.9" y="191.5" fill="#feeda4"/><rect x="255.2" y="191.5" fill="#feeda4"/><rect x="276.5" y="191.5" fill="#feeda4"/><rect x="297.7" y="191.5" fill="#fffebe"/><rect x="319.0" y="191.5" fill="#fffebe"/><rect x="340.3" y="191.5" fill="#edf8df"/><rect x="361.5" y="191.5" fill="#edf8df"/><rect x="382.8" y="191.5" fill="#fffebe"/><rect x="404.1" y="191.5" fill="#edf8df"/><rect x="425.3" y="191.5" fill="#daf0f6"/><rect x="446.6" y="191.5" fill="#daf0f6"/><rect x="467.9" y="191.5" fill="#bde2ee"/><rect x="489.1" y="191.5" fill="#bde2ee"/><rect x="510.4" y="191.5" fill="#9fd0e4"/><rect x="531.7" y="191.5" fill="#9fd0e4"/><rect x="552.9" y="191.5" fill="#bde2ee"/><rect x="574.2" y="191.5" fill="#bde2ee"/><rect x="595.5" y="191.5" fill="#bde2ee"/><rect x="616.7" y="191.5" fill="#daf0f6"/><rect x="638.0" y="191.5" fill="#edf8df"/><rect x="659.3" y="191.5" fill="#fffebe"/><rect x="680.5" y="191.5" fill="#feeda4"/><rect x="701.8" y="191.5" fill="#feda8a"/><rect x="723.1" y="191.5" fill="#feda8a"/><rect x="744.3" y="191.5" fill="#feda8a"/><rect x="765.6" y="191.5" fill="#feda8a"/><rect x="-21.3" y="212.8" fill="#feeda4"/><rect x="0.0" y="212.8" fill="#feeda4"/><rect x="21.3" y="212.8" fill="#fffebe"/><rect x="42.5" y="212.8" fill="#feeda4"/><rect x="63.8" y="212.8" fill="#feeda4"/><rect x="85.1" y="212.8" fill="#feeda4"/><rect x="106.3" y="212.8" fill="#feeda4"/><rect x="127.6" y="212.8" fill="#feda8a"/><rect x="148.9" y="212.8" fill="#fdbf71"/><rect x="170.1" y="212.8" fill="#fdbf71"/><rect x="191.4" y="212.8" fill="#feda8a"/><rect x="212.7" y="212.8" fill="#feda8a"/><rect x="233.9" y="212.8" fill="#feeda4"/><rect x="255.2" y="212.8" fill="#feeda4"/><rect x="276.5" y="212.8" fill="#fffebe"/><rect x="297.7" y="212.8" fill="#fffebe"/><rect x="319.0" y="212.8" fill="#edf8df"/><rect x="340.3" y="212.8" fill="#edf8df"/><rect x="361.5" y="212.8" fill="#edf8df"/><rect x="382.8" y="212.8" fill="#edf8df"/><rect x="404.1" y="212.8" fill="#daf0f6"/><rect x="425.3" y="212.8" fill="#bde2ee"/><rect x="446.6" y="212.8" fill="#bde2ee"/><rect x="467.9" y="212.8" fill="#9fd0e4"/><rect x="489.1" y="212.8" fill="#7fb6d6"/><rect x="510.4" y="212.8" fill="#7fb6d6"/><rect x="531.7" y="212.8" fill="#6399c7"/><rect x="552.9" y="212.8" fill="#6399c7"/><rect x="574.2" y="212.8" fill="#7fb6d6"/><rect x="595.5" y="212.8" fill="#7fb6d6"/><rect x="616.7" y="212.8" fill="#9fd0e4"/><rect x="638.0" y="212.8" fill="#bde2ee"/><rect x="659.3" y="212.8" fill="#edf8df"/><rect x="680.5" y="212.8" fill="#feda8a"/><rect x="701.8" y="212.8" fill="#fdbf71"/><rect x="723.1" y="212.8" fill="#fdbf71"/><rect x="744.3" y="212.8" fill="#feda8a"/><rect x="765.6" y="212.8" fill="#feda8a"/><rect x="-21.3" y="234.1" fill="#feeda4"/><rect x="0.0" y="234.1" fill="#feeda4"/><rect x="21.3" y="234.1" fill="#feeda4"/><rect x="42.5" y="234.1" fill="#feda8a"/><rect x="63.8" y="234.1" fill="#feda8a"/><rect x="85.1" y="234.1" fill="#feeda4"/><rect x="106.3" y="234.1" fill="#feeda4"/><rect x="127.6" y="234.1" fill="#feeda4"/><rect x="148.9" y="234.1" fill="#feda8a"/><rect x="170.1" y="234.1" fill="#feda8a"/><rect x="191.4" y="234.1" fill="#feda8a"/><rect x="212.7" y="234.1" fill="#feeda4"/><rect x="233.9" y="234.1" fill="#feeda4"/><rect x="255.2" y="234.1" fill="#fffebe"/><rect x="276.5" y="234.1" fill="#edf8df"/><rect x="297.7" y="234.1" fill="#edf8df"/><rect x="319.0" y="234.1" fill="#daf0f6"/><rect x="340.3" y="234.1" fill="#daf0f6"/><rect x="361.5" y="234.1" fill="#bde2ee"/><rect x="382.8" y="234.1" fill="#bde2ee"/><rect x="404.1" y="234.1" fill="#bde2ee"/><rect x="425.3" y="234.1" fill="#9fd0e4"/><rect x="446.6" y="234.1" fill="#7fb6d6"/><rect x="467.9" y="234.1" fill="#7fb6d6"/><rect x="489.1" y="234.1" fill="#6399c7"/><rect x="510.4" y="234.1" fill="#6399c7"/><rect x="531.7" y="234.1" fill="#4a7ab7"/><rect x="552.9" y="234.1" fill="#4a7ab7"/><rect x="574.2" y="234.1" fill="#4a7ab7"/><rect x="595.5" y="234.1" fill="#6399c7"/><rect x="616.7" y="234.1" fill="#6399c7"/><rect x="638.0" y="234.1" fill="#7fb6d6"/><rect x="659.3" y="234.1" fill="#bde2ee"/><rect x="680.5" y="234.1" fill="#fdbf71"/><rect x="701.8" y="234.1" fill="#f67a49"/><rect x="723.1" y="234.1" fill="#fdbf71"/><rect x="744.3" y="234.1" fill="#feda8a"/><rect x="765.6" y="234.1" fill="#feda8a"/><rect x="-21.3" y="255.4" fill="#fffebe"/><rect x="0.0" y="255.4" fill="#fffebe"/><rect x="21.3" y="255.4" fill="#fffebe"/><rect x="42.5" y="255.4" fill="#feeda4"/><rect x="63.8" y="255.4" fill="#feeda4"/><rect x="85.1" y="255.4" fill="#feeda4"/><rect x="106.3" y="255.4" fill="#fffebe"/><rect x="127.6" y="255.4" fill="#fffebe"/><rect x="148.9" y="255.4" fill="#feeda4"/><rect x="170.1" y="255.4" fill="#feeda4"/><rect x="191.4" y="255.4" fill="#feeda4"/><rect x="212.7" y="255.4" fill="#fffebe"/><rect x="233.9" y="255.4" fill="#fffebe"/><rect x="255.2" y="255.4" fill="#fffebe"/><rect x="276.5" y="255.4" fill="#edf8df"/><rect x="297.7" y="255.4" fill="#edf8df"/><rect x="319.0" y="255.4" fill="#edf8df"/><rect x="340.3" y="255.4" fill="#daf0f6"/><rect x="361.5" y="255.4" fill="#daf0f6"/><rect x="382.8" y="255.4" fill="#bde2ee"/><rect x="404.1" y="255.4" fill="#bde2ee"/><rect x="425.3" y="255.4" fill="#bde2ee"/><rect x="446.6" y="255.4" fill="#9fd0e4"/><rect x="467.9" y="255.4" fill="#7fb6d6"/><rect x="489.1" y="255.4" fill="#7fb6d6"/><rect x="510.4" y="255.4" fill="#6399c7"/><rect x="531.7" y="255.4" fill="#6399c7"/><rect x="552.9" y="255.4" fill="#6399c7"/><rect x="574.2" y="255.4" fill="#7fb6d6"/><rect x="595.5" y="255.4" fill="#7fb6d6"/><rect x="616.7" y="255.4" fill="#9fd0e4"/><rect x="638.0" y="255.4" fill="#bde2ee"/><rect x="659.3" y="255.4" fill="#edf8df"/><rect x="680.5" y="255.4" fill="#feeda4"/><rect x="701.8" y="255.4" fill="#feda8a"/><rect x="723.1" y="255.4" fill="#feda8a"/><rect x="744.3" y="255.4" fill="#feeda4"/><rect x="765.6" y="255.4" fill="#feeda4"/><rect x="-21.3" y="276.7" fill="#fffebe"/><rect x="0.0" y="276.7" fill="#fffebe"/><rect x="21.3" y="276.7" fill="#fffebe"/><rect x="42.5" y="276.7" fill="#fffebe"/><rect x="63.8" y="276.7" fill="#fffebe"/><rect x="85.1" y="276.7" fill="#fffebe"/><rect x="106.3" y="276.7" fill="#fffebe"/><rect x="127.6" y="276.7" fill="#fffebe"/><rect x="148.9" y="276.7" fill="#fffebe"/><rect x="170.1" y="276.7" fill="#fffebe"/><rect x="191.4" y="276.7" fill="#fffebe"/><rect x="212.7" y="276.7" fill="#edf8df"/><rect x="233.9" y="276.7" fill="#edf8df"/><rect x="255.2" y="276.7" fill="#edf8df"/><rect x="276.5" y="276.7" fill="#edf8df"/><rect x="297.7" y="276.7" fill="#daf0f6"/><rect x="319.0" y="276.7" fill="#daf0f6"/><rect x="340.3" y="276.7" fill="#edf8df"/><rect x="361.5" y="276.7" fill="#edf8df"/><rect x="382.8" y="276.7" fill="#daf0f6"/><rect x="404.1" y="276.7" fill="#daf0f6"/><rect x="425.3" y="276.7" fill="#daf0f6"/><rect x="446.6" y="276.7" fill="#bde2ee"/><rect x="467.9" y="276.7" fill="#bde2ee"/><rect x="489.1" y="276.7" fill="#bde2ee"/><rect x="510.4" y="276.7" fill="#bde2ee"/><rect x="531.7" y="276.7" fill="#9fd0e4"/><rect x="552.9" y="276.7" fill="#bde2ee"/><rect x="574.2" y="276.7" fill="#bde2ee"/><rect x="595.5" y="276.7" fill="#bde2ee"/><rect x="616.7" y="276.7" fill="#daf0f6"/><rect x="638.0" y="276.7" fill="#edf8df"/><rect x="659.3" y="276.7" fill="#fffebe"/><rect x="680.5" y="276.7" fill="#feeda4"/><rect x="701.8" y="276.7" fill="#feeda4"/><rect x="723.1" y="276.7" fill="#feeda4"/><rect x="744.3" y="276.7" fill="#feeda4"/><rect x="765.6" y="276.7" fill="#feeda4"/><rect x="-21.3" y="297.9" fill="#fffebe"/><rect x="0.0" y="297.9" fill="#fffebe"/><rect x="21.3" y="297.9" fill="#fffebe"/><rect x="42.5" y="297.9" fill="#fffebe"/><rect x="63.8" y="297.9" fill="#fffebe"/><rect x="85.1" y="297.9" fill="#fffebe"/><rect x="106.3" y="297.9" fill="#fffebe"/><rect x="127.6" y="297.9" fill="#fffebe"/><rect x="148.9" y="297.9" fill="#fffebe"/><rect x="170.1" y="297.9" fill="#fffebe"/><rect x="191.4" y="297.9" fill="#fffebe"/><rect x="212.7" y="297.9" fill="#fffebe"/><rect x="233.9" y="297.9" fill="#fffebe"/><rect x="255.2" y="297.9" fill="#fffebe"/><rect x="276.5" y="297.9" fill="#edf8df"/><rect x="297.7" y="297.9" fill="#edf8df"/><rect x="319.0" y="297.9" fill="#edf8df"/><rect x="340.3" y="297.9" fill="#edf8df"/><rect x="361.5" y="297.9" fill="#edf8df"/><rect x="382.8" y="297.9" fill="#edf8df"/><rect x="404.1" y="297.9" fill="#edf8df"/><rect x="425.3" y="297.9" fill="#edf8df"/><rect x="446.6" y="297.9" fill="#daf0f6"/><rect x="467.9" y="297.9" fill="#daf0f6"/><rect x="489.1" y="297.9" fill="#daf0f6"/><rect x="510.4" y="297.9" fill="#daf0f6"/><rect x="531.7" y="297.9" fill="#daf0f6"/><rect x="552.9" y="297.9" fill="#daf0f6"/><rect x="574.2" y="297.9" fill="#edf8df"/><rect x="595.5" y="297.9" fill="#edf8df"/><rect x="616.7" y="297.9" fill="#fffebe"/><rect x="638.0" y="297.9" fill="#fffebe"/><rect x="659.3" y="297.9" fill="#fffebe"/><rect x="680.5" y="297.9" fill="#feeda4"/><rect x="701.8" y="297.9" fill="#feeda4"/><rect x="723.1" y="297.9" fill="#feeda4"/><rect x="744.3" y="297.9" fill="#feeda4"/><rect x="765.6" y="297.9" fill="#feeda4"/><rect x="-21.3" y="319.2" fill="#fffebe"/><rect x="0.0" y="319.2" fill="#fffebe"/><rect x="21.3" y="319.2" fill="#fffebe"/><rect x="42.5" y="319.2" fill="#fffebe"/><rect x="63.8" y="319.2" fill="#fffebe"/><rect x="85.1" y="319.2" fill="#fffebe"/><rect x="106.3" y="319.2" fill="#fffebe"/><rect x="127.6" y="319.2" fill="#fffebe"/><rect x="148.9" y="319.2" fill="#fffebe"/><rect x="170.1" y="319.2" fill="#fffebe"/><rect x="191.4" y="319.2" fill="#fffebe"/><rect x="212.7" y="319.2" fill="#fffebe"/><rect x="233.9" y="319.2" fill="#fffebe"/><rect x="255.2" y="319.2" fill="#fffebe"/><rect x="276.5" y="319.2" fill="#fffebe"/><rect x="297.7" y="319.2" fill="#fffebe"/><rect x="319.0" y="319.2" fill="#fffebe"/><rect x="340.3" y="319.2" fill="#fffebe"/><rect x="361.5" y="319.2" fill="#fffebe"/><rect x="382.8" y="319.2" fill="#fffebe"/><rect x="404.1" y="319.2" fill="#fffebe"/><rect x="425.3" y="319.2" fill="#fffebe"/><rect x="446.6" y="319.2" fill="#edf8df"/><rect x="467.9" y="319.2" fill="#edf8df"/><rect x="489.1" y="319.2" fill="#edf8df"/><rect x="510.4" y="319.2" fill="#edf8df"/><rect x="531.7" y="319.2" fill="#edf8df"/><rect x="552.9" y="319.2" fill="#fffebe"/><rect x="574.2" y="319.2" fill="#fffebe"/><rect x="595.5" y="319.2" fill="#fffebe"/><rect x="616.7" y="319.2" fill="#fffebe"/><rect x="638.0" y="319.2" fill="#fffebe"/><rect x="659.3" y="319.2" fill="#fffebe"/><rect x="680.5" y="319.2" fill="#feeda4"/><rect x="701.8" y="319.2" fill="#feeda4"/><rect x="723.1" y="319.2" fill="#feeda4"/><rect x="744.3" y="319.2" fill="#feeda4"/><rect x="765.6" y="319.2" fill="#feeda4"/><rect x="-21.3" y="340.5" fill="#fffebe"/><rect x="0.0" y="340.5" fill="#fffebe"/><rect x="21.3" y="340.5" fill="#fffebe"/><rect x="42.5" y="340.5" fill="#fffebe"/><rect x="63.8" y="340.5" fill="#fffebe"/><rect x="85.1" y="340.5" fill="#fffebe"/><rect x="106.3" y="340.5" fill="#fffebe"/><rect x="127.6" y="340.5" fill="#fffebe"/><rect x="148.9" y="340.5" fill="#fffebe"/><rect x="170.1" y="340.5" fill="#fffebe"/><rect x="191.4" y="340.5" fill="#fffebe"/><rect x="212.7" y="340.5" fill="#fffebe"/><rect x="233.9" y="340.5" fill="#fffebe"/><rect x="255.2" y="340.5" fill="#fffebe"/><rect x="276.5" y="340.5" fill="#fffebe"/><rect x="297.7" y="340.5" fill="#fffebe"/><rect x="319.0" y="340.5" fill="#fffebe"/><rect x="340.3" y="340.5" fill="#fffebe"/><rect x="361.5" y="340.5" fill="#fffebe"/><rect x="382.8" y="340.5" fill="#fffebe"/><rect x="404.1" y="340.5" fill="#fffebe"/><rect x="425.3" y="340.5" fill="#fffebe"/><rect x="446.6" y="340.5" fill="#edf8df"/><rect x="467.9" y="340.5" fill="#edf8df"/><rect x="489.1" y="340.5" fill="#edf8df"/><rect x="510.4" y="340.5" fill="#edf8df"/><rect x="531.7" y="340.5" fill="#edf8df"/><rect x="552.9" y="340.5" fill="#fffebe"/><rect x="574.2" y="340.5" fill="#fffebe"/><rect x="595.5" y="340.5" fill="#fffebe"/><rect x="616.7" y="340.5" fill="#fffebe"/><rect x="638.0" y="340.5" fill="#fffebe"/><rect x="659.3" y="340.5" fill="#fffebe"/><rect x="680.5" y="340.5" fill="#feeda4"/><rect x="701.8" y="340.5" fill="#feeda4"/><rect x="723.1" y="340.5" fill="#feeda4"/><rect x="744.3" y="340.5" fill="#feeda4"/><rect x="765.6" y="340.5" fill="#feeda4"/></g>
</g>
<g clip-path="url(#axclip)"><use href="#coast"/><circle cx="469.5" cy="246.5" r="3.2"/><path d="M476.6,248.3 482.6,251.9 486.4,257.9" fill="none" stroke="#000" stroke-width="5.5" stroke-linecap="round" stroke-linejoin="round"/><circle cx="26.6" cy="1.6" r="2.0"/><circle cx="79.8" cy="1.6" r="2.0"/><circle cx="132.9" cy="1.6" r="2.0"/><polygon points="185.7,-0.4 185.7,-0.0 184.9,-0.4 186.1,3.6 187.3,-0.4 186.5,-0.0 186.5,-0.4"/><polygon points="239.8,4.1 239.8,3.6 240.8,4.1 239.3,-0.9 237.8,4.1 238.8,3.6 238.8,4.1"/><circle cx="292.4" cy="1.6" r="2.0"/><circle cx="345.6" cy="1.6" r="2.0"/><polygon points="391.9,-0.2 391.1,-0.0 391.5,-1.8 384.1,2.6 392.7,3.0 391.5,1.6 392.3,1.4"/><polygon points="443.2,-1.9 442.7,-1.3 442.0,-2.9 438.8,4.6 445.6,0.1 443.9,-0.3 444.4,-0.9"/><polygon points="495.6,-0.7 495.3,-0.3 494.8,-1.3 493.0,3.6 497.2,0.5 496.1,0.3 496.4,-0.1"/><polygon points="550.4,-0.0 549.8,0.2 550.0,-1.2 544.6,2.6 551.2,2.4 550.2,1.4 550.8,1.2"/><polygon points="599.2,-1.2 599.4,-0.6 598.0,-0.8 601.8,4.6 601.6,-2.0 600.6,-1.0 600.4,-1.6"/><polygon points="653.6,-0.4 653.6,-0.0 652.8,-0.4 654.0,3.6 655.2,-0.4 654.4,-0.0 654.4,-0.4"/><circle cx="707.1" cy="1.6" r="2.0"/><circle cx="760.3" cy="1.6" r="2.0"/><polygon points="28.5,46.0 28.3,45.1 30.3,45.6 25.6,37.2 24.9,46.8 26.5,45.5 26.7,46.4"/><polygon points="74.9,45.8 76.0,45.2 76.1,48.0 85.3,38.7 72.5,41.4 74.8,43.0 73.7,43.6"/><polygon points="127.2,36.6 128.1,37.8 124.8,38.4 137.4,47.7 132.0,33.0 130.5,36.0 129.6,34.8"/><polygon points="184.0,41.6 184.4,41.7 183.8,42.4 188.1,42.2 184.4,40.0 184.6,40.9 184.2,40.8"/><circle cx="239.3" cy="41.7" r="2.0"/><circle cx="292.4" cy="41.7" r="2.0"/><polygon points="345.6,44.3 345.7,43.8 346.6,44.5 346.1,39.2 343.6,43.9 344.7,43.6 344.6,44.1"/><polygon points="387.3,37.7 387.3,38.5 385.7,37.7 388.1,45.7 390.5,37.7 388.9,38.5 388.9,37.7"/><polygon points="437.5,43.5 438.3,43.3 437.9,45.1 445.3,40.7 436.7,40.3 437.9,41.7 437.1,41.9"/><polygon points="489.3,41.7 490.3,41.9 488.9,43.7 499.5,42.7 490.1,37.7 490.7,39.9 489.7,39.7"/><polygon points="543.7,43.0 544.5,42.9 543.9,44.6 551.6,41.2 543.3,39.8 544.3,41.3 543.5,41.4"/><polygon points="597.1,36.2 597.6,37.4 594.7,37.2 603.3,47.7 601.9,34.2 600.0,36.4 599.5,35.2"/><circle cx="654.0" cy="41.7" r="2.0"/><circle cx="707.1" cy="41.7" r="2.0"/><circle cx="760.3" cy="41.7" r="2.0"/><polygon points="21.5,87.5 22.7,86.6 23.3,89.9 32.6,77.3 17.9,82.7 20.9,84.2 19.7,85.1"/><polygon points="70.6,88.1 74.2,86.5 74.0,91.0 89.8,77.3 69.0,80.0 72.5,82.8 68.9,84.5"/><polygon points="122.7,82.8 124.8,83.0 122.4,86.8 142.9,82.8 123.6,74.8 125.2,79.0 123.1,78.8"/><circle cx="186.1" cy="81.8" r="2.0"/><polygon points="232.7,80.0 233.9,80.6 231.5,82.4 245.3,84.8 235.1,75.2 235.1,78.2 233.9,77.6"/><polygon points="292.9,92.1 293.2,89.9 296.9,92.5 293.9,71.8 285.0,90.7 289.3,89.3 288.9,91.5"/><polygon points="341.9,84.1 342.7,83.8 342.5,85.7 349.6,80.3 340.7,80.9 342.1,82.2 341.3,82.5"/><polygon points="375.1,76.5 383.6,81.4 379.8,83.9 400.1,88.8 385.9,73.5 385.6,78.0 377.1,73.1"/><circle cx="441.3" cy="81.8" r="2.0"/><circle cx="494.5" cy="81.8" r="2.0"/><circle cx="547.6" cy="81.8" r="2.0"/><polygon points="607.0,81.6 605.8,81.4 607.4,79.2 594.8,80.8 606.2,86.4 605.4,83.8 606.6,84.0"/><polygon points="664.1,80.8 662.1,80.6 664.4,76.8 644.0,80.8 663.3,88.7 661.7,84.6 663.8,84.8"/><polygon points="716.9,87.2 713.8,84.7 717.9,82.9 698.6,74.8 710.2,92.1 711.2,87.8 714.3,90.3"/><circle cx="760.3" cy="81.8" r="2.0"/><polygon points="24.2,122.9 24.7,122.8 24.4,123.9 29.1,121.4 23.8,120.9 24.5,121.8 24.0,121.9"/><polygon points="76.3,122.6 77.0,122.6 76.3,124.0 83.3,121.9 76.3,119.8 77.0,121.2 76.3,121.2"/><polygon points="122.8,123.4 124.8,123.5 122.6,127.4 142.9,122.4 123.2,115.4 125.0,119.5 123.0,119.4"/><polygon points="174.6,126.8 181.1,125.2 180.1,129.6 198.1,118.9 177.2,117.9 180.1,121.3 173.6,123.0"/><polygon points="230.0,144.3 243.8,117.3 246.5,120.9 250.3,100.4 235.8,115.5 240.3,115.5 226.5,142.5"/><polygon points="289.1,115.8 289.5,117.1 286.5,116.6 294.4,128.4 294.3,114.2 292.1,116.3 291.7,115.0"/><polygon points="335.9,117.5 338.2,119.1 334.3,121.3 354.1,127.9 341.2,111.5 340.5,115.9 338.2,114.3"/><polygon points="379.5,113.0 383.2,118.3 378.7,118.9 395.1,131.9 388.6,112.1 386.4,116.0 382.8,110.7"/><polygon points="427.3,116.7 437.5,122.1 433.8,124.7 454.3,128.9 439.5,114.1 439.4,118.6 429.2,113.1"/><polygon points="473.5,129.8 499.2,122.7 498.3,127.0 516.0,115.9 495.1,115.5 498.1,118.8 472.4,126.0"/><polygon points="535.6,123.9 541.6,123.9 539.6,127.9 559.6,121.9 539.6,115.9 541.6,119.9 535.6,119.9"/><polygon points="598.3,117.2 598.6,118.2 596.3,117.8 602.3,126.9 602.3,116.0 600.6,117.6 600.3,116.6"/><circle cx="654.0" cy="121.9" r="2.0"/><polygon points="701.5,114.7 702.3,116.3 698.3,116.3 711.1,129.9 707.9,111.5 705.5,114.7 704.7,113.1"/><polygon points="753.1,117.1 754.3,118.3 750.7,119.5 766.3,127.9 757.9,112.3 756.7,115.9 755.5,114.7"/><polygon points="21.6,163.0 22.6,163.0 21.6,165.0 31.6,162.0 21.6,159.0 22.6,161.0 21.6,161.0"/><polygon points="73.3,168.5 74.8,167.5 75.3,171.5 87.3,157.0 69.3,162.5 72.8,164.5 71.3,165.5"/><polygon points="130.7,171.8 131.5,170.0 134.3,173.4 136.9,153.0 123.5,168.6 127.9,168.4 127.1,170.2"/><polygon points="174.3,165.5 180.5,164.7 179.0,168.9 198.1,160.5 177.5,157.0 180.0,160.8 173.8,161.5"/><polygon points="230.0,167.9 233.3,166.5 232.9,171.0 249.3,158.0 228.5,159.9 231.8,162.8 228.5,164.1"/><polygon points="285.9,168.5 287.4,167.5 287.9,171.5 299.9,157.0 281.9,162.5 285.4,164.5 283.9,165.5"/><polygon points="336.3,164.9 338.2,164.7 336.7,168.7 355.1,161.0 335.5,157.3 337.8,160.9 335.9,161.1"/><polygon points="382.0,162.7 383.2,162.8 381.8,165.1 394.1,162.5 382.4,157.9 383.4,160.4 382.2,160.3"/><polygon points="420.1,173.8 447.7,161.3 447.6,165.7 463.3,152.0 442.6,154.8 446.1,157.6 418.5,170.2"/><polygon points="467.0,164.0 504.0,164.0 502.0,168.0 522.0,162.0 502.0,156.0 504.0,160.0 467.0,160.0"/><polygon points="517.0,153.4 560.0,168.4 556.8,171.6 577.6,172.5 560.7,160.2 561.3,164.7 518.3,149.6"/><polygon points="588.9,172.2 599.8,165.0 600.3,169.5 613.8,153.5 593.8,159.4 597.6,161.7 586.7,168.8"/><polygon points="654.2,168.7 654.5,167.4 656.9,169.1 655.0,155.5 649.1,167.9 651.9,167.0 651.7,168.3"/><circle cx="707.1" cy="162.0" r="2.0"/><polygon points="757.8,159.9 758.2,160.4 756.8,160.7 762.3,164.5 759.8,158.3 759.2,159.6 758.8,159.1"/><polygon points="26.1,199.6 26.1,200.1 25.1,199.6 26.6,204.6 28.1,199.6 27.1,200.1 27.1,199.6"/><circle cx="79.8" cy="202.1" r="2.0"/><polygon points="129.6,201.2 130.2,201.5 129.0,202.4 135.9,203.6 130.8,198.8 130.8,200.3 130.2,200.0"/><polygon points="184.1,197.3 184.3,198.3 182.1,197.7 187.1,207.1 188.1,196.5 186.3,197.9 186.1,196.9"/><polygon points="230.8,215.9 239.6,204.9 241.4,209.0 249.3,189.6 232.1,201.5 236.4,202.4 227.7,213.4"/><polygon points="284.3,205.8 286.0,205.4 285.1,209.2 300.9,200.1 282.7,199.0 285.2,202.0 283.5,202.4"/><polygon points="336.3,196.6 338.7,198.8 334.6,200.5 353.6,209.1 342.5,191.4 341.4,195.8 338.9,193.6"/><polygon points="384.6,202.8 385.3,202.8 384.6,204.2 391.6,202.1 384.6,200.0 385.3,201.4 384.6,201.4"/><polygon points="439.7,212.8 440.7,209.8 443.8,213.0 444.8,192.1 432.5,209.0 436.9,208.4 435.9,211.5"/><polygon points="487.4,203.0 488.8,203.1 487.2,205.8 501.5,202.6 487.8,197.4 489.0,200.3 487.6,200.2"/><polygon points="533.2,190.0 546.7,204.0 542.4,205.4 560.6,215.6 551.1,197.0 549.6,201.3 536.1,187.2"/><polygon points="589.9,198.9 593.8,200.9 590.2,203.5 610.8,207.1 595.6,192.8 595.6,197.3 591.7,195.3"/><circle cx="654.0" cy="202.1" r="2.0"/><polygon points="701.0,202.8 702.2,202.9 700.8,205.2 713.1,202.6 701.4,198.0 702.4,200.5 701.2,200.4"/><polygon points="756.8,202.8 757.5,202.8 756.8,204.2 763.8,202.1 756.8,200.0 757.5,201.4 756.8,201.4"/><polygon points="24.2,245.8 24.8,245.2 25.4,247.0 29.6,239.2 21.8,243.4 23.6,244.0 23.0,244.6"/><circle cx="79.8" cy="242.2" r="2.0"/><circle cx="132.9" cy="242.2" r="2.0"/><polygon points="193.5,256.5 188.7,243.4 193.1,243.9 180.6,227.2 181.8,248.1 184.9,244.8 189.7,257.9"/><polygon points="249.5,248.2 245.4,244.7 249.5,242.9 230.3,234.7 241.8,252.1 242.8,247.8 247.0,251.3"/><polygon points="301.4,245.6 299.8,244.6 303.4,242.4 284.4,237.2 297.4,252.0 297.8,247.8 299.4,248.8"/><polygon points="344.8,238.2 344.8,239.0 343.2,238.2 345.6,246.2 348.0,238.2 346.4,239.0 346.4,238.2"/><polygon points="388.9,246.2 388.9,245.4 390.5,246.2 388.1,238.2 385.7,246.2 387.3,245.4 387.3,246.2"/><polygon points="433.9,239.0 435.2,239.9 432.1,241.6 447.8,246.7 437.5,233.8 437.0,237.3 435.7,236.4"/><polygon points="489.3,250.0 490.6,248.7 491.9,252.6 501.0,235.7 484.1,244.8 488.0,246.1 486.7,247.4"/><polygon points="545.6,228.7 545.6,237.7 541.6,235.7 547.6,255.7 553.6,235.7 549.6,237.7 549.6,228.7"/><polygon points="597.1,236.7 597.6,237.9 594.7,237.7 603.3,248.2 601.9,234.7 600.0,236.9 599.5,235.7"/><polygon points="652.0,229.2 652.0,237.2 648.0,235.2 654.0,255.2 660.0,235.2 656.0,237.2 656.0,229.2"/><polygon points="702.0,240.1 702.9,240.7 700.8,241.9 711.6,245.2 704.4,236.5 704.1,238.9 703.2,238.3"/><circle cx="760.3" cy="242.2" r="2.0"/><polygon points="24.1,285.4 24.7,284.9 25.1,286.6 29.6,279.8 22.1,283.0 23.7,283.7 23.1,284.2"/><circle cx="79.8" cy="282.3" r="2.0"/><circle cx="132.9" cy="282.3" r="2.0"/><polygon points="214.1,280.3 176.1,280.3 178.1,276.3 158.1,282.3 178.1,288.3 176.1,284.3 214.1,284.3"/><polygon points="275.8,271.9 219.3,284.9 220.4,280.5 202.3,290.8 223.1,292.2 220.2,288.8 276.7,275.8"/><polygon points="326.8,268.9 273.9,286.3 274.5,281.9 257.4,293.8 278.3,293.3 275.1,290.1 328.0,272.7"/><polygon points="375.9,269.0 330.8,285.7 331.2,281.3 314.6,293.8 335.4,292.5 332.2,289.5 377.3,272.7"/><polygon points="418.4,268.5 373.2,286.0 373.6,281.5 357.1,294.3 377.9,292.7 374.6,289.7 419.8,272.2"/><polygon points="466.3,265.1 429.7,286.9 429.4,282.4 415.3,297.8 435.5,292.8 431.8,290.3 468.3,268.6"/><polygon points="512.6,262.9 486.8,286.7 485.6,282.4 475.0,300.3 493.7,291.2 489.5,289.6 515.3,265.8"/><polygon points="547.6,264.1 545.6,282.2 541.9,279.8 545.6,300.3 553.8,281.1 549.6,282.7 551.6,264.6"/><polygon points="600.8,264.6 598.8,281.7 595.1,279.3 598.8,299.8 607.0,280.6 602.8,282.2 604.8,265.1"/><polygon points="642.2,275.9 648.9,281.0 644.9,283.0 664.5,290.3 652.2,273.4 651.3,277.8 644.7,272.7"/><polygon points="701.0,283.0 702.2,283.1 700.8,285.4 713.1,282.8 701.4,278.2 702.4,280.7 701.2,280.6"/><polygon points="753.5,279.5 754.7,280.3 751.9,281.9 766.3,286.3 756.7,274.7 756.3,277.9 755.1,277.1"/><polygon points="31.4,325.7 30.6,324.9 33.0,324.1 22.6,318.5 28.2,328.9 29.0,326.5 29.8,327.3"/><polygon points="85.1,310.4 80.7,317.2 78.4,313.4 72.8,333.5 88.5,319.8 84.1,319.3 88.4,312.5"/><polygon points="137.9,321.5 136.9,321.5 137.9,319.5 127.9,322.5 137.9,325.5 136.9,323.5 137.9,323.5"/><polygon points="195.6,309.1 185.8,319.8 184.2,315.7 175.1,334.5 193.0,323.8 188.7,322.5 198.6,311.8"/><polygon points="257.0,304.9 232.7,325.3 231.7,321.0 220.3,338.5 239.4,330.2 235.3,328.4 259.5,308.0"/><polygon points="313.0,299.0 281.7,330.3 280.3,326.1 270.4,344.5 288.8,334.6 284.6,333.1 315.8,301.9"/><polygon points="364.7,300.5 336.4,328.8 335.0,324.6 325.1,343.0 343.5,333.1 339.2,331.6 367.5,303.4"/><polygon points="404.5,296.8 379.2,331.3 377.1,327.3 370.1,347.0 386.8,334.4 382.4,333.6 407.7,299.1"/><polygon points="453.2,303.7 437.2,324.5 435.2,320.4 427.8,340.0 444.8,327.8 440.4,326.9 456.4,306.2"/><polygon points="498.6,305.3 492.7,321.4 489.6,318.1 488.5,339.0 500.9,322.2 496.5,322.7 502.3,306.6"/><polygon points="544.5,320.0 545.0,320.6 543.3,321.0 550.1,325.5 546.9,318.0 546.2,319.6 545.7,319.0"/><polygon points="601.5,326.0 601.5,325.3 602.9,326.0 600.8,319.0 598.7,326.0 600.1,325.3 600.1,326.0"/><polygon points="653.4,332.5 653.9,330.6 657.2,333.5 656.5,313.0 645.8,330.5 650.1,329.6 649.6,331.5"/><polygon points="705.5,336.0 707.9,327.4 711.2,330.3 710.6,309.5 699.6,327.2 704.0,326.3 701.7,334.9"/><polygon points="756.1,336.3 760.6,326.6 763.3,330.1 766.3,309.5 752.5,325.1 756.9,325.0 752.5,334.6"/></g>
<rect width="765.6" height="340.5" fill="none" stroke="#000" stroke-width="3"/>
</g>
<text x="92.5" y="1728.5" font-size="41" font-weight="bold">g</text>
<text x="71.7" y="1847.8" font-size="30" text-anchor="end">60°N</text>
<text x="71.7" y="1975.5" font-size="30" text-anchor="end">30°N</text>
<text x="219.1" y="2137.2" font-size="30" text-anchor="middle">120°E</text>
<text x="474.3" y="2137.2" font-size="30" text-anchor="middle">180°E</text>
<text x="729.5" y="2137.2" font-size="30" text-anchor="middle">120°W</text>
<polygon points="90.5,2163.9 125.7,2144.8 125.7,2182.9" fill="#313695"/>
<polygon points="858.1,2163.9 824.3,2144.8 824.3,2182.9" fill="#a50026"/>
<rect x="125.7" y="2144.8" width="698.6" height="38.1" fill="url(#gt)"/>
<polygon points="90.5,2163.9 125.7,2144.8 824.3,2144.8 858.1,2163.9 824.3,2182.9 125.7,2182.9" fill="none" stroke="#000" stroke-width="3"/>
<line x1="125.7" y1="2182.9" x2="125.7" y2="2197.4" stroke="#000" stroke-width="3"/>
<text x="125.7" y="2234.9" font-size="30" text-anchor="middle">−3</text>
<line x1="242.1" y1="2182.9" x2="242.1" y2="2197.4" stroke="#000" stroke-width="3"/>
<text x="242.1" y="2234.9" font-size="30" text-anchor="middle">−2</text>
<line x1="358.6" y1="2182.9" x2="358.6" y2="2197.4" stroke="#000" stroke-width="3"/>
<text x="358.6" y="2234.9" font-size="30" text-anchor="middle">−1</text>
<line x1="475.0" y1="2182.9" x2="475.0" y2="2197.4" stroke="#000" stroke-width="3"/>
<text x="475.0" y="2234.9" font-size="30" text-anchor="middle">0</text>
<line x1="591.4" y1="2182.9" x2="591.4" y2="2197.4" stroke="#000" stroke-width="3"/>
<text x="591.4" y="2234.9" font-size="30" text-anchor="middle">1</text>
<line x1="707.9" y1="2182.9" x2="707.9" y2="2197.4" stroke="#000" stroke-width="3"/>
<text x="707.9" y="2234.9" font-size="30" text-anchor="middle">2</text>
<line x1="824.3" y1="2182.9" x2="824.3" y2="2197.4" stroke="#000" stroke-width="3"/>
<text x="824.3" y="2234.9" font-size="30" text-anchor="middle">3</text>
<text x="474.3" y="2279.5" font-size="30" text-anchor="middle">Air temperature (°C)</text>
<g transform="translate(972.20,1752.10)">
<g clip-path="url(#axclip)">
<g filter="url(#blur)"><rect x="-21.3" y="-21.3" fill="#7070ff"/><rect x="0.0" y="-21.3" fill="#7070ff"/><rect x="21.3" y="-21.3" fill="#7070ff"/><rect x="42.5" y="-21.3" fill="#7070ff"/><rect x="63.8" y="-21.3" fill="#7070ff"/><rect x="85.1" y="-21.3" fill="#8e8eff"/><rect x="106.3" y="-21.3" fill="#8e8eff"/><rect x="127.6" y="-21.3" fill="#8e8eff"/><rect x="148.9" y="-21.3" fill="#8e8eff"/><rect x="170.1" y="-21.3" fill="#8e8eff"/><rect x="191.4" y="-21.3" fill="#aaaaff"/><rect x="212.7" y="-21.3" fill="#aaaaff"/><rect x="233.9" y="-21.3" fill="#aaaaff"/><rect x="255.2" y="-21.3" fill="#aaaaff"/><rect x="276.5" y="-21.3" fill="#aaaaff"/><rect x="297.7" y="-21.3" fill="#aaaaff"/><rect x="319.0" y="-21.3" fill="#8e8eff"/><rect x="340.3" y="-21.3" fill="#8e8eff"/><rect x="361.5" y="-21.3" fill="#8e8eff"/><rect x="382.8" y="-21.3" fill="#7070ff"/><rect x="404.1" y="-21.3" fill="#7070ff"/><rect x="425.3" y="-21.3" fill="#7070ff"/><rect x="446.6" y="-21.3" fill="#5454ff"/><rect x="467.9" y="-21.3" fill="#5454ff"/><rect x="489.1" y="-21.3" fill="#5454ff"/><rect x="510.4" y="-21.3" fill="#3838ff"/><rect x="531.7" y="-21.3" fill="#3838ff"/><rect x="552.9" y="-21.3" fill="#5454ff"/><rect x="574.2" y="-21.3" fill="#7070ff"/><rect x="595.5" y="-21.3" fill="#7070ff"/><rect x="616.7" y="-21.3" fill="#8e8eff"/><rect x="638.0" y="-21.3" fill="#aaaaff"/><rect x="659.3" y="-21.3" fill="#c6c6ff"/><rect x="680.5" y="-21.3" fill="#c6c6ff"/><rect x="701.8" y="-21.3" fill="#e2e2ff"/><rect x="723.1" y="-21.3" fill="#fffefe"/><rect x="744.3" y="-21.3" fill="#fffefe"/><rect x="765.6" y="-21.3" fill="#fffefe"/><rect x="-21.3" y="0.0" fill="#7070ff"/><rect x="0.0" y="0.0" fill="#7070ff"/><rect x="21.3" y="0.0" fill="#7070ff"/><rect x="42.5" y="0.0" fill="#7070ff"/><rect x="63.8" y="0.0" fill="#7070ff"/><rect x="85.1" y="0.0" fill="#8e8eff"/><rect x="106.3" y="0.0" fill="#8e8eff"/><rect x="127.6" y="0.0" fill="#8e8eff"/><rect x="148.9" y="0.0" fill="#8e8eff"/><rect x="170.1" y="0.0" fill="#8e8eff"/><rect x="191.4" y="0.0" fill="#aaaaff"/><rect x="212.7" y="0.0" fill="#aaaaff"/><rect x="233.9" y="0.0" fill="#aaaaff"/><rect x="255.2" y="0.0" fill="#aaaaff"/><rect x="276.5" y="0.0" fill="#aaaaff"/><rect x="297.7" y="0.0" fill="#aaaaff"/><rect x="319.0" y="0.0" fill="#8e8eff"/><rect x="340.3" y="0.0" fill="#8e8eff"/><rect x="361.5" y="0.0" fill="#8e8eff"/><rect x="382.8" y="0.0" fill="#7070ff"/><rect x="404.1" y="0.0" fill="#7070ff"/><rect x="425.3" y="0.0" fill="#7070ff"/><rect x="446.6" y="0.0" fill="#5454ff"/><rect x="467.9" y="0.0" fill="#5454ff"/><rect x="489.1" y="0.0" fill="#5454ff"/><rect x="510.4" y="0.0" fill="#3838ff"/><rect x="531.7" y="0.0" fill="#3838ff"/><rect x="552.9" y="0.0" fill="#5454ff"/><rect x="574.2" y="0.0" fill="#7070ff"/><rect x="595.5" y="0.0" fill="#7070ff"/><rect x="616.7" y="0.0" fill="#8e8eff"/><rect x="638.0" y="0.0" fill="#aaaaff"/><rect x="659.3" y="0.0" fill="#c6c6ff"/><rect x="680.5" y="0.0" fill="#c6c6ff"/><rect x="701.8" y="0.0" fill="#e2e2ff"/><rect x="723.1" y="0.0" fill="#fffefe"/><rect x="744.3" y="0.0" fill="#fffefe"/><rect x="765.6" y="0.0" fill="#fffefe"/><rect x="-21.3" y="21.3" fill="#5454ff"/><rect x="0.0" y="21.3" fill="#5454ff"/><rect x="21.3" y="21.3" fill="#5454ff"/><rect x="42.5" y="21.3" fill="#3838ff"/><rect x="63.8" y="21.3" fill="#3838ff"/><rect x="85.1" y="21.3" fill="#5454ff"/><rect x="106.3" y="21.3" fill="#5454ff"/><rect x="127.6" y="21.3" fill="#5454ff"/><rect x="148.9" y="21.3" fill="#5454ff"/><rect x="170.1" y="21.3" fill="#5454ff"/><rect x="191.4" y="21.3" fill="#5454ff"/><rect x="212.7" y="21.3" fill="#5454ff"/><rect x="233.9" y="21.3" fill="#5454ff"/><rect x="255.2" y="21.3" fill="#3838ff"/><rect x="276.5" y="21.3" fill="#3838ff"/><rect x="297.7" y="21.3" fill="#3838ff"/><rect x="319.0" y="21.3" fill="#1c1cff"/><rect x="340.3" y="21.3" fill="#1c1cff"/><rect x="361.5" y="21.3" fill="#1c1cff"/><rect x="382.8" y="21.3" fill="#1c1cff"/><rect x="404.1" y="21.3" fill="#1c1cff"/><rect x="425.3" y="21.3" fill="#1c1cff"/><rect x="446.6" y="21.3" fill="#1c1cff"/><rect x="467.9" y="21.3" fill="#0000ff"/><rect x="489.1" y="21.3" fill="#0000ff"/><rect x="510.4" y="21.3" fill="#0000ff"/><rect x="531.7" y="21.3" fill="#0000ff"/><rect x="552.9" y="21.3" fill="#1c1cff"/><rect x="574.2" y="21.3" fill="#1c1cff"/><rect x="595.5" y="21.3" fill="#3838ff"/><rect x="616.7" y="21.3" fill="#5454ff"/><rect x="638.0" y="21.3" fill="#7070ff"/><rect x="659.3" y="21.3" fill="#8e8eff"/><rect x="680.5" y="21.3" fill="#aaaaff"/><rect x="701.8" y="21.3" fill="#c6c6ff"/><rect x="723.1" y="21.3" fill="#e2e2ff"/><rect x="744.3" y="21.3" fill="#ffe2e2"/><rect x="765.6" y="21.3" fill="#ffe2e2"/><rect x="-21.3" y="42.6" fill="#7070ff"/><rect x="0.0" y="42.6" fill="#7070ff"/><rect x="21.3" y="42.6" fill="#7070ff"/><rect x="42.5" y="42.6" fill="#5454ff"/><rect x="63.8" y="42.6" fill="#5454ff"/><rect x="85.1" y="42.6" fill="#5454ff"/><rect x="106.3" y="42.6" fill="#3838ff"/><rect x="127.6" y="42.6" fill="#3838ff"/><rect x="148.9" y="42.6" fill="#1c1cff"/><rect x="170.1" y="42.6" fill="#0000ff"/><rect x="191.4" y="42.6" fill="#0000ff"/><rect x="212.7" y="42.6" fill="#0000ff"/><rect x="233.9" y="42.6" fill="#1c1cff"/><rect x="255.2" y="42.6" fill="#1c1cff"/><rect x="276.5" y="42.6" fill="#1c1cff"/><rect x="297.7" y="42.6" fill="#1c1cff"/><rect x="319.0" y="42.6" fill="#0000ff"/><rect x="340.3" y="42.6" fill="#0000ff"/><rect x="361.5" y="42.6" fill="#0000ff"/><rect x="382.8" y="42.6" fill="#0000ff"/><rect x="404.1" y="42.6" fill="#0000ff"/><rect x="425.3" y="42.6" fill="#0000ff"/><rect x="446.6" y="42.6" fill="#0000ff"/><rect x="467.9" y="42.6" fill="#0000ff"/><rect x="489.1" y="42.6" fill="#0000ff"/><rect x="510.4" y="42.6" fill="#0000ff"/><rect x="531.7" y="42.6" fill="#0000ff"/><rect x="552.9" y="42.6" fill="#0000ff"/><rect x="574.2" y="42.6" fill="#0000ff"/><rect x="595.5" y="42.6" fill="#1c1cff"/><rect x="616.7" y="42.6" fill="#3838ff"/><rect x="638.0" y="42.6" fill="#5454ff"/><rect x="659.3" y="42.6" fill="#7070ff"/><rect x="680.5" y="42.6" fill="#aaaaff"/><rect x="701.8" y="42.6" fill="#e2e2ff"/><rect x="723.1" y="42.6" fill="#ffe2e2"/><rect x="744.3" y="42.6" fill="#ffc6c6"/><rect x="765.6" y="42.6" fill="#ffc6c6"/><rect x="-21.3" y="63.8" fill="#aaaaff"/><rect x="0.0" y="63.8" fill="#aaaaff"/><rect x="21.3" y="63.8" fill="#aaaaff"/><rect x="42.5" y="63.8" fill="#8e8eff"/><rect x="63.8" y="63.8" fill="#8e8eff"/><rect x="85.1" y="63.8" fill="#7070ff"/><rect x="106.3" y="63.8" fill="#7070ff"/><rect x="127.6" y="63.8" fill="#5454ff"/><rect x="148.9" y="63.8" fill="#3838ff"/><rect x="170.1" y="63.8" fill="#1c1cff"/><rect x="191.4" y="63.8" fill="#0000ff"/><rect x="212.7" y="63.8" fill="#0000ff"/><rect x="233.9" y="63.8" fill="#0000ff"/><rect x="255.2" y="63.8" fill="#1c1cff"/><rect x="276.5" y="63.8" fill="#1c1cff"/><rect x="297.7" y="63.8" fill="#3838ff"/><rect x="319.0" y="63.8" fill="#3838ff"/><rect x="340.3" y="63.8" fill="#5454ff"/><rect x="361.5" y="63.8" fill="#7070ff"/><rect x="382.8" y="63.8" fill="#3838ff"/><rect x="404.1" y="63.8" fill="#1c1cff"/><rect x="425.3" y="63.8" fill="#0000ff"/><rect x="446.6" y="63.8" fill="#0000ff"/><rect x="467.9" y="63.8" fill="#0000ff"/><rect x="489.1" y="63.8" fill="#0000ff"/><rect x="510.4" y="63.8" fill="#0000ff"/><rect x="531.7" y="63.8" fill="#0000ff"/><rect x="552.9" y="63.8" fill="#0000ff"/><rect x="574.2" y="63.8" fill="#0000ff"/><rect x="595.5" y="63.8" fill="#0000ff"/><rect x="616.7" y="63.8" fill="#1c1cff"/><rect x="638.0" y="63.8" fill="#3838ff"/><rect x="659.3" y="63.8" fill="#5454ff"/><rect x="680.5" y="63.8" fill="#7070ff"/><rect x="701.8" y="63.8" fill="#aaaaff"/><rect x="723.1" y="63.8" fill="#fffefe"/><rect x="744.3" y="63.8" fill="#ffe2e2"/><rect x="765.6" y="63.8" fill="#ffe2e2"/><rect x="-21.3" y="85.1" fill="#e2e2ff"/><rect x="0.0" y="85.1" fill="#e2e2ff"/><rect x="21.3" y="85.1" fill="#e2e2ff"/><rect x="42.5" y="85.1" fill="#c6c6ff"/><rect x="63.8" y="85.1" fill="#c6c6ff"/><rect x="85.1" y="85.1" fill="#aaaaff"/><rect x="106.3" y="85.1" fill="#aaaaff"/><rect x="127.6" y="85.1" fill="#7070ff"/><rect x="148.9" y="85.1" fill="#5454ff"/><rect x="170.1" y="85.1" fill="#1c1cff"/><rect x="191.4" y="85.1" fill="#0000ff"/><rect x="212.7" y="85.1" fill="#1c1cff"/><rect x="233.9" y="85.1" fill="#3838ff"/><rect x="255.2" y="85.1" fill="#7070ff"/><rect x="276.5" y="85.1" fill="#c6c6ff"/><rect x="297.7" y="85.1" fill="#fffefe"/><rect x="319.0" y="85.1" fill="#e2e2ff"/><rect x="340.3" y="85.1" fill="#e2e2ff"/><rect x="361.5" y="85.1" fill="#c6c6ff"/><rect x="382.8" y="85.1" fill="#aaaaff"/><rect x="404.1" y="85.1" fill="#7070ff"/><rect x="425.3" y="85.1" fill="#3838ff"/><rect x="446.6" y="85.1" fill="#1c1cff"/><rect x="467.9" y="85.1" fill="#0000ff"/><rect x="489.1" y="85.1" fill="#0000ff"/><rect x="510.4" y="85.1" fill="#0000ff"/><rect x="531.7" y="85.1" fill="#0000ff"/><rect x="552.9" y="85.1" fill="#0000ff"/><rect x="574.2" y="85.1" fill="#0000ff"/><rect x="595.5" y="85.1" fill="#0000ff"/><rect x="616.7" y="85.1" fill="#0000ff"/><rect x="638.0" y="85.1" fill="#0000ff"/><rect x="659.3" y="85.1" fill="#1c1cff"/><rect x="680.5" y="85.1" fill="#3838ff"/><rect x="701.8" y="85.1" fill="#5454ff"/><rect x="723.1" y="85.1" fill="#8e8eff"/><rect x="744.3" y="85.1" fill="#c6c6ff"/><rect x="765.6" y="85.1" fill="#c6c6ff"/><rect x="-21.3" y="106.4" fill="#ffe2e2"/><rect x="0.0" y="106.4" fill="#ffe2e2"/><rect x="21.3" y="106.4" fill="#ffe2e2"/><rect x="42.5" y="106.4" fill="#fffefe"/><rect x="63.8" y="106.4" fill="#e2e2ff"/><rect x="85.1" y="106.4" fill="#e2e2ff"/><rect x="106.3" y="106.4" fill="#c6c6ff"/><rect x="127.6" y="106.4" fill="#aaaaff"/><rect x="148.9" y="106.4" fill="#8e8eff"/><rect x="170.1" y="106.4" fill="#5454ff"/><rect x="191.4" y="106.4" fill="#3838ff"/><rect x="212.7" y="106.4" fill="#5454ff"/><rect x="233.9" y="106.4" fill="#aaaaff"/><rect x="255.2" y="106.4" fill="#fffefe"/><rect x="276.5" y="106.4" fill="#ffc6c6"/><rect x="297.7" y="106.4" fill="#ffaaaa"/><rect x="319.0" y="106.4" fill="#ffaaaa"/><rect x="340.3" y="106.4" fill="#ffc6c6"/><rect x="361.5" y="106.4" fill="#ffe2e2"/><rect x="382.8" y="106.4" fill="#e2e2ff"/><rect x="404.1" y="106.4" fill="#8e8eff"/><rect x="425.3" y="106.4" fill="#5454ff"/><rect x="446.6" y="106.4" fill="#1c1cff"/><rect x="467.9" y="106.4" fill="#0000ff"/><rect x="489.1" y="106.4" fill="#0000ff"/><rect x="510.4" y="106.4" fill="#0000ff"/><rect x="531.7" y="106.4" fill="#0000ff"/><rect x="552.9" y="106.4" fill="#0000ff"/><rect x="574.2" y="106.4" fill="#0000ff"/><rect x="595.5" y="106.4" fill="#0000ff"/><rect x="616.7" y="106.4" fill="#0000ff"/><rect x="638.0" y="106.4" fill="#1c1cff"/><rect x="659.3" y="106.4" fill="#1c1cff"/><rect x="680.5" y="106.4" fill="#3838ff"/><rect x="701.8" y="106.4" fill="#5454ff"/><rect x="723.1" y="106.4" fill="#7070ff"/><rect x="744.3" y="106.4" fill="#8e8eff"/><rect x="765.6" y="106.4" fill="#8e8eff"/><rect x="-21.3" y="127.7" fill="#ffc6c6"/><rect x="0.0" y="127.7" fill="#ffc6c6"/><rect x="21.3" y="127.7" fill="#ffc6c6"/><rect x="42.5" y="127.7" fill="#ffe2e2"/><rect x="63.8" y="127.7" fill="#ffc6c6"/><rect x="85.1" y="127.7" fill="#ffe2e2"/><rect x="106.3" y="127.7" fill="#e2e2ff"/><rect x="127.6" y="127.7" fill="#e2e2ff"/><rect x="148.9" y="127.7" fill="#c6c6ff"/><rect x="170.1" y="127.7" fill="#aaaaff"/><rect x="191.4" y="127.7" fill="#aaaaff"/><rect x="212.7" y="127.7" fill="#c6c6ff"/><rect x="233.9" y="127.7" fill="#ffe2e2"/><rect x="255.2" y="127.7" fill="#ffc6c6"/><rect x="276.5" y="127.7" fill="#ffaaaa"/><rect x="297.7" y="127.7" fill="#ffaaaa"/><rect x="319.0" y="127.7" fill="#ffaaaa"/><rect x="340.3" y="127.7" fill="#ffaaaa"/><rect x="361.5" y="127.7" fill="#ffaaaa"/><rect x="382.8" y="127.7" fill="#ffc6c6"/><rect x="404.1" y="127.7" fill="#fffefe"/><rect x="425.3" y="127.7" fill="#c6c6ff"/><rect x="446.6" y="127.7" fill="#8e8eff"/><rect x="467.9" y="127.7" fill="#5454ff"/><rect x="489.1" y="127.7" fill="#3838ff"/><rect x="510.4" y="127.7" fill="#1c1cff"/><rect x="531.7" y="127.7" fill="#0000ff"/><rect x="552.9" y="127.7" fill="#0000ff"/><rect x="574.2" y="127.7" fill="#0000ff"/><rect x="595.5" y="127.7" fill="#1c1cff"/><rect x="616.7" y="127.7" fill="#5454ff"/><rect x="638.0" y="127.7" fill="#7070ff"/><rect x="659.3" y="127.7" fill="#7070ff"/><rect x="680.5" y="127.7" fill="#7070ff"/><rect x="701.8" y="127.7" fill="#7070ff"/><rect x="723.1" y="127.7" fill="#5454ff"/><rect x="744.3" y="127.7" fill="#5454ff"/><rect x="765.6" y="127.7" fill="#5454ff"/><rect x="-21.3" y="149.0" fill="#ffaaaa"/><rect x="0.0" y="149.0" fill="#ffaaaa"/><rect x="21.3" y="149.0" fill="#ffc6c6"/><rect x="42.5" y="149.0" fill="#ffe2e2"/><rect x="63.8" y="149.0" fill="#ffc6c6"/><rect x="85.1" y="149.0" fill="#ffc6c6"/><rect x="106.3" y="149.0" fill="#ffaaaa"/><rect x="127.6" y="149.0" fill="#ffaaaa"/><rect x="148.9" y="149.0" fill="#ff8e8e"/><rect x="170.1" y="149.0" fill="#ffaaaa"/><rect x="191.4" y="149.0" fill="#ffc6c6"/><rect x="212.7" y="149.0" fill="#ffaaaa"/><rect x="233.9" y="149.0" fill="#ff8e8e"/><rect x="255.2" y="149.0" fill="#ff8e8e"/><rect x="276.5" y="149.0" fill="#ff8e8e"/><rect x="297.7" y="149.0" fill="#ff8e8e"/><rect x="319.0" y="149.0" fill="#ff7070"/><rect x="340.3" y="149.0" fill="#ff7070"/><rect x="361.5" y="149.0" fill="#ff7070"/><rect x="382.8" y="149.0" fill="#ff5454"/><rect x="404.1" y="149.0" fill="#ff7070"/><rect x="425.3" y="149.0" fill="#ff8e8e"/><rect x="446.6" y="149.0" fill="#ffaaaa"/><rect x="467.9" y="149.0" fill="#ffe2e2"/><rect x="489.1" y="149.0" fill="#fffefe"/><rect x="510.4" y="149.0" fill="#c6c6ff"/><rect x="531.7" y="149.0" fill="#8e8eff"/><rect x="552.9" y="149.0" fill="#7070ff"/><rect x="574.2" y="149.0" fill="#5454ff"/><rect x="595.5" y="149.0" fill="#5454ff"/><rect x="616.7" y="149.0" fill="#7070ff"/><rect x="638.0" y="149.0" fill="#8e8eff"/><rect x="659.3" y="149.0" fill="#8e8eff"/><rect x="680.5" y="149.0" fill="#8e8eff"/><rect x="701.8" y="149.0" fill="#7070ff"/><rect x="723.1" y="149.0" fill="#7070ff"/><rect x="744.3" y="149.0" fill="#5454ff"/><rect x="765.6" y="149.0" fill="#5454ff"/><rect x="-21.3" y="170.2" fill="#ff8e8e"/><rect x="0.0" y="170.2" fill="#ff8e8e"/><rect x="21.3" y="170.2" fill="#ffaaaa"/><rect x="42.5" y="170.2" fill="#ffc6c6"/><rect x="63.8" y="170.2" fill="#ffc6c6"/><rect x="85.1" y="170.2" fill="#ffaaaa"/><rect x="106.3" y="170.2" fill="#ffaaaa"/><rect x="127.6" y="170.2" fill="#ff8e8e"/><rect x="148.9" y="170.2" fill="#ff8e8e"/><rect x="170.1" y="170.2" fill="#ff8e8e"/><rect x="191.4" y="170.2" fill="#ff7070"/><rect x="212.7" y="170.2" fill="#ff7070"/><rect x="233.9" y="170.2" fill="#ff5454"/><rect x="255.2" y="170.2" fill="#ff5454"/><rect x="276.5" y="170.2" fill="#ff5454"/><rect x="297.7" y="170.2" fill="#ff3838"/><rect x="319.0" y="170.2" fill="#ff3838"/><rect x="340.3" y="170.2" fill="#ff3838"/><rect x="361.5" y="170.2" fill="#ff5454"/><rect x="382.8" y="170.2" fill="#ff1c1c"/><rect x="404.1" y="170.2" fill="#ff1c1c"/><rect x="425.3" y="170.2" fill="#ff3838"/><rect x="446.6" y="170.2" fill="#ff5454"/><rect x="467.9" y="170.2" fill="#ff7070"/><rect x="489.1" y="170.2" fill="#ffaaaa"/><rect x="510.4" y="170.2" fill="#ffe2e2"/><rect x="531.7" y="170.2" fill="#fffefe"/><rect x="552.9" y="170.2" fill="#c6c6ff"/><rect x="574.2" y="170.2" fill="#aaaaff"/><rect x="595.5" y="170.2" fill="#aaaaff"/><rect x="616.7" y="170.2" fill="#aaaaff"/><rect x="638.0" y="170.2" fill="#c6c6ff"/><rect x="659.3" y="170.2" fill="#aaaaff"/><rect x="680.5" y="170.2" fill="#8e8eff"/><rect x="701.8" y="170.2" fill="#8e8eff"/><rect x="723.1" y="170.2" fill="#7070ff"/><rect x="744.3" y="170.2" fill="#5454ff"/><rect x="765.6" y="170.2" fill="#5454ff"/><rect x="-21.3" y="191.5" fill="#ff7070"/><rect x="0.0" y="191.5" fill="#ff7070"/><rect x="21.3" y="191.5" fill="#ff3838"/><rect x="42.5" y="191.5" fill="#ff3838"/><rect x="63.8" y="191.5" fill="#ff8e8e"/><rect x="85.1" y="191.5" fill="#ff8e8e"/><rect x="106.3" y="191.5" fill="#ff8e8e"/><rect x="127.6" y="191.5" fill="#ff8e8e"/><rect x="148.9" y="191.5" fill="#ff8e8e"/><rect x="170.1" y="191.5" fill="#ff7070"/><rect x="191.4" y="191.5" fill="#ff5454"/><rect x="212.7" y="191.5" fill="#ff3838"/><rect x="233.9" y="191.5" fill="#ff1c1c"/><rect x="255.2" y="191.5" fill="#ff1c1c"/><rect x="276.5" y="191.5" fill="#ff0000"/><rect x="297.7" y="191.5" fill="#ff0000"/><rect x="319.0" y="191.5" fill="#ff1c1c"/><rect x="340.3" y="191.5" fill="#ff1c1c"/><rect x="361.5" y="191.5" fill="#ff3838"/><rect x="382.8" y="191.5" fill="#ff0000"/><rect x="404.1" y="191.5" fill="#ff0000"/><rect x="425.3" y="191.5" fill="#ff0000"/><rect x="446.6" y="191.5" fill="#ff0000"/><rect x="467.9" y="191.5" fill="#ff0000"/><rect x="489.1" y="191.5" fill="#ff1c1c"/><rect x="510.4" y="191.5" fill="#ff3838"/><rect x="531.7" y="191.5" fill="#ff7070"/><rect x="552.9" y="191.5" fill="#ffaaaa"/><rect x="574.2" y="191.5" fill="#ffe2e2"/><rect x="595.5" y="191.5" fill="#fffefe"/><rect x="616.7" y="191.5" fill="#e2e2ff"/><rect x="638.0" y="191.5" fill="#c6c6ff"/><rect x="659.3" y="191.5" fill="#aaaaff"/><rect x="680.5" y="191.5" fill="#aaaaff"/><rect x="701.8" y="191.5" fill="#aaaaff"/><rect x="723.1" y="191.5" fill="#8e8eff"/><rect x="744.3" y="191.5" fill="#8e8eff"/><rect x="765.6" y="191.5" fill="#8e8eff"/><rect x="-21.3" y="212.8" fill="#ff8e8e"/><rect x="0.0" y="212.8" fill="#ff8e8e"/><rect x="21.3" y="212.8" fill="#ff8e8e"/><rect x="42.5" y="212.8" fill="#ff8e8e"/><rect x="63.8" y="212.8" fill="#ff8e8e"/><rect x="85.1" y="212.8" fill="#ff8e8e"/><rect x="106.3" y="212.8" fill="#ff8e8e"/><rect x="127.6" y="212.8" fill="#ff8e8e"/><rect x="148.9" y="212.8" fill="#ff8e8e"/><rect x="170.1" y="212.8" fill="#ff5454"/><rect x="191.4" y="212.8" fill="#ff1c1c"/><rect x="212.7" y="212.8" fill="#ff0000"/><rect x="233.9" y="212.8" fill="#ff0000"/><rect x="255.2" y="212.8" fill="#ff0000"/><rect x="276.5" y="212.8" fill="#ff0000"/><rect x="297.7" y="212.8" fill="#ff0000"/><rect x="319.0" y="212.8" fill="#ff0000"/><rect x="340.3" y="212.8" fill="#ff1c1c"/><rect x="361.5" y="212.8" fill="#ff1c1c"/><rect x="382.8" y="212.8" fill="#ff0000"/><rect x="404.1" y="212.8" fill="#ff0000"/><rect x="425.3" y="212.8" fill="#ff0000"/><rect x="446.6" y="212.8" fill="#ff0000"/><rect x="467.9" y="212.8" fill="#ff0000"/><rect x="489.1" y="212.8" fill="#ff0000"/><rect x="510.4" y="212.8" fill="#ff1c1c"/><rect x="531.7" y="212.8" fill="#ff3838"/><rect x="552.9" y="212.8" fill="#ff7070"/><rect x="574.2" y="212.8" fill="#ff8e8e"/><rect x="595.5" y="212.8" fill="#ffc6c6"/><rect x="616.7" y="212.8" fill="#ffe2e2"/><rect x="638.0" y="212.8" fill="#fffefe"/><rect x="659.3" y="212.8" fill="#e2e2ff"/><rect x="680.5" y="212.8" fill="#c6c6ff"/><rect x="701.8" y="212.8" fill="#aaaaff"/><rect x="723.1" y="212.8" fill="#aaaaff"/><rect x="744.3" y="212.8" fill="#8e8eff"/><rect x="765.6" y="212.8" fill="#8e8eff"/><rect x="-21.3" y="234.1" fill="#ffaaaa"/><rect x="0.0" y="234.1" fill="#ffaaaa"/><rect x="21.3" y="234.1" fill="#ffaaaa"/><rect x="42.5" y="234.1" fill="#ffaaaa"/><rect x="63.8" y="234.1" fill="#ff8e8e"/><rect x="85.1" y="234.1" fill="#ff8e8e"/><rect x="106.3" y="234.1" fill="#ff8e8e"/><rect x="127.6" y="234.1" fill="#ff8e8e"/><rect x="148.9" y="234.1" fill="#ff7070"/><rect x="170.1" y="234.1" fill="#ff3838"/><rect x="191.4" y="234.1" fill="#ff1c1c"/><rect x="212.7" y="234.1" fill="#ff0000"/><rect x="233.9" y="234.1" fill="#ff0000"/><rect x="255.2" y="234.1" fill="#ff0000"/><rect x="276.5" y="234.1" fill="#ff0000"/><rect x="297.7" y="234.1" fill="#ff0000"/><rect x="319.0" y="234.1" fill="#ff0000"/><rect x="340.3" y="234.1" fill="#ff0000"/><rect x="361.5" y="234.1" fill="#ff1c1c"/><rect x="382.8" y="234.1" fill="#ff0000"/><rect x="404.1" y="234.1" fill="#ff0000"/><rect x="425.3" y="234.1" fill="#ff0000"/><rect x="446.6" y="234.1" fill="#ff0000"/><rect x="467.9" y="234.1" fill="#ff0000"/><rect x="489.1" y="234.1" fill="#ff0000"/><rect x="510.4" y="234.1" fill="#ff1c1c"/><rect x="531.7" y="234.1" fill="#ff3838"/><rect x="552.9" y="234.1" fill="#ff5454"/><rect x="574.2" y="234.1" fill="#ff8e8e"/><rect x="595.5" y="234.1" fill="#ffaaaa"/><rect x="616.7" y="234.1" fill="#ffc6c6"/><rect x="638.0" y="234.1" fill="#fffefe"/><rect x="659.3" y="234.1" fill="#e2e2ff"/><rect x="680.5" y="234.1" fill="#c6c6ff"/><rect x="701.8" y="234.1" fill="#c6c6ff"/><rect x="723.1" y="234.1" fill="#aaaaff"/><rect x="744.3" y="234.1" fill="#aaaaff"/><rect x="765.6" y="234.1" fill="#aaaaff"/><rect x="-21.3" y="255.4" fill="#ffaaaa"/><rect x="0.0" y="255.4" fill="#ffaaaa"/><rect x="21.3" y="255.4" fill="#ffaaaa"/><rect x="42.5" y="255.4" fill="#ffaaaa"/><rect x="63.8" y="255.4" fill="#ffaaaa"/><rect x="85.1" y="255.4" fill="#ffaaaa"/><rect x="106.3" y="255.4" fill="#ffaaaa"/><rect x="127.6" y="255.4" fill="#ffaaaa"/><rect x="148.9" y="255.4" fill="#ff8e8e"/><rect x="170.1" y="255.4" fill="#ff7070"/><rect x="191.4" y="255.4" fill="#ff3838"/><rect x="212.7" y="255.4" fill="#ff1c1c"/><rect x="233.9" y="255.4" fill="#ff1c1c"/><rect x="255.2" y="255.4" fill="#ff0000"/><rect x="276.5" y="255.4" fill="#ff0000"/><rect x="297.7" y="255.4" fill="#ff0000"/><rect x="319.0" y="255.4" fill="#ff1c1c"/><rect x="340.3" y="255.4" fill="#ff3838"/><rect x="361.5" y="255.4" fill="#ff3838"/><rect x="382.8" y="255.4" fill="#ff0000"/><rect x="404.1" y="255.4" fill="#ff0000"/><rect x="425.3" y="255.4" fill="#ff0000"/><rect x="446.6" y="255.4" fill="#ff0000"/><rect x="467.9" y="255.4" fill="#ff1c1c"/><rect x="489.1" y="255.4" fill="#ff3838"/><rect x="510.4" y="255.4" fill="#ff5454"/><rect x="531.7" y="255.4" fill="#ff7070"/><rect x="552.9" y="255.4" fill="#ff8e8e"/><rect x="574.2" y="255.4" fill="#ffaaaa"/><rect x="595.5" y="255.4" fill="#ffc6c6"/><rect x="616.7" y="255.4" fill="#ffe2e2"/><rect x="638.0" y="255.4" fill="#fffefe"/><rect x="659.3" y="255.4" fill="#e2e2ff"/><rect x="680.5" y="255.4" fill="#e2e2ff"/><rect x="701.8" y="255.4" fill="#c6c6ff"/><rect x="723.1" y="255.4" fill="#c6c6ff"/><rect x="744.3" y="255.4" fill="#c6c6ff"/><rect x="765.6" y="255.4" fill="#c6c6ff"/><rect x="-21.3" y="276.7" fill="#ffc6c6"/><rect x="0.0" y="276.7" fill="#ffc6c6"/><rect x="21.3" y="276.7" fill="#ffc6c6"/><rect x="42.5" y="276.7" fill="#ffc6c6"/><rect x="63.8" y="276.7" fill="#ffc6c6"/><rect x="85.1" y="276.7" fill="#ffaaaa"/><rect x="106.3" y="276.7" fill="#ffaaaa"/><rect x="127.6" y="276.7" fill="#ffaaaa"/><rect x="148.9" y="276.7" fill="#ffaaaa"/><rect x="170.1" y="276.7" fill="#ff8e8e"/><rect x="191.4" y="276.7" fill="#ff7070"/><rect x="212.7" y="276.7" fill="#ff7070"/><rect x="233.9" y="276.7" fill="#ff5454"/><rect x="255.2" y="276.7" fill="#ff5454"/><rect x="276.5" y="276.7" fill="#ff5454"/><rect x="297.7" y="276.7" fill="#ff7070"/><rect x="319.0" y="276.7" fill="#ff7070"/><rect x="340.3" y="276.7" fill="#ff8e8e"/><rect x="361.5" y="276.7" fill="#ff8e8e"/><rect x="382.8" y="276.7" fill="#ff5454"/><rect x="404.1" y="276.7" fill="#ff5454"/><rect x="425.3" y="276.7" fill="#ff5454"/><rect x="446.6" y="276.7" fill="#ff7070"/><rect x="467.9" y="276.7" fill="#ff7070"/><rect x="489.1" y="276.7" fill="#ff8e8e"/><rect x="510.4" y="276.7" fill="#ff8e8e"/><rect x="531.7" y="276.7" fill="#ffaaaa"/><rect x="552.9" y="276.7" fill="#ffaaaa"/><rect x="574.2" y="276.7" fill="#ffc6c6"/><rect x="595.5" y="276.7" fill="#ffe2e2"/><rect x="616.7" y="276.7" fill="#ffe2e2"/><rect x="638.0" y="276.7" fill="#fffefe"/><rect x="659.3" y="276.7" fill="#fffefe"/><rect x="680.5" y="276.7" fill="#e2e2ff"/><rect x="701.8" y="276.7" fill="#e2e2ff"/><rect x="723.1" y="276.7" fill="#e2e2ff"/><rect x="744.3" y="276.7" fill="#e2e2ff"/><rect x="765.6" y="276.7" fill="#e2e2ff"/><rect x="-21.3" y="297.9" fill="#ffc6c6"/><rect x="0.0" y="297.9" fill="#ffc6c6"/><rect x="21.3" y="297.9" fill="#ffc6c6"/><rect x="42.5" y="297.9" fill="#ffc6c6"/><rect x="63.8" y="297.9" fill="#ffc6c6"/><rect x="85.1" y="297.9" fill="#ffc6c6"/><rect x="106.3" y="297.9" fill="#ffc6c6"/><rect x="127.6" y="297.9" fill="#ffc6c6"/><rect x="148.9" y="297.9" fill="#ffc6c6"/><rect x="170.1" y="297.9" fill="#ffaaaa"/><rect x="191.4" y="297.9" fill="#ffaaaa"/><rect x="212.7" y="297.9" fill="#ffaaaa"/><rect x="233.9" y="297.9" fill="#ffaaaa"/><rect x="255.2" y="297.9" fill="#ffaaaa"/><rect x="276.5" y="297.9" fill="#ffaaaa"/><rect x="297.7" y="297.9" fill="#ffaaaa"/><rect x="319.0" y="297.9" fill="#ffaaaa"/><rect x="340.3" y="297.9" fill="#ffaaaa"/><rect x="361.5" y="297.9" fill="#ffaaaa"/><rect x="382.8" y="297.9" fill="#ffaaaa"/><rect x="404.1" y="297.9" fill="#ffaaaa"/><rect x="425.3" y="297.9" fill="#ffaaaa"/><rect x="446.6" y="297.9" fill="#ffaaaa"/><rect x="467.9" y="297.9" fill="#ffaaaa"/><rect x="489.1" y="297.9" fill="#ffc6c6"/><rect x="510.4" y="297.9" fill="#ffc6c6"/><rect x="531.7" y="297.9" fill="#ffc6c6"/><rect x="552.9" y="297.9" fill="#ffe2e2"/><rect x="574.2" y="297.9" fill="#ffe2e2"/><rect x="595.5" y="297.9" fill="#ffe2e2"/><rect x="616.7" y="297.9" fill="#fffefe"/><rect x="638.0" y="297.9" fill="#fffefe"/><rect x="659.3" y="297.9" fill="#fffefe"/><rect x="680.5" y="297.9" fill="#e2e2ff"/><rect x="701.8" y="297.9" fill="#e2e2ff"/><rect x="723.1" y="297.9" fill="#e2e2ff"/><rect x="744.3" y="297.9" fill="#e2e2ff"/><rect x="765.6" y="297.9" fill="#e2e2ff"/><rect x="-21.3" y="319.2" fill="#ffe2e2"/><rect x="0.0" y="319.2" fill="#ffe2e2"/><rect x="21.3" y="319.2" fill="#ffe2e2"/><rect x="42.5" y="319.2" fill="#ffe2e2"/><rect x="63.8" y="319.2" fill="#ffe2e2"/><rect x="85.1" y="319.2" fill="#ffc6c6"/><rect x="106.3" y="319.2" fill="#ffc6c6"/><rect x="127.6" y="319.2" fill="#ffc6c6"/><rect x="148.9" y="319.2" fill="#ffc6c6"/><rect x="170.1" y="319.2" fill="#ffc6c6"/><rect x="191.4" y="319.2" fill="#ffc6c6"/><rect x="212.7" y="319.2" fill="#ffc6c6"/><rect x="233.9" y="319.2" fill="#ffc6c6"/><rect x="255.2" y="319.2" fill="#ffc6c6"/><rect x="276.5" y="319.2" fill="#ffc6c6"/><rect x="297.7" y="319.2" fill="#ffc6c6"/><rect x="319.0" y="319.2" fill="#ffe2e2"/><rect x="340.3" y="319.2" fill="#ffe2e2"/><rect x="361.5" y="319.2" fill="#ffe2e2"/><rect x="382.8" y="319.2" fill="#ffc6c6"/><rect x="404.1" y="319.2" fill="#ffc6c6"/><rect x="425.3" y="319.2" fill="#ffc6c6"/><rect x="446.6" y="319.2" fill="#ffc6c6"/><rect x="467.9" y="319.2" fill="#ffe2e2"/><rect x="489.1" y="319.2" fill="#ffe2e2"/><rect x="510.4" y="319.2" fill="#ffe2e2"/><rect x="531.7" y="319.2" fill="#ffe2e2"/><rect x="552.9" y="319.2" fill="#ffe2e2"/><rect x="574.2" y="319.2" fill="#ffe2e2"/><rect x="595.5" y="319.2" fill="#fffefe"/><rect x="616.7" y="319.2" fill="#fffefe"/><rect x="638.0" y="319.2" fill="#fffefe"/><rect x="659.3" y="319.2" fill="#fffefe"/><rect x="680.5" y="319.2" fill="#fffefe"/><rect x="701.8" y="319.2" fill="#e2e2ff"/><rect x="723.1" y="319.2" fill="#e2e2ff"/><rect x="744.3" y="319.2" fill="#e2e2ff"/><rect x="765.6" y="319.2" fill="#e2e2ff"/><rect x="-21.3" y="340.5" fill="#ffe2e2"/><rect x="0.0" y="340.5" fill="#ffe2e2"/><rect x="21.3" y="340.5" fill="#ffe2e2"/><rect x="42.5" y="340.5" fill="#ffe2e2"/><rect x="63.8" y="340.5" fill="#ffe2e2"/><rect x="85.1" y="340.5" fill="#ffc6c6"/><rect x="106.3" y="340.5" fill="#ffc6c6"/><rect x="127.6" y="340.5" fill="#ffc6c6"/><rect x="148.9" y="340.5" fill="#ffc6c6"/><rect x="170.1" y="340.5" fill="#ffc6c6"/><rect x="191.4" y="340.5" fill="#ffc6c6"/><rect x="212.7" y="340.5" fill="#ffc6c6"/><rect x="233.9" y="340.5" fill="#ffc6c6"/><rect x="255.2" y="340.5" fill="#ffc6c6"/><rect x="276.5" y="340.5" fill="#ffc6c6"/><rect x="297.7" y="340.5" fill="#ffc6c6"/><rect x="319.0" y="340.5" fill="#ffe2e2"/><rect x="340.3" y="340.5" fill="#ffe2e2"/><rect x="361.5" y="340.5" fill="#ffe2e2"/><rect x="382.8" y="340.5" fill="#ffc6c6"/><rect x="404.1" y="340.5" fill="#ffc6c6"/><rect x="425.3" y="340.5" fill="#ffc6c6"/><rect x="446.6" y="340.5" fill="#ffc6c6"/><rect x="467.9" y="340.5" fill="#ffe2e2"/><rect x="489.1" y="340.5" fill="#ffe2e2"/><rect x="510.4" y="340.5" fill="#ffe2e2"/><rect x="531.7" y="340.5" fill="#ffe2e2"/><rect x="552.9" y="340.5" fill="#ffe2e2"/><rect x="574.2" y="340.5" fill="#ffe2e2"/><rect x="595.5" y="340.5" fill="#fffefe"/><rect x="616.7" y="340.5" fill="#fffefe"/><rect x="638.0" y="340.5" fill="#fffefe"/><rect x="659.3" y="340.5" fill="#fffefe"/><rect x="680.5" y="340.5" fill="#fffefe"/><rect x="701.8" y="340.5" fill="#e2e2ff"/><rect x="723.1" y="340.5" fill="#e2e2ff"/><rect x="744.3" y="340.5" fill="#e2e2ff"/><rect x="765.6" y="340.5" fill="#e2e2ff"/></g>
</g>
<g clip-path="url(#axclip)"><use href="#coast"/><circle cx="469.5" cy="246.5" r="3.2"/><path d="M476.6,248.3 482.6,251.9 486.4,257.9" fill="none" stroke="#000" stroke-width="5.5" stroke-linecap="round" stroke-linejoin="round"/></g>
<rect width="765.6" height="340.5" fill="none" stroke="#000" stroke-width="3"/>
</g>
<text x="973.2" y="1728.5" font-size="41" font-weight="bold">h</text>
<text x="952.4" y="1847.8" font-size="30" text-anchor="end">60°N</text>
<text x="952.4" y="1975.5" font-size="30" text-anchor="end">30°N</text>
<text x="1099.8" y="2137.2" font-size="30" text-anchor="middle">120°E</text>
<text x="1355.0" y="2137.2" font-size="30" text-anchor="middle">180°E</text>
<text x="1610.2" y="2137.2" font-size="30" text-anchor="middle">120°W</text>
<polygon points="971.2,2163.9 1006.4,2144.8 1006.4,2182.9" fill="#0000ff"/>
<polygon points="1738.8,2163.9 1705.0,2144.8 1705.0,2182.9" fill="#ff0000"/>
<rect x="1006.4" y="2144.8" width="698.6" height="38.1" fill="url(#gp)"/>
<polygon points="971.2,2163.9 1006.4,2144.8 1705.0,2144.8 1738.8,2163.9 1705.0,2182.9 1006.4,2182.9" fill="none" stroke="#000" stroke-width="3"/>
<line x1="1006.4" y1="2182.9" x2="1006.4" y2="2197.4" stroke="#000" stroke-width="3"/>
<text x="1006.4" y="2234.9" font-size="30" text-anchor="middle">−3</text>
<line x1="1122.8" y1="2182.9" x2="1122.8" y2="2197.4" stroke="#000" stroke-width="3"/>
<text x="1122.8" y="2234.9" font-size="30" text-anchor="middle">−2</text>
<line x1="1239.3" y1="2182.9" x2="1239.3" y2="2197.4" stroke="#000" stroke-width="3"/>
<text x="1239.3" y="2234.9" font-size="30" text-anchor="middle">−1</text>
<line x1="1355.7" y1="2182.9" x2="1355.7" y2="2197.4" stroke="#000" stroke-width="3"/>
<text x="1355.7" y="2234.9" font-size="30" text-anchor="middle">0</text>
<line x1="1472.1" y1="2182.9" x2="1472.1" y2="2197.4" stroke="#000" stroke-width="3"/>
<text x="1472.1" y="2234.9" font-size="30" text-anchor="middle">1</text>
<line x1="1588.6" y1="2182.9" x2="1588.6" y2="2197.4" stroke="#000" stroke-width="3"/>
<text x="1588.6" y="2234.9" font-size="30" text-anchor="middle">2</text>
<line x1="1705.0" y1="2182.9" x2="1705.0" y2="2197.4" stroke="#000" stroke-width="3"/>
<text x="1705.0" y="2234.9" font-size="30" text-anchor="middle">3</text>
<text x="1355.0" y="2279.5" font-size="30" text-anchor="middle">Sea-level pressure (hPa)</text>
<polygon points="626.0,573.2 658.9,573.2 656.9,577.2 676.9,571.2 656.9,565.2 658.9,569.2 626.0,569.2"/>
<text x="707" y="579" font-size="30">2 ms<tspan font-size="21" dy="-13">−1</tspan></text>
</svg></body></html>
